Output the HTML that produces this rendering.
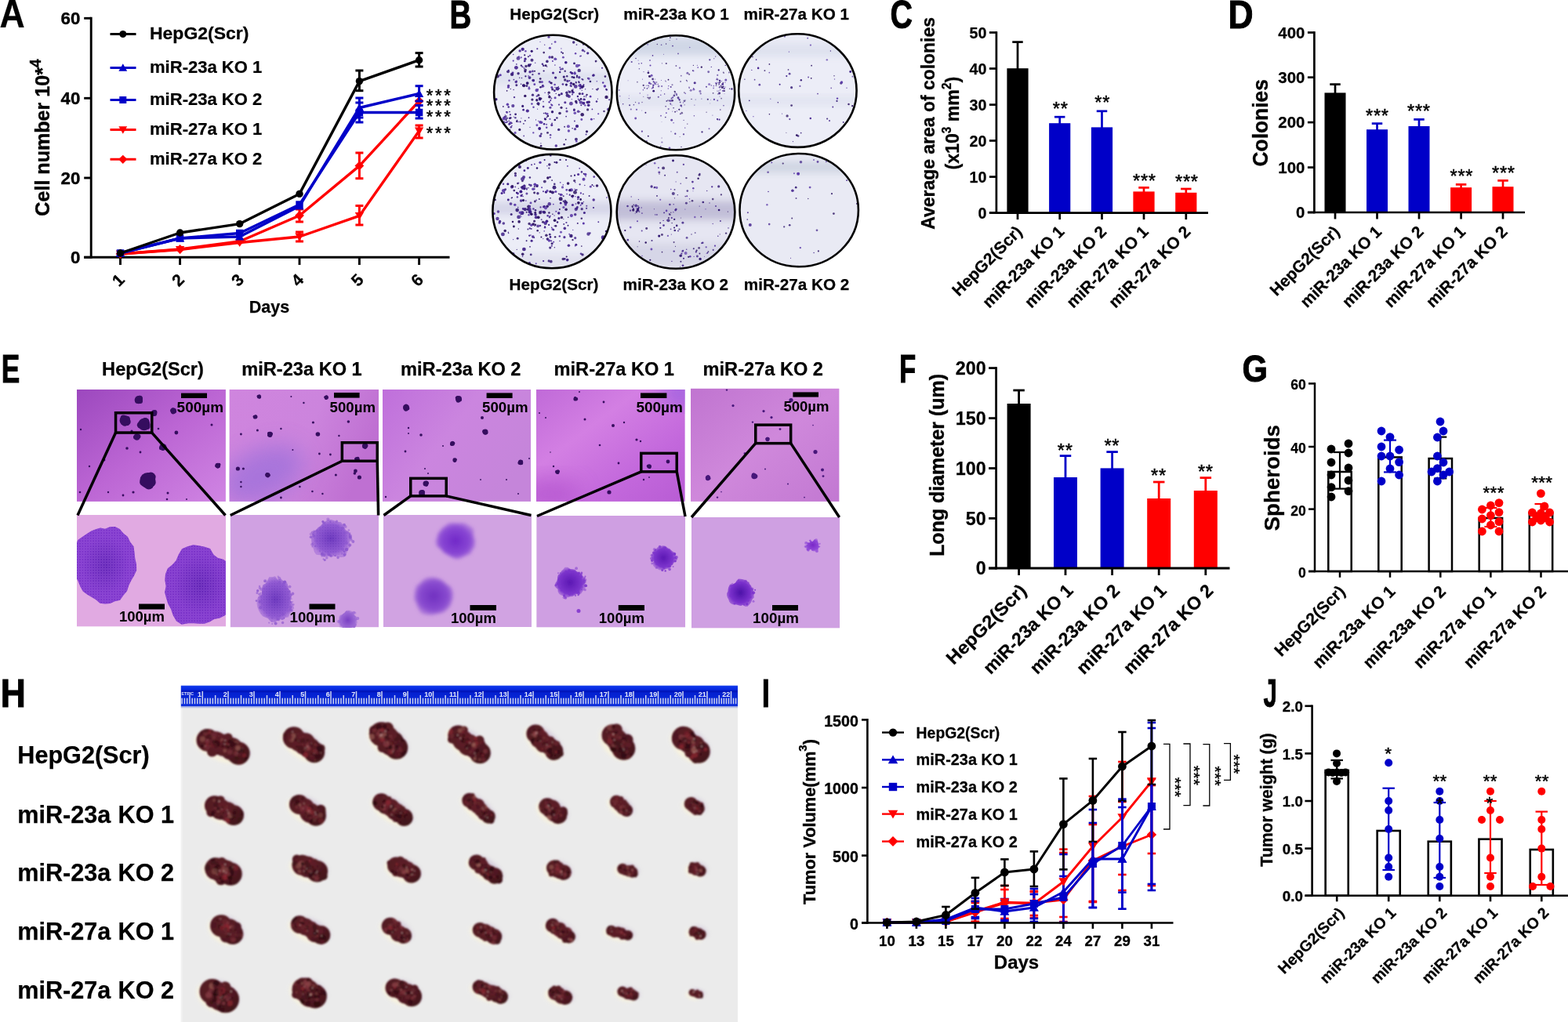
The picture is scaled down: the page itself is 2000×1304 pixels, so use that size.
<!DOCTYPE html>
<html lang="en"><head><meta charset="utf-8"><title>Figure</title>
<style>html,body{margin:0;padding:0;background:#fff}body{width:2000px;height:1304px;overflow:hidden}svg{display:block}text{font-family:"Liberation Sans",sans-serif}</style></head><body>
<svg width="2000" height="1304" viewBox="0 0 2000 1304">
<rect width="2000" height="1304" fill="#fff"/>
<g id="panelA">
<text x="-0.50" y="35.20" font-size="49.50" font-weight="bold" text-anchor="start" fill="#000" transform="translate(-0.50 0) scale(0.9000 1) translate(0.50 0)" stroke="#000" stroke-width="0.25">A</text>
<line x1="116.20" y1="21.85" x2="116.20" y2="329.75" stroke="#000" stroke-width="2.9" stroke-linecap="butt"/>
<line x1="107.20" y1="328.30" x2="573.50" y2="328.30" stroke="#000" stroke-width="2.9" stroke-linecap="butt"/>
<line x1="107.20" y1="23.30" x2="116.20" y2="23.30" stroke="#000" stroke-width="2.9" stroke-linecap="butt"/>
<text x="102.30" y="31.30" font-size="22.30" font-weight="bold" text-anchor="end" fill="#000" stroke="#000" stroke-width="0.4">60</text>
<line x1="107.20" y1="125.30" x2="116.20" y2="125.30" stroke="#000" stroke-width="2.9" stroke-linecap="butt"/>
<text x="102.30" y="133.30" font-size="22.30" font-weight="bold" text-anchor="end" fill="#000" stroke="#000" stroke-width="0.4">40</text>
<line x1="107.20" y1="227.00" x2="116.20" y2="227.00" stroke="#000" stroke-width="2.9" stroke-linecap="butt"/>
<text x="102.30" y="235.00" font-size="22.30" font-weight="bold" text-anchor="end" fill="#000" stroke="#000" stroke-width="0.4">20</text>
<line x1="107.20" y1="328.30" x2="116.20" y2="328.30" stroke="#000" stroke-width="2.9" stroke-linecap="butt"/>
<text x="102.30" y="336.30" font-size="22.30" font-weight="bold" text-anchor="end" fill="#000" stroke="#000" stroke-width="0.4">0</text>
<line x1="153.50" y1="328.30" x2="153.50" y2="338.00" stroke="#000" stroke-width="2.9" stroke-linecap="butt"/>
<text x="156.00" y="362.50" font-size="21.30" font-weight="bold" text-anchor="middle" fill="#000" transform="rotate(-45 156.00 362.50)" stroke="#000" stroke-width="0.25">1</text>
<line x1="229.60" y1="328.30" x2="229.60" y2="338.00" stroke="#000" stroke-width="2.9" stroke-linecap="butt"/>
<text x="232.10" y="362.50" font-size="21.30" font-weight="bold" text-anchor="middle" fill="#000" transform="rotate(-45 232.10 362.50)" stroke="#000" stroke-width="0.25">2</text>
<line x1="305.70" y1="328.30" x2="305.70" y2="338.00" stroke="#000" stroke-width="2.9" stroke-linecap="butt"/>
<text x="308.20" y="362.50" font-size="21.30" font-weight="bold" text-anchor="middle" fill="#000" transform="rotate(-45 308.20 362.50)" stroke="#000" stroke-width="0.25">3</text>
<line x1="382.00" y1="328.30" x2="382.00" y2="338.00" stroke="#000" stroke-width="2.9" stroke-linecap="butt"/>
<text x="384.50" y="362.50" font-size="21.30" font-weight="bold" text-anchor="middle" fill="#000" transform="rotate(-45 384.50 362.50)" stroke="#000" stroke-width="0.25">4</text>
<line x1="458.40" y1="328.30" x2="458.40" y2="338.00" stroke="#000" stroke-width="2.9" stroke-linecap="butt"/>
<text x="460.90" y="362.50" font-size="21.30" font-weight="bold" text-anchor="middle" fill="#000" transform="rotate(-45 460.90 362.50)" stroke="#000" stroke-width="0.25">5</text>
<line x1="534.60" y1="328.30" x2="534.60" y2="338.00" stroke="#000" stroke-width="2.9" stroke-linecap="butt"/>
<text x="537.10" y="362.50" font-size="21.30" font-weight="bold" text-anchor="middle" fill="#000" transform="rotate(-45 537.10 362.50)" stroke="#000" stroke-width="0.25">6</text>
<text x="343.50" y="399.00" font-size="21.50" font-weight="bold" text-anchor="middle" fill="#000" stroke="#000" stroke-width="0.25">Days</text>
<text transform="translate(63.00 175.50) rotate(-90) scale(0.9615 1)" font-size="26.10" font-weight="bold" text-anchor="middle" stroke="#000" stroke-width="0.4">Cell number 10*<tspan dy="-10.6" font-size="20.00">4</tspan></text>
<line x1="140.50" y1="43.50" x2="173.50" y2="43.50" stroke="#000" stroke-width="3" stroke-linecap="butt"/>
<circle cx="156.80" cy="43.50" r="4.50" fill="#000"/>
<text x="191.00" y="50.10" font-size="22.50" font-weight="bold" text-anchor="start" fill="#000" transform="translate(191.00 0) scale(1.0220 1) translate(-191.00 0)" stroke="#000" stroke-width="0.25">HepG2(Scr)</text>
<line x1="140.50" y1="86.50" x2="173.50" y2="86.50" stroke="#0000C8" stroke-width="3" stroke-linecap="butt"/>
<polygon points="156.80,81.33 162.20,90.78 151.40,90.78" fill="#0000C8"/>
<text x="191.00" y="93.10" font-size="22.50" font-weight="bold" text-anchor="start" fill="#000" transform="translate(191.00 0) scale(0.9800 1) translate(-191.00 0)" stroke="#000" stroke-width="0.25">miR-23a KO 1</text>
<line x1="140.50" y1="127.50" x2="173.50" y2="127.50" stroke="#0000C8" stroke-width="3" stroke-linecap="butt"/>
<rect x="152.30" y="123.00" width="9.00" height="9.00" fill="#0000C8"/>
<text x="191.00" y="134.10" font-size="22.50" font-weight="bold" text-anchor="start" fill="#000" transform="translate(191.00 0) scale(0.9800 1) translate(-191.00 0)" stroke="#000" stroke-width="0.25">miR-23a KO 2</text>
<line x1="140.50" y1="165.50" x2="173.50" y2="165.50" stroke="#FF0000" stroke-width="3" stroke-linecap="butt"/>
<polygon points="156.80,170.68 162.20,161.22 151.40,161.22" fill="#FF0000"/>
<text x="191.00" y="172.10" font-size="22.50" font-weight="bold" text-anchor="start" fill="#000" transform="translate(191.00 0) scale(0.9800 1) translate(-191.00 0)" stroke="#000" stroke-width="0.25">miR-27a KO 1</text>
<line x1="140.50" y1="203.30" x2="173.50" y2="203.30" stroke="#FF0000" stroke-width="3" stroke-linecap="butt"/>
<polygon points="156.80,197.68 162.43,203.30 156.80,208.93 151.18,203.30" fill="#FF0000"/>
<text x="191.00" y="209.90" font-size="22.50" font-weight="bold" text-anchor="start" fill="#000" transform="translate(191.00 0) scale(0.9800 1) translate(-191.00 0)" stroke="#000" stroke-width="0.25">miR-27a KO 2</text>
<line x1="382.00" y1="296.00" x2="382.00" y2="308.00" stroke="#FF0000" stroke-width="3" stroke-linecap="butt"/>
<line x1="377.00" y1="296.00" x2="387.00" y2="296.00" stroke="#FF0000" stroke-width="3" stroke-linecap="butt"/>
<line x1="377.00" y1="308.00" x2="387.00" y2="308.00" stroke="#FF0000" stroke-width="3" stroke-linecap="butt"/>
<line x1="458.40" y1="262.50" x2="458.40" y2="287.00" stroke="#FF0000" stroke-width="3" stroke-linecap="butt"/>
<line x1="453.40" y1="262.50" x2="463.40" y2="262.50" stroke="#FF0000" stroke-width="3" stroke-linecap="butt"/>
<line x1="453.40" y1="287.00" x2="463.40" y2="287.00" stroke="#FF0000" stroke-width="3" stroke-linecap="butt"/>
<line x1="534.60" y1="160.00" x2="534.60" y2="176.00" stroke="#FF0000" stroke-width="3" stroke-linecap="butt"/>
<line x1="529.60" y1="160.00" x2="539.60" y2="160.00" stroke="#FF0000" stroke-width="3" stroke-linecap="butt"/>
<line x1="529.60" y1="176.00" x2="539.60" y2="176.00" stroke="#FF0000" stroke-width="3" stroke-linecap="butt"/>
<polyline points="153.50,324.00 229.60,318.50 305.70,309.50 382.00,302.00 458.40,275.40 534.60,167.00" fill="none" stroke="#FF0000" stroke-width="3.4" stroke-linejoin="round"/>
<polygon points="153.50,329.40 159.14,319.54 147.86,319.54" fill="#FF0000"/>
<polygon points="229.60,323.90 235.24,314.04 223.96,314.04" fill="#FF0000"/>
<polygon points="305.70,314.90 311.34,305.04 300.06,305.04" fill="#FF0000"/>
<polygon points="382.00,307.40 387.64,297.54 376.36,297.54" fill="#FF0000"/>
<polygon points="458.40,280.80 464.04,270.94 452.76,270.94" fill="#FF0000"/>
<polygon points="534.60,172.41 540.24,162.53 528.96,162.53" fill="#FF0000"/>
<line x1="382.00" y1="267.00" x2="382.00" y2="283.00" stroke="#FF0000" stroke-width="3" stroke-linecap="butt"/>
<line x1="377.00" y1="267.00" x2="387.00" y2="267.00" stroke="#FF0000" stroke-width="3" stroke-linecap="butt"/>
<line x1="377.00" y1="283.00" x2="387.00" y2="283.00" stroke="#FF0000" stroke-width="3" stroke-linecap="butt"/>
<line x1="458.40" y1="195.00" x2="458.40" y2="227.70" stroke="#FF0000" stroke-width="3" stroke-linecap="butt"/>
<line x1="453.40" y1="195.00" x2="463.40" y2="195.00" stroke="#FF0000" stroke-width="3" stroke-linecap="butt"/>
<line x1="453.40" y1="227.70" x2="463.40" y2="227.70" stroke="#FF0000" stroke-width="3" stroke-linecap="butt"/>
<polyline points="153.50,324.00 229.60,318.00 305.70,308.00 382.00,275.00 458.40,211.60 534.60,129.00" fill="none" stroke="#FF0000" stroke-width="3.4" stroke-linejoin="round"/>
<polygon points="153.50,318.12 159.38,324.00 153.50,329.88 147.62,324.00" fill="#FF0000"/>
<polygon points="229.60,312.12 235.47,318.00 229.60,323.88 223.72,318.00" fill="#FF0000"/>
<polygon points="305.70,302.12 311.57,308.00 305.70,313.88 299.82,308.00" fill="#FF0000"/>
<polygon points="382.00,269.12 387.88,275.00 382.00,280.88 376.12,275.00" fill="#FF0000"/>
<polygon points="458.40,205.72 464.27,211.60 458.40,217.47 452.52,211.60" fill="#FF0000"/>
<polygon points="534.60,123.12 540.48,129.00 534.60,134.88 528.73,129.00" fill="#FF0000"/>
<line x1="458.40" y1="125.00" x2="458.40" y2="150.00" stroke="#0000C8" stroke-width="3" stroke-linecap="butt"/>
<line x1="453.40" y1="125.00" x2="463.40" y2="125.00" stroke="#0000C8" stroke-width="3" stroke-linecap="butt"/>
<line x1="453.40" y1="150.00" x2="463.40" y2="150.00" stroke="#0000C8" stroke-width="3" stroke-linecap="butt"/>
<line x1="534.60" y1="109.70" x2="534.60" y2="129.00" stroke="#0000C8" stroke-width="3" stroke-linecap="butt"/>
<line x1="529.60" y1="109.70" x2="539.60" y2="109.70" stroke="#0000C8" stroke-width="3" stroke-linecap="butt"/>
<line x1="529.60" y1="129.00" x2="539.60" y2="129.00" stroke="#0000C8" stroke-width="3" stroke-linecap="butt"/>
<polyline points="153.50,323.00 229.60,304.00 305.70,302.00 382.00,263.00 458.40,137.50 534.60,119.50" fill="none" stroke="#0000C8" stroke-width="3.4" stroke-linejoin="round"/>
<polygon points="153.50,317.60 159.14,327.46 147.86,327.46" fill="#0000C8"/>
<polygon points="229.60,298.60 235.24,308.46 223.96,308.46" fill="#0000C8"/>
<polygon points="305.70,296.60 311.34,306.46 300.06,306.46" fill="#0000C8"/>
<polygon points="382.00,257.60 387.64,267.46 376.36,267.46" fill="#0000C8"/>
<polygon points="458.40,132.09 464.04,141.97 452.76,141.97" fill="#0000C8"/>
<polygon points="534.60,114.09 540.24,123.97 528.96,123.97" fill="#0000C8"/>
<line x1="458.40" y1="131.00" x2="458.40" y2="156.00" stroke="#0000C8" stroke-width="3" stroke-linecap="butt"/>
<line x1="453.40" y1="131.00" x2="463.40" y2="131.00" stroke="#0000C8" stroke-width="3" stroke-linecap="butt"/>
<line x1="453.40" y1="156.00" x2="463.40" y2="156.00" stroke="#0000C8" stroke-width="3" stroke-linecap="butt"/>
<line x1="534.60" y1="134.50" x2="534.60" y2="151.00" stroke="#0000C8" stroke-width="3" stroke-linecap="butt"/>
<line x1="529.60" y1="134.50" x2="539.60" y2="134.50" stroke="#0000C8" stroke-width="3" stroke-linecap="butt"/>
<line x1="529.60" y1="151.00" x2="539.60" y2="151.00" stroke="#0000C8" stroke-width="3" stroke-linecap="butt"/>
<polyline points="153.50,323.00 229.60,304.00 305.70,297.50 382.00,261.00 458.40,143.50 534.60,143.50" fill="none" stroke="#0000C8" stroke-width="3.4" stroke-linejoin="round"/>
<rect x="148.80" y="318.30" width="9.40" height="9.40" fill="#0000C8"/>
<rect x="224.90" y="299.30" width="9.40" height="9.40" fill="#0000C8"/>
<rect x="301.00" y="292.80" width="9.40" height="9.40" fill="#0000C8"/>
<rect x="377.30" y="256.30" width="9.40" height="9.40" fill="#0000C8"/>
<rect x="453.70" y="138.80" width="9.40" height="9.40" fill="#0000C8"/>
<rect x="529.90" y="138.80" width="9.40" height="9.40" fill="#0000C8"/>
<line x1="458.40" y1="90.00" x2="458.40" y2="115.70" stroke="#000" stroke-width="3" stroke-linecap="butt"/>
<line x1="453.40" y1="90.00" x2="463.40" y2="90.00" stroke="#000" stroke-width="3" stroke-linecap="butt"/>
<line x1="453.40" y1="115.70" x2="463.40" y2="115.70" stroke="#000" stroke-width="3" stroke-linecap="butt"/>
<line x1="534.60" y1="67.60" x2="534.60" y2="85.00" stroke="#000" stroke-width="3" stroke-linecap="butt"/>
<line x1="529.60" y1="67.60" x2="539.60" y2="67.60" stroke="#000" stroke-width="3" stroke-linecap="butt"/>
<line x1="529.60" y1="85.00" x2="539.60" y2="85.00" stroke="#000" stroke-width="3" stroke-linecap="butt"/>
<polyline points="153.50,323.00 229.60,297.00 305.70,285.60 382.00,247.40 458.40,103.60 534.60,76.70" fill="none" stroke="#000" stroke-width="3.4" stroke-linejoin="round"/>
<circle cx="153.50" cy="323.00" r="4.70" fill="#000"/>
<circle cx="229.60" cy="297.00" r="4.70" fill="#000"/>
<circle cx="305.70" cy="285.60" r="4.70" fill="#000"/>
<circle cx="382.00" cy="247.40" r="4.70" fill="#000"/>
<circle cx="458.40" cy="103.60" r="4.70" fill="#000"/>
<circle cx="534.60" cy="76.70" r="4.70" fill="#000"/>
<text x="560.60" y="129.13" font-size="22.00" font-weight="normal" text-anchor="middle" fill="#000" stroke="#000" stroke-width="0.45" letter-spacing="2.6">***</text>
<text x="560.60" y="142.13" font-size="22.00" font-weight="normal" text-anchor="middle" fill="#000" stroke="#000" stroke-width="0.45" letter-spacing="2.6">***</text>
<text x="560.60" y="155.93" font-size="22.00" font-weight="normal" text-anchor="middle" fill="#000" stroke="#000" stroke-width="0.45" letter-spacing="2.6">***</text>
<text x="560.60" y="177.33" font-size="22.00" font-weight="normal" text-anchor="middle" fill="#000" stroke="#000" stroke-width="0.45" letter-spacing="2.6">***</text>
</g>
<g id="panelB">
<defs><filter id="blur6" x="-20%" y="-50%" width="140%" height="200%"><feGaussianBlur stdDeviation="5"/></filter></defs>
<text x="573.50" y="35.50" font-size="50.50" font-weight="bold" text-anchor="start" fill="#000" transform="translate(573.50 0) scale(0.7600 1) translate(-573.50 0)" stroke="#000" stroke-width="1">B</text>
<text x="707.20" y="25.00" font-size="20.70" font-weight="bold" text-anchor="middle" fill="#000" stroke="#000" stroke-width="0.25">HepG2(Scr)</text>
<text x="862.60" y="25.00" font-size="20.70" font-weight="bold" text-anchor="middle" fill="#000" stroke="#000" stroke-width="0.25">miR-23a KO 1</text>
<text x="1015.80" y="25.00" font-size="20.70" font-weight="bold" text-anchor="middle" fill="#000" stroke="#000" stroke-width="0.25">miR-27a KO 1</text>
<text x="706.50" y="370.20" font-size="20.70" font-weight="bold" text-anchor="middle" fill="#000" stroke="#000" stroke-width="0.25">HepG2(Scr)</text>
<text x="861.80" y="370.20" font-size="20.70" font-weight="bold" text-anchor="middle" fill="#000" stroke="#000" stroke-width="0.25">miR-23a KO 2</text>
<text x="1016.00" y="370.20" font-size="20.70" font-weight="bold" text-anchor="middle" fill="#000" stroke="#000" stroke-width="0.25">miR-27a KO 2</text>
<clipPath id="pc1"><ellipse cx="705.30" cy="117.70" rx="76.50" ry="74.20"/></clipPath>
<g clip-path="url(#pc1)">
<ellipse cx="705.30" cy="117.70" rx="76.50" ry="74.20" fill="#ECEDF7"/>
<rect x="618.80" y="92.70" width="173.00" height="14.00" fill="#DADDEC" opacity="0.8" filter="url(#blur6)"/>
<circle cx="670.4" cy="97.3" r="1.14" fill="#2E1470" opacity="0.96"/><circle cx="683.5" cy="152.9" r="0.60" fill="#3B1D85" opacity="0.94"/><circle cx="739.8" cy="142.7" r="0.63" fill="#2A1060" opacity="0.80"/><circle cx="769.2" cy="105.5" r="1.23" fill="#5A38A8" opacity="0.99"/><circle cx="680.4" cy="102.7" r="1.74" fill="#5A38A8" opacity="0.88"/><circle cx="754.4" cy="152.3" r="1.47" fill="#5A38A8" opacity="0.95"/><circle cx="643.8" cy="149.5" r="1.40" fill="#2A1060" opacity="0.92"/><circle cx="646.6" cy="115.8" r="0.87" fill="#2A1060" opacity="0.96"/><circle cx="657.1" cy="169.4" r="1.53" fill="#5A38A8" opacity="0.82"/><circle cx="674.9" cy="113.0" r="1.60" fill="#5A38A8" opacity="0.81"/><circle cx="680.5" cy="136.7" r="1.20" fill="#5A38A8" opacity="0.95"/><circle cx="658.9" cy="103.6" r="1.01" fill="#46258F" opacity="0.87"/><circle cx="654.7" cy="77.6" r="1.06" fill="#5A38A8" opacity="0.99"/><circle cx="648.4" cy="111.2" r="1.50" fill="#5A38A8" opacity="0.97"/><circle cx="751.1" cy="100.4" r="1.58" fill="#5A38A8" opacity="0.80"/><circle cx="665.9" cy="85.1" r="0.86" fill="#5A38A8" opacity="0.84"/><circle cx="678.2" cy="65.3" r="1.58" fill="#2E1470" opacity="0.97"/><circle cx="648.8" cy="89.7" r="0.94" fill="#3B1D85" opacity="0.96"/><circle cx="676.1" cy="91.7" r="1.74" fill="#46258F" opacity="0.93"/><circle cx="726.4" cy="103.0" r="0.97" fill="#46258F" opacity="0.96"/><circle cx="646.5" cy="150.8" r="1.33" fill="#2E1470" opacity="0.80"/><circle cx="669.3" cy="77.9" r="1.45" fill="#3B1D85" opacity="0.91"/><circle cx="661.9" cy="72.4" r="1.14" fill="#5A38A8" opacity="0.81"/><circle cx="678.5" cy="76.8" r="2.00" fill="#2E1470" opacity="0.84"/><circle cx="658.8" cy="108.8" r="1.49" fill="#2E1470" opacity="0.85"/><circle cx="740.0" cy="71.7" r="0.86" fill="#5A38A8" opacity="0.89"/><circle cx="698.9" cy="148.0" r="1.29" fill="#2A1060" opacity="0.92"/><circle cx="644.8" cy="156.7" r="0.62" fill="#46258F" opacity="0.88"/><circle cx="723.9" cy="103.4" r="1.72" fill="#46258F" opacity="0.89"/><circle cx="744.0" cy="56.7" r="1.01" fill="#2A1060" opacity="0.94"/><circle cx="686.2" cy="113.9" r="0.88" fill="#5A38A8" opacity="0.83"/><circle cx="714.3" cy="86.1" r="1.04" fill="#5A38A8" opacity="0.86"/><circle cx="693.7" cy="67.1" r="1.30" fill="#2A1060" opacity="0.86"/><circle cx="707.6" cy="108.0" r="1.34" fill="#5A38A8" opacity="0.88"/><circle cx="637.0" cy="88.5" r="1.04" fill="#2E1470" opacity="0.91"/><circle cx="734.8" cy="105.7" r="0.95" fill="#2A1060" opacity="0.80"/><circle cx="680.1" cy="102.4" r="1.76" fill="#3B1D85" opacity="0.89"/><circle cx="638.2" cy="95.7" r="1.57" fill="#5A38A8" opacity="0.96"/><circle cx="695.2" cy="151.6" r="1.32" fill="#46258F" opacity="0.96"/><circle cx="684.9" cy="159.7" r="1.46" fill="#5A38A8" opacity="0.86"/><circle cx="732.4" cy="139.9" r="1.34" fill="#2A1060" opacity="0.91"/><circle cx="702.1" cy="172.2" r="1.31" fill="#46258F" opacity="0.82"/><circle cx="707.8" cy="153.0" r="1.36" fill="#2E1470" opacity="0.99"/><circle cx="736.1" cy="84.0" r="2.30" fill="#5A38A8" opacity="0.82"/><circle cx="674.1" cy="96.9" r="0.84" fill="#5A38A8" opacity="0.81"/><circle cx="703.8" cy="106.9" r="0.61" fill="#2A1060" opacity="0.87"/><circle cx="736.0" cy="161.0" r="2.10" fill="#3B1D85" opacity="0.99"/><circle cx="740.1" cy="112.7" r="1.33" fill="#5A38A8" opacity="0.90"/><circle cx="729.4" cy="126.7" r="0.64" fill="#5A38A8" opacity="0.98"/><circle cx="703.8" cy="56.1" r="0.81" fill="#3B1D85" opacity="0.83"/><circle cx="664.7" cy="73.3" r="1.12" fill="#5A38A8" opacity="0.89"/><circle cx="700.6" cy="130.2" r="1.18" fill="#5A38A8" opacity="0.99"/><circle cx="649.2" cy="154.3" r="0.75" fill="#2A1060" opacity="0.97"/><circle cx="716.0" cy="137.3" r="1.60" fill="#2A1060" opacity="0.86"/><circle cx="682.0" cy="90.7" r="0.98" fill="#2A1060" opacity="0.99"/><circle cx="760.7" cy="114.1" r="0.93" fill="#2E1470" opacity="0.81"/><circle cx="676.9" cy="82.1" r="1.21" fill="#46258F" opacity="0.84"/><circle cx="732.5" cy="80.9" r="1.44" fill="#2E1470" opacity="0.92"/><circle cx="761.3" cy="103.8" r="0.81" fill="#5A38A8" opacity="0.84"/><circle cx="716.1" cy="66.6" r="1.07" fill="#3B1D85" opacity="0.88"/><circle cx="664.9" cy="83.6" r="1.22" fill="#2E1470" opacity="0.95"/><circle cx="748.5" cy="167.8" r="1.61" fill="#2A1060" opacity="0.94"/><circle cx="709.3" cy="186.0" r="1.73" fill="#46258F" opacity="0.88"/><circle cx="763.1" cy="112.9" r="0.74" fill="#2E1470" opacity="0.88"/><circle cx="697.2" cy="162.7" r="1.27" fill="#5A38A8" opacity="0.91"/><circle cx="657.4" cy="150.2" r="1.23" fill="#3B1D85" opacity="0.83"/><circle cx="744.4" cy="108.3" r="1.14" fill="#3B1D85" opacity="0.97"/><circle cx="693.6" cy="144.5" r="0.85" fill="#2E1470" opacity="0.84"/><circle cx="762.4" cy="126.2" r="0.62" fill="#3B1D85" opacity="0.93"/><circle cx="723.2" cy="97.2" r="1.20" fill="#2E1470" opacity="0.91"/><circle cx="645.6" cy="153.1" r="1.08" fill="#2A1060" opacity="0.94"/><circle cx="689.0" cy="155.9" r="1.79" fill="#5A38A8" opacity="0.94"/><circle cx="688.7" cy="126.7" r="1.72" fill="#3B1D85" opacity="1.00"/><circle cx="644.7" cy="149.7" r="0.60" fill="#2A1060" opacity="0.89"/><circle cx="730.7" cy="117.8" r="1.68" fill="#3B1D85" opacity="0.90"/><circle cx="669.2" cy="70.3" r="1.09" fill="#2A1060" opacity="0.93"/><circle cx="743.4" cy="64.2" r="1.58" fill="#46258F" opacity="0.87"/><circle cx="651.6" cy="150.2" r="0.96" fill="#3B1D85" opacity="0.85"/><circle cx="670.1" cy="89.3" r="1.77" fill="#2A1060" opacity="0.81"/><circle cx="742.2" cy="120.0" r="0.71" fill="#46258F" opacity="0.86"/><circle cx="699.3" cy="120.7" r="0.68" fill="#46258F" opacity="0.98"/><circle cx="743.1" cy="119.7" r="1.38" fill="#46258F" opacity="0.96"/><circle cx="652.9" cy="160.6" r="0.81" fill="#46258F" opacity="0.97"/><circle cx="702.0" cy="175.6" r="0.89" fill="#5A38A8" opacity="0.97"/><circle cx="704.0" cy="134.2" r="1.25" fill="#5A38A8" opacity="0.95"/><circle cx="662.8" cy="165.4" r="1.55" fill="#2A1060" opacity="0.96"/><circle cx="698.5" cy="169.4" r="1.46" fill="#2A1060" opacity="0.82"/><circle cx="674.9" cy="83.4" r="2.12" fill="#2E1470" opacity="0.95"/><circle cx="752.9" cy="104.0" r="1.34" fill="#2E1470" opacity="0.97"/><circle cx="722.1" cy="148.6" r="0.88" fill="#3B1D85" opacity="0.95"/><circle cx="717.4" cy="107.4" r="0.85" fill="#5A38A8" opacity="0.87"/><circle cx="704.7" cy="113.9" r="1.56" fill="#2A1060" opacity="0.86"/><circle cx="697.5" cy="149.6" r="0.79" fill="#2E1470" opacity="0.93"/><circle cx="718.1" cy="107.5" r="1.28" fill="#46258F" opacity="0.82"/><circle cx="723.7" cy="121.7" r="2.17" fill="#2E1470" opacity="0.85"/><circle cx="729.9" cy="115.8" r="1.49" fill="#2A1060" opacity="0.97"/><circle cx="651.1" cy="156.8" r="1.84" fill="#5A38A8" opacity="0.92"/><circle cx="688.4" cy="125.3" r="1.66" fill="#2A1060" opacity="0.87"/><circle cx="657.6" cy="145.8" r="1.39" fill="#2E1470" opacity="0.95"/><circle cx="688.8" cy="104.6" r="1.63" fill="#2E1470" opacity="0.81"/><circle cx="651.3" cy="113.5" r="0.72" fill="#2E1470" opacity="0.83"/><circle cx="728.5" cy="106.3" r="1.68" fill="#46258F" opacity="0.95"/><circle cx="734.7" cy="104.9" r="1.06" fill="#3B1D85" opacity="0.86"/><circle cx="704.0" cy="105.8" r="0.96" fill="#5A38A8" opacity="0.85"/><circle cx="720.7" cy="102.0" r="1.67" fill="#2A1060" opacity="0.83"/><circle cx="740.2" cy="108.5" r="1.44" fill="#46258F" opacity="0.98"/><circle cx="720.1" cy="161.7" r="0.99" fill="#2E1470" opacity="0.83"/><circle cx="644.0" cy="149.5" r="0.98" fill="#5A38A8" opacity="0.95"/><circle cx="749.3" cy="130.5" r="1.47" fill="#2A1060" opacity="0.91"/><circle cx="632.8" cy="126.7" r="1.71" fill="#2E1470" opacity="0.96"/><circle cx="714.2" cy="91.9" r="1.23" fill="#3B1D85" opacity="1.00"/><circle cx="704.3" cy="73.1" r="1.73" fill="#2A1060" opacity="0.88"/><circle cx="676.0" cy="162.3" r="0.63" fill="#3B1D85" opacity="0.84"/><circle cx="724.9" cy="161.3" r="1.99" fill="#5A38A8" opacity="0.82"/><circle cx="697.7" cy="85.0" r="0.68" fill="#2E1470" opacity="0.93"/><circle cx="719.6" cy="184.2" r="1.21" fill="#2A1060" opacity="0.92"/><circle cx="690.1" cy="186.2" r="1.32" fill="#2A1060" opacity="0.98"/><circle cx="705.5" cy="93.0" r="1.56" fill="#46258F" opacity="0.96"/><circle cx="670.4" cy="65.2" r="1.22" fill="#5A38A8" opacity="0.88"/><circle cx="692.1" cy="110.2" r="1.62" fill="#46258F" opacity="0.84"/><circle cx="670.0" cy="75.2" r="1.59" fill="#46258F" opacity="1.00"/><circle cx="649.5" cy="102.7" r="1.26" fill="#5A38A8" opacity="0.91"/><circle cx="644.4" cy="147.1" r="0.76" fill="#3B1D85" opacity="0.83"/><circle cx="693.3" cy="83.7" r="1.28" fill="#2E1470" opacity="0.88"/><circle cx="768.0" cy="86.8" r="1.06" fill="#46258F" opacity="0.96"/><circle cx="745.5" cy="65.6" r="1.07" fill="#3B1D85" opacity="0.90"/><circle cx="696.1" cy="83.7" r="1.41" fill="#2A1060" opacity="0.96"/><circle cx="741.3" cy="134.2" r="0.93" fill="#3B1D85" opacity="0.98"/><circle cx="728.4" cy="132.2" r="2.38" fill="#46258F" opacity="0.81"/><circle cx="653.1" cy="94.9" r="2.16" fill="#2E1470" opacity="0.92"/><circle cx="741.0" cy="126.4" r="1.38" fill="#2A1060" opacity="0.95"/><circle cx="734.9" cy="177.8" r="1.95" fill="#2E1470" opacity="0.84"/><circle cx="741.8" cy="152.5" r="1.42" fill="#5A38A8" opacity="0.88"/><circle cx="742.7" cy="146.2" r="2.28" fill="#2A1060" opacity="0.90"/><circle cx="756.8" cy="96.2" r="1.64" fill="#3B1D85" opacity="0.96"/><circle cx="654.7" cy="69.5" r="0.72" fill="#46258F" opacity="0.95"/><circle cx="744.1" cy="110.2" r="1.25" fill="#2E1470" opacity="0.95"/><circle cx="731.0" cy="113.9" r="0.78" fill="#5A38A8" opacity="0.88"/><circle cx="770.5" cy="142.0" r="1.21" fill="#2A1060" opacity="0.85"/><circle cx="701.5" cy="151.9" r="1.04" fill="#5A38A8" opacity="0.87"/><circle cx="701.4" cy="61.3" r="1.54" fill="#5A38A8" opacity="0.90"/><circle cx="663.1" cy="64.9" r="1.67" fill="#46258F" opacity="0.90"/><circle cx="692.4" cy="109.0" r="1.36" fill="#3B1D85" opacity="0.81"/><circle cx="710.4" cy="150.5" r="1.28" fill="#2E1470" opacity="0.88"/><circle cx="735.5" cy="57.1" r="0.86" fill="#46258F" opacity="0.86"/><circle cx="650.1" cy="150.9" r="1.34" fill="#3B1D85" opacity="0.85"/><circle cx="725.9" cy="123.0" r="1.98" fill="#46258F" opacity="0.86"/><circle cx="738.2" cy="104.4" r="1.08" fill="#3B1D85" opacity="0.93"/><circle cx="730.0" cy="120.5" r="0.99" fill="#3B1D85" opacity="0.87"/><circle cx="738.7" cy="83.3" r="1.41" fill="#5A38A8" opacity="0.91"/><circle cx="695.6" cy="152.3" r="1.30" fill="#2E1470" opacity="0.92"/><circle cx="712.3" cy="110.4" r="0.62" fill="#46258F" opacity="0.99"/><circle cx="693.8" cy="110.3" r="0.68" fill="#5A38A8" opacity="0.87"/><circle cx="694.7" cy="57.2" r="0.64" fill="#3B1D85" opacity="0.94"/><circle cx="755.4" cy="139.4" r="0.86" fill="#46258F" opacity="0.97"/><circle cx="744.1" cy="127.2" r="1.06" fill="#5A38A8" opacity="0.82"/><circle cx="721.8" cy="79.8" r="1.79" fill="#3B1D85" opacity="0.99"/><circle cx="747.5" cy="123.7" r="0.64" fill="#46258F" opacity="0.94"/><circle cx="655.3" cy="149.1" r="0.66" fill="#2E1470" opacity="0.81"/><circle cx="734.1" cy="68.2" r="1.24" fill="#5A38A8" opacity="0.91"/><circle cx="666.7" cy="62.8" r="2.14" fill="#3B1D85" opacity="0.96"/><circle cx="736.0" cy="97.5" r="0.65" fill="#46258F" opacity="0.88"/><circle cx="664.9" cy="150.8" r="0.67" fill="#46258F" opacity="0.88"/><circle cx="668.2" cy="173.4" r="0.89" fill="#46258F" opacity="0.83"/><circle cx="729.9" cy="98.3" r="1.37" fill="#2E1470" opacity="0.87"/><circle cx="777.1" cy="127.2" r="1.06" fill="#3B1D85" opacity="0.83"/><circle cx="742.2" cy="100.8" r="0.89" fill="#46258F" opacity="0.95"/><circle cx="650.9" cy="146.3" r="1.13" fill="#46258F" opacity="0.91"/><circle cx="732.9" cy="154.5" r="0.99" fill="#3B1D85" opacity="0.81"/><circle cx="689.5" cy="111.2" r="1.28" fill="#2E1470" opacity="0.99"/><circle cx="753.1" cy="123.2" r="1.36" fill="#5A38A8" opacity="0.98"/><circle cx="761.7" cy="114.8" r="0.90" fill="#3B1D85" opacity="0.83"/><circle cx="722.9" cy="118.2" r="1.71" fill="#2E1470" opacity="0.88"/><circle cx="697.9" cy="145.3" r="1.65" fill="#5A38A8" opacity="0.90"/><circle cx="668.2" cy="109.2" r="2.07" fill="#2A1060" opacity="0.93"/><circle cx="661.0" cy="74.4" r="2.39" fill="#46258F" opacity="0.80"/><circle cx="642.9" cy="156.1" r="1.78" fill="#5A38A8" opacity="0.86"/><circle cx="773.8" cy="114.4" r="1.26" fill="#3B1D85" opacity="0.94"/><circle cx="727.9" cy="109.4" r="1.28" fill="#5A38A8" opacity="0.96"/><circle cx="728.8" cy="109.9" r="0.91" fill="#2A1060" opacity="0.86"/><circle cx="713.5" cy="112.6" r="0.68" fill="#5A38A8" opacity="0.92"/><circle cx="671.9" cy="109.6" r="1.44" fill="#2E1470" opacity="0.93"/><circle cx="663.6" cy="155.4" r="1.06" fill="#3B1D85" opacity="0.92"/><circle cx="634.7" cy="97.2" r="2.19" fill="#2A1060" opacity="0.84"/><circle cx="703.3" cy="125.5" r="1.02" fill="#46258F" opacity="0.82"/><circle cx="714.0" cy="144.5" r="1.82" fill="#2A1060" opacity="0.87"/><circle cx="693.6" cy="90.5" r="1.07" fill="#2E1470" opacity="0.98"/><circle cx="693.0" cy="129.6" r="0.85" fill="#3B1D85" opacity="0.82"/><circle cx="650.5" cy="165.2" r="0.76" fill="#2E1470" opacity="0.85"/><circle cx="676.0" cy="70.9" r="1.18" fill="#5A38A8" opacity="0.83"/><circle cx="713.0" cy="133.6" r="1.11" fill="#3B1D85" opacity="0.82"/><circle cx="666.9" cy="85.3" r="0.86" fill="#46258F" opacity="0.91"/><circle cx="757.6" cy="151.7" r="0.65" fill="#3B1D85" opacity="0.89"/><circle cx="725.4" cy="167.0" r="1.66" fill="#5A38A8" opacity="0.87"/><circle cx="708.6" cy="99.1" r="1.69" fill="#3B1D85" opacity="0.97"/><circle cx="750.3" cy="60.6" r="1.16" fill="#5A38A8" opacity="0.81"/><circle cx="702.7" cy="105.8" r="1.38" fill="#2A1060" opacity="0.98"/><circle cx="776.3" cy="139.6" r="2.22" fill="#46258F" opacity="0.86"/><circle cx="658.4" cy="86.3" r="2.42" fill="#46258F" opacity="0.92"/><circle cx="746.6" cy="113.8" r="0.74" fill="#46258F" opacity="0.80"/><circle cx="732.1" cy="98.9" r="1.41" fill="#2E1470" opacity="0.98"/><circle cx="654.3" cy="135.1" r="2.12" fill="#46258F" opacity="0.83"/><circle cx="708.0" cy="111.4" r="0.73" fill="#46258F" opacity="0.90"/><circle cx="741.0" cy="71.3" r="0.87" fill="#46258F" opacity="0.93"/><circle cx="672.8" cy="141.5" r="2.08" fill="#46258F" opacity="0.94"/><circle cx="690.2" cy="125.7" r="1.24" fill="#2A1060" opacity="0.86"/><circle cx="737.6" cy="142.3" r="1.77" fill="#46258F" opacity="0.82"/><circle cx="736.0" cy="96.7" r="1.13" fill="#2E1470" opacity="0.95"/><circle cx="678.4" cy="132.6" r="1.27" fill="#5A38A8" opacity="0.94"/><circle cx="700.9" cy="123.8" r="1.77" fill="#2A1060" opacity="0.94"/><circle cx="661.1" cy="93.7" r="1.71" fill="#2E1470" opacity="0.87"/><circle cx="704.5" cy="142.8" r="1.70" fill="#2E1470" opacity="0.95"/><circle cx="725.1" cy="116.0" r="0.85" fill="#46258F" opacity="0.90"/><circle cx="661.0" cy="155.5" r="0.83" fill="#5A38A8" opacity="0.99"/><circle cx="690.7" cy="156.2" r="1.72" fill="#5A38A8" opacity="0.92"/><circle cx="646.7" cy="143.4" r="1.37" fill="#5A38A8" opacity="0.88"/><circle cx="771.9" cy="97.6" r="1.28" fill="#2A1060" opacity="0.90"/><circle cx="700.0" cy="47.3" r="1.52" fill="#46258F" opacity="0.83"/><circle cx="648.6" cy="109.2" r="1.57" fill="#46258F" opacity="0.85"/><circle cx="673.9" cy="72.2" r="1.03" fill="#2A1060" opacity="0.84"/><circle cx="685.3" cy="62.3" r="1.06" fill="#46258F" opacity="0.93"/><circle cx="738.7" cy="98.7" r="1.69" fill="#46258F" opacity="0.88"/><circle cx="755.9" cy="113.6" r="0.66" fill="#2E1470" opacity="0.87"/><circle cx="649.6" cy="158.4" r="1.36" fill="#3B1D85" opacity="0.93"/><circle cx="708.1" cy="53.5" r="1.37" fill="#5A38A8" opacity="0.88"/><circle cx="731.7" cy="53.9" r="1.73" fill="#2E1470" opacity="0.85"/><circle cx="679.4" cy="91.0" r="1.45" fill="#46258F" opacity="0.83"/><circle cx="707.4" cy="115.7" r="1.45" fill="#3B1D85" opacity="0.90"/><circle cx="722.4" cy="108.1" r="1.56" fill="#2E1470" opacity="0.99"/><circle cx="690.4" cy="170.7" r="1.26" fill="#2E1470" opacity="0.86"/><circle cx="732.3" cy="140.7" r="1.33" fill="#46258F" opacity="0.99"/><circle cx="726.8" cy="117.3" r="1.64" fill="#2E1470" opacity="0.86"/><circle cx="709.2" cy="119.4" r="0.67" fill="#2E1470" opacity="0.97"/><circle cx="658.8" cy="81.9" r="0.84" fill="#3B1D85" opacity="0.84"/><circle cx="736.9" cy="123.0" r="1.19" fill="#3B1D85" opacity="0.98"/><circle cx="700.9" cy="104.4" r="1.34" fill="#5A38A8" opacity="0.91"/><circle cx="707.9" cy="83.1" r="0.81" fill="#46258F" opacity="0.82"/><circle cx="747.6" cy="171.5" r="1.05" fill="#46258F" opacity="0.86"/><circle cx="648.0" cy="91.3" r="1.89" fill="#2E1470" opacity="0.84"/><circle cx="652.9" cy="157.1" r="0.90" fill="#2E1470" opacity="0.85"/><circle cx="709.4" cy="75.5" r="1.03" fill="#5A38A8" opacity="0.98"/><circle cx="645.7" cy="156.2" r="0.89" fill="#3B1D85" opacity="0.98"/><circle cx="720.8" cy="130.8" r="1.56" fill="#46258F" opacity="0.91"/><circle cx="669.8" cy="154.1" r="1.02" fill="#2E1470" opacity="0.89"/><circle cx="739.4" cy="119.6" r="1.65" fill="#2A1060" opacity="0.83"/><circle cx="723.0" cy="142.0" r="1.58" fill="#46258F" opacity="0.87"/><circle cx="694.1" cy="158.2" r="1.26" fill="#3B1D85" opacity="0.98"/><circle cx="735.3" cy="131.2" r="1.24" fill="#3B1D85" opacity="0.95"/><circle cx="701.1" cy="73.0" r="1.72" fill="#5A38A8" opacity="0.97"/><circle cx="682.7" cy="80.2" r="0.74" fill="#46258F" opacity="0.81"/><circle cx="689.0" cy="53.3" r="0.67" fill="#5A38A8" opacity="0.86"/><circle cx="733.2" cy="92.2" r="0.95" fill="#3B1D85" opacity="0.84"/><circle cx="747.5" cy="122.0" r="0.87" fill="#5A38A8" opacity="0.90"/><circle cx="749.7" cy="67.8" r="1.64" fill="#3B1D85" opacity="0.90"/><circle cx="739.0" cy="128.1" r="1.26" fill="#3B1D85" opacity="0.83"/><circle cx="695.7" cy="144.4" r="1.03" fill="#3B1D85" opacity="0.94"/><circle cx="646.0" cy="142.7" r="0.80" fill="#2E1470" opacity="0.97"/><circle cx="678.9" cy="127.1" r="1.62" fill="#2A1060" opacity="0.87"/><circle cx="718.4" cy="73.2" r="1.40" fill="#5A38A8" opacity="0.86"/><circle cx="728.3" cy="105.8" r="0.68" fill="#2E1470" opacity="0.97"/><circle cx="735.8" cy="98.5" r="0.91" fill="#2A1060" opacity="0.97"/><circle cx="665.5" cy="99.5" r="0.66" fill="#3B1D85" opacity="0.99"/><circle cx="650.0" cy="142.6" r="0.94" fill="#3B1D85" opacity="0.83"/><circle cx="688.2" cy="164.0" r="1.94" fill="#3B1D85" opacity="1.00"/><circle cx="742.4" cy="111.1" r="1.99" fill="#2E1470" opacity="0.95"/><circle cx="684.8" cy="127.7" r="1.70" fill="#2A1060" opacity="0.91"/><circle cx="686.5" cy="132.2" r="2.01" fill="#2E1470" opacity="0.92"/><circle cx="674.5" cy="150.2" r="0.88" fill="#2E1470" opacity="0.91"/><circle cx="734.2" cy="110.4" r="2.32" fill="#46258F" opacity="0.87"/><circle cx="730.1" cy="163.8" r="0.82" fill="#2E1470" opacity="0.98"/><circle cx="733.3" cy="144.3" r="1.79" fill="#5A38A8" opacity="0.84"/><circle cx="674.8" cy="111.4" r="1.15" fill="#5A38A8" opacity="0.83"/><circle cx="715.2" cy="88.6" r="1.27" fill="#46258F" opacity="0.80"/><circle cx="695.1" cy="118.3" r="0.81" fill="#5A38A8" opacity="0.89"/><circle cx="732.3" cy="117.9" r="0.72" fill="#3B1D85" opacity="0.89"/><circle cx="745.1" cy="123.2" r="0.83" fill="#2A1060" opacity="0.89"/><circle cx="733.2" cy="93.8" r="1.78" fill="#5A38A8" opacity="0.96"/><circle cx="667.9" cy="157.8" r="0.88" fill="#2E1470" opacity="0.89"/><circle cx="751.2" cy="130.2" r="1.64" fill="#2A1060" opacity="0.92"/><circle cx="750.7" cy="134.2" r="1.80" fill="#3B1D85" opacity="0.96"/><circle cx="687.5" cy="94.1" r="1.44" fill="#46258F" opacity="0.89"/><circle cx="749.9" cy="99.8" r="1.07" fill="#46258F" opacity="0.86"/><circle cx="651.8" cy="162.3" r="1.28" fill="#3B1D85" opacity="0.84"/><circle cx="749.3" cy="130.6" r="1.79" fill="#46258F" opacity="0.94"/><circle cx="680.3" cy="169.4" r="1.16" fill="#5A38A8" opacity="0.88"/><circle cx="733.5" cy="164.7" r="1.63" fill="#46258F" opacity="0.81"/><circle cx="708.0" cy="75.3" r="1.73" fill="#5A38A8" opacity="0.87"/><circle cx="729.7" cy="93.4" r="1.68" fill="#46258F" opacity="0.98"/><circle cx="667.6" cy="140.2" r="1.33" fill="#3B1D85" opacity="0.97"/><circle cx="740.9" cy="130.6" r="2.22" fill="#46258F" opacity="0.80"/><circle cx="701.9" cy="137.3" r="1.55" fill="#46258F" opacity="0.84"/><circle cx="689.2" cy="173.4" r="1.73" fill="#3B1D85" opacity="0.86"/><circle cx="711.0" cy="113.2" r="2.38" fill="#3B1D85" opacity="0.92"/><circle cx="717.5" cy="87.9" r="1.42" fill="#3B1D85" opacity="0.80"/><circle cx="642.9" cy="151.3" r="2.30" fill="#5A38A8" opacity="0.91"/><circle cx="721.7" cy="178.1" r="0.94" fill="#2A1060" opacity="1.00"/><circle cx="737.6" cy="126.5" r="0.89" fill="#46258F" opacity="0.96"/><circle cx="749.6" cy="139.9" r="1.58" fill="#2A1060" opacity="0.82"/><circle cx="691.9" cy="81.7" r="1.23" fill="#3B1D85" opacity="0.93"/><circle cx="757.5" cy="95.7" r="1.13" fill="#3B1D85" opacity="0.85"/><circle cx="647.4" cy="133.3" r="1.73" fill="#5A38A8" opacity="0.96"/><circle cx="702.2" cy="128.1" r="1.03" fill="#46258F" opacity="0.95"/><circle cx="715.9" cy="61.9" r="0.66" fill="#5A38A8" opacity="0.94"/><circle cx="655.4" cy="101.6" r="0.89" fill="#3B1D85" opacity="0.89"/><circle cx="685.6" cy="139.2" r="0.63" fill="#5A38A8" opacity="0.90"/><circle cx="687.2" cy="134.0" r="0.75" fill="#2A1060" opacity="0.94"/><circle cx="658.2" cy="104.5" r="1.69" fill="#46258F" opacity="0.90"/><circle cx="675.5" cy="99.1" r="1.94" fill="#3B1D85" opacity="0.87"/><circle cx="651.2" cy="150.7" r="1.12" fill="#2A1060" opacity="0.82"/><circle cx="654.0" cy="93.0" r="1.45" fill="#46258F" opacity="0.92"/><circle cx="669.8" cy="122.4" r="1.69" fill="#2A1060" opacity="0.95"/><circle cx="669.9" cy="91.1" r="1.45" fill="#3B1D85" opacity="0.92"/><circle cx="762.4" cy="113.7" r="1.08" fill="#2E1470" opacity="0.84"/><circle cx="655.1" cy="114.5" r="0.74" fill="#46258F" opacity="0.97"/><circle cx="664.6" cy="107.2" r="0.73" fill="#2E1470" opacity="1.00"/><circle cx="645.6" cy="148.3" r="1.05" fill="#3B1D85" opacity="0.80"/><circle cx="691.3" cy="104.6" r="1.56" fill="#5A38A8" opacity="0.85"/><circle cx="681.8" cy="107.7" r="1.42" fill="#5A38A8" opacity="0.93"/><circle cx="648.7" cy="136.5" r="1.24" fill="#3B1D85" opacity="0.94"/><circle cx="745.6" cy="126.9" r="1.27" fill="#3B1D85" opacity="0.96"/><circle cx="704.3" cy="111.6" r="1.02" fill="#46258F" opacity="0.91"/><circle cx="689.9" cy="182.9" r="0.68" fill="#2E1470" opacity="0.81"/><circle cx="738.7" cy="89.9" r="2.17" fill="#2E1470" opacity="0.84"/><circle cx="771.4" cy="110.0" r="1.74" fill="#5A38A8" opacity="0.99"/><circle cx="773.1" cy="113.7" r="0.88" fill="#2A1060" opacity="0.87"/><circle cx="700.2" cy="118.2" r="1.67" fill="#2A1060" opacity="0.88"/><circle cx="759.6" cy="78.7" r="0.60" fill="#46258F" opacity="0.96"/><circle cx="760.1" cy="78.1" r="1.43" fill="#2A1060" opacity="0.81"/><circle cx="689.2" cy="100.5" r="1.37" fill="#2A1060" opacity="0.94"/><circle cx="739.0" cy="109.3" r="1.74" fill="#5A38A8" opacity="0.87"/><circle cx="671.0" cy="84.6" r="1.77" fill="#2A1060" opacity="0.80"/><circle cx="722.5" cy="138.2" r="0.95" fill="#3B1D85" opacity="0.93"/><circle cx="656.0" cy="124.1" r="1.21" fill="#3B1D85" opacity="0.87"/><circle cx="667.4" cy="108.8" r="1.41" fill="#2E1470" opacity="0.91"/><circle cx="641.8" cy="135.9" r="0.94" fill="#2A1060" opacity="0.88"/><circle cx="740.5" cy="110.0" r="1.27" fill="#3B1D85" opacity="0.96"/><circle cx="700.7" cy="121.9" r="0.70" fill="#2E1470" opacity="0.98"/><circle cx="668.5" cy="87.0" r="0.93" fill="#46258F" opacity="0.86"/><circle cx="684.7" cy="115.1" r="2.20" fill="#5A38A8" opacity="0.93"/><circle cx="744.3" cy="131.8" r="2.06" fill="#46258F" opacity="0.99"/><circle cx="686.7" cy="154.3" r="0.61" fill="#3B1D85" opacity="0.97"/><circle cx="703.8" cy="111.6" r="1.46" fill="#5A38A8" opacity="0.96"/><circle cx="703.0" cy="133.0" r="0.87" fill="#46258F" opacity="0.96"/><circle cx="697.9" cy="78.4" r="1.78" fill="#2E1470" opacity="0.87"/><circle cx="716.3" cy="119.7" r="1.59" fill="#3B1D85" opacity="0.92"/><circle cx="744.8" cy="126.1" r="0.97" fill="#46258F" opacity="0.86"/><circle cx="731.7" cy="107.5" r="1.65" fill="#2A1060" opacity="0.97"/><circle cx="662.7" cy="99.3" r="0.74" fill="#2E1470" opacity="0.82"/><circle cx="672.7" cy="106.1" r="1.89" fill="#2E1470" opacity="1.00"/><circle cx="720.7" cy="90.7" r="1.24" fill="#2E1470" opacity="0.84"/><circle cx="684.8" cy="122.8" r="1.22" fill="#5A38A8" opacity="0.88"/><circle cx="743.4" cy="101.6" r="1.08" fill="#2E1470" opacity="0.89"/><circle cx="693.1" cy="136.1" r="1.34" fill="#46258F" opacity="0.90"/><circle cx="713.2" cy="121.3" r="1.47" fill="#2E1470" opacity="0.97"/><circle cx="761.0" cy="129.6" r="1.26" fill="#3B1D85" opacity="0.92"/><circle cx="647.0" cy="155.4" r="1.22" fill="#5A38A8" opacity="0.85"/><circle cx="748.6" cy="120.9" r="1.15" fill="#2A1060" opacity="0.93"/><circle cx="773.5" cy="123.9" r="2.17" fill="#2A1060" opacity="0.92"/><circle cx="738.7" cy="105.3" r="1.16" fill="#2A1060" opacity="0.82"/><circle cx="746.3" cy="134.4" r="1.17" fill="#5A38A8" opacity="0.87"/><circle cx="697.1" cy="158.8" r="1.06" fill="#5A38A8" opacity="0.85"/><circle cx="735.3" cy="180.4" r="1.36" fill="#5A38A8" opacity="0.81"/><circle cx="708.1" cy="124.7" r="1.52" fill="#5A38A8" opacity="0.89"/><circle cx="728.0" cy="92.2" r="1.31" fill="#3B1D85" opacity="0.97"/><circle cx="666.7" cy="135.4" r="1.53" fill="#2E1470" opacity="0.95"/><circle cx="704.1" cy="157.4" r="0.85" fill="#3B1D85" opacity="0.93"/><circle cx="659.1" cy="155.1" r="1.08" fill="#2A1060" opacity="0.99"/><circle cx="719.3" cy="98.1" r="1.60" fill="#2E1470" opacity="0.93"/><circle cx="669.9" cy="91.2" r="1.17" fill="#2A1060" opacity="0.87"/><circle cx="659.5" cy="153.9" r="1.13" fill="#2E1470" opacity="0.84"/><circle cx="686.9" cy="121.4" r="1.58" fill="#2A1060" opacity="0.81"/><circle cx="717.9" cy="67.8" r="1.13" fill="#2A1060" opacity="0.92"/><circle cx="734.7" cy="129.4" r="1.72" fill="#2A1060" opacity="0.89"/><circle cx="703.8" cy="159.6" r="1.53" fill="#46258F" opacity="0.92"/><circle cx="704.9" cy="78.1" r="1.02" fill="#5A38A8" opacity="0.97"/><circle cx="679.5" cy="121.2" r="1.66" fill="#2E1470" opacity="0.85"/><circle cx="763.2" cy="145.2" r="1.07" fill="#5A38A8" opacity="0.95"/><circle cx="679.4" cy="95.1" r="1.17" fill="#2E1470" opacity="0.81"/><circle cx="742.2" cy="115.2" r="0.63" fill="#3B1D85" opacity="0.91"/><circle cx="712.7" cy="165.4" r="1.65" fill="#2E1470" opacity="0.88"/>
</g>
<ellipse cx="705.30" cy="117.70" rx="75.20" ry="72.90" fill="none" stroke="#000" stroke-width="2.6"/>
<clipPath id="pc2"><ellipse cx="862.00" cy="118.30" rx="76.50" ry="74.30"/></clipPath>
<g clip-path="url(#pc2)">
<ellipse cx="862.00" cy="118.30" rx="76.50" ry="74.30" fill="#ECEDF7"/>
<rect x="775.50" y="48.30" width="173.00" height="22.00" fill="#CCD4E4" opacity="0.9" filter="url(#blur6)"/>
<rect x="775.50" y="123.30" width="173.00" height="12.00" fill="#DDE0EE" opacity="0.8" filter="url(#blur6)"/>
<circle cx="879.2" cy="112.6" r="0.51" fill="#46258F" opacity="0.88"/><circle cx="819.5" cy="101.1" r="0.56" fill="#5A38A8" opacity="0.73"/><circle cx="812.9" cy="104.7" r="0.86" fill="#2A1060" opacity="0.56"/><circle cx="903.7" cy="91.8" r="1.44" fill="#3B1D85" opacity="0.63"/><circle cx="866.2" cy="139.5" r="0.70" fill="#2A1060" opacity="0.80"/><circle cx="854.9" cy="47.9" r="0.98" fill="#2A1060" opacity="0.71"/><circle cx="918.3" cy="102.8" r="0.82" fill="#5A38A8" opacity="0.97"/><circle cx="879.8" cy="60.4" r="0.77" fill="#5A38A8" opacity="0.71"/><circle cx="826.1" cy="121.2" r="0.68" fill="#5A38A8" opacity="0.62"/><circle cx="915.2" cy="128.2" r="0.94" fill="#5A38A8" opacity="0.78"/><circle cx="848.8" cy="149.6" r="0.81" fill="#2E1470" opacity="0.83"/><circle cx="858.2" cy="124.0" r="1.02" fill="#5A38A8" opacity="0.60"/><circle cx="856.7" cy="153.3" r="1.43" fill="#46258F" opacity="0.79"/><circle cx="835.2" cy="106.2" r="1.08" fill="#46258F" opacity="0.58"/><circle cx="906.5" cy="127.5" r="0.47" fill="#46258F" opacity="0.56"/><circle cx="830.1" cy="98.2" r="0.45" fill="#3B1D85" opacity="0.91"/><circle cx="909.6" cy="118.8" r="0.89" fill="#2A1060" opacity="0.68"/><circle cx="913.4" cy="107.6" r="0.48" fill="#5A38A8" opacity="0.73"/><circle cx="826.2" cy="124.3" r="0.91" fill="#2A1060" opacity="0.60"/><circle cx="914.2" cy="101.2" r="1.00" fill="#46258F" opacity="0.70"/><circle cx="915.3" cy="101.4" r="1.12" fill="#3B1D85" opacity="0.66"/><circle cx="862.8" cy="119.9" r="1.09" fill="#3B1D85" opacity="0.56"/><circle cx="921.1" cy="112.2" r="0.61" fill="#46258F" opacity="0.83"/><circle cx="918.0" cy="123.1" r="0.56" fill="#5A38A8" opacity="0.62"/><circle cx="863.4" cy="141.7" r="0.78" fill="#5A38A8" opacity="0.65"/><circle cx="808.4" cy="133.8" r="0.72" fill="#3B1D85" opacity="0.89"/><circle cx="812.0" cy="139.8" r="1.16" fill="#5A38A8" opacity="0.74"/><circle cx="916.7" cy="89.4" r="1.06" fill="#2E1470" opacity="0.98"/><circle cx="884.6" cy="112.9" r="0.71" fill="#2E1470" opacity="0.90"/><circle cx="918.8" cy="140.1" r="0.77" fill="#2E1470" opacity="0.83"/><circle cx="857.8" cy="142.1" r="0.60" fill="#46258F" opacity="0.60"/><circle cx="922.1" cy="116.1" r="1.07" fill="#5A38A8" opacity="0.61"/><circle cx="814.6" cy="61.9" r="1.26" fill="#2E1470" opacity="0.85"/><circle cx="816.3" cy="118.9" r="0.77" fill="#5A38A8" opacity="0.67"/><circle cx="849.6" cy="56.1" r="0.74" fill="#2A1060" opacity="0.86"/><circle cx="914.6" cy="105.5" r="0.94" fill="#5A38A8" opacity="0.59"/><circle cx="866.3" cy="139.8" r="1.01" fill="#2E1470" opacity="0.91"/><circle cx="852.7" cy="139.1" r="1.07" fill="#46258F" opacity="0.63"/><circle cx="923.9" cy="116.0" r="0.95" fill="#2A1060" opacity="0.95"/><circle cx="869.0" cy="187.4" r="0.70" fill="#2A1060" opacity="0.88"/><circle cx="879.0" cy="111.5" r="0.97" fill="#46258F" opacity="0.57"/><circle cx="917.9" cy="102.8" r="1.12" fill="#2E1470" opacity="0.89"/><circle cx="883.7" cy="90.1" r="0.88" fill="#2E1470" opacity="0.85"/><circle cx="914.4" cy="99.8" r="0.46" fill="#5A38A8" opacity="0.88"/><circle cx="835.4" cy="104.9" r="1.02" fill="#5A38A8" opacity="0.64"/><circle cx="802.3" cy="122.0" r="0.46" fill="#5A38A8" opacity="0.77"/><circle cx="828.1" cy="125.2" r="1.52" fill="#2A1060" opacity="0.55"/><circle cx="852.5" cy="101.7" r="0.86" fill="#2A1060" opacity="0.97"/><circle cx="921.2" cy="111.4" r="1.32" fill="#2A1060" opacity="0.89"/><circle cx="844.1" cy="110.1" r="1.14" fill="#46258F" opacity="0.62"/><circle cx="907.3" cy="109.0" r="0.83" fill="#46258F" opacity="0.75"/><circle cx="904.5" cy="164.2" r="0.95" fill="#46258F" opacity="0.67"/><circle cx="857.6" cy="128.3" r="1.40" fill="#2A1060" opacity="0.83"/><circle cx="879.1" cy="94.9" r="1.08" fill="#2A1060" opacity="0.57"/><circle cx="843.3" cy="115.7" r="0.53" fill="#46258F" opacity="0.90"/><circle cx="869.5" cy="136.2" r="0.57" fill="#3B1D85" opacity="0.68"/><circle cx="804.8" cy="139.5" r="1.10" fill="#3B1D85" opacity="0.59"/><circle cx="863.0" cy="50.0" r="0.78" fill="#46258F" opacity="0.61"/><circle cx="829.5" cy="83.5" r="1.03" fill="#5A38A8" opacity="0.95"/><circle cx="834.6" cy="51.0" r="0.97" fill="#46258F" opacity="0.94"/><circle cx="848.6" cy="103.1" r="0.67" fill="#46258F" opacity="0.67"/><circle cx="881.2" cy="115.3" r="1.52" fill="#46258F" opacity="0.56"/><circle cx="901.0" cy="110.7" r="0.98" fill="#3B1D85" opacity="0.79"/><circle cx="815.4" cy="87.7" r="0.78" fill="#3B1D85" opacity="0.71"/><circle cx="885.9" cy="134.1" r="0.59" fill="#46258F" opacity="0.74"/><circle cx="831.6" cy="112.7" r="0.88" fill="#5A38A8" opacity="0.72"/><circle cx="833.2" cy="109.6" r="0.76" fill="#5A38A8" opacity="0.69"/><circle cx="826.8" cy="173.7" r="0.88" fill="#2A1060" opacity="1.00"/><circle cx="790.7" cy="122.7" r="0.83" fill="#5A38A8" opacity="0.59"/><circle cx="814.9" cy="131.7" r="1.10" fill="#5A38A8" opacity="0.60"/><circle cx="840.1" cy="110.1" r="1.36" fill="#46258F" opacity="0.60"/><circle cx="887.2" cy="127.1" r="0.51" fill="#2E1470" opacity="0.84"/><circle cx="842.8" cy="121.3" r="0.74" fill="#5A38A8" opacity="0.86"/><circle cx="830.2" cy="106.9" r="1.02" fill="#3B1D85" opacity="0.79"/><circle cx="925.1" cy="111.0" r="0.62" fill="#5A38A8" opacity="0.91"/><circle cx="915.9" cy="120.0" r="0.73" fill="#3B1D85" opacity="0.79"/><circle cx="876.9" cy="93.3" r="1.51" fill="#46258F" opacity="0.64"/><circle cx="922.1" cy="115.6" r="0.89" fill="#46258F" opacity="0.59"/><circle cx="922.7" cy="110.4" r="0.94" fill="#2E1470" opacity="0.85"/><circle cx="862.4" cy="84.1" r="0.98" fill="#2E1470" opacity="0.61"/><circle cx="846.5" cy="69.3" r="0.48" fill="#3B1D85" opacity="0.92"/><circle cx="894.9" cy="126.1" r="0.53" fill="#3B1D85" opacity="0.79"/><circle cx="915.0" cy="152.0" r="1.06" fill="#3B1D85" opacity="0.98"/><circle cx="849.8" cy="81.0" r="1.08" fill="#2A1060" opacity="0.74"/><circle cx="902.8" cy="126.8" r="1.05" fill="#2E1470" opacity="0.88"/><circle cx="861.1" cy="142.7" r="0.87" fill="#2A1060" opacity="0.95"/><circle cx="838.3" cy="56.6" r="0.76" fill="#2A1060" opacity="0.71"/><circle cx="818.3" cy="80.8" r="0.76" fill="#46258F" opacity="0.93"/><circle cx="820.4" cy="114.8" r="0.78" fill="#5A38A8" opacity="0.84"/><circle cx="844.4" cy="80.8" r="0.60" fill="#2E1470" opacity="0.68"/><circle cx="865.0" cy="124.7" r="1.38" fill="#2E1470" opacity="0.76"/><circle cx="833.0" cy="111.5" r="0.99" fill="#2A1060" opacity="0.83"/><circle cx="829.0" cy="77.0" r="1.01" fill="#46258F" opacity="0.62"/><circle cx="884.6" cy="90.5" r="0.88" fill="#5A38A8" opacity="0.70"/><circle cx="825.4" cy="112.9" r="0.81" fill="#3B1D85" opacity="0.85"/><circle cx="854.2" cy="51.3" r="0.53" fill="#2A1060" opacity="0.73"/><circle cx="833.7" cy="116.2" r="1.38" fill="#2E1470" opacity="0.98"/><circle cx="914.9" cy="116.1" r="0.52" fill="#2A1060" opacity="0.78"/><circle cx="843.6" cy="57.2" r="0.82" fill="#3B1D85" opacity="0.77"/><circle cx="872.1" cy="153.4" r="0.65" fill="#2E1470" opacity="0.68"/><circle cx="801.1" cy="102.8" r="0.55" fill="#5A38A8" opacity="0.57"/><circle cx="788.7" cy="130.4" r="0.70" fill="#5A38A8" opacity="0.97"/><circle cx="849.9" cy="144.1" r="0.90" fill="#5A38A8" opacity="0.95"/><circle cx="871.5" cy="130.9" r="0.75" fill="#5A38A8" opacity="0.71"/><circle cx="875.7" cy="102.6" r="0.83" fill="#2A1060" opacity="0.75"/><circle cx="833.2" cy="109.1" r="0.87" fill="#3B1D85" opacity="0.92"/><circle cx="892.9" cy="116.4" r="1.49" fill="#46258F" opacity="0.58"/><circle cx="874.4" cy="127.7" r="0.52" fill="#46258F" opacity="0.59"/><circle cx="872.0" cy="171.3" r="1.15" fill="#3B1D85" opacity="0.74"/><circle cx="820.7" cy="108.9" r="1.13" fill="#2A1060" opacity="0.78"/><circle cx="805.7" cy="79.0" r="1.06" fill="#3B1D85" opacity="0.77"/><circle cx="885.4" cy="147.8" r="0.78" fill="#46258F" opacity="0.74"/><circle cx="829.4" cy="124.3" r="0.75" fill="#2E1470" opacity="0.71"/><circle cx="852.8" cy="109.7" r="0.66" fill="#5A38A8" opacity="0.99"/><circle cx="859.1" cy="156.8" r="0.78" fill="#5A38A8" opacity="0.78"/><circle cx="832.5" cy="70.9" r="0.82" fill="#46258F" opacity="0.98"/><circle cx="831.1" cy="96.3" r="1.51" fill="#5A38A8" opacity="0.82"/><circle cx="917.6" cy="152.6" r="1.03" fill="#46258F" opacity="0.97"/><circle cx="832.8" cy="107.7" r="0.61" fill="#2A1060" opacity="0.63"/><circle cx="930.6" cy="113.2" r="0.73" fill="#2A1060" opacity="0.81"/><circle cx="856.6" cy="125.4" r="0.99" fill="#2E1470" opacity="0.75"/><circle cx="859.1" cy="137.8" r="0.73" fill="#2E1470" opacity="0.97"/><circle cx="802.2" cy="125.6" r="0.61" fill="#46258F" opacity="0.82"/><circle cx="924.0" cy="119.8" r="0.46" fill="#5A38A8" opacity="0.84"/><circle cx="905.3" cy="76.3" r="1.15" fill="#3B1D85" opacity="0.83"/><circle cx="912.7" cy="105.9" r="0.78" fill="#5A38A8" opacity="0.78"/><circle cx="874.2" cy="119.3" r="0.78" fill="#5A38A8" opacity="0.92"/><circle cx="920.1" cy="125.6" r="0.86" fill="#2A1060" opacity="0.62"/><circle cx="858.0" cy="58.6" r="0.92" fill="#3B1D85" opacity="0.82"/><circle cx="811.0" cy="74.5" r="0.73" fill="#2E1470" opacity="0.87"/><circle cx="803.1" cy="134.3" r="0.97" fill="#2E1470" opacity="0.83"/><circle cx="866.7" cy="127.4" r="1.05" fill="#3B1D85" opacity="0.98"/><circle cx="924.9" cy="105.2" r="0.64" fill="#5A38A8" opacity="0.79"/><circle cx="842.7" cy="186.9" r="0.83" fill="#3B1D85" opacity="0.59"/><circle cx="857.0" cy="134.0" r="0.48" fill="#3B1D85" opacity="0.90"/><circle cx="889.4" cy="83.3" r="0.66" fill="#3B1D85" opacity="0.60"/><circle cx="837.1" cy="107.8" r="0.52" fill="#5A38A8" opacity="0.78"/><circle cx="849.4" cy="103.9" r="0.59" fill="#2E1470" opacity="0.56"/><circle cx="827.0" cy="92.7" r="1.32" fill="#2A1060" opacity="0.88"/><circle cx="820.8" cy="123.2" r="0.49" fill="#2E1470" opacity="0.98"/><circle cx="884.9" cy="114.2" r="1.41" fill="#5A38A8" opacity="0.69"/><circle cx="886.2" cy="105.7" r="1.55" fill="#3B1D85" opacity="0.88"/><circle cx="933.4" cy="113.5" r="1.24" fill="#2E1470" opacity="0.84"/><circle cx="824.9" cy="180.0" r="0.91" fill="#2E1470" opacity="0.63"/><circle cx="923.0" cy="134.7" r="0.71" fill="#3B1D85" opacity="0.89"/><circle cx="814.1" cy="77.0" r="0.54" fill="#5A38A8" opacity="0.81"/><circle cx="860.6" cy="116.8" r="1.08" fill="#2A1060" opacity="0.75"/><circle cx="855.5" cy="133.3" r="0.71" fill="#46258F" opacity="0.60"/><circle cx="827.1" cy="111.7" r="0.55" fill="#3B1D85" opacity="0.97"/><circle cx="857.5" cy="108.3" r="1.05" fill="#2E1470" opacity="0.55"/><circle cx="863.2" cy="121.2" r="1.01" fill="#3B1D85" opacity="0.69"/><circle cx="865.6" cy="126.0" r="1.13" fill="#5A38A8" opacity="0.69"/><circle cx="922.4" cy="105.3" r="0.66" fill="#2A1060" opacity="0.84"/><circle cx="913.5" cy="109.2" r="0.91" fill="#2A1060" opacity="0.55"/><circle cx="839.8" cy="123.8" r="1.04" fill="#46258F" opacity="0.76"/><circle cx="827.7" cy="109.7" r="0.82" fill="#5A38A8" opacity="0.61"/><circle cx="789.8" cy="114.9" r="0.76" fill="#3B1D85" opacity="0.92"/><circle cx="901.1" cy="143.2" r="0.58" fill="#2A1060" opacity="0.80"/><circle cx="907.3" cy="85.4" r="0.66" fill="#3B1D85" opacity="0.88"/><circle cx="915.2" cy="95.9" r="1.03" fill="#46258F" opacity="0.66"/><circle cx="895.5" cy="168.4" r="1.12" fill="#2E1470" opacity="0.87"/><circle cx="876.8" cy="158.1" r="0.65" fill="#2A1060" opacity="0.84"/><circle cx="923.6" cy="113.0" r="1.13" fill="#46258F" opacity="0.85"/><circle cx="873.1" cy="133.8" r="0.58" fill="#2A1060" opacity="0.77"/><circle cx="844.1" cy="176.0" r="0.57" fill="#2E1470" opacity="0.74"/><circle cx="852.3" cy="113.0" r="0.71" fill="#5A38A8" opacity="0.84"/><circle cx="929.8" cy="92.5" r="0.88" fill="#2E1470" opacity="0.60"/><circle cx="868.1" cy="104.1" r="0.99" fill="#2E1470" opacity="0.56"/><circle cx="893.7" cy="119.4" r="1.10" fill="#3B1D85" opacity="0.60"/><circle cx="832.8" cy="111.5" r="0.88" fill="#5A38A8" opacity="0.94"/><circle cx="828.3" cy="106.0" r="1.38" fill="#5A38A8" opacity="0.92"/><circle cx="936.8" cy="118.6" r="0.86" fill="#2E1470" opacity="0.68"/><circle cx="869.7" cy="144.2" r="1.35" fill="#2A1060" opacity="0.60"/><circle cx="873.8" cy="163.1" r="0.61" fill="#46258F" opacity="1.00"/><circle cx="844.4" cy="181.5" r="1.12" fill="#46258F" opacity="0.57"/><circle cx="916.1" cy="116.8" r="0.55" fill="#5A38A8" opacity="0.68"/><circle cx="925.8" cy="102.0" r="1.51" fill="#5A38A8" opacity="0.82"/><circle cx="882.0" cy="126.6" r="0.74" fill="#2A1060" opacity="0.72"/><circle cx="824.4" cy="109.2" r="0.69" fill="#5A38A8" opacity="0.61"/><circle cx="873.0" cy="128.8" r="1.39" fill="#2E1470" opacity="0.64"/><circle cx="923.4" cy="93.2" r="0.59" fill="#2E1470" opacity="0.56"/><circle cx="913.7" cy="107.0" r="0.89" fill="#2E1470" opacity="0.89"/><circle cx="833.6" cy="104.5" r="0.95" fill="#46258F" opacity="0.79"/><circle cx="832.6" cy="100.9" r="1.30" fill="#2E1470" opacity="0.86"/><circle cx="826.2" cy="56.8" r="1.01" fill="#5A38A8" opacity="0.56"/><circle cx="835.7" cy="101.1" r="0.50" fill="#2E1470" opacity="0.68"/><circle cx="862.0" cy="118.8" r="0.64" fill="#5A38A8" opacity="0.60"/><circle cx="894.8" cy="85.7" r="1.16" fill="#2A1060" opacity="0.94"/><circle cx="917.1" cy="105.5" r="1.02" fill="#3B1D85" opacity="0.74"/><circle cx="810.7" cy="151.0" r="1.42" fill="#5A38A8" opacity="0.85"/><circle cx="856.0" cy="167.8" r="0.66" fill="#3B1D85" opacity="0.74"/><circle cx="912.7" cy="72.1" r="0.57" fill="#2E1470" opacity="0.94"/><circle cx="822.0" cy="112.2" r="0.96" fill="#2E1470" opacity="0.61"/><circle cx="855.7" cy="110.9" r="0.95" fill="#3B1D85" opacity="0.93"/><circle cx="849.1" cy="135.8" r="0.75" fill="#2E1470" opacity="0.93"/><circle cx="839.2" cy="107.3" r="0.64" fill="#3B1D85" opacity="0.97"/><circle cx="910.7" cy="74.7" r="0.77" fill="#46258F" opacity="0.56"/><circle cx="833.6" cy="104.1" r="0.77" fill="#3B1D85" opacity="0.63"/><circle cx="826.7" cy="93.0" r="1.10" fill="#2E1470" opacity="0.88"/><circle cx="814.9" cy="81.3" r="0.73" fill="#3B1D85" opacity="0.82"/><circle cx="847.6" cy="119.9" r="0.69" fill="#3B1D85" opacity="0.95"/><circle cx="905.8" cy="131.9" r="0.46" fill="#3B1D85" opacity="0.73"/><circle cx="821.0" cy="91.6" r="0.68" fill="#46258F" opacity="0.66"/><circle cx="861.3" cy="170.7" r="1.09" fill="#3B1D85" opacity="0.88"/><circle cx="872.9" cy="118.1" r="0.87" fill="#2A1060" opacity="0.60"/><circle cx="922.0" cy="106.5" r="0.98" fill="#2E1470" opacity="0.66"/><circle cx="827.0" cy="90.5" r="0.60" fill="#5A38A8" opacity="0.95"/><circle cx="868.7" cy="134.8" r="1.29" fill="#3B1D85" opacity="0.85"/><circle cx="910.3" cy="109.7" r="0.83" fill="#5A38A8" opacity="0.70"/><circle cx="794.7" cy="132.8" r="0.69" fill="#3B1D85" opacity="0.96"/><circle cx="910.1" cy="112.4" r="0.86" fill="#5A38A8" opacity="0.73"/><circle cx="854.0" cy="189.0" r="1.38" fill="#5A38A8" opacity="0.77"/><circle cx="921.7" cy="107.6" r="1.39" fill="#46258F" opacity="0.92"/><circle cx="920.2" cy="103.5" r="0.62" fill="#46258F" opacity="0.91"/><circle cx="860.7" cy="119.3" r="0.58" fill="#3B1D85" opacity="0.64"/><circle cx="850.4" cy="128.9" r="0.94" fill="#2E1470" opacity="0.81"/><circle cx="826.5" cy="109.1" r="0.67" fill="#2E1470" opacity="0.99"/><circle cx="818.7" cy="141.0" r="0.50" fill="#5A38A8" opacity="0.61"/><circle cx="810.6" cy="130.5" r="0.64" fill="#2A1060" opacity="0.65"/><circle cx="917.3" cy="107.0" r="0.78" fill="#2E1470" opacity="0.93"/><circle cx="867.6" cy="130.4" r="0.85" fill="#2E1470" opacity="0.74"/><circle cx="837.6" cy="105.0" r="0.65" fill="#2E1470" opacity="0.84"/><circle cx="855.2" cy="132.2" r="0.98" fill="#46258F" opacity="0.65"/><circle cx="865.0" cy="68.4" r="0.94" fill="#3B1D85" opacity="0.68"/><circle cx="910.9" cy="126.9" r="1.11" fill="#5A38A8" opacity="0.95"/><circle cx="918.8" cy="114.7" r="0.64" fill="#2E1470" opacity="0.86"/><circle cx="858.1" cy="124.7" r="0.82" fill="#5A38A8" opacity="0.98"/><circle cx="843.0" cy="147.7" r="0.86" fill="#5A38A8" opacity="0.86"/><circle cx="867.1" cy="174.5" r="0.46" fill="#2A1060" opacity="0.88"/><circle cx="835.7" cy="107.0" r="1.22" fill="#5A38A8" opacity="0.63"/><circle cx="890.2" cy="86.1" r="0.86" fill="#5A38A8" opacity="0.86"/><circle cx="925.3" cy="83.4" r="0.72" fill="#3B1D85" opacity="0.95"/><circle cx="819.0" cy="130.5" r="0.68" fill="#2E1470" opacity="0.67"/><circle cx="915.4" cy="153.0" r="0.59" fill="#2A1060" opacity="0.66"/><circle cx="867.8" cy="145.3" r="0.84" fill="#3B1D85" opacity="0.88"/><circle cx="917.0" cy="115.6" r="0.58" fill="#5A38A8" opacity="0.78"/><circle cx="908.9" cy="147.1" r="0.55" fill="#3B1D85" opacity="0.66"/><circle cx="918.4" cy="105.0" r="0.93" fill="#2A1060" opacity="0.75"/><circle cx="904.6" cy="107.5" r="1.52" fill="#5A38A8" opacity="0.62"/><circle cx="823.4" cy="143.8" r="0.94" fill="#2E1470" opacity="0.97"/><circle cx="918.0" cy="111.2" r="1.27" fill="#46258F" opacity="0.66"/><circle cx="853.6" cy="128.6" r="0.98" fill="#2A1060" opacity="0.76"/><circle cx="843.5" cy="102.5" r="0.55" fill="#3B1D85" opacity="0.65"/><circle cx="859.9" cy="121.9" r="1.38" fill="#2E1470" opacity="0.72"/><circle cx="917.0" cy="108.0" r="0.84" fill="#3B1D85" opacity="0.60"/><circle cx="833.8" cy="108.6" r="0.83" fill="#5A38A8" opacity="0.88"/><circle cx="861.1" cy="117.4" r="0.73" fill="#2A1060" opacity="0.88"/><circle cx="917.6" cy="119.0" r="1.49" fill="#2E1470" opacity="0.81"/><circle cx="919.6" cy="109.4" r="1.02" fill="#2A1060" opacity="0.70"/><circle cx="922.7" cy="92.5" r="0.90" fill="#2A1060" opacity="0.62"/><circle cx="855.4" cy="128.7" r="1.33" fill="#5A38A8" opacity="0.82"/><circle cx="884.4" cy="83.3" r="0.67" fill="#2A1060" opacity="0.92"/><circle cx="844.0" cy="155.6" r="0.47" fill="#46258F" opacity="0.62"/><circle cx="868.8" cy="96.7" r="0.88" fill="#3B1D85" opacity="0.62"/><circle cx="851.8" cy="128.0" r="0.72" fill="#2A1060" opacity="0.69"/><circle cx="866.3" cy="46.5" r="0.49" fill="#46258F" opacity="0.73"/><circle cx="867.0" cy="86.7" r="1.11" fill="#46258F" opacity="0.59"/><circle cx="876.5" cy="103.8" r="0.69" fill="#3B1D85" opacity="0.56"/><circle cx="818.9" cy="167.7" r="1.09" fill="#46258F" opacity="0.81"/><circle cx="828.5" cy="97.5" r="1.47" fill="#2A1060" opacity="0.90"/>
</g>
<ellipse cx="862.00" cy="118.30" rx="75.20" ry="73.00" fill="none" stroke="#000" stroke-width="2.6"/>
<clipPath id="pc3"><ellipse cx="1017.40" cy="115.60" rx="76.50" ry="73.60"/></clipPath>
<g clip-path="url(#pc3)">
<ellipse cx="1017.40" cy="115.60" rx="76.50" ry="73.60" fill="#ECEDF7"/>
<rect x="930.90" y="55.60" width="173.00" height="16.00" fill="#DADEEC" opacity="0.8" filter="url(#blur6)"/>
<rect x="930.90" y="123.60" width="173.00" height="10.00" fill="#DDE0EE" opacity="0.8" filter="url(#blur6)"/>
<circle cx="1021.7" cy="169.7" r="0.83" fill="#2E1470" opacity="0.89"/><circle cx="959.9" cy="72.4" r="0.92" fill="#2A1060" opacity="0.76"/><circle cx="962.6" cy="101.7" r="0.86" fill="#3B1D85" opacity="0.77"/><circle cx="1054.8" cy="76.3" r="1.17" fill="#5A38A8" opacity="0.72"/><circle cx="1082.5" cy="132.9" r="1.24" fill="#2A1060" opacity="0.88"/><circle cx="1001.0" cy="46.7" r="0.86" fill="#3B1D85" opacity="0.83"/><circle cx="1034.7" cy="99.8" r="0.84" fill="#2A1060" opacity="0.99"/><circle cx="1030.2" cy="48.7" r="0.88" fill="#5A38A8" opacity="0.87"/><circle cx="967.1" cy="86.9" r="1.31" fill="#46258F" opacity="0.98"/><circle cx="1080.0" cy="112.2" r="0.65" fill="#5A38A8" opacity="0.99"/><circle cx="958.8" cy="89.4" r="0.69" fill="#46258F" opacity="0.87"/><circle cx="1055.1" cy="151.6" r="1.07" fill="#2E1470" opacity="0.80"/><circle cx="992.3" cy="130.8" r="0.76" fill="#2E1470" opacity="0.96"/><circle cx="964.6" cy="76.2" r="0.84" fill="#46258F" opacity="0.87"/><circle cx="1009.6" cy="134.6" r="1.40" fill="#2A1060" opacity="0.76"/><circle cx="1007.3" cy="152.1" r="1.12" fill="#46258F" opacity="0.80"/><circle cx="1087.4" cy="97.7" r="0.84" fill="#5A38A8" opacity="0.86"/><circle cx="1007.1" cy="94.2" r="1.38" fill="#3B1D85" opacity="0.78"/><circle cx="1064.0" cy="96.7" r="0.73" fill="#2A1060" opacity="0.80"/><circle cx="1060.2" cy="112.3" r="0.84" fill="#46258F" opacity="0.74"/><circle cx="955.8" cy="128.4" r="0.82" fill="#2E1470" opacity="0.92"/><circle cx="954.1" cy="77.3" r="0.52" fill="#46258F" opacity="0.89"/><circle cx="981.3" cy="92.7" r="0.83" fill="#5A38A8" opacity="0.81"/><circle cx="1011.4" cy="180.6" r="0.59" fill="#3B1D85" opacity="0.99"/><circle cx="1004.1" cy="147.9" r="1.65" fill="#2A1060" opacity="0.76"/><circle cx="1003.3" cy="97.1" r="1.04" fill="#3B1D85" opacity="0.90"/><circle cx="951.9" cy="141.3" r="0.65" fill="#5A38A8" opacity="0.90"/><circle cx="982.8" cy="126.2" r="0.61" fill="#5A38A8" opacity="0.76"/><circle cx="1033.8" cy="151.1" r="1.23" fill="#46258F" opacity="0.94"/><circle cx="975.4" cy="90.1" r="0.97" fill="#2A1060" opacity="0.84"/><circle cx="1002.9" cy="169.3" r="0.53" fill="#2A1060" opacity="0.76"/><circle cx="1084.7" cy="91.5" r="1.39" fill="#3B1D85" opacity="0.99"/><circle cx="1068.0" cy="125.6" r="1.18" fill="#5A38A8" opacity="0.99"/><circle cx="997.6" cy="145.1" r="0.56" fill="#3B1D85" opacity="0.79"/><circle cx="1087.2" cy="135.2" r="1.12" fill="#2A1060" opacity="0.97"/><circle cx="1009.6" cy="111.7" r="1.58" fill="#2E1470" opacity="0.79"/><circle cx="968.8" cy="108.2" r="1.35" fill="#46258F" opacity="0.80"/><circle cx="1072.8" cy="106.1" r="1.66" fill="#2E1470" opacity="0.77"/><circle cx="949.9" cy="101.2" r="0.65" fill="#3B1D85" opacity="0.98"/><circle cx="1020.4" cy="109.9" r="1.07" fill="#46258F" opacity="0.71"/><circle cx="1018.1" cy="173.5" r="1.31" fill="#2E1470" opacity="0.80"/><circle cx="1059.4" cy="64.9" r="0.73" fill="#2E1470" opacity="0.84"/><circle cx="1031.1" cy="98.5" r="0.95" fill="#46258F" opacity="0.79"/><circle cx="981.4" cy="145.8" r="0.77" fill="#2A1060" opacity="1.00"/><circle cx="1058.0" cy="154.1" r="1.14" fill="#3B1D85" opacity="0.72"/><circle cx="1067.5" cy="128.9" r="1.09" fill="#2E1470" opacity="0.89"/><circle cx="981.4" cy="81.9" r="0.84" fill="#2A1060" opacity="0.91"/><circle cx="1064.5" cy="101.0" r="0.70" fill="#5A38A8" opacity="0.78"/><circle cx="1062.3" cy="136.5" r="0.88" fill="#46258F" opacity="0.98"/><circle cx="1073.5" cy="104.9" r="1.73" fill="#5A38A8" opacity="0.91"/><circle cx="1033.9" cy="57.6" r="1.16" fill="#5A38A8" opacity="0.73"/><circle cx="1006.4" cy="66.1" r="0.71" fill="#5A38A8" opacity="0.86"/><circle cx="1075.7" cy="155.9" r="0.89" fill="#2E1470" opacity="0.95"/><circle cx="1043.0" cy="119.6" r="0.93" fill="#46258F" opacity="0.79"/><circle cx="1021.8" cy="102.2" r="1.19" fill="#2E1470" opacity="0.91"/><circle cx="994.6" cy="107.8" r="1.00" fill="#3B1D85" opacity="0.96"/><circle cx="1035.1" cy="83.7" r="0.89" fill="#2A1060" opacity="0.88"/><circle cx="1016.3" cy="172.6" r="1.34" fill="#2A1060" opacity="0.99"/><circle cx="960.9" cy="148.7" r="0.64" fill="#5A38A8" opacity="0.93"/><circle cx="1005.5" cy="88.9" r="0.86" fill="#2A1060" opacity="0.75"/>
</g>
<ellipse cx="1017.40" cy="115.60" rx="75.20" ry="72.30" fill="none" stroke="#000" stroke-width="2.6"/>
<clipPath id="pc4"><ellipse cx="703.90" cy="269.60" rx="76.80" ry="74.00"/></clipPath>
<g clip-path="url(#pc4)">
<ellipse cx="703.90" cy="269.60" rx="76.80" ry="74.00" fill="#ECEDF7"/>
<rect x="617.10" y="257.60" width="173.60" height="16.00" fill="#D2D2E6" opacity="0.9" filter="url(#blur6)"/>
<rect x="617.10" y="324.60" width="173.60" height="20.00" fill="#DCDCEA" opacity="0.7" filter="url(#blur6)"/>
<circle cx="676.1" cy="263.0" r="0.97" fill="#46258F" opacity="0.91"/><circle cx="707.3" cy="234.9" r="1.30" fill="#2E1470" opacity="0.83"/><circle cx="700.7" cy="260.2" r="2.21" fill="#46258F" opacity="0.86"/><circle cx="718.3" cy="235.8" r="0.83" fill="#5A38A8" opacity="0.82"/><circle cx="745.4" cy="271.4" r="1.52" fill="#3B1D85" opacity="0.95"/><circle cx="718.7" cy="250.2" r="1.00" fill="#2E1470" opacity="0.81"/><circle cx="704.9" cy="245.5" r="2.04" fill="#2E1470" opacity="0.93"/><circle cx="657.3" cy="238.4" r="0.84" fill="#5A38A8" opacity="0.92"/><circle cx="731.4" cy="249.7" r="0.90" fill="#3B1D85" opacity="0.92"/><circle cx="664.8" cy="249.8" r="1.44" fill="#46258F" opacity="0.99"/><circle cx="713.9" cy="267.1" r="0.98" fill="#2A1060" opacity="0.96"/><circle cx="747.1" cy="225.0" r="0.70" fill="#46258F" opacity="0.98"/><circle cx="688.9" cy="288.0" r="1.35" fill="#46258F" opacity="0.89"/><circle cx="677.0" cy="299.9" r="0.73" fill="#3B1D85" opacity="0.88"/><circle cx="694.0" cy="270.8" r="2.00" fill="#2A1060" opacity="0.81"/><circle cx="697.6" cy="282.2" r="1.69" fill="#3B1D85" opacity="1.00"/><circle cx="653.1" cy="252.2" r="0.88" fill="#2A1060" opacity="0.93"/><circle cx="690.2" cy="269.7" r="1.26" fill="#3B1D85" opacity="0.84"/><circle cx="730.1" cy="250.2" r="1.81" fill="#2A1060" opacity="1.00"/><circle cx="662.9" cy="213.0" r="2.07" fill="#2A1060" opacity="0.88"/><circle cx="656.8" cy="261.3" r="1.64" fill="#5A38A8" opacity="0.96"/><circle cx="718.8" cy="256.8" r="1.25" fill="#3B1D85" opacity="0.86"/><circle cx="666.5" cy="238.7" r="1.71" fill="#2A1060" opacity="0.94"/><circle cx="702.3" cy="198.4" r="1.19" fill="#2E1470" opacity="0.98"/><circle cx="701.7" cy="316.1" r="1.60" fill="#2E1470" opacity="0.84"/><circle cx="722.7" cy="327.5" r="1.03" fill="#2A1060" opacity="0.95"/><circle cx="683.8" cy="277.3" r="2.03" fill="#46258F" opacity="0.91"/><circle cx="733.7" cy="303.7" r="1.60" fill="#46258F" opacity="0.80"/><circle cx="752.6" cy="297.4" r="1.10" fill="#3B1D85" opacity="0.86"/><circle cx="733.8" cy="232.7" r="0.70" fill="#46258F" opacity="0.96"/><circle cx="675.3" cy="300.6" r="1.18" fill="#46258F" opacity="0.99"/><circle cx="677.7" cy="273.0" r="1.33" fill="#3B1D85" opacity="0.83"/><circle cx="724.7" cy="277.3" r="0.82" fill="#2E1470" opacity="0.93"/><circle cx="700.9" cy="277.1" r="1.28" fill="#46258F" opacity="0.88"/><circle cx="681.6" cy="246.0" r="1.48" fill="#2A1060" opacity="0.86"/><circle cx="636.3" cy="239.8" r="1.26" fill="#2A1060" opacity="0.92"/><circle cx="740.9" cy="246.5" r="1.16" fill="#5A38A8" opacity="0.94"/><circle cx="735.8" cy="266.1" r="1.48" fill="#3B1D85" opacity="0.82"/><circle cx="720.9" cy="255.7" r="0.85" fill="#2E1470" opacity="0.99"/><circle cx="730.3" cy="202.0" r="0.81" fill="#5A38A8" opacity="0.90"/><circle cx="769.3" cy="302.7" r="2.54" fill="#3B1D85" opacity="0.90"/><circle cx="724.6" cy="234.1" r="1.81" fill="#2A1060" opacity="0.92"/><circle cx="690.4" cy="302.6" r="1.02" fill="#2A1060" opacity="1.00"/><circle cx="723.6" cy="258.6" r="0.83" fill="#5A38A8" opacity="0.91"/><circle cx="654.6" cy="323.9" r="1.90" fill="#46258F" opacity="0.81"/><circle cx="695.1" cy="290.3" r="1.26" fill="#5A38A8" opacity="0.99"/><circle cx="726.2" cy="298.7" r="0.99" fill="#5A38A8" opacity="0.83"/><circle cx="632.0" cy="248.4" r="0.94" fill="#2E1470" opacity="0.83"/><circle cx="737.6" cy="251.7" r="1.74" fill="#3B1D85" opacity="0.92"/><circle cx="661.8" cy="209.8" r="1.74" fill="#2E1470" opacity="0.91"/><circle cx="652.4" cy="252.7" r="0.80" fill="#2E1470" opacity="0.90"/><circle cx="671.8" cy="241.4" r="1.11" fill="#46258F" opacity="0.97"/><circle cx="676.0" cy="270.3" r="2.35" fill="#3B1D85" opacity="0.99"/><circle cx="705.8" cy="260.6" r="0.90" fill="#5A38A8" opacity="0.90"/><circle cx="720.3" cy="291.4" r="1.80" fill="#3B1D85" opacity="0.88"/><circle cx="682.4" cy="257.0" r="1.41" fill="#2A1060" opacity="0.86"/><circle cx="763.3" cy="283.2" r="0.93" fill="#46258F" opacity="0.93"/><circle cx="634.5" cy="279.1" r="2.23" fill="#46258F" opacity="0.85"/><circle cx="668.9" cy="217.7" r="1.39" fill="#46258F" opacity="1.00"/><circle cx="711.0" cy="283.4" r="1.27" fill="#2E1470" opacity="0.94"/><circle cx="664.7" cy="276.5" r="0.78" fill="#5A38A8" opacity="0.90"/><circle cx="736.8" cy="284.9" r="0.96" fill="#2E1470" opacity="0.98"/><circle cx="667.5" cy="255.6" r="1.56" fill="#2A1060" opacity="1.00"/><circle cx="677.8" cy="287.3" r="1.68" fill="#5A38A8" opacity="0.90"/><circle cx="732.7" cy="230.6" r="1.58" fill="#2A1060" opacity="0.80"/><circle cx="693.1" cy="333.1" r="1.13" fill="#46258F" opacity="0.97"/><circle cx="714.0" cy="307.5" r="0.71" fill="#3B1D85" opacity="0.92"/><circle cx="675.4" cy="335.7" r="1.62" fill="#46258F" opacity="0.94"/><circle cx="745.8" cy="236.4" r="0.75" fill="#3B1D85" opacity="0.89"/><circle cx="660.4" cy="246.8" r="1.64" fill="#5A38A8" opacity="0.97"/><circle cx="721.5" cy="258.4" r="2.30" fill="#2E1470" opacity="0.94"/><circle cx="723.9" cy="211.9" r="0.94" fill="#5A38A8" opacity="0.93"/><circle cx="734.7" cy="267.0" r="2.14" fill="#3B1D85" opacity="0.81"/><circle cx="722.1" cy="267.2" r="1.77" fill="#2A1060" opacity="0.93"/><circle cx="668.9" cy="236.8" r="1.38" fill="#2A1060" opacity="0.86"/><circle cx="739.2" cy="214.8" r="0.88" fill="#3B1D85" opacity="0.84"/><circle cx="681.6" cy="241.2" r="1.10" fill="#3B1D85" opacity="0.82"/><circle cx="734.5" cy="260.0" r="0.85" fill="#46258F" opacity="0.86"/><circle cx="688.3" cy="269.9" r="1.00" fill="#3B1D85" opacity="0.88"/><circle cx="670.2" cy="240.1" r="0.61" fill="#2A1060" opacity="0.89"/><circle cx="721.4" cy="261.0" r="1.76" fill="#5A38A8" opacity="0.99"/><circle cx="652.9" cy="238.6" r="2.08" fill="#5A38A8" opacity="0.89"/><circle cx="701.8" cy="275.6" r="0.90" fill="#46258F" opacity="0.91"/><circle cx="753.3" cy="238.2" r="1.46" fill="#5A38A8" opacity="0.87"/><circle cx="659.7" cy="268.1" r="2.32" fill="#2E1470" opacity="0.89"/><circle cx="671.9" cy="246.9" r="1.52" fill="#46258F" opacity="0.81"/><circle cx="769.1" cy="304.4" r="1.62" fill="#46258F" opacity="0.91"/><circle cx="683.7" cy="336.3" r="0.97" fill="#5A38A8" opacity="0.95"/><circle cx="774.0" cy="252.1" r="0.97" fill="#5A38A8" opacity="0.80"/><circle cx="743.9" cy="247.5" r="0.86" fill="#2E1470" opacity="0.96"/><circle cx="668.7" cy="240.6" r="1.79" fill="#2E1470" opacity="1.00"/><circle cx="757.2" cy="255.0" r="1.73" fill="#46258F" opacity="0.90"/><circle cx="666.4" cy="231.0" r="1.31" fill="#2A1060" opacity="0.81"/><circle cx="722.8" cy="242.3" r="1.36" fill="#5A38A8" opacity="0.92"/><circle cx="741.0" cy="323.7" r="1.31" fill="#46258F" opacity="0.86"/><circle cx="730.5" cy="306.1" r="1.19" fill="#2A1060" opacity="0.89"/><circle cx="693.1" cy="263.9" r="1.33" fill="#5A38A8" opacity="0.85"/><circle cx="692.4" cy="198.1" r="1.19" fill="#46258F" opacity="0.86"/><circle cx="741.9" cy="219.4" r="1.29" fill="#3B1D85" opacity="0.85"/><circle cx="668.5" cy="237.9" r="2.27" fill="#46258F" opacity="0.82"/><circle cx="733.7" cy="273.7" r="1.74" fill="#3B1D85" opacity="0.84"/><circle cx="679.8" cy="302.1" r="1.83" fill="#46258F" opacity="0.90"/><circle cx="718.8" cy="279.5" r="0.61" fill="#2E1470" opacity="0.89"/><circle cx="748.3" cy="262.8" r="1.05" fill="#46258F" opacity="0.80"/><circle cx="680.2" cy="286.1" r="1.82" fill="#2A1060" opacity="0.95"/><circle cx="688.2" cy="296.8" r="0.64" fill="#2A1060" opacity="0.83"/><circle cx="728.5" cy="224.4" r="1.01" fill="#2A1060" opacity="0.98"/><circle cx="694.6" cy="204.1" r="1.04" fill="#2E1470" opacity="0.90"/><circle cx="644.2" cy="294.5" r="1.74" fill="#2A1060" opacity="0.92"/><circle cx="708.8" cy="244.5" r="1.61" fill="#5A38A8" opacity="0.94"/><circle cx="698.4" cy="305.1" r="1.80" fill="#2E1470" opacity="0.91"/><circle cx="693.9" cy="264.3" r="1.06" fill="#3B1D85" opacity="0.95"/><circle cx="737.9" cy="258.8" r="1.83" fill="#2A1060" opacity="0.99"/><circle cx="701.5" cy="226.0" r="1.26" fill="#2E1470" opacity="0.96"/><circle cx="685.0" cy="237.0" r="1.90" fill="#3B1D85" opacity="0.93"/><circle cx="642.3" cy="285.0" r="1.81" fill="#3B1D85" opacity="0.80"/><circle cx="743.0" cy="324.9" r="1.69" fill="#2E1470" opacity="0.85"/><circle cx="728.9" cy="275.1" r="2.10" fill="#5A38A8" opacity="0.89"/><circle cx="666.1" cy="248.4" r="0.85" fill="#2E1470" opacity="0.84"/><circle cx="715.2" cy="259.2" r="1.35" fill="#46258F" opacity="0.98"/><circle cx="685.0" cy="214.4" r="1.27" fill="#2E1470" opacity="1.00"/><circle cx="677.7" cy="291.9" r="0.92" fill="#2E1470" opacity="0.88"/><circle cx="707.4" cy="207.0" r="0.96" fill="#2A1060" opacity="0.98"/><circle cx="641.4" cy="298.9" r="2.42" fill="#3B1D85" opacity="0.83"/><circle cx="631.6" cy="255.0" r="1.21" fill="#2A1060" opacity="0.99"/><circle cx="726.7" cy="248.7" r="1.12" fill="#46258F" opacity="0.98"/><circle cx="696.5" cy="245.1" r="1.71" fill="#3B1D85" opacity="0.99"/><circle cx="660.2" cy="304.3" r="1.45" fill="#2E1470" opacity="0.84"/><circle cx="683.0" cy="268.2" r="1.26" fill="#2E1470" opacity="0.93"/><circle cx="666.4" cy="240.3" r="1.65" fill="#46258F" opacity="0.85"/><circle cx="678.1" cy="307.2" r="1.56" fill="#3B1D85" opacity="0.94"/><circle cx="666.0" cy="271.8" r="2.47" fill="#3B1D85" opacity="0.95"/><circle cx="708.9" cy="288.3" r="1.39" fill="#2A1060" opacity="0.92"/><circle cx="662.1" cy="282.9" r="1.79" fill="#2A1060" opacity="0.95"/><circle cx="740.7" cy="261.8" r="0.93" fill="#5A38A8" opacity="0.99"/><circle cx="690.7" cy="280.2" r="0.95" fill="#46258F" opacity="0.82"/><circle cx="733.7" cy="313.8" r="0.83" fill="#46258F" opacity="0.84"/><circle cx="659.9" cy="251.4" r="1.21" fill="#46258F" opacity="0.86"/><circle cx="664.4" cy="244.6" r="1.99" fill="#3B1D85" opacity="0.98"/><circle cx="733.0" cy="223.6" r="1.03" fill="#2E1470" opacity="1.00"/><circle cx="674.4" cy="263.8" r="2.22" fill="#2A1060" opacity="0.89"/><circle cx="682.9" cy="286.8" r="1.21" fill="#2A1060" opacity="0.95"/><circle cx="728.8" cy="242.4" r="2.16" fill="#5A38A8" opacity="0.92"/><circle cx="734.8" cy="312.2" r="1.52" fill="#46258F" opacity="0.98"/><circle cx="724.3" cy="331.3" r="1.16" fill="#2E1470" opacity="0.83"/><circle cx="724.5" cy="287.8" r="0.96" fill="#2E1470" opacity="0.99"/><circle cx="700.1" cy="332.9" r="1.53" fill="#2E1470" opacity="0.83"/><circle cx="703.1" cy="307.4" r="1.04" fill="#46258F" opacity="0.84"/><circle cx="705.9" cy="293.3" r="1.24" fill="#2E1470" opacity="0.88"/><circle cx="655.4" cy="289.0" r="1.42" fill="#2A1060" opacity="0.99"/><circle cx="744.5" cy="228.7" r="2.00" fill="#5A38A8" opacity="0.94"/><circle cx="744.7" cy="221.8" r="0.98" fill="#2A1060" opacity="0.94"/><circle cx="696.8" cy="281.8" r="1.02" fill="#46258F" opacity="0.87"/><circle cx="653.5" cy="237.9" r="1.89" fill="#2A1060" opacity="0.88"/><circle cx="675.8" cy="291.4" r="1.12" fill="#46258F" opacity="0.98"/><circle cx="733.5" cy="245.4" r="2.46" fill="#2A1060" opacity="0.82"/><circle cx="715.2" cy="253.8" r="2.47" fill="#2A1060" opacity="0.90"/><circle cx="726.8" cy="242.7" r="1.70" fill="#2A1060" opacity="0.98"/><circle cx="706.2" cy="308.7" r="1.01" fill="#5A38A8" opacity="0.96"/><circle cx="637.1" cy="284.3" r="1.52" fill="#3B1D85" opacity="0.83"/><circle cx="702.0" cy="302.4" r="1.31" fill="#3B1D85" opacity="0.98"/><circle cx="676.0" cy="314.8" r="0.90" fill="#2E1470" opacity="0.89"/><circle cx="730.3" cy="251.8" r="0.97" fill="#5A38A8" opacity="0.93"/><circle cx="733.9" cy="250.7" r="0.78" fill="#5A38A8" opacity="0.81"/><circle cx="687.8" cy="254.1" r="1.01" fill="#2E1470" opacity="0.89"/><circle cx="694.8" cy="231.6" r="1.96" fill="#2A1060" opacity="0.80"/><circle cx="722.0" cy="204.1" r="1.07" fill="#2E1470" opacity="0.93"/><circle cx="714.5" cy="203.9" r="1.17" fill="#2A1060" opacity="0.90"/><circle cx="694.2" cy="294.8" r="0.88" fill="#5A38A8" opacity="0.83"/><circle cx="723.1" cy="247.6" r="0.79" fill="#46258F" opacity="0.91"/><circle cx="664.5" cy="238.8" r="0.92" fill="#3B1D85" opacity="0.89"/><circle cx="673.3" cy="214.5" r="1.48" fill="#3B1D85" opacity="0.95"/><circle cx="683.0" cy="273.8" r="1.79" fill="#3B1D85" opacity="0.96"/><circle cx="665.8" cy="238.7" r="0.99" fill="#2E1470" opacity="0.91"/><circle cx="707.7" cy="281.2" r="1.79" fill="#2A1060" opacity="0.84"/><circle cx="692.6" cy="283.3" r="1.57" fill="#2A1060" opacity="0.85"/><circle cx="672.1" cy="240.0" r="0.79" fill="#46258F" opacity="0.84"/><circle cx="704.9" cy="292.7" r="1.42" fill="#5A38A8" opacity="0.91"/><circle cx="637.6" cy="282.4" r="1.73" fill="#3B1D85" opacity="0.92"/><circle cx="707.4" cy="315.8" r="0.75" fill="#2E1470" opacity="0.86"/><circle cx="720.3" cy="330.3" r="1.35" fill="#46258F" opacity="0.96"/><circle cx="674.0" cy="239.8" r="0.78" fill="#2E1470" opacity="0.83"/><circle cx="722.4" cy="284.0" r="1.11" fill="#3B1D85" opacity="0.85"/><circle cx="698.1" cy="263.3" r="1.75" fill="#2E1470" opacity="0.95"/><circle cx="654.0" cy="283.0" r="1.27" fill="#2A1060" opacity="0.94"/><circle cx="670.9" cy="205.2" r="1.16" fill="#5A38A8" opacity="0.89"/><circle cx="657.4" cy="221.3" r="1.47" fill="#2A1060" opacity="0.83"/><circle cx="739.6" cy="235.3" r="1.15" fill="#3B1D85" opacity="0.90"/><circle cx="682.1" cy="288.1" r="0.86" fill="#2E1470" opacity="0.94"/><circle cx="695.7" cy="284.7" r="2.25" fill="#2E1470" opacity="0.82"/><circle cx="648.6" cy="297.5" r="0.77" fill="#3B1D85" opacity="0.89"/><circle cx="660.4" cy="234.0" r="1.20" fill="#2A1060" opacity="0.92"/><circle cx="675.0" cy="235.6" r="1.11" fill="#3B1D85" opacity="0.90"/><circle cx="702.8" cy="333.7" r="1.85" fill="#2E1470" opacity="0.82"/><circle cx="666.7" cy="324.3" r="1.79" fill="#2A1060" opacity="0.91"/><circle cx="675.6" cy="263.8" r="1.18" fill="#5A38A8" opacity="0.88"/><circle cx="742.5" cy="259.4" r="1.48" fill="#3B1D85" opacity="0.94"/><circle cx="651.5" cy="260.0" r="1.86" fill="#46258F" opacity="0.82"/><circle cx="700.4" cy="271.5" r="1.22" fill="#2A1060" opacity="0.91"/><circle cx="682.3" cy="235.3" r="1.88" fill="#5A38A8" opacity="0.96"/><circle cx="761.5" cy="237.1" r="1.77" fill="#2A1060" opacity="0.90"/><circle cx="657.5" cy="223.9" r="1.54" fill="#3B1D85" opacity="0.83"/><circle cx="707.0" cy="239.2" r="2.44" fill="#2E1470" opacity="0.89"/><circle cx="702.0" cy="244.5" r="1.74" fill="#2A1060" opacity="0.92"/><circle cx="685.9" cy="246.7" r="1.73" fill="#2E1470" opacity="0.83"/><circle cx="695.4" cy="284.3" r="1.68" fill="#5A38A8" opacity="0.86"/><circle cx="703.7" cy="290.4" r="0.85" fill="#3B1D85" opacity="0.86"/><circle cx="674.5" cy="274.2" r="1.18" fill="#5A38A8" opacity="0.92"/><circle cx="670.8" cy="256.1" r="0.87" fill="#5A38A8" opacity="0.86"/><circle cx="678.1" cy="210.2" r="1.05" fill="#46258F" opacity="0.88"/><circle cx="652.2" cy="273.5" r="1.51" fill="#2E1470" opacity="0.87"/><circle cx="643.2" cy="246.1" r="1.05" fill="#3B1D85" opacity="0.96"/><circle cx="712.8" cy="271.8" r="1.61" fill="#46258F" opacity="0.86"/><circle cx="666.5" cy="228.5" r="2.45" fill="#3B1D85" opacity="0.81"/><circle cx="700.8" cy="210.0" r="1.76" fill="#2E1470" opacity="0.86"/><circle cx="709.9" cy="207.3" r="1.51" fill="#2E1470" opacity="0.95"/><circle cx="733.0" cy="241.2" r="0.69" fill="#5A38A8" opacity="0.81"/><circle cx="692.8" cy="304.6" r="0.63" fill="#46258F" opacity="0.90"/><circle cx="677.0" cy="258.9" r="1.47" fill="#5A38A8" opacity="0.89"/><circle cx="708.1" cy="302.3" r="1.17" fill="#2A1060" opacity="0.94"/><circle cx="689.5" cy="264.4" r="1.08" fill="#46258F" opacity="0.90"/><circle cx="700.5" cy="307.0" r="1.83" fill="#5A38A8" opacity="0.93"/><circle cx="648.3" cy="255.0" r="1.47" fill="#3B1D85" opacity="0.96"/><circle cx="677.9" cy="273.2" r="1.77" fill="#2A1060" opacity="0.98"/><circle cx="668.1" cy="226.1" r="2.01" fill="#46258F" opacity="0.87"/><circle cx="686.1" cy="288.4" r="1.86" fill="#46258F" opacity="0.81"/><circle cx="715.5" cy="296.2" r="1.46" fill="#5A38A8" opacity="0.82"/><circle cx="701.3" cy="299.2" r="1.34" fill="#2E1470" opacity="0.88"/><circle cx="661.3" cy="292.0" r="0.65" fill="#2A1060" opacity="0.90"/><circle cx="659.1" cy="245.9" r="1.22" fill="#2E1470" opacity="0.97"/><circle cx="698.0" cy="243.4" r="1.54" fill="#5A38A8" opacity="0.86"/><circle cx="680.0" cy="241.3" r="1.82" fill="#5A38A8" opacity="0.90"/><circle cx="712.7" cy="271.9" r="1.52" fill="#3B1D85" opacity="1.00"/><circle cx="737.2" cy="254.2" r="1.01" fill="#46258F" opacity="0.92"/><circle cx="677.0" cy="236.5" r="1.71" fill="#3B1D85" opacity="0.80"/><circle cx="748.1" cy="265.8" r="1.14" fill="#3B1D85" opacity="0.82"/><circle cx="773.2" cy="295.1" r="1.42" fill="#2E1470" opacity="0.97"/><circle cx="703.8" cy="313.7" r="1.06" fill="#3B1D85" opacity="0.88"/><circle cx="707.2" cy="288.2" r="0.70" fill="#2E1470" opacity="0.91"/><circle cx="661.3" cy="240.4" r="0.66" fill="#2E1470" opacity="0.82"/><circle cx="698.7" cy="275.2" r="1.32" fill="#5A38A8" opacity="0.94"/><circle cx="642.3" cy="243.2" r="2.23" fill="#5A38A8" opacity="0.95"/><circle cx="740.6" cy="254.5" r="1.38" fill="#2A1060" opacity="0.97"/><circle cx="716.8" cy="248.6" r="1.06" fill="#46258F" opacity="0.89"/><circle cx="694.9" cy="263.3" r="1.09" fill="#46258F" opacity="0.82"/><circle cx="630.3" cy="272.4" r="1.51" fill="#5A38A8" opacity="0.98"/><circle cx="677.2" cy="324.9" r="1.45" fill="#2E1470" opacity="0.81"/><circle cx="730.4" cy="261.5" r="1.56" fill="#46258F" opacity="0.95"/><circle cx="694.1" cy="262.9" r="0.88" fill="#2E1470" opacity="0.98"/><circle cx="716.4" cy="277.6" r="1.75" fill="#2A1060" opacity="0.86"/><circle cx="681.8" cy="209.3" r="0.89" fill="#3B1D85" opacity="0.98"/><circle cx="667.0" cy="250.5" r="0.79" fill="#46258F" opacity="0.99"/><circle cx="704.1" cy="230.1" r="0.90" fill="#2A1060" opacity="0.92"/><circle cx="680.4" cy="266.5" r="1.26" fill="#46258F" opacity="0.91"/><circle cx="697.9" cy="211.8" r="0.82" fill="#5A38A8" opacity="0.88"/><circle cx="719.9" cy="302.7" r="1.58" fill="#46258F" opacity="0.92"/><circle cx="640.1" cy="246.6" r="1.51" fill="#46258F" opacity="0.99"/><circle cx="696.0" cy="265.3" r="2.08" fill="#5A38A8" opacity="0.86"/><circle cx="719.2" cy="286.0" r="1.03" fill="#2E1470" opacity="0.81"/><circle cx="648.3" cy="296.2" r="0.69" fill="#2E1470" opacity="0.89"/><circle cx="694.8" cy="271.2" r="1.39" fill="#2E1470" opacity="0.81"/><circle cx="681.4" cy="303.2" r="0.79" fill="#2E1470" opacity="1.00"/><circle cx="712.9" cy="247.3" r="0.91" fill="#2A1060" opacity="0.96"/><circle cx="717.5" cy="238.9" r="1.59" fill="#5A38A8" opacity="0.80"/><circle cx="684.8" cy="237.9" r="0.99" fill="#2E1470" opacity="0.83"/><circle cx="741.8" cy="278.8" r="1.30" fill="#2A1060" opacity="0.83"/><circle cx="737.6" cy="222.5" r="1.58" fill="#46258F" opacity="0.92"/><circle cx="728.4" cy="301.0" r="2.23" fill="#2E1470" opacity="0.91"/><circle cx="673.5" cy="267.3" r="1.75" fill="#2E1470" opacity="0.93"/><circle cx="695.1" cy="289.3" r="0.95" fill="#2E1470" opacity="0.88"/><circle cx="700.1" cy="286.9" r="1.06" fill="#3B1D85" opacity="0.99"/><circle cx="736.4" cy="264.4" r="1.33" fill="#3B1D85" opacity="0.91"/><circle cx="661.4" cy="233.5" r="0.95" fill="#5A38A8" opacity="0.86"/><circle cx="735.7" cy="242.2" r="0.94" fill="#46258F" opacity="0.94"/><circle cx="659.2" cy="318.4" r="0.60" fill="#2E1470" opacity="0.92"/><circle cx="681.6" cy="282.2" r="1.45" fill="#2A1060" opacity="0.86"/><circle cx="744.4" cy="257.6" r="0.68" fill="#2E1470" opacity="0.84"/><circle cx="675.6" cy="267.1" r="2.06" fill="#46258F" opacity="0.90"/><circle cx="733.1" cy="223.9" r="0.83" fill="#3B1D85" opacity="0.94"/><circle cx="730.8" cy="293.3" r="0.65" fill="#5A38A8" opacity="0.98"/><circle cx="664.0" cy="274.2" r="0.74" fill="#2E1470" opacity="0.94"/><circle cx="757.3" cy="237.4" r="0.76" fill="#3B1D85" opacity="0.98"/><circle cx="698.4" cy="275.6" r="0.73" fill="#46258F" opacity="0.83"/><circle cx="718.3" cy="330.5" r="1.80" fill="#2A1060" opacity="0.81"/><circle cx="744.3" cy="285.0" r="1.50" fill="#5A38A8" opacity="0.99"/><circle cx="691.1" cy="239.3" r="1.02" fill="#5A38A8" opacity="0.95"/><circle cx="700.3" cy="214.6" r="1.07" fill="#2E1470" opacity="0.80"/><circle cx="664.6" cy="256.1" r="1.79" fill="#46258F" opacity="0.89"/><circle cx="698.8" cy="227.0" r="1.67" fill="#2A1060" opacity="0.97"/><circle cx="693.0" cy="244.2" r="0.96" fill="#46258F" opacity="0.97"/><circle cx="660.7" cy="264.6" r="0.78" fill="#3B1D85" opacity="0.87"/><circle cx="693.0" cy="270.6" r="1.56" fill="#3B1D85" opacity="0.95"/><circle cx="668.4" cy="318.0" r="2.37" fill="#3B1D85" opacity="0.91"/><circle cx="686.7" cy="277.3" r="1.89" fill="#2A1060" opacity="0.95"/><circle cx="723.6" cy="331.8" r="1.73" fill="#3B1D85" opacity="0.97"/><circle cx="682.7" cy="271.4" r="1.46" fill="#2A1060" opacity="0.94"/><circle cx="707.4" cy="281.1" r="1.71" fill="#2A1060" opacity="0.82"/><circle cx="655.8" cy="243.1" r="1.40" fill="#2A1060" opacity="0.83"/><circle cx="742.2" cy="266.7" r="1.62" fill="#2E1470" opacity="0.82"/><circle cx="681.8" cy="238.2" r="1.06" fill="#2A1060" opacity="0.89"/><circle cx="705.3" cy="341.8" r="0.63" fill="#5A38A8" opacity="0.91"/><circle cx="689.1" cy="271.5" r="1.85" fill="#2A1060" opacity="0.88"/><circle cx="673.4" cy="292.6" r="0.98" fill="#2E1470" opacity="0.89"/><circle cx="642.0" cy="234.8" r="1.22" fill="#46258F" opacity="0.82"/><circle cx="661.6" cy="276.9" r="2.42" fill="#3B1D85" opacity="0.83"/><circle cx="757.0" cy="265.0" r="1.06" fill="#3B1D85" opacity="0.95"/><circle cx="709.3" cy="269.8" r="1.13" fill="#5A38A8" opacity="0.81"/><circle cx="712.9" cy="278.5" r="1.56" fill="#3B1D85" opacity="0.97"/><circle cx="734.1" cy="242.4" r="0.96" fill="#2E1470" opacity="0.98"/><circle cx="685.7" cy="294.3" r="1.25" fill="#2A1060" opacity="0.97"/><circle cx="746.7" cy="222.5" r="1.74" fill="#5A38A8" opacity="0.95"/><circle cx="707.1" cy="274.9" r="0.76" fill="#5A38A8" opacity="0.85"/><circle cx="684.1" cy="255.4" r="0.94" fill="#5A38A8" opacity="0.87"/><circle cx="714.7" cy="232.8" r="0.90" fill="#5A38A8" opacity="0.88"/><circle cx="751.6" cy="250.0" r="0.99" fill="#2E1470" opacity="0.92"/><circle cx="750.5" cy="298.5" r="2.18" fill="#3B1D85" opacity="0.80"/><circle cx="689.0" cy="207.3" r="1.65" fill="#5A38A8" opacity="0.98"/><circle cx="702.0" cy="252.8" r="0.83" fill="#2E1470" opacity="0.96"/><circle cx="757.7" cy="225.6" r="1.31" fill="#46258F" opacity="0.87"/><circle cx="725.4" cy="313.3" r="1.77" fill="#46258F" opacity="0.90"/><circle cx="666.6" cy="327.1" r="0.81" fill="#46258F" opacity="0.96"/><circle cx="696.9" cy="300.3" r="1.75" fill="#2A1060" opacity="0.84"/><circle cx="671.6" cy="307.2" r="0.96" fill="#2E1470" opacity="0.94"/><circle cx="669.8" cy="267.2" r="2.10" fill="#2E1470" opacity="0.89"/><circle cx="715.3" cy="248.4" r="1.57" fill="#5A38A8" opacity="1.00"/><circle cx="671.7" cy="270.7" r="0.99" fill="#2A1060" opacity="0.90"/><circle cx="667.3" cy="266.5" r="1.48" fill="#46258F" opacity="0.95"/><circle cx="675.9" cy="226.5" r="1.25" fill="#2E1470" opacity="0.86"/><circle cx="654.6" cy="305.6" r="0.70" fill="#5A38A8" opacity="0.90"/><circle cx="675.1" cy="285.5" r="1.70" fill="#2A1060" opacity="0.82"/><circle cx="718.9" cy="264.5" r="1.57" fill="#5A38A8" opacity="0.87"/><circle cx="704.9" cy="273.3" r="0.78" fill="#2A1060" opacity="0.99"/><circle cx="644.6" cy="241.7" r="1.44" fill="#2E1470" opacity="0.80"/><circle cx="635.5" cy="270.1" r="1.82" fill="#46258F" opacity="0.81"/><circle cx="704.1" cy="310.8" r="1.50" fill="#2E1470" opacity="0.92"/><circle cx="663.4" cy="271.3" r="1.74" fill="#5A38A8" opacity="0.93"/><circle cx="741.8" cy="314.1" r="0.87" fill="#2A1060" opacity="0.80"/><circle cx="713.8" cy="301.4" r="1.22" fill="#46258F" opacity="0.93"/><circle cx="647.8" cy="234.8" r="1.55" fill="#3B1D85" opacity="0.99"/><circle cx="755.4" cy="236.0" r="0.97" fill="#2E1470" opacity="1.00"/>
</g>
<ellipse cx="703.90" cy="269.60" rx="75.50" ry="72.70" fill="none" stroke="#000" stroke-width="2.6"/>
<clipPath id="pc5"><ellipse cx="862.00" cy="270.50" rx="76.60" ry="73.60"/></clipPath>
<g clip-path="url(#pc5)">
<ellipse cx="862.00" cy="270.50" rx="76.60" ry="73.60" fill="#E6E6F2"/>
<rect x="775.40" y="256.50" width="173.20" height="24.00" fill="#BFBCD6" opacity="0.95" filter="url(#blur6)"/>
<rect x="775.40" y="310.50" width="173.20" height="30.00" fill="#D2D2E4" opacity="0.8" filter="url(#blur6)"/>
<circle cx="858.5" cy="205.0" r="1.44" fill="#2E1470" opacity="0.98"/><circle cx="868.2" cy="234.3" r="0.75" fill="#3B1D85" opacity="0.81"/><circle cx="857.1" cy="284.6" r="0.72" fill="#2A1060" opacity="0.97"/><circle cx="865.0" cy="294.6" r="0.85" fill="#3B1D85" opacity="0.96"/><circle cx="892.2" cy="263.1" r="0.67" fill="#3B1D85" opacity="0.76"/><circle cx="901.7" cy="243.5" r="0.80" fill="#3B1D85" opacity="0.75"/><circle cx="810.2" cy="272.5" r="0.50" fill="#46258F" opacity="0.80"/><circle cx="808.2" cy="267.3" r="0.98" fill="#2E1470" opacity="0.72"/><circle cx="831.5" cy="307.0" r="1.05" fill="#2E1470" opacity="0.81"/><circle cx="846.1" cy="214.4" r="1.96" fill="#2A1060" opacity="0.77"/><circle cx="814.9" cy="264.7" r="0.96" fill="#46258F" opacity="0.93"/><circle cx="934.5" cy="286.8" r="0.59" fill="#3B1D85" opacity="0.88"/><circle cx="855.6" cy="292.3" r="0.91" fill="#46258F" opacity="0.74"/><circle cx="870.9" cy="284.3" r="1.49" fill="#3B1D85" opacity="0.82"/><circle cx="840.7" cy="301.1" r="1.55" fill="#2E1470" opacity="0.99"/><circle cx="844.4" cy="299.4" r="1.48" fill="#2A1060" opacity="0.74"/><circle cx="880.3" cy="327.2" r="1.24" fill="#5A38A8" opacity="0.98"/><circle cx="913.0" cy="263.1" r="0.99" fill="#46258F" opacity="0.84"/><circle cx="883.0" cy="256.2" r="1.32" fill="#2A1060" opacity="0.75"/><circle cx="884.8" cy="317.2" r="1.02" fill="#2E1470" opacity="0.85"/><circle cx="871.9" cy="209.9" r="1.16" fill="#46258F" opacity="0.81"/><circle cx="905.0" cy="259.0" r="0.68" fill="#46258F" opacity="0.84"/><circle cx="804.0" cy="268.7" r="1.15" fill="#46258F" opacity="0.80"/><circle cx="883.4" cy="232.1" r="1.34" fill="#46258F" opacity="0.91"/><circle cx="806.6" cy="264.4" r="0.67" fill="#2A1060" opacity="0.98"/><circle cx="855.8" cy="271.2" r="0.67" fill="#2A1060" opacity="0.87"/><circle cx="812.0" cy="265.8" r="0.66" fill="#3B1D85" opacity="0.90"/><circle cx="889.4" cy="327.0" r="1.49" fill="#3B1D85" opacity="0.75"/><circle cx="838.0" cy="249.9" r="0.92" fill="#2E1470" opacity="0.90"/><circle cx="867.6" cy="340.2" r="0.50" fill="#2A1060" opacity="0.78"/><circle cx="840.8" cy="220.0" r="1.46" fill="#46258F" opacity="0.79"/><circle cx="830.9" cy="318.0" r="1.46" fill="#5A38A8" opacity="0.83"/><circle cx="842.3" cy="290.8" r="1.10" fill="#3B1D85" opacity="0.99"/><circle cx="819.0" cy="326.5" r="0.68" fill="#5A38A8" opacity="0.87"/><circle cx="829.3" cy="331.8" r="1.06" fill="#2A1060" opacity="0.99"/><circle cx="856.9" cy="333.4" r="0.66" fill="#46258F" opacity="0.92"/><circle cx="824.7" cy="291.6" r="1.48" fill="#2A1060" opacity="0.79"/><circle cx="885.1" cy="327.4" r="0.64" fill="#5A38A8" opacity="0.84"/><circle cx="887.8" cy="321.4" r="1.04" fill="#46258F" opacity="1.00"/><circle cx="917.1" cy="268.0" r="1.36" fill="#2E1470" opacity="0.97"/><circle cx="844.5" cy="321.6" r="0.84" fill="#2A1060" opacity="0.86"/><circle cx="876.2" cy="250.3" r="0.96" fill="#5A38A8" opacity="0.97"/><circle cx="888.6" cy="319.6" r="1.08" fill="#2A1060" opacity="0.89"/><circle cx="890.6" cy="227.8" r="1.18" fill="#2A1060" opacity="0.97"/><circle cx="926.1" cy="297.6" r="1.19" fill="#2A1060" opacity="0.79"/><circle cx="895.1" cy="310.3" r="1.05" fill="#3B1D85" opacity="0.80"/><circle cx="863.2" cy="287.9" r="1.32" fill="#2E1470" opacity="0.90"/><circle cx="929.0" cy="290.9" r="0.72" fill="#3B1D85" opacity="0.99"/><circle cx="848.1" cy="223.7" r="0.92" fill="#2E1470" opacity="0.94"/><circle cx="886.3" cy="277.0" r="1.19" fill="#5A38A8" opacity="0.72"/><circle cx="892.4" cy="323.5" r="0.93" fill="#2A1060" opacity="0.88"/><circle cx="814.4" cy="265.6" r="0.79" fill="#46258F" opacity="0.90"/><circle cx="805.2" cy="250.9" r="0.76" fill="#46258F" opacity="0.78"/><circle cx="886.7" cy="297.0" r="0.87" fill="#2E1470" opacity="0.75"/><circle cx="915.8" cy="301.2" r="0.80" fill="#3B1D85" opacity="0.88"/><circle cx="868.2" cy="326.3" r="1.75" fill="#2E1470" opacity="0.92"/><circle cx="909.2" cy="254.1" r="1.29" fill="#2A1060" opacity="0.73"/><circle cx="900.7" cy="315.3" r="1.15" fill="#5A38A8" opacity="0.80"/><circle cx="875.4" cy="227.1" r="1.22" fill="#2A1060" opacity="0.79"/><circle cx="852.5" cy="281.2" r="2.02" fill="#2E1470" opacity="0.75"/><circle cx="860.1" cy="290.6" r="0.99" fill="#46258F" opacity="0.90"/><circle cx="871.0" cy="338.8" r="1.42" fill="#3B1D85" opacity="0.84"/><circle cx="896.8" cy="258.0" r="1.37" fill="#2E1470" opacity="0.87"/><circle cx="862.1" cy="231.9" r="0.53" fill="#46258F" opacity="0.80"/><circle cx="853.8" cy="273.0" r="0.97" fill="#46258F" opacity="0.74"/><circle cx="860.5" cy="241.9" r="0.95" fill="#2E1470" opacity="0.77"/><circle cx="916.7" cy="237.9" r="1.59" fill="#2E1470" opacity="0.81"/><circle cx="855.8" cy="241.4" r="0.74" fill="#5A38A8" opacity="0.98"/><circle cx="813.8" cy="266.9" r="1.28" fill="#5A38A8" opacity="0.71"/><circle cx="892.0" cy="223.3" r="1.44" fill="#2A1060" opacity="0.77"/><circle cx="898.5" cy="327.2" r="0.55" fill="#46258F" opacity="0.72"/><circle cx="804.2" cy="290.1" r="1.38" fill="#5A38A8" opacity="0.76"/><circle cx="876.1" cy="303.4" r="1.43" fill="#3B1D85" opacity="0.73"/><circle cx="884.0" cy="243.8" r="0.52" fill="#5A38A8" opacity="0.85"/><circle cx="834.4" cy="266.8" r="0.51" fill="#3B1D85" opacity="0.91"/><circle cx="896.3" cy="309.7" r="1.28" fill="#3B1D85" opacity="0.82"/><circle cx="846.5" cy="287.6" r="1.30" fill="#46258F" opacity="0.90"/><circle cx="874.2" cy="250.6" r="0.79" fill="#2A1060" opacity="0.73"/><circle cx="813.1" cy="314.7" r="0.50" fill="#3B1D85" opacity="0.98"/><circle cx="797.3" cy="294.1" r="1.16" fill="#2A1060" opacity="0.92"/><circle cx="869.4" cy="323.7" r="1.09" fill="#46258F" opacity="0.85"/><circle cx="846.1" cy="281.4" r="0.71" fill="#46258F" opacity="0.99"/><circle cx="818.2" cy="264.9" r="0.73" fill="#46258F" opacity="0.81"/><circle cx="831.1" cy="238.0" r="1.66" fill="#3B1D85" opacity="0.86"/><circle cx="903.4" cy="321.1" r="0.93" fill="#2A1060" opacity="0.80"/><circle cx="813.0" cy="282.3" r="0.94" fill="#5A38A8" opacity="0.98"/><circle cx="858.9" cy="270.7" r="0.63" fill="#3B1D85" opacity="0.91"/><circle cx="918.9" cy="282.0" r="0.98" fill="#3B1D85" opacity="0.82"/><circle cx="854.4" cy="261.0" r="1.26" fill="#3B1D85" opacity="0.81"/><circle cx="824.1" cy="210.5" r="0.56" fill="#3B1D85" opacity="0.80"/><circle cx="847.1" cy="271.4" r="0.90" fill="#3B1D85" opacity="0.92"/><circle cx="863.7" cy="219.7" r="0.97" fill="#3B1D85" opacity="0.73"/><circle cx="866.5" cy="292.5" r="1.12" fill="#2E1470" opacity="0.71"/><circle cx="808.0" cy="266.1" r="1.05" fill="#5A38A8" opacity="0.83"/><circle cx="839.9" cy="214.1" r="1.04" fill="#5A38A8" opacity="0.81"/><circle cx="860.4" cy="252.8" r="0.59" fill="#2A1060" opacity="0.87"/><circle cx="856.3" cy="299.1" r="0.57" fill="#46258F" opacity="0.90"/><circle cx="835.2" cy="208.2" r="1.24" fill="#5A38A8" opacity="0.76"/><circle cx="859.6" cy="309.1" r="1.04" fill="#2A1060" opacity="0.70"/><circle cx="884.3" cy="240.3" r="1.20" fill="#5A38A8" opacity="0.91"/><circle cx="900.0" cy="266.8" r="0.60" fill="#5A38A8" opacity="0.94"/><circle cx="879.5" cy="253.7" r="0.69" fill="#5A38A8" opacity="0.87"/><circle cx="818.7" cy="294.5" r="1.03" fill="#46258F" opacity="0.79"/><circle cx="812.6" cy="267.8" r="0.62" fill="#3B1D85" opacity="0.88"/><circle cx="806.7" cy="263.3" r="1.19" fill="#2A1060" opacity="0.72"/><circle cx="851.9" cy="300.9" r="1.15" fill="#5A38A8" opacity="0.77"/><circle cx="837.9" cy="273.9" r="0.94" fill="#3B1D85" opacity="0.73"/><circle cx="850.8" cy="280.9" r="0.82" fill="#5A38A8" opacity="0.75"/><circle cx="860.2" cy="279.9" r="1.11" fill="#2E1470" opacity="0.97"/><circle cx="878.2" cy="327.8" r="1.10" fill="#2A1060" opacity="0.91"/><circle cx="813.9" cy="266.2" r="1.26" fill="#2E1470" opacity="0.79"/><circle cx="928.4" cy="270.1" r="0.70" fill="#2A1060" opacity="0.74"/><circle cx="864.3" cy="248.7" r="0.61" fill="#2E1470" opacity="0.98"/><circle cx="909.2" cy="285.4" r="0.74" fill="#46258F" opacity="0.72"/><circle cx="814.4" cy="254.6" r="0.68" fill="#3B1D85" opacity="0.96"/><circle cx="813.5" cy="268.2" r="1.78" fill="#2E1470" opacity="0.94"/><circle cx="873.9" cy="267.1" r="0.51" fill="#5A38A8" opacity="0.99"/><circle cx="841.0" cy="222.1" r="0.55" fill="#2A1060" opacity="0.93"/><circle cx="919.9" cy="248.4" r="1.12" fill="#2A1060" opacity="0.76"/><circle cx="800.8" cy="306.2" r="1.33" fill="#3B1D85" opacity="0.81"/><circle cx="902.4" cy="322.7" r="0.92" fill="#3B1D85" opacity="1.00"/><circle cx="859.2" cy="260.8" r="0.79" fill="#3B1D85" opacity="0.74"/><circle cx="918.2" cy="298.9" r="0.54" fill="#2E1470" opacity="0.74"/><circle cx="818.9" cy="272.1" r="0.96" fill="#46258F" opacity="0.72"/><circle cx="894.3" cy="276.6" r="0.93" fill="#46258F" opacity="0.93"/><circle cx="875.4" cy="259.3" r="1.47" fill="#2E1470" opacity="0.73"/><circle cx="872.0" cy="329.7" r="0.98" fill="#3B1D85" opacity="0.99"/><circle cx="868.4" cy="278.0" r="0.51" fill="#2E1470" opacity="0.77"/><circle cx="842.2" cy="254.8" r="1.11" fill="#5A38A8" opacity="0.72"/><circle cx="909.7" cy="318.9" r="1.06" fill="#2E1470" opacity="0.73"/><circle cx="823.7" cy="309.5" r="1.21" fill="#2A1060" opacity="0.98"/><circle cx="837.6" cy="239.4" r="1.55" fill="#5A38A8" opacity="0.76"/><circle cx="814.0" cy="262.9" r="0.91" fill="#2E1470" opacity="0.72"/><circle cx="875.7" cy="318.3" r="0.76" fill="#3B1D85" opacity="0.80"/><circle cx="811.9" cy="270.4" r="1.28" fill="#2E1470" opacity="0.78"/><circle cx="815.5" cy="308.1" r="0.75" fill="#2A1060" opacity="0.96"/><circle cx="892.5" cy="221.9" r="1.07" fill="#2E1470" opacity="0.81"/><circle cx="854.5" cy="273.8" r="1.17" fill="#2A1060" opacity="0.71"/><circle cx="874.6" cy="323.0" r="1.96" fill="#5A38A8" opacity="0.72"/><circle cx="856.8" cy="277.9" r="1.02" fill="#46258F" opacity="0.95"/><circle cx="812.0" cy="270.5" r="0.50" fill="#2A1060" opacity="0.85"/><circle cx="882.0" cy="298.9" r="0.76" fill="#2E1470" opacity="0.76"/><circle cx="852.9" cy="277.9" r="1.02" fill="#2A1060" opacity="0.76"/><circle cx="901.1" cy="323.6" r="0.52" fill="#5A38A8" opacity="0.87"/><circle cx="908.2" cy="238.3" r="1.16" fill="#46258F" opacity="0.94"/><circle cx="860.8" cy="294.0" r="1.35" fill="#2E1470" opacity="0.85"/><circle cx="912.0" cy="313.7" r="1.13" fill="#5A38A8" opacity="0.89"/><circle cx="893.1" cy="330.4" r="1.71" fill="#2E1470" opacity="0.96"/><circle cx="811.2" cy="262.4" r="1.85" fill="#3B1D85" opacity="0.79"/><circle cx="862.3" cy="267.0" r="1.36" fill="#3B1D85" opacity="0.82"/><circle cx="808.2" cy="261.4" r="0.82" fill="#2A1060" opacity="0.72"/><circle cx="879.9" cy="257.5" r="0.58" fill="#2A1060" opacity="0.86"/><circle cx="800.5" cy="263.1" r="1.25" fill="#3B1D85" opacity="0.85"/><circle cx="876.8" cy="243.6" r="1.31" fill="#2E1470" opacity="0.74"/><circle cx="835.2" cy="238.9" r="1.05" fill="#46258F" opacity="0.89"/><circle cx="807.7" cy="268.0" r="1.63" fill="#2A1060" opacity="0.88"/><circle cx="858.8" cy="247.1" r="2.02" fill="#2E1470" opacity="0.75"/><circle cx="859.7" cy="320.6" r="1.18" fill="#46258F" opacity="0.84"/><circle cx="861.5" cy="314.4" r="0.55" fill="#2E1470" opacity="0.74"/><circle cx="870.7" cy="320.5" r="1.37" fill="#46258F" opacity="0.78"/><circle cx="815.4" cy="270.2" r="0.91" fill="#3B1D85" opacity="0.74"/><circle cx="861.7" cy="268.1" r="1.44" fill="#46258F" opacity="0.96"/><circle cx="868.4" cy="333.8" r="1.01" fill="#2E1470" opacity="0.88"/><circle cx="871.2" cy="319.7" r="0.98" fill="#3B1D85" opacity="0.81"/><circle cx="835.8" cy="273.9" r="0.70" fill="#3B1D85" opacity="0.96"/><circle cx="842.2" cy="284.4" r="0.92" fill="#2E1470" opacity="0.89"/><circle cx="834.5" cy="239.5" r="1.00" fill="#2E1470" opacity="0.79"/><circle cx="891.6" cy="316.4" r="1.39" fill="#2A1060" opacity="0.70"/><circle cx="860.0" cy="290.5" r="0.67" fill="#2A1060" opacity="0.97"/><circle cx="850.1" cy="268.9" r="1.30" fill="#5A38A8" opacity="0.89"/>
</g>
<ellipse cx="862.00" cy="270.50" rx="75.30" ry="72.30" fill="none" stroke="#000" stroke-width="2.6"/>
<clipPath id="pc6"><ellipse cx="1019.20" cy="268.10" rx="77.00" ry="73.40"/></clipPath>
<g clip-path="url(#pc6)">
<ellipse cx="1019.20" cy="268.10" rx="77.00" ry="73.40" fill="#E9EAF4"/>
<rect x="932.20" y="206.10" width="174.00" height="14.00" fill="#CCD2E0" opacity="0.9" filter="url(#blur6)"/>
<circle cx="1038.0" cy="204.0" r="0.99" fill="#5A38A8" opacity="0.70"/><circle cx="953.3" cy="280.0" r="0.87" fill="#3B1D85" opacity="0.78"/><circle cx="1012.9" cy="221.3" r="1.04" fill="#5A38A8" opacity="0.76"/><circle cx="998.7" cy="208.6" r="1.16" fill="#2A1060" opacity="0.73"/><circle cx="1007.2" cy="287.3" r="1.30" fill="#2E1470" opacity="0.83"/><circle cx="1021.5" cy="206.7" r="1.75" fill="#3B1D85" opacity="0.71"/><circle cx="1053.8" cy="206.2" r="0.99" fill="#5A38A8" opacity="0.76"/><circle cx="979.6" cy="219.7" r="1.31" fill="#46258F" opacity="0.71"/><circle cx="1020.8" cy="316.2" r="1.16" fill="#5A38A8" opacity="0.85"/><circle cx="1038.1" cy="322.4" r="0.77" fill="#3B1D85" opacity="0.81"/><circle cx="1042.0" cy="293.8" r="1.37" fill="#3B1D85" opacity="0.70"/><circle cx="1063.4" cy="272.6" r="1.40" fill="#2A1060" opacity="0.79"/><circle cx="978.4" cy="261.3" r="1.18" fill="#5A38A8" opacity="0.76"/><circle cx="1018.1" cy="221.8" r="2.00" fill="#5A38A8" opacity="0.99"/><circle cx="984.3" cy="207.4" r="0.95" fill="#5A38A8" opacity="0.94"/><circle cx="981.2" cy="286.1" r="1.32" fill="#46258F" opacity="0.76"/><circle cx="956.8" cy="286.9" r="1.98" fill="#46258F" opacity="0.86"/><circle cx="980.0" cy="244.6" r="0.76" fill="#46258F" opacity="0.98"/><circle cx="1092.8" cy="259.9" r="0.92" fill="#2A1060" opacity="0.88"/><circle cx="953.9" cy="271.2" r="1.00" fill="#46258F" opacity="0.84"/><circle cx="1061.0" cy="247.2" r="1.10" fill="#2A1060" opacity="0.82"/><circle cx="1015.2" cy="239.2" r="1.33" fill="#2E1470" opacity="0.89"/><circle cx="1043.9" cy="320.4" r="1.07" fill="#2A1060" opacity="0.81"/><circle cx="1030.8" cy="253.5" r="0.69" fill="#2A1060" opacity="0.88"/><circle cx="1043.0" cy="206.5" r="1.38" fill="#46258F" opacity="0.77"/><circle cx="1000.2" cy="289.4" r="1.13" fill="#2E1470" opacity="0.74"/><circle cx="1015.5" cy="252.9" r="0.98" fill="#2E1470" opacity="0.72"/><circle cx="1010.9" cy="243.2" r="1.80" fill="#46258F" opacity="0.89"/><circle cx="1080.1" cy="230.1" r="0.95" fill="#3B1D85" opacity="0.94"/><circle cx="1033.1" cy="239.1" r="1.43" fill="#5A38A8" opacity="0.83"/><circle cx="1008.5" cy="329.2" r="0.56" fill="#46258F" opacity="0.99"/><circle cx="1010.2" cy="278.5" r="1.00" fill="#2A1060" opacity="0.78"/>
</g>
<ellipse cx="1019.20" cy="268.10" rx="75.70" ry="72.10" fill="none" stroke="#000" stroke-width="2.6"/>
</g>
<g id="panelC">
<text x="1135.50" y="35.80" font-size="50.50" font-weight="bold" text-anchor="start" fill="#000" transform="translate(1135.50 0) scale(0.7800 1) translate(-1135.50 0)" stroke="#000" stroke-width="1">C</text>
<rect x="1284.40" y="87.20" width="27.20" height="184.40" fill="#000"/>
<line x1="1298.00" y1="53.60" x2="1298.00" y2="88.20" stroke="#000" stroke-width="2.7" stroke-linecap="butt"/>
<line x1="1291.25" y1="53.60" x2="1304.75" y2="53.60" stroke="#000" stroke-width="2.7" stroke-linecap="butt"/>
<rect x="1338.10" y="157.20" width="27.20" height="114.40" fill="#0000C8"/>
<line x1="1351.70" y1="149.20" x2="1351.70" y2="158.20" stroke="#0000C8" stroke-width="2.7" stroke-linecap="butt"/>
<line x1="1344.95" y1="149.20" x2="1358.45" y2="149.20" stroke="#0000C8" stroke-width="2.7" stroke-linecap="butt"/>
<rect x="1391.90" y="162.40" width="27.20" height="109.20" fill="#0000C8"/>
<line x1="1405.50" y1="141.80" x2="1405.50" y2="163.40" stroke="#0000C8" stroke-width="2.7" stroke-linecap="butt"/>
<line x1="1398.75" y1="141.80" x2="1412.25" y2="141.80" stroke="#0000C8" stroke-width="2.7" stroke-linecap="butt"/>
<rect x="1445.40" y="244.40" width="27.20" height="27.20" fill="#FF0000"/>
<line x1="1459.00" y1="239.40" x2="1459.00" y2="245.40" stroke="#FF0000" stroke-width="2.7" stroke-linecap="butt"/>
<line x1="1452.25" y1="239.40" x2="1465.75" y2="239.40" stroke="#FF0000" stroke-width="2.7" stroke-linecap="butt"/>
<rect x="1499.20" y="245.80" width="27.20" height="25.80" fill="#FF0000"/>
<line x1="1512.80" y1="241.00" x2="1512.80" y2="246.80" stroke="#FF0000" stroke-width="2.7" stroke-linecap="butt"/>
<line x1="1506.05" y1="241.00" x2="1519.55" y2="241.00" stroke="#FF0000" stroke-width="2.7" stroke-linecap="butt"/>
<line x1="1270.90" y1="40.15" x2="1270.90" y2="272.95" stroke="#000" stroke-width="2.7" stroke-linecap="butt"/>
<line x1="1261.90" y1="271.60" x2="1541.00" y2="271.60" stroke="#000" stroke-width="2.7" stroke-linecap="butt"/>
<line x1="1261.90" y1="41.50" x2="1270.90" y2="41.50" stroke="#000" stroke-width="2.7" stroke-linecap="butt"/>
<text x="1258.40" y="48.55" font-size="19.70" font-weight="bold" text-anchor="end" fill="#000" stroke="#000" stroke-width="0.25">50</text>
<line x1="1261.90" y1="87.50" x2="1270.90" y2="87.50" stroke="#000" stroke-width="2.7" stroke-linecap="butt"/>
<text x="1258.40" y="94.55" font-size="19.70" font-weight="bold" text-anchor="end" fill="#000" stroke="#000" stroke-width="0.25">40</text>
<line x1="1261.90" y1="133.60" x2="1270.90" y2="133.60" stroke="#000" stroke-width="2.7" stroke-linecap="butt"/>
<text x="1258.40" y="140.65" font-size="19.70" font-weight="bold" text-anchor="end" fill="#000" stroke="#000" stroke-width="0.25">30</text>
<line x1="1261.90" y1="179.50" x2="1270.90" y2="179.50" stroke="#000" stroke-width="2.7" stroke-linecap="butt"/>
<text x="1258.40" y="186.55" font-size="19.70" font-weight="bold" text-anchor="end" fill="#000" stroke="#000" stroke-width="0.25">20</text>
<line x1="1261.90" y1="225.60" x2="1270.90" y2="225.60" stroke="#000" stroke-width="2.7" stroke-linecap="butt"/>
<text x="1258.40" y="232.65" font-size="19.70" font-weight="bold" text-anchor="end" fill="#000" stroke="#000" stroke-width="0.25">10</text>
<line x1="1261.90" y1="271.60" x2="1270.90" y2="271.60" stroke="#000" stroke-width="2.7" stroke-linecap="butt"/>
<text x="1258.40" y="278.65" font-size="19.70" font-weight="bold" text-anchor="end" fill="#000" stroke="#000" stroke-width="0.25">0</text>
<line x1="1298.00" y1="271.60" x2="1298.00" y2="280.10" stroke="#000" stroke-width="2.7" stroke-linecap="butt"/>
<line x1="1351.70" y1="271.60" x2="1351.70" y2="280.10" stroke="#000" stroke-width="2.7" stroke-linecap="butt"/>
<line x1="1405.50" y1="271.60" x2="1405.50" y2="280.10" stroke="#000" stroke-width="2.7" stroke-linecap="butt"/>
<line x1="1459.00" y1="271.60" x2="1459.00" y2="280.10" stroke="#000" stroke-width="2.7" stroke-linecap="butt"/>
<line x1="1512.80" y1="271.60" x2="1512.80" y2="280.10" stroke="#000" stroke-width="2.7" stroke-linecap="butt"/>
<text x="1305.00" y="297.00" font-size="21.10" font-weight="bold" text-anchor="end" fill="#000" transform="rotate(-45 1305.00 297.00)" stroke="#000" stroke-width="0.25">HepG2(Scr)</text>
<text x="1358.70" y="297.00" font-size="21.10" font-weight="bold" text-anchor="end" fill="#000" transform="rotate(-45 1358.70 297.00)" stroke="#000" stroke-width="0.25">miR-23a KO 1</text>
<text x="1412.50" y="297.00" font-size="21.10" font-weight="bold" text-anchor="end" fill="#000" transform="rotate(-45 1412.50 297.00)" stroke="#000" stroke-width="0.25">miR-23a KO 2</text>
<text x="1466.00" y="297.00" font-size="21.10" font-weight="bold" text-anchor="end" fill="#000" transform="rotate(-45 1466.00 297.00)" stroke="#000" stroke-width="0.25">miR-27a KO 1</text>
<text x="1519.80" y="297.00" font-size="21.10" font-weight="bold" text-anchor="end" fill="#000" transform="rotate(-45 1519.80 297.00)" stroke="#000" stroke-width="0.25">miR-27a KO 2</text>
<text x="1352.65" y="146.65" font-size="23.60" font-weight="normal" text-anchor="middle" fill="#000" stroke="#000" stroke-width="0.45" letter-spacing="0.7">**</text>
<text x="1406.15" y="138.65" font-size="23.60" font-weight="normal" text-anchor="middle" fill="#000" stroke="#000" stroke-width="0.45" letter-spacing="0.7">**</text>
<text x="1459.85" y="238.65" font-size="23.60" font-weight="normal" text-anchor="middle" fill="#000" stroke="#000" stroke-width="0.45" letter-spacing="0.7">***</text>
<text x="1513.85" y="240.15" font-size="23.60" font-weight="normal" text-anchor="middle" fill="#000" stroke="#000" stroke-width="0.45" letter-spacing="0.7">***</text>
<text transform="translate(1192.20 157.40) rotate(-90) scale(0.9524 1)" font-size="24.10" font-weight="bold" text-anchor="middle" stroke="#000" stroke-width="0.35">Average area of colonies</text>
<text transform="translate(1223.40 157.20) rotate(-90) scale(0.9524 1)" font-size="24.36" font-weight="bold" text-anchor="middle" stroke="#000" stroke-width="0.35">(x10<tspan dy="-10.3" font-size="16.00">3</tspan><tspan dy="10.3"> mm</tspan><tspan dy="-10.3" font-size="16.00">2</tspan><tspan dy="10.3">)</tspan></text>
</g>
<g id="panelD">
<text x="1566.50" y="35.50" font-size="50.50" font-weight="bold" text-anchor="start" fill="#000" transform="translate(1566.50 0) scale(0.8800 1) translate(-1566.50 0)" stroke="#000" stroke-width="1">D</text>
<rect x="1689.50" y="118.40" width="27.00" height="152.60" fill="#000"/>
<line x1="1703.00" y1="107.60" x2="1703.00" y2="119.40" stroke="#000" stroke-width="2.7" stroke-linecap="butt"/>
<line x1="1696.25" y1="107.60" x2="1709.75" y2="107.60" stroke="#000" stroke-width="2.7" stroke-linecap="butt"/>
<rect x="1743.00" y="165.20" width="27.00" height="105.80" fill="#0000C8"/>
<line x1="1756.50" y1="157.60" x2="1756.50" y2="166.20" stroke="#0000C8" stroke-width="2.7" stroke-linecap="butt"/>
<line x1="1749.75" y1="157.60" x2="1763.25" y2="157.60" stroke="#0000C8" stroke-width="2.7" stroke-linecap="butt"/>
<rect x="1796.50" y="161.00" width="27.00" height="110.00" fill="#0000C8"/>
<line x1="1810.00" y1="152.40" x2="1810.00" y2="162.00" stroke="#0000C8" stroke-width="2.7" stroke-linecap="butt"/>
<line x1="1803.25" y1="152.40" x2="1816.75" y2="152.40" stroke="#0000C8" stroke-width="2.7" stroke-linecap="butt"/>
<rect x="1850.10" y="239.20" width="27.00" height="31.80" fill="#FF0000"/>
<line x1="1863.60" y1="235.40" x2="1863.60" y2="240.20" stroke="#FF0000" stroke-width="2.7" stroke-linecap="butt"/>
<line x1="1856.85" y1="235.40" x2="1870.35" y2="235.40" stroke="#FF0000" stroke-width="2.7" stroke-linecap="butt"/>
<rect x="1903.50" y="238.20" width="27.00" height="32.80" fill="#FF0000"/>
<line x1="1917.00" y1="230.40" x2="1917.00" y2="239.20" stroke="#FF0000" stroke-width="2.7" stroke-linecap="butt"/>
<line x1="1910.25" y1="230.40" x2="1923.75" y2="230.40" stroke="#FF0000" stroke-width="2.7" stroke-linecap="butt"/>
<line x1="1676.40" y1="40.15" x2="1676.40" y2="272.35" stroke="#000" stroke-width="2.7" stroke-linecap="butt"/>
<line x1="1667.90" y1="271.00" x2="1945.00" y2="271.00" stroke="#000" stroke-width="2.7" stroke-linecap="butt"/>
<line x1="1667.90" y1="41.50" x2="1676.40" y2="41.50" stroke="#000" stroke-width="2.7" stroke-linecap="butt"/>
<text x="1664.40" y="48.80" font-size="20.40" font-weight="bold" text-anchor="end" fill="#000" stroke="#000" stroke-width="0.25">400</text>
<line x1="1667.90" y1="98.70" x2="1676.40" y2="98.70" stroke="#000" stroke-width="2.7" stroke-linecap="butt"/>
<text x="1664.40" y="106.00" font-size="20.40" font-weight="bold" text-anchor="end" fill="#000" stroke="#000" stroke-width="0.25">300</text>
<line x1="1667.90" y1="156.10" x2="1676.40" y2="156.10" stroke="#000" stroke-width="2.7" stroke-linecap="butt"/>
<text x="1664.40" y="163.40" font-size="20.40" font-weight="bold" text-anchor="end" fill="#000" stroke="#000" stroke-width="0.25">200</text>
<line x1="1667.90" y1="213.60" x2="1676.40" y2="213.60" stroke="#000" stroke-width="2.7" stroke-linecap="butt"/>
<text x="1664.40" y="220.90" font-size="20.40" font-weight="bold" text-anchor="end" fill="#000" stroke="#000" stroke-width="0.25">100</text>
<line x1="1667.90" y1="271.00" x2="1676.40" y2="271.00" stroke="#000" stroke-width="2.7" stroke-linecap="butt"/>
<text x="1664.40" y="278.30" font-size="20.40" font-weight="bold" text-anchor="end" fill="#000" stroke="#000" stroke-width="0.25">0</text>
<line x1="1703.00" y1="271.00" x2="1703.00" y2="279.50" stroke="#000" stroke-width="2.7" stroke-linecap="butt"/>
<line x1="1756.50" y1="271.00" x2="1756.50" y2="279.50" stroke="#000" stroke-width="2.7" stroke-linecap="butt"/>
<line x1="1810.00" y1="271.00" x2="1810.00" y2="279.50" stroke="#000" stroke-width="2.7" stroke-linecap="butt"/>
<line x1="1863.60" y1="271.00" x2="1863.60" y2="279.50" stroke="#000" stroke-width="2.7" stroke-linecap="butt"/>
<line x1="1917.00" y1="271.00" x2="1917.00" y2="279.50" stroke="#000" stroke-width="2.7" stroke-linecap="butt"/>
<text x="1710.00" y="297.00" font-size="21.00" font-weight="bold" text-anchor="end" fill="#000" transform="rotate(-45 1710.00 297.00)" stroke="#000" stroke-width="0.25">HepG2(Scr)</text>
<text x="1763.50" y="297.00" font-size="21.00" font-weight="bold" text-anchor="end" fill="#000" transform="rotate(-45 1763.50 297.00)" stroke="#000" stroke-width="0.25">miR-23a KO 1</text>
<text x="1817.00" y="297.00" font-size="21.00" font-weight="bold" text-anchor="end" fill="#000" transform="rotate(-45 1817.00 297.00)" stroke="#000" stroke-width="0.25">miR-23a KO 2</text>
<text x="1870.60" y="297.00" font-size="21.00" font-weight="bold" text-anchor="end" fill="#000" transform="rotate(-45 1870.60 297.00)" stroke="#000" stroke-width="0.25">miR-27a KO 1</text>
<text x="1924.00" y="297.00" font-size="21.00" font-weight="bold" text-anchor="end" fill="#000" transform="rotate(-45 1924.00 297.00)" stroke="#000" stroke-width="0.25">miR-27a KO 2</text>
<text x="1756.85" y="155.75" font-size="23.60" font-weight="normal" text-anchor="middle" fill="#000" stroke="#000" stroke-width="0.45" letter-spacing="0.7">***</text>
<text x="1809.85" y="149.75" font-size="23.60" font-weight="normal" text-anchor="middle" fill="#000" stroke="#000" stroke-width="0.45" letter-spacing="0.7">***</text>
<text x="1864.35" y="232.75" font-size="23.60" font-weight="normal" text-anchor="middle" fill="#000" stroke="#000" stroke-width="0.45" letter-spacing="0.7">***</text>
<text x="1917.85" y="228.55" font-size="23.60" font-weight="normal" text-anchor="middle" fill="#000" stroke="#000" stroke-width="0.45" letter-spacing="0.7">***</text>
<text transform="translate(1616.90 156.80) rotate(-90) scale(0.9524 1)" font-size="27.72" font-weight="bold" text-anchor="middle" stroke="#000" stroke-width="0.35">Colonies</text>
</g>
<g id="panelE">
<defs>
<linearGradient id="eg1" x1="0" y1="0" x2="1" y2="1"><stop offset="0" stop-color="#9C48BE"/><stop offset="0.5" stop-color="#BC66D4"/><stop offset="1" stop-color="#D085E3"/></linearGradient>
<linearGradient id="eg2" x1="0" y1="0" x2="1" y2="0.3"><stop offset="0" stop-color="#CF85DE"/><stop offset="0.6" stop-color="#CC84DD"/><stop offset="1" stop-color="#BF70D2"/></linearGradient>
<linearGradient id="eg3" x1="0" y1="0" x2="1" y2="0.6"><stop offset="0" stop-color="#BF6FDB"/><stop offset="0.5" stop-color="#CB85DF"/><stop offset="1" stop-color="#C585DA"/></linearGradient>
<linearGradient id="eg4" x1="0" y1="0" x2="1" y2="1"><stop offset="0" stop-color="#C06AD8"/><stop offset="0.35" stop-color="#D37FE3"/><stop offset="0.7" stop-color="#C368DC"/><stop offset="1" stop-color="#B85CD4"/></linearGradient>
<linearGradient id="eg5" x1="0" y1="0" x2="1" y2="1"><stop offset="0" stop-color="#C074D0"/><stop offset="0.5" stop-color="#CF88DB"/><stop offset="1" stop-color="#C278D2"/></linearGradient>
<filter id="eb12" x="-50%" y="-50%" width="200%" height="200%"><feGaussianBlur stdDeviation="14"/></filter>
<filter id="eb1" x="-20%" y="-20%" width="140%" height="140%"><feGaussianBlur stdDeviation="0.6"/></filter>
<filter id="eb2" x="-20%" y="-20%" width="140%" height="140%"><feGaussianBlur stdDeviation="2.2"/></filter>
<pattern id="egr" width="3.4" height="3.4" patternUnits="userSpaceOnUse"><circle cx="1.7" cy="1.7" r="1.15" fill="none" stroke="#B478E8" stroke-width="0.55" opacity="0.7"/><circle cx="0" cy="0" r="0.7" fill="#3C0C90" opacity="0.35"/></pattern>
</defs>
<text x="1.80" y="488.00" font-size="50.50" font-weight="bold" text-anchor="start" fill="#000" transform="translate(1.80 0) scale(0.7000 1) translate(-1.80 0)" stroke="#000" stroke-width="1">E</text>
<text x="195.00" y="479.00" font-size="23.60" font-weight="bold" text-anchor="middle" fill="#000" stroke="#000" stroke-width="0.25">HepG2(Scr)</text>
<text x="385.00" y="479.00" font-size="23.60" font-weight="bold" text-anchor="middle" fill="#000" stroke="#000" stroke-width="0.25">miR-23a KO 1</text>
<text x="587.80" y="479.00" font-size="23.60" font-weight="bold" text-anchor="middle" fill="#000" stroke="#000" stroke-width="0.25">miR-23a KO 2</text>
<text x="783.30" y="479.00" font-size="23.60" font-weight="bold" text-anchor="middle" fill="#000" stroke="#000" stroke-width="0.25">miR-27a KO 1</text>
<text x="973.30" y="479.00" font-size="23.60" font-weight="bold" text-anchor="middle" fill="#000" stroke="#000" stroke-width="0.25">miR-27a KO 2</text>
<clipPath id="ect0"><rect x="98.00" y="497.00" width="189.90" height="142.90"/></clipPath>
<g clip-path="url(#ect0)">
<rect x="98.00" y="497.00" width="189.90" height="142.90" fill="url(#eg1)"/>
<g filter="url(#eb1)">
<circle cx="176.8" cy="510.2" r="5.1" fill="#36115F"/><circle cx="174.8" cy="512.3" r="2.5" fill="#36115F"/><circle cx="177.8" cy="507.5" r="2.8" fill="#36115F"/><circle cx="179.0" cy="508.3" r="2.9" fill="#36115F"/><circle cx="178.6" cy="507.9" r="3.1" fill="#36115F"/><circle cx="179.0" cy="512.1" r="3.0" fill="#36115F"/><circle cx="159.3" cy="536.6" r="6.7" fill="#36115F"/><circle cx="157.4" cy="533.3" r="3.8" fill="#36115F"/><circle cx="162.8" cy="538.1" r="3.9" fill="#36115F"/><circle cx="161.8" cy="539.4" r="3.6" fill="#36115F"/><circle cx="162.4" cy="534.3" r="3.4" fill="#36115F"/><circle cx="159.3" cy="540.4" r="3.3" fill="#36115F"/><circle cx="183.8" cy="541.5" r="7.7" fill="#36115F"/><circle cx="186.4" cy="537.9" r="4.0" fill="#36115F"/><circle cx="185.0" cy="537.3" r="4.0" fill="#36115F"/><circle cx="179.5" cy="542.3" r="4.7" fill="#36115F"/><circle cx="187.5" cy="544.0" r="4.1" fill="#36115F"/><circle cx="185.4" cy="537.4" r="4.3" fill="#36115F"/><circle cx="196.7" cy="526.8" r="3.7" fill="#36115F"/><circle cx="197.8" cy="528.6" r="2.2" fill="#36115F"/><circle cx="196.0" cy="528.8" r="2.3" fill="#36115F"/><circle cx="196.8" cy="528.9" r="2.0" fill="#36115F"/><circle cx="194.6" cy="527.2" r="2.2" fill="#36115F"/><circle cx="198.1" cy="525.2" r="2.0" fill="#36115F"/><circle cx="221.3" cy="524.3" r="3.7" fill="#36115F"/><circle cx="220.8" cy="526.3" r="2.2" fill="#36115F"/><circle cx="219.2" cy="523.8" r="2.2" fill="#36115F"/><circle cx="220.2" cy="526.1" r="2.0" fill="#36115F"/><circle cx="223.2" cy="525.1" r="2.0" fill="#36115F"/><circle cx="220.4" cy="522.4" r="2.1" fill="#36115F"/><circle cx="174.6" cy="557.5" r="4.2" fill="#36115F"/><circle cx="176.9" cy="556.8" r="2.6" fill="#36115F"/><circle cx="176.9" cy="556.8" r="2.1" fill="#36115F"/><circle cx="172.3" cy="558.1" r="2.3" fill="#36115F"/><circle cx="172.2" cy="557.6" r="2.1" fill="#36115F"/><circle cx="176.6" cy="556.2" r="2.2" fill="#36115F"/><circle cx="207.8" cy="570.3" r="4.4" fill="#36115F"/><circle cx="210.3" cy="570.3" r="2.2" fill="#36115F"/><circle cx="207.7" cy="572.8" r="2.3" fill="#36115F"/><circle cx="205.7" cy="571.7" r="2.3" fill="#36115F"/><circle cx="205.7" cy="571.6" r="2.2" fill="#36115F"/><circle cx="205.6" cy="571.4" r="2.6" fill="#36115F"/><circle cx="224.9" cy="552.0" r="2.4" fill="#36115F"/><circle cx="188.4" cy="612.9" r="10.0" fill="#36115F"/><circle cx="192.4" cy="608.8" r="6.2" fill="#36115F"/><circle cx="183.2" cy="615.2" r="5.0" fill="#36115F"/><circle cx="189.7" cy="618.5" r="5.9" fill="#36115F"/><circle cx="193.5" cy="615.5" r="5.2" fill="#36115F"/><circle cx="190.6" cy="618.2" r="5.6" fill="#36115F"/><circle cx="277.7" cy="594.0" r="3.3" fill="#36115F"/><circle cx="279.3" cy="592.9" r="2.0" fill="#36115F"/><circle cx="277.8" cy="595.9" r="1.8" fill="#36115F"/><circle cx="275.9" cy="594.5" r="1.7" fill="#36115F"/><circle cx="279.3" cy="592.9" r="2.1" fill="#36115F"/><circle cx="279.0" cy="595.4" r="1.6" fill="#36115F"/><circle cx="162.0" cy="572.0" r="1.8" fill="#36115F"/><circle cx="179.0" cy="577.0" r="1.4" fill="#36115F"/><circle cx="168.0" cy="550.0" r="1.6" fill="#36115F"/><circle cx="103.0" cy="548.0" r="1.2" fill="#36115F"/><circle cx="114.0" cy="595.0" r="1.2" fill="#36115F"/><circle cx="138.0" cy="628.0" r="1.2" fill="#36115F"/><circle cx="157.0" cy="632.0" r="1.4" fill="#36115F"/><circle cx="170.0" cy="628.0" r="1.6" fill="#36115F"/><circle cx="214.0" cy="629.0" r="1.5" fill="#36115F"/><circle cx="213.0" cy="637.0" r="1.3" fill="#36115F"/><circle cx="133.0" cy="587.0" r="1.4" fill="#36115F"/><circle cx="270.0" cy="542.0" r="1.5" fill="#36115F"/><circle cx="202.0" cy="547.0" r="1.3" fill="#36115F"/><circle cx="102.0" cy="628.0" r="1.3" fill="#36115F"/><circle cx="238.0" cy="637.0" r="1.0" fill="#36115F"/>
</g></g>
<clipPath id="ect1"><rect x="292.40" y="497.00" width="190.60" height="142.90"/></clipPath>
<g clip-path="url(#ect1)">
<rect x="292.40" y="497.00" width="190.60" height="142.90" fill="url(#eg2)"/>
<ellipse cx="335" cy="605" rx="55" ry="32" fill="#9C70DA" opacity="0.75" filter="url(#eb12)" transform="rotate(-25 335 605)"/>
<g filter="url(#eb1)">
<circle cx="330.4" cy="506.0" r="2.6" fill="#36115F"/><circle cx="331.9" cy="506.1" r="1.3" fill="#36115F"/><circle cx="331.1" cy="504.7" r="1.3" fill="#36115F"/><circle cx="329.0" cy="505.6" r="1.4" fill="#36115F"/><circle cx="331.1" cy="507.3" r="1.4" fill="#36115F"/><circle cx="331.6" cy="506.9" r="1.3" fill="#36115F"/><circle cx="325.4" cy="532.0" r="2.6" fill="#36115F"/><circle cx="326.8" cy="532.6" r="1.4" fill="#36115F"/><circle cx="326.1" cy="530.7" r="1.5" fill="#36115F"/><circle cx="324.0" cy="531.5" r="1.4" fill="#36115F"/><circle cx="326.9" cy="531.7" r="1.6" fill="#36115F"/><circle cx="326.6" cy="531.1" r="1.5" fill="#36115F"/><circle cx="344.4" cy="554.0" r="3.3" fill="#36115F"/><circle cx="343.1" cy="555.4" r="1.9" fill="#36115F"/><circle cx="346.2" cy="553.4" r="1.7" fill="#36115F"/><circle cx="344.8" cy="555.9" r="2.1" fill="#36115F"/><circle cx="342.9" cy="552.8" r="1.8" fill="#36115F"/><circle cx="343.5" cy="555.7" r="2.0" fill="#36115F"/><circle cx="405.4" cy="554.0" r="2.8" fill="#36115F"/><circle cx="416.4" cy="507.0" r="2.6" fill="#36115F"/><circle cx="415.0" cy="506.5" r="1.6" fill="#36115F"/><circle cx="415.3" cy="508.0" r="1.5" fill="#36115F"/><circle cx="416.0" cy="508.4" r="1.5" fill="#36115F"/><circle cx="416.4" cy="505.5" r="1.3" fill="#36115F"/><circle cx="414.9" cy="506.8" r="1.6" fill="#36115F"/><circle cx="303.4" cy="598.0" r="2.6" fill="#36115F"/><circle cx="310.4" cy="598.0" r="1.6" fill="#36115F"/><circle cx="341.4" cy="606.0" r="3.0" fill="#36115F"/><circle cx="339.7" cy="605.6" r="1.5" fill="#36115F"/><circle cx="340.0" cy="606.9" r="1.4" fill="#36115F"/><circle cx="341.7" cy="607.7" r="1.7" fill="#36115F"/><circle cx="343.0" cy="606.4" r="1.8" fill="#36115F"/><circle cx="340.6" cy="604.5" r="1.6" fill="#36115F"/><circle cx="455.4" cy="586.0" r="3.1" fill="#36115F"/><circle cx="457.1" cy="586.5" r="1.7" fill="#36115F"/><circle cx="455.6" cy="587.7" r="1.9" fill="#36115F"/><circle cx="454.7" cy="587.6" r="1.5" fill="#36115F"/><circle cx="453.8" cy="585.3" r="1.6" fill="#36115F"/><circle cx="456.4" cy="584.6" r="1.9" fill="#36115F"/><circle cx="465.4" cy="569.0" r="3.5" fill="#36115F"/><circle cx="467.4" cy="568.8" r="2.1" fill="#36115F"/><circle cx="465.8" cy="571.0" r="1.9" fill="#36115F"/><circle cx="466.7" cy="567.4" r="1.7" fill="#36115F"/><circle cx="466.2" cy="567.2" r="2.0" fill="#36115F"/><circle cx="467.0" cy="567.8" r="1.9" fill="#36115F"/><circle cx="453.4" cy="601.0" r="2.4" fill="#36115F"/><circle cx="458.4" cy="609.0" r="2.6" fill="#36115F"/><circle cx="452.4" cy="604.0" r="1.8" fill="#36115F"/><circle cx="328.4" cy="549.0" r="1.5" fill="#36115F"/><circle cx="307.4" cy="554.0" r="1.4" fill="#36115F"/><circle cx="358.4" cy="547.0" r="1.2" fill="#36115F"/><circle cx="387.4" cy="514.0" r="1.2" fill="#36115F"/><circle cx="399.4" cy="539.0" r="1.6" fill="#36115F"/><circle cx="444.4" cy="538.0" r="1.8" fill="#36115F"/><circle cx="407.4" cy="579.0" r="1.4" fill="#36115F"/><circle cx="421.4" cy="580.0" r="1.4" fill="#36115F"/><circle cx="428.4" cy="606.0" r="1.5" fill="#36115F"/><circle cx="382.4" cy="621.0" r="1.3" fill="#36115F"/><circle cx="398.4" cy="627.0" r="1.3" fill="#36115F"/><circle cx="411.4" cy="630.0" r="1.2" fill="#36115F"/><circle cx="358.4" cy="635.0" r="1.4" fill="#36115F"/><circle cx="307.4" cy="615.0" r="1.2" fill="#36115F"/><circle cx="307.4" cy="621.0" r="1.2" fill="#36115F"/><circle cx="432.4" cy="556.0" r="1.2" fill="#36115F"/><circle cx="373.4" cy="574.0" r="1.0" fill="#36115F"/><circle cx="371.4" cy="506.0" r="1.0" fill="#36115F"/>
</g></g>
<clipPath id="ect2"><rect x="488.00" y="497.00" width="189.20" height="142.90"/></clipPath>
<g clip-path="url(#ect2)">
<rect x="488.00" y="497.00" width="189.20" height="142.90" fill="url(#eg3)"/>
<g filter="url(#eb1)">
<circle cx="518.0" cy="520.0" r="4.0" fill="#36115F"/><circle cx="517.8" cy="522.3" r="2.5" fill="#36115F"/><circle cx="518.0" cy="517.7" r="2.1" fill="#36115F"/><circle cx="520.1" cy="520.9" r="2.1" fill="#36115F"/><circle cx="520.0" cy="521.1" r="2.4" fill="#36115F"/><circle cx="517.7" cy="522.3" r="2.0" fill="#36115F"/><circle cx="585.0" cy="509.0" r="4.0" fill="#36115F"/><circle cx="583.0" cy="507.8" r="2.3" fill="#36115F"/><circle cx="583.6" cy="507.2" r="2.0" fill="#36115F"/><circle cx="584.4" cy="511.2" r="2.5" fill="#36115F"/><circle cx="583.3" cy="507.5" r="1.9" fill="#36115F"/><circle cx="587.1" cy="509.9" r="2.0" fill="#36115F"/><circle cx="619.0" cy="551.0" r="3.5" fill="#36115F"/><circle cx="618.8" cy="553.0" r="1.8" fill="#36115F"/><circle cx="617.3" cy="549.9" r="2.0" fill="#36115F"/><circle cx="620.6" cy="552.2" r="1.7" fill="#36115F"/><circle cx="620.0" cy="552.7" r="1.8" fill="#36115F"/><circle cx="617.0" cy="550.7" r="1.7" fill="#36115F"/><circle cx="577.0" cy="566.0" r="3.0" fill="#36115F"/><circle cx="577.2" cy="564.3" r="1.5" fill="#36115F"/><circle cx="575.9" cy="567.3" r="1.4" fill="#36115F"/><circle cx="578.4" cy="565.0" r="1.5" fill="#36115F"/><circle cx="575.7" cy="567.1" r="1.5" fill="#36115F"/><circle cx="578.6" cy="565.5" r="1.8" fill="#36115F"/><circle cx="664.0" cy="590.0" r="3.2" fill="#36115F"/><circle cx="665.4" cy="591.1" r="1.7" fill="#36115F"/><circle cx="662.3" cy="590.7" r="1.9" fill="#36115F"/><circle cx="665.1" cy="588.6" r="1.8" fill="#36115F"/><circle cx="665.6" cy="590.9" r="1.6" fill="#36115F"/><circle cx="663.7" cy="588.2" r="1.7" fill="#36115F"/><circle cx="580.0" cy="587.0" r="2.6" fill="#36115F"/><circle cx="581.3" cy="586.3" r="1.4" fill="#36115F"/><circle cx="579.1" cy="585.8" r="1.3" fill="#36115F"/><circle cx="581.1" cy="586.0" r="1.3" fill="#36115F"/><circle cx="580.0" cy="588.5" r="1.5" fill="#36115F"/><circle cx="580.7" cy="585.7" r="1.3" fill="#36115F"/><circle cx="543.0" cy="617.0" r="3.5" fill="#36115F"/><circle cx="544.3" cy="618.6" r="1.7" fill="#36115F"/><circle cx="544.9" cy="616.4" r="2.1" fill="#36115F"/><circle cx="544.6" cy="615.9" r="1.8" fill="#36115F"/><circle cx="544.2" cy="615.4" r="2.0" fill="#36115F"/><circle cx="543.9" cy="618.8" r="1.9" fill="#36115F"/><circle cx="538.0" cy="629.0" r="3.9" fill="#36115F"/><circle cx="538.8" cy="631.0" r="2.0" fill="#36115F"/><circle cx="537.2" cy="631.0" r="2.1" fill="#36115F"/><circle cx="539.7" cy="630.4" r="2.1" fill="#36115F"/><circle cx="539.8" cy="627.7" r="2.1" fill="#36115F"/><circle cx="538.9" cy="627.0" r="2.0" fill="#36115F"/><circle cx="615.0" cy="533.0" r="2.0" fill="#36115F"/><circle cx="537.0" cy="555.0" r="1.8" fill="#36115F"/><circle cx="521.0" cy="546.0" r="1.2" fill="#36115F"/><circle cx="521.0" cy="553.0" r="1.0" fill="#36115F"/><circle cx="517.0" cy="576.0" r="1.4" fill="#36115F"/><circle cx="565.0" cy="569.0" r="1.0" fill="#36115F"/><circle cx="542.0" cy="598.0" r="1.0" fill="#36115F"/><circle cx="546.0" cy="604.0" r="1.0" fill="#36115F"/><circle cx="492.0" cy="634.0" r="1.2" fill="#36115F"/><circle cx="646.0" cy="612.0" r="1.0" fill="#36115F"/><circle cx="661.0" cy="630.0" r="1.0" fill="#36115F"/><circle cx="675.0" cy="585.0" r="1.0" fill="#36115F"/><circle cx="613.0" cy="612.0" r="0.9" fill="#36115F"/>
</g></g>
<clipPath id="ect3"><rect x="684.00" y="497.00" width="189.80" height="142.90"/></clipPath>
<g clip-path="url(#ect3)">
<rect x="684.00" y="497.00" width="189.80" height="142.90" fill="url(#eg4)"/>
<ellipse cx="868" cy="500" rx="22" ry="14" fill="#8C5AE0" opacity="0.9" filter="url(#eb12)"/>
<ellipse cx="700" cy="630" rx="40" ry="18" fill="#B050CC" opacity="0.7" filter="url(#eb12)"/>
<g filter="url(#eb1)">
<circle cx="734.0" cy="509.0" r="2.6" fill="#36115F"/><circle cx="735.5" cy="509.2" r="1.6" fill="#36115F"/><circle cx="735.5" cy="509.1" r="1.5" fill="#36115F"/><circle cx="733.7" cy="507.5" r="1.6" fill="#36115F"/><circle cx="733.4" cy="507.6" r="1.3" fill="#36115F"/><circle cx="735.4" cy="508.5" r="1.6" fill="#36115F"/><circle cx="782.0" cy="543.0" r="2.0" fill="#36115F"/><circle cx="746.0" cy="535.0" r="1.5" fill="#36115F"/><circle cx="770.0" cy="513.0" r="1.4" fill="#36115F"/><circle cx="796.0" cy="539.0" r="1.2" fill="#36115F"/><circle cx="765.0" cy="568.0" r="1.3" fill="#36115F"/><circle cx="706.0" cy="595.0" r="1.2" fill="#36115F"/><circle cx="711.0" cy="602.0" r="2.6" fill="#36115F"/><circle cx="710.0" cy="603.1" r="1.4" fill="#36115F"/><circle cx="712.3" cy="601.3" r="1.6" fill="#36115F"/><circle cx="712.0" cy="600.9" r="1.4" fill="#36115F"/><circle cx="709.5" cy="601.7" r="1.4" fill="#36115F"/><circle cx="711.5" cy="603.4" r="1.6" fill="#36115F"/><circle cx="789.0" cy="591.0" r="1.4" fill="#36115F"/><circle cx="828.0" cy="595.0" r="2.8" fill="#36115F"/><circle cx="828.7" cy="596.5" r="1.4" fill="#36115F"/><circle cx="828.8" cy="596.4" r="1.6" fill="#36115F"/><circle cx="826.4" cy="594.7" r="1.7" fill="#36115F"/><circle cx="826.4" cy="594.6" r="1.4" fill="#36115F"/><circle cx="829.6" cy="595.1" r="1.4" fill="#36115F"/><circle cx="852.0" cy="589.0" r="2.4" fill="#36115F"/><circle cx="777.0" cy="628.0" r="2.6" fill="#36115F"/><circle cx="812.0" cy="561.0" r="1.6" fill="#36115F"/><circle cx="817.0" cy="563.0" r="1.2" fill="#36115F"/><circle cx="821.0" cy="612.0" r="1.2" fill="#36115F"/><circle cx="828.0" cy="609.0" r="0.9" fill="#36115F"/><circle cx="696.0" cy="533.0" r="1.0" fill="#36115F"/><circle cx="688.0" cy="527.0" r="1.0" fill="#36115F"/><circle cx="739.0" cy="500.0" r="1.0" fill="#36115F"/><circle cx="702.0" cy="577.0" r="0.8" fill="#36115F"/>
</g></g>
<clipPath id="ect4"><rect x="881.00" y="495.60" width="189.60" height="144.30"/></clipPath>
<g clip-path="url(#ect4)">
<rect x="881.00" y="495.60" width="189.60" height="144.30" fill="url(#eg5)"/>
<g filter="url(#eb1)">
<circle cx="1009.0" cy="510.6" r="2.6" fill="#46187A"/><circle cx="979.0" cy="560.6" r="2.6" fill="#46187A"/><circle cx="977.8" cy="559.7" r="1.5" fill="#46187A"/><circle cx="980.0" cy="559.5" r="1.6" fill="#46187A"/><circle cx="978.6" cy="559.2" r="1.5" fill="#46187A"/><circle cx="978.7" cy="559.1" r="1.3" fill="#46187A"/><circle cx="979.4" cy="559.1" r="1.4" fill="#46187A"/><circle cx="1040.0" cy="576.6" r="2.6" fill="#46187A"/><circle cx="903.0" cy="609.6" r="3.2" fill="#46187A"/><circle cx="901.7" cy="610.8" r="1.7" fill="#46187A"/><circle cx="902.9" cy="611.4" r="1.9" fill="#46187A"/><circle cx="903.2" cy="607.8" r="1.9" fill="#46187A"/><circle cx="904.6" cy="610.4" r="1.9" fill="#46187A"/><circle cx="902.1" cy="611.2" r="1.7" fill="#46187A"/><circle cx="962.0" cy="607.6" r="3.7" fill="#46187A"/><circle cx="960.9" cy="605.8" r="2.0" fill="#46187A"/><circle cx="961.7" cy="605.5" r="2.1" fill="#46187A"/><circle cx="964.1" cy="607.6" r="2.3" fill="#46187A"/><circle cx="963.9" cy="608.5" r="2.1" fill="#46187A"/><circle cx="961.0" cy="605.7" r="2.1" fill="#46187A"/><circle cx="1049.0" cy="599.6" r="2.0" fill="#46187A"/><circle cx="1050.0" cy="607.6" r="1.4" fill="#46187A"/><circle cx="935.0" cy="517.6" r="1.6" fill="#46187A"/><circle cx="974.0" cy="524.6" r="1.6" fill="#46187A"/><circle cx="995.0" cy="547.6" r="1.4" fill="#46187A"/><circle cx="984.0" cy="532.6" r="1.6" fill="#46187A"/><circle cx="960.0" cy="538.6" r="1.2" fill="#46187A"/><circle cx="950.0" cy="578.6" r="1.4" fill="#46187A"/><circle cx="976.0" cy="598.6" r="1.0" fill="#46187A"/><circle cx="915.0" cy="634.6" r="1.2" fill="#46187A"/><circle cx="920.0" cy="627.6" r="0.8" fill="#46187A"/><circle cx="1026.0" cy="634.6" r="0.9" fill="#46187A"/><circle cx="927.0" cy="497.6" r="1.2" fill="#46187A"/><circle cx="1005.0" cy="617.6" r="1.0" fill="#46187A"/><circle cx="1037.0" cy="542.6" r="0.8" fill="#46187A"/>
</g></g>
<clipPath id="ecb0"><rect x="98.00" y="657.00" width="190.00" height="142.60"/></clipPath>
<g clip-path="url(#ecb0)">
<rect x="98.00" y="657.00" width="190.00" height="142.60" fill="#E1AAE2"/>
<radialGradient id="bg101"><stop offset="0" stop-color="#5A1CB2"/><stop offset="0.75" stop-color="#7A30CA"/><stop offset="1" stop-color="#7A30CA" stop-opacity="1"/></radialGradient>
<polygon points="174.01,720.00 174.16,727.79 170.91,734.69 167.34,740.81 164.28,746.95 161.99,754.29 157.48,759.58 153.04,765.77 146.51,767.16 140.47,770.08 134.00,770.44 127.57,769.72 122.10,764.88 116.60,761.83 111.16,758.50 105.74,754.62 102.32,748.19 99.59,741.48 96.25,735.02 94.58,727.65 94.86,720.00 94.19,712.28 95.02,704.49 96.26,696.44 99.29,689.10 105.30,684.84 110.93,681.11 116.36,677.59 122.11,675.18 128.00,673.62 134.00,674.66 140.16,672.36 146.76,671.91 152.76,674.91 157.42,680.51 162.79,684.73 166.09,691.44 170.46,697.24 171.54,705.06 172.29,712.57" fill="url(#bg101)"/>
<polygon points="174.01,720.00 174.16,727.79 170.91,734.69 167.34,740.81 164.28,746.95 161.99,754.29 157.48,759.58 153.04,765.77 146.51,767.16 140.47,770.08 134.00,770.44 127.57,769.72 122.10,764.88 116.60,761.83 111.16,758.50 105.74,754.62 102.32,748.19 99.59,741.48 96.25,735.02 94.58,727.65 94.86,720.00 94.19,712.28 95.02,704.49 96.26,696.44 99.29,689.10 105.30,684.84 110.93,681.11 116.36,677.59 122.11,675.18 128.00,673.62 134.00,674.66 140.16,672.36 146.76,671.91 152.76,674.91 157.42,680.51 162.79,684.73 166.09,691.44 170.46,697.24 171.54,705.06 172.29,712.57" fill="url(#egr)" opacity="1"/>

<radialGradient id="bg102"><stop offset="0" stop-color="#581AB0"/><stop offset="0.75" stop-color="#782EC8"/><stop offset="1" stop-color="#782EC8" stop-opacity="1"/></radialGradient>
<polygon points="300.86,748.00 299.24,755.96 297.32,763.64 294.74,771.06 290.83,777.73 287.33,785.03 280.54,788.58 273.26,789.99 267.33,793.57 260.81,795.77 254.00,795.65 247.28,795.14 240.21,795.14 231.63,796.79 224.97,792.39 220.69,785.01 217.97,777.08 214.34,770.45 212.07,763.14 210.07,755.73 211.64,748.00 210.33,740.32 210.98,732.47 213.88,725.29 219.83,720.41 224.53,715.25 227.72,707.82 232.10,700.24 239.14,697.17 246.49,695.33 254.00,696.32 261.18,697.66 268.06,699.92 272.45,707.76 277.68,711.78 284.78,713.81 290.97,718.15 294.35,725.16 297.01,732.47 298.87,740.10" fill="url(#bg102)"/>
<polygon points="300.86,748.00 299.24,755.96 297.32,763.64 294.74,771.06 290.83,777.73 287.33,785.03 280.54,788.58 273.26,789.99 267.33,793.57 260.81,795.77 254.00,795.65 247.28,795.14 240.21,795.14 231.63,796.79 224.97,792.39 220.69,785.01 217.97,777.08 214.34,770.45 212.07,763.14 210.07,755.73 211.64,748.00 210.33,740.32 210.98,732.47 213.88,725.29 219.83,720.41 224.53,715.25 227.72,707.82 232.10,700.24 239.14,697.17 246.49,695.33 254.00,696.32 261.18,697.66 268.06,699.92 272.45,707.76 277.68,711.78 284.78,713.81 290.97,718.15 294.35,725.16 297.01,732.47 298.87,740.10" fill="url(#egr)" opacity="1"/>

</g>
<clipPath id="ecb1"><rect x="293.60" y="657.00" width="189.40" height="143.40"/></clipPath>
<g clip-path="url(#ecb1)">
<rect x="293.60" y="657.00" width="189.40" height="143.40" fill="#D0A1E2"/>
<g filter="url(#eb1)">
<radialGradient id="bg103"><stop offset="0" stop-color="#6230B8"/><stop offset="0.75" stop-color="#8A55CE"/><stop offset="1" stop-color="#8A55CE" stop-opacity="0.4"/></radialGradient>
<polygon points="446.11,689.00 445.86,692.55 447.24,696.72 444.85,699.93 443.06,703.34 441.66,707.40 438.95,710.74 434.18,711.00 429.74,710.39 425.90,709.58 422.50,711.14 419.04,709.97 415.29,710.29 411.84,709.09 407.91,708.28 403.13,707.59 400.96,704.02 399.70,700.15 398.60,696.46 397.35,692.82 397.03,689.00 396.82,685.09 399.27,681.75 400.41,678.20 403.36,675.65 405.85,673.02 408.90,671.02 411.40,668.09 414.52,665.42 418.19,662.89 422.50,662.95 426.59,664.20 430.31,665.91 434.64,666.12 437.32,669.42 439.22,672.94 440.83,676.22 444.51,678.23 446.22,681.60 447.24,685.24" fill="url(#bg103)"/>
<polygon points="446.11,689.00 445.86,692.55 447.24,696.72 444.85,699.93 443.06,703.34 441.66,707.40 438.95,710.74 434.18,711.00 429.74,710.39 425.90,709.58 422.50,711.14 419.04,709.97 415.29,710.29 411.84,709.09 407.91,708.28 403.13,707.59 400.96,704.02 399.70,700.15 398.60,696.46 397.35,692.82 397.03,689.00 396.82,685.09 399.27,681.75 400.41,678.20 403.36,675.65 405.85,673.02 408.90,671.02 411.40,668.09 414.52,665.42 418.19,662.89 422.50,662.95 426.59,664.20 430.31,665.91 434.64,666.12 437.32,669.42 439.22,672.94 440.83,676.22 444.51,678.23 446.22,681.60 447.24,685.24" fill="url(#egr)" opacity="0.6"/>
<circle cx="436.3" cy="706.2" r="1.2" fill="#8A55CE" opacity="0.45"/><circle cx="439.7" cy="679.8" r="1.9" fill="#8A55CE" opacity="0.75"/><circle cx="442.1" cy="701.0" r="2.2" fill="#8A55CE" opacity="0.89"/><circle cx="398.6" cy="679.4" r="1.8" fill="#8A55CE" opacity="0.55"/><circle cx="399.4" cy="681.8" r="1.4" fill="#8A55CE" opacity="0.81"/><circle cx="398.4" cy="697.5" r="0.9" fill="#8A55CE" opacity="0.62"/><circle cx="446.3" cy="695.5" r="2.0" fill="#8A55CE" opacity="0.67"/><circle cx="400.0" cy="679.6" r="1.1" fill="#8A55CE" opacity="0.59"/><circle cx="400.7" cy="677.8" r="1.3" fill="#8A55CE" opacity="0.64"/><circle cx="410.9" cy="709.0" r="1.7" fill="#8A55CE" opacity="0.56"/><circle cx="411.9" cy="665.6" r="1.6" fill="#8A55CE" opacity="0.89"/><circle cx="412.6" cy="713.4" r="1.1" fill="#8A55CE" opacity="0.58"/><circle cx="430.2" cy="672.3" r="1.7" fill="#8A55CE" opacity="0.84"/><circle cx="446.0" cy="680.6" r="1.3" fill="#8A55CE" opacity="0.57"/><circle cx="409.3" cy="675.4" r="0.8" fill="#8A55CE" opacity="0.84"/><circle cx="408.3" cy="675.1" r="1.4" fill="#8A55CE" opacity="0.54"/><circle cx="437.0" cy="673.9" r="1.8" fill="#8A55CE" opacity="0.77"/><circle cx="413.7" cy="707.4" r="1.5" fill="#8A55CE" opacity="0.60"/><circle cx="404.4" cy="677.4" r="1.9" fill="#8A55CE" opacity="0.61"/><circle cx="439.5" cy="707.8" r="2.1" fill="#8A55CE" opacity="0.74"/><circle cx="396.8" cy="681.6" r="2.1" fill="#8A55CE" opacity="0.40"/><circle cx="403.6" cy="690.4" r="1.3" fill="#8A55CE" opacity="0.52"/><circle cx="398.2" cy="694.8" r="2.0" fill="#8A55CE" opacity="0.53"/><circle cx="450.4" cy="691.0" r="1.9" fill="#8A55CE" opacity="0.68"/><circle cx="437.1" cy="701.0" r="2.1" fill="#8A55CE" opacity="0.66"/><circle cx="439.0" cy="669.7" r="1.9" fill="#8A55CE" opacity="0.80"/><circle cx="422.1" cy="709.2" r="1.4" fill="#8A55CE" opacity="0.78"/><circle cx="429.5" cy="665.2" r="1.6" fill="#8A55CE" opacity="0.64"/><circle cx="431.1" cy="711.5" r="1.7" fill="#8A55CE" opacity="0.66"/><circle cx="418.4" cy="662.6" r="2.1" fill="#8A55CE" opacity="0.45"/><circle cx="416.8" cy="711.8" r="1.8" fill="#8A55CE" opacity="0.54"/><circle cx="443.3" cy="679.6" r="1.9" fill="#8A55CE" opacity="0.43"/><circle cx="419.1" cy="706.9" r="1.9" fill="#8A55CE" opacity="0.66"/><circle cx="445.8" cy="682.1" r="1.3" fill="#8A55CE" opacity="0.58"/><circle cx="408.0" cy="703.0" r="1.0" fill="#8A55CE" opacity="0.72"/><circle cx="413.6" cy="709.3" r="1.8" fill="#8A55CE" opacity="0.54"/><circle cx="402.3" cy="696.7" r="1.3" fill="#8A55CE" opacity="0.73"/><circle cx="440.8" cy="701.5" r="1.0" fill="#8A55CE" opacity="0.73"/><circle cx="414.3" cy="714.4" r="1.5" fill="#8A55CE" opacity="0.73"/><circle cx="396.5" cy="685.3" r="1.8" fill="#8A55CE" opacity="0.72"/><circle cx="442.2" cy="692.9" r="1.9" fill="#8A55CE" opacity="0.61"/><circle cx="446.8" cy="685.3" r="2.0" fill="#8A55CE" opacity="0.77"/><circle cx="446.7" cy="683.5" r="2.1" fill="#8A55CE" opacity="0.61"/><circle cx="420.4" cy="707.9" r="1.2" fill="#8A55CE" opacity="0.85"/><circle cx="412.0" cy="673.6" r="0.8" fill="#8A55CE" opacity="0.63"/><circle cx="401.3" cy="683.2" r="0.8" fill="#8A55CE" opacity="0.53"/><circle cx="440.7" cy="671.9" r="1.9" fill="#8A55CE" opacity="0.53"/><circle cx="412.3" cy="671.8" r="1.2" fill="#8A55CE" opacity="0.88"/><circle cx="427.4" cy="709.1" r="1.1" fill="#8A55CE" opacity="0.83"/><circle cx="413.2" cy="667.6" r="2.0" fill="#8A55CE" opacity="0.63"/><circle cx="444.9" cy="676.4" r="1.2" fill="#8A55CE" opacity="0.52"/><circle cx="400.2" cy="683.9" r="1.9" fill="#8A55CE" opacity="0.73"/><circle cx="421.3" cy="665.7" r="1.2" fill="#8A55CE" opacity="0.77"/><circle cx="447.0" cy="686.2" r="1.8" fill="#8A55CE" opacity="0.52"/><circle cx="439.4" cy="703.8" r="1.6" fill="#8A55CE" opacity="0.76"/><circle cx="399.0" cy="692.7" r="0.9" fill="#8A55CE" opacity="0.42"/><circle cx="438.2" cy="703.4" r="1.1" fill="#8A55CE" opacity="0.47"/><circle cx="411.0" cy="706.8" r="2.0" fill="#8A55CE" opacity="0.87"/><circle cx="448.0" cy="688.0" r="0.8" fill="#8A55CE" opacity="0.52"/><circle cx="447.7" cy="688.8" r="2.0" fill="#8A55CE" opacity="0.50"/>
<radialGradient id="bg104"><stop offset="0" stop-color="#6230B8"/><stop offset="0.75" stop-color="#8A55CE"/><stop offset="1" stop-color="#8A55CE" stop-opacity="0.4"/></radialGradient>
<polygon points="370.48,766.00 373.39,770.51 375.16,775.99 372.25,779.78 369.60,783.20 367.86,787.46 363.63,788.12 361.07,791.16 357.17,790.15 354.18,791.52 351.00,794.08 347.47,794.35 344.32,792.17 341.82,788.92 338.62,787.69 335.07,786.28 332.36,783.23 330.29,779.43 328.53,775.29 327.65,770.71 327.78,766.00 329.20,761.60 333.55,758.78 333.95,754.94 334.07,750.35 335.40,746.14 338.74,744.53 341.01,741.06 343.36,736.08 347.29,736.22 351.00,735.21 354.26,739.76 358.11,738.17 361.04,740.93 364.93,741.60 366.99,745.65 367.87,750.40 369.73,753.85 371.51,757.52 371.77,761.81" fill="url(#bg104)"/>
<polygon points="370.48,766.00 373.39,770.51 375.16,775.99 372.25,779.78 369.60,783.20 367.86,787.46 363.63,788.12 361.07,791.16 357.17,790.15 354.18,791.52 351.00,794.08 347.47,794.35 344.32,792.17 341.82,788.92 338.62,787.69 335.07,786.28 332.36,783.23 330.29,779.43 328.53,775.29 327.65,770.71 327.78,766.00 329.20,761.60 333.55,758.78 333.95,754.94 334.07,750.35 335.40,746.14 338.74,744.53 341.01,741.06 343.36,736.08 347.29,736.22 351.00,735.21 354.26,739.76 358.11,738.17 361.04,740.93 364.93,741.60 366.99,745.65 367.87,750.40 369.73,753.85 371.51,757.52 371.77,761.81" fill="url(#egr)" opacity="0.6"/>
<circle cx="359.9" cy="789.8" r="0.9" fill="#8A55CE" opacity="0.59"/><circle cx="361.9" cy="783.9" r="1.7" fill="#8A55CE" opacity="0.44"/><circle cx="360.4" cy="783.4" r="1.9" fill="#8A55CE" opacity="0.52"/><circle cx="370.4" cy="778.0" r="1.8" fill="#8A55CE" opacity="0.72"/><circle cx="331.1" cy="758.3" r="1.8" fill="#8A55CE" opacity="0.56"/><circle cx="363.1" cy="742.4" r="2.0" fill="#8A55CE" opacity="0.85"/><circle cx="362.0" cy="743.7" r="1.5" fill="#8A55CE" opacity="0.77"/><circle cx="336.3" cy="755.9" r="2.1" fill="#8A55CE" opacity="0.50"/><circle cx="330.9" cy="768.6" r="0.9" fill="#8A55CE" opacity="0.69"/><circle cx="331.5" cy="750.2" r="1.7" fill="#8A55CE" opacity="0.55"/><circle cx="328.7" cy="753.8" r="1.7" fill="#8A55CE" opacity="0.82"/><circle cx="373.1" cy="768.0" r="1.1" fill="#8A55CE" opacity="0.48"/><circle cx="342.3" cy="785.9" r="0.9" fill="#8A55CE" opacity="0.51"/><circle cx="353.3" cy="789.4" r="1.9" fill="#8A55CE" opacity="0.44"/><circle cx="356.2" cy="786.5" r="1.5" fill="#8A55CE" opacity="0.51"/><circle cx="332.9" cy="761.5" r="1.1" fill="#8A55CE" opacity="0.64"/><circle cx="372.3" cy="779.1" r="1.6" fill="#8A55CE" opacity="0.60"/><circle cx="328.0" cy="756.6" r="1.5" fill="#8A55CE" opacity="0.60"/><circle cx="355.1" cy="790.4" r="1.9" fill="#8A55CE" opacity="0.71"/><circle cx="347.2" cy="795.9" r="1.0" fill="#8A55CE" opacity="0.58"/><circle cx="354.9" cy="735.9" r="1.4" fill="#8A55CE" opacity="0.41"/><circle cx="332.5" cy="756.6" r="0.8" fill="#8A55CE" opacity="0.57"/><circle cx="363.4" cy="751.5" r="1.0" fill="#8A55CE" opacity="0.48"/><circle cx="356.6" cy="742.9" r="1.8" fill="#8A55CE" opacity="0.74"/><circle cx="371.0" cy="767.9" r="1.0" fill="#8A55CE" opacity="0.80"/><circle cx="331.5" cy="767.7" r="1.9" fill="#8A55CE" opacity="0.81"/><circle cx="366.7" cy="775.1" r="1.3" fill="#8A55CE" opacity="0.56"/><circle cx="332.4" cy="775.3" r="2.2" fill="#8A55CE" opacity="0.74"/><circle cx="371.9" cy="759.3" r="1.1" fill="#8A55CE" opacity="0.68"/><circle cx="362.4" cy="788.8" r="1.0" fill="#8A55CE" opacity="0.87"/><circle cx="343.2" cy="794.6" r="1.1" fill="#8A55CE" opacity="0.50"/><circle cx="351.6" cy="795.5" r="2.0" fill="#8A55CE" opacity="0.77"/><circle cx="335.2" cy="755.8" r="1.1" fill="#8A55CE" opacity="0.42"/><circle cx="366.9" cy="756.5" r="1.8" fill="#8A55CE" opacity="0.40"/><circle cx="346.4" cy="792.6" r="1.1" fill="#8A55CE" opacity="0.43"/><circle cx="365.9" cy="751.4" r="0.8" fill="#8A55CE" opacity="0.75"/><circle cx="371.9" cy="764.1" r="0.8" fill="#8A55CE" opacity="0.61"/><circle cx="336.7" cy="751.1" r="1.4" fill="#8A55CE" opacity="0.77"/><circle cx="338.2" cy="741.3" r="2.1" fill="#8A55CE" opacity="0.66"/><circle cx="368.3" cy="763.3" r="1.5" fill="#8A55CE" opacity="0.74"/><circle cx="369.3" cy="754.7" r="1.4" fill="#8A55CE" opacity="0.85"/><circle cx="334.3" cy="770.0" r="1.4" fill="#8A55CE" opacity="0.54"/><circle cx="338.1" cy="741.6" r="0.9" fill="#8A55CE" opacity="0.56"/><circle cx="369.6" cy="748.6" r="1.9" fill="#8A55CE" opacity="0.59"/><circle cx="373.4" cy="757.5" r="1.9" fill="#8A55CE" opacity="0.67"/><circle cx="339.9" cy="748.7" r="0.8" fill="#8A55CE" opacity="0.41"/><circle cx="370.5" cy="774.8" r="2.1" fill="#8A55CE" opacity="0.69"/><circle cx="356.3" cy="738.0" r="2.1" fill="#8A55CE" opacity="0.54"/><circle cx="327.0" cy="766.6" r="1.3" fill="#8A55CE" opacity="0.75"/><circle cx="335.9" cy="777.8" r="1.1" fill="#8A55CE" opacity="0.58"/><circle cx="374.3" cy="771.4" r="1.3" fill="#8A55CE" opacity="0.52"/><circle cx="356.1" cy="746.0" r="1.9" fill="#8A55CE" opacity="0.63"/><circle cx="367.7" cy="779.4" r="2.2" fill="#8A55CE" opacity="0.42"/><circle cx="347.2" cy="788.3" r="1.6" fill="#8A55CE" opacity="0.50"/><circle cx="362.2" cy="745.8" r="2.1" fill="#8A55CE" opacity="0.46"/><circle cx="353.1" cy="787.1" r="0.9" fill="#8A55CE" opacity="0.49"/><circle cx="333.1" cy="752.1" r="1.8" fill="#8A55CE" opacity="0.52"/><circle cx="331.0" cy="747.9" r="1.2" fill="#8A55CE" opacity="0.52"/><circle cx="360.6" cy="794.5" r="1.7" fill="#8A55CE" opacity="0.65"/><circle cx="333.9" cy="766.6" r="1.1" fill="#8A55CE" opacity="0.75"/>
<radialGradient id="bg105"><stop offset="0" stop-color="#7A40C4"/><stop offset="0.75" stop-color="#9B68D4"/><stop offset="1" stop-color="#9B68D4" stop-opacity="0.3"/></radialGradient>
<polygon points="455.18,792.00 456.12,793.92 455.41,795.71 454.28,797.24 453.43,798.85 453.14,801.14 451.64,802.52 450.22,804.21 447.76,803.59 445.71,802.79 444.00,803.00 442.31,802.67 440.73,802.05 438.88,802.06 436.70,802.04 435.07,800.93 432.74,800.18 432.68,797.77 431.82,795.96 431.29,794.01 431.41,792.00 432.39,790.16 432.23,788.17 432.68,786.23 434.05,784.77 436.31,784.31 437.56,783.14 439.05,782.28 440.25,780.44 441.92,778.88 444.00,778.41 446.09,778.79 448.08,779.43 450.04,780.14 451.17,782.13 452.03,783.97 452.87,785.56 454.63,786.58 455.30,788.33 455.58,790.17" fill="url(#bg105)"/>
<circle cx="456.2" cy="789.1" r="2.1" fill="#9B68D4" opacity="0.75"/><circle cx="451.7" cy="799.6" r="1.2" fill="#9B68D4" opacity="0.53"/><circle cx="450.6" cy="798.8" r="1.5" fill="#9B68D4" opacity="0.79"/><circle cx="452.9" cy="782.1" r="1.6" fill="#9B68D4" opacity="0.41"/><circle cx="447.3" cy="800.6" r="2.0" fill="#9B68D4" opacity="0.56"/><circle cx="442.2" cy="781.2" r="1.6" fill="#9B68D4" opacity="0.83"/><circle cx="438.8" cy="784.2" r="1.7" fill="#9B68D4" opacity="0.58"/><circle cx="454.1" cy="790.5" r="1.1" fill="#9B68D4" opacity="0.86"/><circle cx="436.0" cy="796.8" r="1.9" fill="#9B68D4" opacity="0.86"/><circle cx="434.3" cy="792.5" r="2.0" fill="#9B68D4" opacity="0.57"/><circle cx="444.3" cy="801.2" r="2.0" fill="#9B68D4" opacity="0.52"/><circle cx="451.7" cy="799.3" r="1.8" fill="#9B68D4" opacity="0.90"/><circle cx="446.8" cy="803.4" r="1.2" fill="#9B68D4" opacity="0.83"/><circle cx="432.0" cy="793.0" r="2.0" fill="#9B68D4" opacity="0.67"/><circle cx="435.1" cy="793.7" r="1.0" fill="#9B68D4" opacity="0.75"/><circle cx="444.8" cy="780.5" r="0.9" fill="#9B68D4" opacity="0.77"/><circle cx="451.4" cy="781.6" r="1.9" fill="#9B68D4" opacity="0.73"/><circle cx="437.8" cy="800.6" r="1.1" fill="#9B68D4" opacity="0.72"/><circle cx="437.3" cy="802.7" r="1.1" fill="#9B68D4" opacity="0.53"/><circle cx="452.8" cy="797.2" r="1.9" fill="#9B68D4" opacity="0.81"/><circle cx="451.9" cy="787.4" r="1.8" fill="#9B68D4" opacity="0.68"/><circle cx="436.3" cy="802.7" r="1.8" fill="#9B68D4" opacity="0.56"/><circle cx="449.3" cy="782.4" r="1.5" fill="#9B68D4" opacity="0.64"/><circle cx="435.0" cy="793.4" r="1.9" fill="#9B68D4" opacity="0.55"/><circle cx="434.7" cy="795.0" r="1.6" fill="#9B68D4" opacity="0.44"/>
</g>
</g>
<clipPath id="ecb2"><rect x="489.00" y="657.00" width="189.00" height="143.00"/></clipPath>
<g clip-path="url(#ecb2)">
<rect x="489.00" y="657.00" width="189.00" height="143.00" fill="#D1A3E2"/>
<g filter="url(#eb2)">
<radialGradient id="bg106"><stop offset="0" stop-color="#7028C8"/><stop offset="0.75" stop-color="#8A48D4"/><stop offset="1" stop-color="#8A48D4" stop-opacity="0.5"/></radialGradient>
<polygon points="606.24,689.00 605.70,692.45 606.13,696.21 604.54,699.57 602.02,702.38 600.70,706.20 596.93,707.91 593.33,709.46 589.82,711.13 586.09,712.74 582.00,713.47 578.07,711.84 574.49,710.26 571.41,708.12 568.13,706.57 565.15,704.50 563.26,701.53 560.26,699.19 556.76,696.55 556.00,692.79 555.86,689.00 557.66,685.45 557.80,681.77 560.12,678.74 562.33,675.85 564.58,672.98 567.71,670.91 570.63,668.47 574.24,667.03 578.22,667.06 582.00,667.24 585.76,667.18 589.77,667.01 593.66,667.94 597.09,669.89 600.31,672.16 603.67,674.52 604.23,678.58 604.23,682.35 604.57,685.71" fill="url(#bg106)"/>

<radialGradient id="bg107"><stop offset="0" stop-color="#7030C0"/><stop offset="0.75" stop-color="#8A4CD0"/><stop offset="1" stop-color="#8A4CD0" stop-opacity="0.5"/></radialGradient>
<polygon points="577.92,761.00 577.50,764.80 576.02,768.34 575.04,772.03 572.79,775.15 570.11,777.90 567.32,780.58 563.63,781.98 559.98,783.11 556.23,783.59 552.50,784.67 548.60,784.63 544.57,784.42 540.43,783.74 536.75,781.81 534.41,778.37 532.55,774.92 531.59,771.23 529.95,768.03 528.26,764.69 528.38,761.00 528.63,757.37 529.20,753.73 530.03,750.01 531.72,746.51 535.20,744.40 537.78,741.55 540.87,739.09 544.45,737.23 548.49,736.68 552.50,736.56 556.43,737.19 560.15,738.41 563.59,740.11 566.48,742.52 569.27,744.90 572.60,746.98 575.74,749.63 577.23,753.29 577.98,757.13" fill="url(#bg107)"/>

</g>
</g>
<clipPath id="ecb3"><rect x="684.20" y="658.00" width="190.00" height="142.60"/></clipPath>
<g clip-path="url(#ecb3)">
<rect x="684.20" y="658.00" width="190.00" height="142.60" fill="#CF9FE2"/>
<g filter="url(#eb1)">
<radialGradient id="bg108"><stop offset="0" stop-color="#5C18B4"/><stop offset="0.75" stop-color="#7C34CC"/><stop offset="1" stop-color="#7C34CC" stop-opacity="0.4"/></radialGradient>
<polygon points="745.77,744.00 746.88,746.91 746.73,749.92 745.29,752.59 742.96,754.64 741.61,757.37 738.14,757.87 735.14,758.20 732.86,759.62 730.32,760.88 727.50,761.24 724.44,762.32 721.12,762.59 718.75,760.27 715.69,759.40 713.10,757.65 711.62,754.93 711.51,751.72 708.81,749.75 707.30,747.03 708.30,744.00 710.21,741.41 710.95,738.90 711.09,736.08 712.00,733.33 714.67,731.84 715.86,728.82 718.16,726.63 720.58,723.81 724.11,723.74 727.50,725.98 730.45,726.36 733.38,726.86 735.57,728.99 738.06,730.23 740.82,731.38 742.18,733.90 744.51,735.79 745.59,738.43 745.14,741.35" fill="url(#bg108)"/>
<circle cx="730.9" cy="729.6" r="1.6" fill="#7C34CC" opacity="0.68"/><circle cx="747.0" cy="747.2" r="1.9" fill="#7C34CC" opacity="0.83"/><circle cx="734.0" cy="759.9" r="1.0" fill="#7C34CC" opacity="0.77"/><circle cx="712.0" cy="731.2" r="1.0" fill="#7C34CC" opacity="0.53"/><circle cx="746.2" cy="752.6" r="1.7" fill="#7C34CC" opacity="0.47"/><circle cx="726.2" cy="727.6" r="1.4" fill="#7C34CC" opacity="0.79"/><circle cx="725.4" cy="727.4" r="1.2" fill="#7C34CC" opacity="0.59"/><circle cx="715.6" cy="753.5" r="1.0" fill="#7C34CC" opacity="0.68"/><circle cx="745.5" cy="740.8" r="1.4" fill="#7C34CC" opacity="0.42"/><circle cx="741.9" cy="736.4" r="1.2" fill="#7C34CC" opacity="0.76"/><circle cx="738.6" cy="734.4" r="0.9" fill="#7C34CC" opacity="0.51"/><circle cx="745.4" cy="743.4" r="0.9" fill="#7C34CC" opacity="0.73"/><circle cx="712.5" cy="743.9" r="0.9" fill="#7C34CC" opacity="0.59"/><circle cx="744.4" cy="740.7" r="2.2" fill="#7C34CC" opacity="0.59"/><circle cx="720.8" cy="756.7" r="1.6" fill="#7C34CC" opacity="0.48"/><circle cx="745.2" cy="738.4" r="0.8" fill="#7C34CC" opacity="0.71"/><circle cx="708.9" cy="747.0" r="1.6" fill="#7C34CC" opacity="0.46"/><circle cx="709.0" cy="746.4" r="0.9" fill="#7C34CC" opacity="0.84"/><circle cx="723.8" cy="729.6" r="0.9" fill="#7C34CC" opacity="0.60"/><circle cx="714.6" cy="731.2" r="1.0" fill="#7C34CC" opacity="0.70"/><circle cx="712.8" cy="739.4" r="1.5" fill="#7C34CC" opacity="0.71"/><circle cx="725.6" cy="729.9" r="0.9" fill="#7C34CC" opacity="0.75"/><circle cx="745.6" cy="742.6" r="2.0" fill="#7C34CC" opacity="0.59"/><circle cx="737.6" cy="759.1" r="1.2" fill="#7C34CC" opacity="0.83"/><circle cx="727.2" cy="730.2" r="1.2" fill="#7C34CC" opacity="0.80"/><circle cx="742.4" cy="749.1" r="0.9" fill="#7C34CC" opacity="0.75"/><circle cx="746.3" cy="740.0" r="2.0" fill="#7C34CC" opacity="0.50"/><circle cx="735.1" cy="725.2" r="1.9" fill="#7C34CC" opacity="0.51"/><circle cx="721.4" cy="762.9" r="1.8" fill="#7C34CC" opacity="0.60"/><circle cx="726.5" cy="757.7" r="1.9" fill="#7C34CC" opacity="0.70"/><circle cx="737.0" cy="755.2" r="2.2" fill="#7C34CC" opacity="0.86"/><circle cx="742.9" cy="744.6" r="2.0" fill="#7C34CC" opacity="0.62"/><circle cx="738.6" cy="730.9" r="1.3" fill="#7C34CC" opacity="0.88"/><circle cx="719.6" cy="762.3" r="1.9" fill="#7C34CC" opacity="0.46"/><circle cx="746.5" cy="735.6" r="1.0" fill="#7C34CC" opacity="0.67"/><circle cx="711.5" cy="745.0" r="1.8" fill="#7C34CC" opacity="0.86"/><circle cx="741.9" cy="730.9" r="1.4" fill="#7C34CC" opacity="0.72"/><circle cx="737.8" cy="731.8" r="1.9" fill="#7C34CC" opacity="0.62"/><circle cx="741.3" cy="735.1" r="1.6" fill="#7C34CC" opacity="0.63"/><circle cx="738.3" cy="757.3" r="1.8" fill="#7C34CC" opacity="0.71"/><circle cx="745.9" cy="736.9" r="1.0" fill="#7C34CC" opacity="0.65"/><circle cx="713.9" cy="748.4" r="2.1" fill="#7C34CC" opacity="0.72"/><circle cx="719.6" cy="760.0" r="1.7" fill="#7C34CC" opacity="0.79"/><circle cx="741.4" cy="732.8" r="1.5" fill="#7C34CC" opacity="0.68"/><circle cx="729.6" cy="757.6" r="1.8" fill="#7C34CC" opacity="0.76"/><circle cx="741.9" cy="752.2" r="1.1" fill="#7C34CC" opacity="0.46"/><circle cx="721.8" cy="728.7" r="1.2" fill="#7C34CC" opacity="0.77"/><circle cx="732.7" cy="729.5" r="1.6" fill="#7C34CC" opacity="0.53"/><circle cx="726.6" cy="759.2" r="1.2" fill="#7C34CC" opacity="0.49"/><circle cx="747.7" cy="747.5" r="1.5" fill="#7C34CC" opacity="0.54"/>
<radialGradient id="bg109"><stop offset="0" stop-color="#5C18B4"/><stop offset="0.75" stop-color="#7C34CC"/><stop offset="1" stop-color="#7C34CC" stop-opacity="0.4"/></radialGradient>
<polygon points="861.96,712.00 861.44,714.45 860.13,716.59 859.27,718.76 858.11,720.80 855.95,721.95 854.28,723.40 853.04,725.83 850.45,725.70 848.31,726.60 846.00,726.66 843.63,726.96 841.00,727.38 838.87,725.99 836.87,724.56 834.49,723.51 833.05,721.41 832.75,718.75 833.76,715.98 832.72,714.10 831.22,712.00 830.58,709.56 831.27,707.21 832.59,705.17 833.58,702.98 835.16,701.16 837.25,699.95 838.88,698.02 841.38,697.79 843.55,696.56 846.00,696.11 848.45,696.54 850.47,698.24 852.33,699.58 854.47,700.34 856.02,701.98 857.78,703.44 860.03,704.85 862.01,706.80 862.01,709.46" fill="url(#bg109)"/>
<circle cx="831.8" cy="715.2" r="1.7" fill="#7C34CC" opacity="0.87"/><circle cx="848.7" cy="698.7" r="1.5" fill="#7C34CC" opacity="0.79"/><circle cx="846.5" cy="698.8" r="1.4" fill="#7C34CC" opacity="0.71"/><circle cx="831.1" cy="712.5" r="2.0" fill="#7C34CC" opacity="0.61"/><circle cx="835.1" cy="706.2" r="1.9" fill="#7C34CC" opacity="0.75"/><circle cx="835.6" cy="704.0" r="0.9" fill="#7C34CC" opacity="0.52"/><circle cx="844.8" cy="727.5" r="1.6" fill="#7C34CC" opacity="0.83"/><circle cx="857.5" cy="706.5" r="1.0" fill="#7C34CC" opacity="0.76"/><circle cx="831.8" cy="719.0" r="1.4" fill="#7C34CC" opacity="0.51"/><circle cx="860.4" cy="706.7" r="1.9" fill="#7C34CC" opacity="0.75"/><circle cx="861.3" cy="707.1" r="0.9" fill="#7C34CC" opacity="0.44"/><circle cx="860.9" cy="716.0" r="1.5" fill="#7C34CC" opacity="0.75"/><circle cx="856.0" cy="719.0" r="2.0" fill="#7C34CC" opacity="0.71"/><circle cx="852.8" cy="721.8" r="1.9" fill="#7C34CC" opacity="0.82"/><circle cx="858.6" cy="723.0" r="1.0" fill="#7C34CC" opacity="0.60"/><circle cx="834.7" cy="701.0" r="2.0" fill="#7C34CC" opacity="0.41"/><circle cx="845.8" cy="724.0" r="0.9" fill="#7C34CC" opacity="0.74"/><circle cx="854.5" cy="722.6" r="1.8" fill="#7C34CC" opacity="0.79"/><circle cx="831.3" cy="708.4" r="1.7" fill="#7C34CC" opacity="0.51"/><circle cx="848.7" cy="728.4" r="1.2" fill="#7C34CC" opacity="0.85"/><circle cx="858.2" cy="716.4" r="1.7" fill="#7C34CC" opacity="0.51"/><circle cx="860.7" cy="711.7" r="2.0" fill="#7C34CC" opacity="0.73"/><circle cx="853.3" cy="702.5" r="1.3" fill="#7C34CC" opacity="0.52"/><circle cx="837.3" cy="720.1" r="1.0" fill="#7C34CC" opacity="0.65"/><circle cx="860.1" cy="707.3" r="1.7" fill="#7C34CC" opacity="0.86"/><circle cx="833.4" cy="705.1" r="1.6" fill="#7C34CC" opacity="0.66"/><circle cx="852.2" cy="722.0" r="2.0" fill="#7C34CC" opacity="0.63"/><circle cx="849.4" cy="701.0" r="1.5" fill="#7C34CC" opacity="0.86"/><circle cx="862.6" cy="713.4" r="1.3" fill="#7C34CC" opacity="0.66"/><circle cx="835.8" cy="701.6" r="1.2" fill="#7C34CC" opacity="0.87"/><circle cx="842.7" cy="722.8" r="0.8" fill="#7C34CC" opacity="0.89"/><circle cx="846.9" cy="725.1" r="1.6" fill="#7C34CC" opacity="0.66"/><circle cx="837.3" cy="724.5" r="1.6" fill="#7C34CC" opacity="0.45"/><circle cx="841.6" cy="697.5" r="1.8" fill="#7C34CC" opacity="0.75"/><circle cx="857.5" cy="713.7" r="2.0" fill="#7C34CC" opacity="0.52"/><circle cx="862.8" cy="711.1" r="2.0" fill="#7C34CC" opacity="0.75"/><circle cx="861.5" cy="715.8" r="1.4" fill="#7C34CC" opacity="0.82"/><circle cx="856.5" cy="707.1" r="1.3" fill="#7C34CC" opacity="0.54"/><circle cx="854.1" cy="726.4" r="1.8" fill="#7C34CC" opacity="0.69"/><circle cx="847.2" cy="697.7" r="0.8" fill="#7C34CC" opacity="0.68"/>
<circle cx="738.00" cy="779.50" r="2.50" fill="#8A40D0"/>
</g>
</g>
<clipPath id="ecb4"><rect x="882.00" y="660.00" width="189.20" height="141.60"/></clipPath>
<g clip-path="url(#ecb4)">
<rect x="882.00" y="660.00" width="189.20" height="141.60" fill="#CFA0E2"/>
<g filter="url(#eb1)">
<radialGradient id="bg110"><stop offset="0" stop-color="#4C12A8"/><stop offset="0.75" stop-color="#7A30CC"/><stop offset="1" stop-color="#7A30CC" stop-opacity="0.6"/></radialGradient>
<polygon points="961.54,757.00 961.56,759.62 961.71,762.43 959.65,764.46 958.68,766.94 957.42,769.42 955.56,771.53 953.57,773.82 950.44,773.73 947.38,772.05 945.00,772.92 942.54,772.56 940.24,771.65 937.69,771.35 934.63,771.27 932.10,769.90 930.20,767.75 929.36,764.97 927.95,762.54 927.11,759.83 927.10,757.00 928.43,754.38 928.64,751.68 929.27,748.99 930.76,746.66 933.97,745.97 936.12,744.78 938.10,743.46 939.74,740.81 942.06,738.46 945.00,738.70 947.82,739.22 950.53,739.98 952.92,741.46 955.10,743.10 956.41,745.59 958.05,747.52 958.91,749.91 960.71,751.90 960.81,754.50" fill="url(#bg110)"/>
<circle cx="931.4" cy="760.2" r="1.5" fill="#7A30CC" opacity="0.63"/><circle cx="934.1" cy="745.3" r="1.5" fill="#7A30CC" opacity="0.42"/><circle cx="959.4" cy="751.5" r="2.0" fill="#7A30CC" opacity="0.56"/><circle cx="961.0" cy="767.2" r="1.5" fill="#7A30CC" opacity="0.48"/><circle cx="963.1" cy="752.7" r="1.0" fill="#7A30CC" opacity="0.88"/><circle cx="954.2" cy="766.9" r="1.0" fill="#7A30CC" opacity="0.84"/><circle cx="932.2" cy="747.0" r="1.8" fill="#7A30CC" opacity="0.55"/><circle cx="957.3" cy="762.0" r="1.1" fill="#7A30CC" opacity="0.69"/><circle cx="956.7" cy="762.8" r="1.1" fill="#7A30CC" opacity="0.41"/><circle cx="957.8" cy="761.7" r="1.0" fill="#7A30CC" opacity="0.57"/><circle cx="954.9" cy="743.3" r="0.8" fill="#7A30CC" opacity="0.44"/><circle cx="936.9" cy="770.4" r="1.4" fill="#7A30CC" opacity="0.67"/><circle cx="942.0" cy="740.5" r="1.1" fill="#7A30CC" opacity="0.54"/><circle cx="961.0" cy="756.3" r="2.1" fill="#7A30CC" opacity="0.86"/><circle cx="951.2" cy="741.5" r="1.8" fill="#7A30CC" opacity="0.54"/><circle cx="949.1" cy="771.6" r="1.1" fill="#7A30CC" opacity="0.49"/><circle cx="955.6" cy="765.9" r="0.8" fill="#7A30CC" opacity="0.47"/><circle cx="943.8" cy="744.0" r="1.8" fill="#7A30CC" opacity="0.75"/><circle cx="952.8" cy="770.7" r="1.6" fill="#7A30CC" opacity="0.87"/><circle cx="934.5" cy="748.3" r="0.9" fill="#7A30CC" opacity="0.49"/>
<radialGradient id="bg111"><stop offset="0" stop-color="#7A28C8"/><stop offset="0.75" stop-color="#9048D8"/><stop offset="1" stop-color="#9048D8" stop-opacity="0.5"/></radialGradient>
<polygon points="1045.23,696.50 1046.78,697.70 1045.30,698.60 1043.93,699.24 1043.70,700.29 1043.49,701.55 1043.59,703.56 1041.71,703.69 1039.97,703.61 1038.44,703.55 1037.00,703.19 1035.72,702.78 1034.83,701.69 1034.29,700.64 1031.79,702.07 1030.41,701.62 1028.43,701.34 1028.63,699.82 1026.91,699.05 1026.76,697.76 1026.63,696.50 1028.16,695.41 1029.72,694.66 1029.31,693.45 1029.35,692.18 1031.65,692.34 1033.14,692.36 1033.17,690.65 1034.18,689.76 1035.87,690.94 1037.00,690.52 1038.66,688.36 1040.99,686.96 1042.71,687.79 1043.03,690.04 1043.22,691.66 1043.43,692.86 1044.13,693.68 1044.94,694.49 1043.46,695.70" fill="url(#bg111)"/>
<circle cx="1033.2" cy="690.0" r="1.0" fill="#9048D8" opacity="0.79"/><circle cx="1041.9" cy="703.3" r="1.9" fill="#9048D8" opacity="0.63"/><circle cx="1028.4" cy="692.6" r="1.3" fill="#9048D8" opacity="0.50"/><circle cx="1033.4" cy="689.5" r="1.0" fill="#9048D8" opacity="0.78"/><circle cx="1030.1" cy="701.0" r="1.5" fill="#9048D8" opacity="0.88"/><circle cx="1028.1" cy="692.9" r="2.1" fill="#9048D8" opacity="0.46"/><circle cx="1045.6" cy="693.7" r="1.0" fill="#9048D8" opacity="0.69"/><circle cx="1036.1" cy="701.8" r="0.9" fill="#9048D8" opacity="0.58"/><circle cx="1041.9" cy="692.6" r="1.6" fill="#9048D8" opacity="0.84"/><circle cx="1031.0" cy="701.9" r="1.6" fill="#9048D8" opacity="0.78"/><circle cx="1027.1" cy="697.4" r="1.4" fill="#9048D8" opacity="0.51"/><circle cx="1042.5" cy="700.6" r="1.0" fill="#9048D8" opacity="0.87"/>
</g>
</g>
<rect x="147.55" y="526.75" width="46.20" height="25.30" fill="none" stroke="#000" stroke-width="3.5"/>
<line x1="147.55" y1="552.05" x2="99.00" y2="657.50" stroke="#000" stroke-width="3.5" stroke-linecap="butt"/>
<line x1="193.75" y1="552.05" x2="287.50" y2="657.50" stroke="#000" stroke-width="3.5" stroke-linecap="butt"/>
<rect x="436.35" y="564.75" width="44.90" height="23.50" fill="none" stroke="#000" stroke-width="3.5"/>
<line x1="436.35" y1="588.25" x2="293.80" y2="657.50" stroke="#000" stroke-width="3.5" stroke-linecap="butt"/>
<line x1="481.25" y1="588.25" x2="482.60" y2="657.50" stroke="#000" stroke-width="3.5" stroke-linecap="butt"/>
<rect x="523.75" y="610.35" width="45.50" height="22.50" fill="none" stroke="#000" stroke-width="3.5"/>
<line x1="523.75" y1="632.85" x2="489.50" y2="657.50" stroke="#000" stroke-width="3.5" stroke-linecap="butt"/>
<line x1="569.25" y1="632.85" x2="677.50" y2="657.50" stroke="#000" stroke-width="3.5" stroke-linecap="butt"/>
<rect x="817.75" y="578.35" width="45.50" height="23.50" fill="none" stroke="#000" stroke-width="3.5"/>
<line x1="817.75" y1="601.85" x2="685.00" y2="658.50" stroke="#000" stroke-width="3.5" stroke-linecap="butt"/>
<line x1="863.25" y1="601.85" x2="874.00" y2="659.00" stroke="#000" stroke-width="3.5" stroke-linecap="butt"/>
<rect x="963.75" y="542.15" width="44.90" height="23.50" fill="none" stroke="#000" stroke-width="3.5"/>
<line x1="963.75" y1="565.65" x2="882.00" y2="660.00" stroke="#000" stroke-width="3.5" stroke-linecap="butt"/>
<line x1="1008.65" y1="565.65" x2="1070.60" y2="660.00" stroke="#000" stroke-width="3.5" stroke-linecap="butt"/>
<rect x="231.00" y="501.60" width="33.00" height="6.40" fill="#000"/>
<text x="225.60" y="526.00" font-size="18.5" font-weight="bold" textLength="59.40" lengthAdjust="spacingAndGlyphs">500µm</text>
<rect x="426.00" y="501.00" width="32.60" height="6.60" fill="#000"/>
<text x="420.60" y="525.80" font-size="18.5" font-weight="bold" textLength="58.40" lengthAdjust="spacingAndGlyphs">500µm</text>
<rect x="620.60" y="501.40" width="33.00" height="6.60" fill="#000"/>
<text x="615.00" y="525.80" font-size="18.5" font-weight="bold" textLength="58.60" lengthAdjust="spacingAndGlyphs">500µm</text>
<rect x="817.00" y="501.40" width="33.40" height="6.60" fill="#000"/>
<text x="811.40" y="525.80" font-size="18.5" font-weight="bold" textLength="59.60" lengthAdjust="spacingAndGlyphs">500µm</text>
<rect x="1011.40" y="500.40" width="32.60" height="6.20" fill="#000"/>
<text x="999.40" y="525.00" font-size="18.5" font-weight="bold" textLength="58.20" lengthAdjust="spacingAndGlyphs">500µm</text>
<rect x="177.00" y="770.50" width="33.00" height="7.00" fill="#000"/>
<text x="152.00" y="793.00" font-size="18.5" font-weight="bold" textLength="58.00" lengthAdjust="spacingAndGlyphs">100µm</text>
<rect x="394.50" y="770.50" width="33.00" height="7.00" fill="#000"/>
<text x="369.50" y="793.80" font-size="18.5" font-weight="bold" textLength="58.50" lengthAdjust="spacingAndGlyphs">100µm</text>
<rect x="599.50" y="772.00" width="33.50" height="6.80" fill="#000"/>
<text x="575.00" y="794.50" font-size="18.5" font-weight="bold" textLength="58.00" lengthAdjust="spacingAndGlyphs">100µm</text>
<rect x="788.80" y="772.00" width="33.20" height="7.00" fill="#000"/>
<text x="763.80" y="794.50" font-size="18.5" font-weight="bold" textLength="58.20" lengthAdjust="spacingAndGlyphs">100µm</text>
<rect x="985.00" y="772.00" width="33.00" height="7.00" fill="#000"/>
<text x="960.00" y="794.50" font-size="18.5" font-weight="bold" textLength="59.00" lengthAdjust="spacingAndGlyphs">100µm</text>
</g>
<g id="panelF">
<text x="1147.00" y="488.00" font-size="50.50" font-weight="bold" text-anchor="start" fill="#000" transform="translate(1147.00 0) scale(0.6900 1) translate(-1147.00 0)" stroke="#000" stroke-width="1">F</text>
<rect x="1284.60" y="515.00" width="30.00" height="210.00" fill="#000"/>
<line x1="1299.60" y1="498.00" x2="1299.60" y2="516.00" stroke="#000" stroke-width="2.8" stroke-linecap="butt"/>
<line x1="1292.35" y1="498.00" x2="1306.85" y2="498.00" stroke="#000" stroke-width="2.8" stroke-linecap="butt"/>
<rect x="1344.00" y="609.00" width="30.00" height="116.00" fill="#0000C8"/>
<line x1="1359.00" y1="581.60" x2="1359.00" y2="610.00" stroke="#0000C8" stroke-width="2.8" stroke-linecap="butt"/>
<line x1="1351.75" y1="581.60" x2="1366.25" y2="581.60" stroke="#0000C8" stroke-width="2.8" stroke-linecap="butt"/>
<rect x="1403.60" y="597.40" width="30.00" height="127.60" fill="#0000C8"/>
<line x1="1418.60" y1="576.60" x2="1418.60" y2="598.40" stroke="#0000C8" stroke-width="2.8" stroke-linecap="butt"/>
<line x1="1411.35" y1="576.60" x2="1425.85" y2="576.60" stroke="#0000C8" stroke-width="2.8" stroke-linecap="butt"/>
<rect x="1463.20" y="636.00" width="30.00" height="89.00" fill="#FF0000"/>
<line x1="1478.20" y1="615.00" x2="1478.20" y2="637.00" stroke="#FF0000" stroke-width="2.8" stroke-linecap="butt"/>
<line x1="1470.95" y1="615.00" x2="1485.45" y2="615.00" stroke="#FF0000" stroke-width="2.8" stroke-linecap="butt"/>
<rect x="1522.80" y="626.00" width="30.00" height="99.00" fill="#FF0000"/>
<line x1="1537.80" y1="609.60" x2="1537.80" y2="627.00" stroke="#FF0000" stroke-width="2.8" stroke-linecap="butt"/>
<line x1="1530.55" y1="609.60" x2="1545.05" y2="609.60" stroke="#FF0000" stroke-width="2.8" stroke-linecap="butt"/>
<line x1="1270.60" y1="468.20" x2="1270.60" y2="726.40" stroke="#000" stroke-width="2.8" stroke-linecap="butt"/>
<line x1="1261.10" y1="725.00" x2="1568.50" y2="725.00" stroke="#000" stroke-width="2.8" stroke-linecap="butt"/>
<line x1="1261.10" y1="469.60" x2="1270.60" y2="469.60" stroke="#000" stroke-width="2.8" stroke-linecap="butt"/>
<text x="1257.60" y="477.94" font-size="23.30" font-weight="bold" text-anchor="end" fill="#000" stroke="#000" stroke-width="0.25">200</text>
<line x1="1261.10" y1="533.60" x2="1270.60" y2="533.60" stroke="#000" stroke-width="2.8" stroke-linecap="butt"/>
<text x="1257.60" y="541.94" font-size="23.30" font-weight="bold" text-anchor="end" fill="#000" stroke="#000" stroke-width="0.25">150</text>
<line x1="1261.10" y1="597.50" x2="1270.60" y2="597.50" stroke="#000" stroke-width="2.8" stroke-linecap="butt"/>
<text x="1257.60" y="605.84" font-size="23.30" font-weight="bold" text-anchor="end" fill="#000" stroke="#000" stroke-width="0.25">100</text>
<line x1="1261.10" y1="661.40" x2="1270.60" y2="661.40" stroke="#000" stroke-width="2.8" stroke-linecap="butt"/>
<text x="1257.60" y="669.74" font-size="23.30" font-weight="bold" text-anchor="end" fill="#000" stroke="#000" stroke-width="0.25">50</text>
<line x1="1261.10" y1="725.00" x2="1270.60" y2="725.00" stroke="#000" stroke-width="2.8" stroke-linecap="butt"/>
<text x="1257.60" y="733.34" font-size="23.30" font-weight="bold" text-anchor="end" fill="#000" stroke="#000" stroke-width="0.25">0</text>
<line x1="1299.60" y1="725.00" x2="1299.60" y2="734.00" stroke="#000" stroke-width="2.8" stroke-linecap="butt"/>
<line x1="1359.00" y1="725.00" x2="1359.00" y2="734.00" stroke="#000" stroke-width="2.8" stroke-linecap="butt"/>
<line x1="1418.60" y1="725.00" x2="1418.60" y2="734.00" stroke="#000" stroke-width="2.8" stroke-linecap="butt"/>
<line x1="1478.20" y1="725.00" x2="1478.20" y2="734.00" stroke="#000" stroke-width="2.8" stroke-linecap="butt"/>
<line x1="1537.80" y1="725.00" x2="1537.80" y2="734.00" stroke="#000" stroke-width="2.8" stroke-linecap="butt"/>
<text x="1310.60" y="755.00" font-size="23.20" font-weight="bold" text-anchor="end" fill="#000" transform="rotate(-45 1310.60 755.00) translate(1310.60 0) scale(1.0450 1) translate(-1310.60 0)" stroke="#000" stroke-width="0.25">HepG2(Scr)</text>
<text x="1370.00" y="755.00" font-size="23.20" font-weight="bold" text-anchor="end" fill="#000" transform="rotate(-45 1370.00 755.00)" stroke="#000" stroke-width="0.25">miR-23a KO 1</text>
<text x="1429.60" y="755.00" font-size="23.20" font-weight="bold" text-anchor="end" fill="#000" transform="rotate(-45 1429.60 755.00)" stroke="#000" stroke-width="0.25">miR-23a KO 2</text>
<text x="1489.20" y="755.00" font-size="23.20" font-weight="bold" text-anchor="end" fill="#000" transform="rotate(-45 1489.20 755.00)" stroke="#000" stroke-width="0.25">miR-27a KO 1</text>
<text x="1548.80" y="755.00" font-size="23.20" font-weight="bold" text-anchor="end" fill="#000" transform="rotate(-45 1548.80 755.00)" stroke="#000" stroke-width="0.25">miR-27a KO 2</text>
<text x="1358.75" y="583.15" font-size="23.60" font-weight="normal" text-anchor="middle" fill="#000" stroke="#000" stroke-width="0.45" letter-spacing="0.7">**</text>
<text x="1418.35" y="576.75" font-size="23.60" font-weight="normal" text-anchor="middle" fill="#000" stroke="#000" stroke-width="0.45" letter-spacing="0.7">**</text>
<text x="1477.95" y="615.15" font-size="23.60" font-weight="normal" text-anchor="middle" fill="#000" stroke="#000" stroke-width="0.45" letter-spacing="0.7">**</text>
<text x="1537.85" y="610.15" font-size="23.60" font-weight="normal" text-anchor="middle" fill="#000" stroke="#000" stroke-width="0.45" letter-spacing="0.7">**</text>
<text transform="translate(1203.80 593.50) rotate(-90) scale(0.9709 1)" font-size="25.75" font-weight="bold" text-anchor="middle" stroke="#000" stroke-width="0.4">Long diameter (um)</text>
</g>
<g id="panelG">
<text x="1584.50" y="487.30" font-size="48.50" font-weight="bold" text-anchor="start" fill="#000" transform="translate(1584.50 0) scale(0.8600 1) translate(-1584.50 0)" stroke="#000" stroke-width="1">G</text>
<rect x="1694.30" y="602.00" width="29.40" height="127.00" fill="#fff" stroke="#000" stroke-width="2.5"/>
<rect x="1758.30" y="583.40" width="29.40" height="145.60" fill="#fff" stroke="#000" stroke-width="2.5"/>
<rect x="1822.60" y="585.00" width="29.40" height="144.00" fill="#fff" stroke="#000" stroke-width="2.5"/>
<rect x="1886.70" y="661.00" width="29.40" height="68.00" fill="#fff" stroke="#000" stroke-width="2.5"/>
<rect x="1950.80" y="655.00" width="29.40" height="74.00" fill="#fff" stroke="#000" stroke-width="2.5"/>
<line x1="1677.00" y1="488.15" x2="1677.00" y2="730.25" stroke="#000" stroke-width="2.5" stroke-linecap="butt"/>
<line x1="1669.00" y1="729.00" x2="2000.00" y2="729.00" stroke="#000" stroke-width="2.5" stroke-linecap="butt"/>
<line x1="1669.00" y1="489.40" x2="1677.00" y2="489.40" stroke="#000" stroke-width="2.5" stroke-linecap="butt"/>
<text x="1665.80" y="497.40" font-size="17.60" font-weight="bold" text-anchor="end" fill="#000" stroke="#000" stroke-width="0.25">60</text>
<line x1="1669.00" y1="570.00" x2="1677.00" y2="570.00" stroke="#000" stroke-width="2.5" stroke-linecap="butt"/>
<text x="1665.80" y="578.00" font-size="17.60" font-weight="bold" text-anchor="end" fill="#000" stroke="#000" stroke-width="0.25">40</text>
<line x1="1669.00" y1="649.60" x2="1677.00" y2="649.60" stroke="#000" stroke-width="2.5" stroke-linecap="butt"/>
<text x="1665.80" y="657.60" font-size="17.60" font-weight="bold" text-anchor="end" fill="#000" stroke="#000" stroke-width="0.25">20</text>
<line x1="1669.00" y1="729.00" x2="1677.00" y2="729.00" stroke="#000" stroke-width="2.5" stroke-linecap="butt"/>
<text x="1665.80" y="737.00" font-size="17.60" font-weight="bold" text-anchor="end" fill="#000" stroke="#000" stroke-width="0.25">0</text>
<line x1="1709.00" y1="729.00" x2="1709.00" y2="736.80" stroke="#000" stroke-width="2.5" stroke-linecap="butt"/>
<line x1="1773.00" y1="729.00" x2="1773.00" y2="736.80" stroke="#000" stroke-width="2.5" stroke-linecap="butt"/>
<line x1="1837.30" y1="729.00" x2="1837.30" y2="736.80" stroke="#000" stroke-width="2.5" stroke-linecap="butt"/>
<line x1="1901.40" y1="729.00" x2="1901.40" y2="736.80" stroke="#000" stroke-width="2.5" stroke-linecap="butt"/>
<line x1="1965.50" y1="729.00" x2="1965.50" y2="736.80" stroke="#000" stroke-width="2.5" stroke-linecap="butt"/>
<text x="1717.00" y="756.00" font-size="21.30" font-weight="bold" text-anchor="end" fill="#000" transform="rotate(-45 1717.00 756.00)" stroke="#000" stroke-width="0.25">HepG2(Scr)</text>
<text x="1781.00" y="756.00" font-size="21.30" font-weight="bold" text-anchor="end" fill="#000" transform="rotate(-45 1781.00 756.00)" stroke="#000" stroke-width="0.25">miR-23a KO 1</text>
<text x="1845.30" y="756.00" font-size="21.30" font-weight="bold" text-anchor="end" fill="#000" transform="rotate(-45 1845.30 756.00)" stroke="#000" stroke-width="0.25">miR-23a KO 2</text>
<text x="1909.40" y="756.00" font-size="21.30" font-weight="bold" text-anchor="end" fill="#000" transform="rotate(-45 1909.40 756.00)" stroke="#000" stroke-width="0.25">miR-27a KO 1</text>
<text x="1973.50" y="756.00" font-size="21.30" font-weight="bold" text-anchor="end" fill="#000" transform="rotate(-45 1973.50 756.00)" stroke="#000" stroke-width="0.25">miR-27a KO 2</text>
<line x1="1709.00" y1="577.00" x2="1709.00" y2="623.60" stroke="#000" stroke-width="2.2" stroke-linecap="butt"/>
<line x1="1701.00" y1="577.00" x2="1717.00" y2="577.00" stroke="#000" stroke-width="2.2" stroke-linecap="butt"/>
<line x1="1701.00" y1="623.60" x2="1717.00" y2="623.60" stroke="#000" stroke-width="2.2" stroke-linecap="butt"/>
<circle cx="1720.00" cy="566.00" r="5.40" fill="#000"/>
<circle cx="1698.00" cy="573.00" r="5.40" fill="#000"/>
<circle cx="1720.00" cy="578.00" r="5.40" fill="#000"/>
<circle cx="1698.00" cy="590.00" r="5.40" fill="#000"/>
<circle cx="1720.00" cy="597.00" r="5.40" fill="#000"/>
<circle cx="1698.00" cy="606.00" r="5.40" fill="#000"/>
<circle cx="1720.00" cy="613.00" r="5.40" fill="#000"/>
<circle cx="1698.00" cy="621.60" r="5.40" fill="#000"/>
<circle cx="1720.00" cy="626.60" r="5.40" fill="#000"/>
<circle cx="1698.00" cy="634.00" r="5.40" fill="#000"/>
<line x1="1773.00" y1="561.60" x2="1773.00" y2="602.40" stroke="#0000C8" stroke-width="2.2" stroke-linecap="butt"/>
<line x1="1765.00" y1="561.60" x2="1781.00" y2="561.60" stroke="#0000C8" stroke-width="2.2" stroke-linecap="butt"/>
<line x1="1765.00" y1="602.40" x2="1781.00" y2="602.40" stroke="#0000C8" stroke-width="2.2" stroke-linecap="butt"/>
<circle cx="1762.00" cy="550.00" r="5.40" fill="#0000C8"/>
<circle cx="1773.00" cy="557.60" r="5.40" fill="#0000C8"/>
<circle cx="1762.00" cy="570.00" r="5.40" fill="#0000C8"/>
<circle cx="1784.60" cy="574.00" r="5.40" fill="#0000C8"/>
<circle cx="1762.00" cy="582.00" r="5.40" fill="#0000C8"/>
<circle cx="1773.00" cy="582.00" r="5.40" fill="#0000C8"/>
<circle cx="1784.60" cy="589.60" r="5.40" fill="#0000C8"/>
<circle cx="1773.00" cy="598.00" r="5.40" fill="#0000C8"/>
<circle cx="1784.60" cy="606.00" r="5.40" fill="#0000C8"/>
<circle cx="1762.00" cy="614.00" r="5.40" fill="#0000C8"/>
<line x1="1837.30" y1="557.60" x2="1837.30" y2="610.40" stroke="#000" stroke-width="2.2" stroke-linecap="butt"/>
<line x1="1829.30" y1="557.60" x2="1845.30" y2="557.60" stroke="#000" stroke-width="2.2" stroke-linecap="butt"/>
<line x1="1829.30" y1="610.40" x2="1845.30" y2="610.40" stroke="#000" stroke-width="2.2" stroke-linecap="butt"/>
<circle cx="1837.00" cy="538.00" r="5.40" fill="#0000C8"/>
<circle cx="1841.00" cy="550.00" r="5.40" fill="#0000C8"/>
<circle cx="1833.40" cy="558.00" r="5.40" fill="#0000C8"/>
<circle cx="1833.40" cy="582.00" r="5.40" fill="#0000C8"/>
<circle cx="1841.00" cy="590.00" r="5.40" fill="#0000C8"/>
<circle cx="1833.40" cy="597.60" r="5.40" fill="#0000C8"/>
<circle cx="1826.00" cy="602.00" r="5.40" fill="#0000C8"/>
<circle cx="1848.60" cy="602.00" r="5.40" fill="#0000C8"/>
<circle cx="1841.00" cy="606.00" r="5.40" fill="#0000C8"/>
<circle cx="1833.40" cy="614.00" r="5.40" fill="#0000C8"/>
<line x1="1901.40" y1="648.00" x2="1901.40" y2="672.00" stroke="#FF0000" stroke-width="2.2" stroke-linecap="butt"/>
<line x1="1893.40" y1="648.00" x2="1909.40" y2="648.00" stroke="#FF0000" stroke-width="2.2" stroke-linecap="butt"/>
<line x1="1893.40" y1="672.00" x2="1909.40" y2="672.00" stroke="#FF0000" stroke-width="2.2" stroke-linecap="butt"/>
<circle cx="1912.00" cy="641.60" r="5.40" fill="#FF0000"/>
<circle cx="1901.40" cy="645.00" r="5.40" fill="#FF0000"/>
<circle cx="1890.40" cy="650.00" r="5.40" fill="#FF0000"/>
<circle cx="1912.00" cy="653.60" r="5.40" fill="#FF0000"/>
<circle cx="1901.40" cy="657.60" r="5.40" fill="#FF0000"/>
<circle cx="1890.40" cy="662.00" r="5.40" fill="#FF0000"/>
<circle cx="1912.00" cy="665.60" r="5.40" fill="#FF0000"/>
<circle cx="1901.40" cy="670.00" r="5.40" fill="#FF0000"/>
<circle cx="1890.40" cy="678.00" r="5.40" fill="#FF0000"/>
<circle cx="1912.00" cy="678.00" r="5.40" fill="#FF0000"/>
<line x1="1965.50" y1="643.00" x2="1965.50" y2="665.00" stroke="#FF0000" stroke-width="2.2" stroke-linecap="butt"/>
<line x1="1957.50" y1="643.00" x2="1973.50" y2="643.00" stroke="#FF0000" stroke-width="2.2" stroke-linecap="butt"/>
<line x1="1957.50" y1="665.00" x2="1973.50" y2="665.00" stroke="#FF0000" stroke-width="2.2" stroke-linecap="butt"/>
<circle cx="1965.40" cy="629.60" r="5.40" fill="#FF0000"/>
<circle cx="1970.00" cy="646.00" r="5.40" fill="#FF0000"/>
<circle cx="1954.40" cy="654.00" r="5.40" fill="#FF0000"/>
<circle cx="1976.60" cy="654.00" r="5.40" fill="#FF0000"/>
<circle cx="1965.40" cy="655.00" r="5.40" fill="#FF0000"/>
<circle cx="1960.00" cy="660.00" r="5.40" fill="#FF0000"/>
<circle cx="1971.00" cy="660.00" r="5.40" fill="#FF0000"/>
<circle cx="1954.40" cy="666.00" r="5.40" fill="#FF0000"/>
<circle cx="1976.60" cy="666.00" r="5.40" fill="#FF0000"/>
<circle cx="1965.40" cy="664.00" r="5.40" fill="#FF0000"/>
<text x="1905.15" y="635.79" font-size="22.50" font-weight="normal" text-anchor="middle" fill="#000" stroke="#000" stroke-width="0.45" letter-spacing="0.3">***</text>
<text x="1966.75" y="623.19" font-size="22.50" font-weight="normal" text-anchor="middle" fill="#000" stroke="#000" stroke-width="0.45" letter-spacing="0.3">***</text>
<text transform="translate(1632.00 609.70) rotate(-90) scale(1.0000 1)" font-size="27.70" font-weight="bold" text-anchor="middle" stroke="#000" stroke-width="0.25">Spheroids</text>
</g>
<g id="panelH">
<defs><radialGradient id="hg" cx="0.45" cy="0.4" r="0.7"><stop offset="0" stop-color="#64222A"/><stop offset="0.6" stop-color="#4E1820"/><stop offset="1" stop-color="#3A1016"/></radialGradient>
<filter id="hb3" x="-30%" y="-30%" width="160%" height="160%"><feGaussianBlur stdDeviation="2.5"/></filter>
<filter id="hb1" x="-20%" y="-20%" width="140%" height="140%"><feGaussianBlur stdDeviation="0.9"/></filter>
<linearGradient id="hr" x1="0" y1="0" x2="0" y2="1"><stop offset="0" stop-color="#2A50F0"/><stop offset="0.06" stop-color="#0C34E8"/><stop offset="0.2" stop-color="#0628E0"/><stop offset="0.27" stop-color="#0012B4"/><stop offset="0.36" stop-color="#0420D0"/><stop offset="0.9" stop-color="#0A2CDC"/><stop offset="1" stop-color="#1030D8"/></linearGradient>
</defs>
<text x="0.80" y="902.00" font-size="50.50" font-weight="bold" text-anchor="start" fill="#000" transform="translate(0.80 0) scale(0.8800 1) translate(-0.80 0)" stroke="#000" stroke-width="1">H</text>
<rect x="230.80" y="875.00" width="710.20" height="429.00" fill="#EBEBEB"/>
<rect x="230.80" y="875.00" width="2.00" height="429.00" fill="#F2F2F2"/>
<rect x="230.80" y="874.70" width="710.20" height="26.60" fill="url(#hr)"/>
<rect x="230.80" y="901.30" width="710.20" height="1.40" fill="#8E9CE0"/>
<rect x="230.80" y="902.70" width="710.20" height="1.10" fill="#D8DAEA"/>
<g fill="#CCD2F0"><rect x="231.39" y="890.70" width="1.5" height="7.50"/><rect x="234.66" y="890.70" width="1.5" height="7.50"/><rect x="237.93" y="890.70" width="1.5" height="7.50"/><rect x="241.20" y="887.00" width="1.5" height="11.20"/><rect x="244.47" y="890.70" width="1.5" height="7.50"/><rect x="247.74" y="890.70" width="1.5" height="7.50"/><rect x="251.01" y="890.70" width="1.5" height="7.50"/><rect x="254.28" y="890.70" width="1.5" height="7.50"/><rect x="257.55" y="881.90" width="1.5" height="16.30"/><rect x="260.82" y="890.70" width="1.5" height="7.50"/><rect x="264.09" y="890.70" width="1.5" height="7.50"/><rect x="267.36" y="890.70" width="1.5" height="7.50"/><rect x="270.63" y="890.70" width="1.5" height="7.50"/><rect x="273.90" y="887.00" width="1.5" height="11.20"/><rect x="277.17" y="890.70" width="1.5" height="7.50"/><rect x="280.44" y="890.70" width="1.5" height="7.50"/><rect x="283.71" y="890.70" width="1.5" height="7.50"/><rect x="286.98" y="890.70" width="1.5" height="7.50"/><rect x="290.25" y="881.90" width="1.5" height="16.30"/><rect x="293.55" y="890.70" width="1.5" height="7.50"/><rect x="296.85" y="890.70" width="1.5" height="7.50"/><rect x="300.15" y="890.70" width="1.5" height="7.50"/><rect x="303.45" y="890.70" width="1.5" height="7.50"/><rect x="306.75" y="887.00" width="1.5" height="11.20"/><rect x="310.05" y="890.70" width="1.5" height="7.50"/><rect x="313.35" y="890.70" width="1.5" height="7.50"/><rect x="316.65" y="890.70" width="1.5" height="7.50"/><rect x="319.95" y="890.70" width="1.5" height="7.50"/><rect x="323.25" y="881.90" width="1.5" height="16.30"/><rect x="326.55" y="890.70" width="1.5" height="7.50"/><rect x="329.85" y="890.70" width="1.5" height="7.50"/><rect x="333.15" y="890.70" width="1.5" height="7.50"/><rect x="336.45" y="890.70" width="1.5" height="7.50"/><rect x="339.75" y="887.00" width="1.5" height="11.20"/><rect x="343.05" y="890.70" width="1.5" height="7.50"/><rect x="346.35" y="890.70" width="1.5" height="7.50"/><rect x="349.65" y="890.70" width="1.5" height="7.50"/><rect x="352.95" y="890.70" width="1.5" height="7.50"/><rect x="356.25" y="881.90" width="1.5" height="16.30"/><rect x="359.50" y="890.70" width="1.5" height="7.50"/><rect x="362.75" y="890.70" width="1.5" height="7.50"/><rect x="366.00" y="890.70" width="1.5" height="7.50"/><rect x="369.25" y="890.70" width="1.5" height="7.50"/><rect x="372.50" y="887.00" width="1.5" height="11.20"/><rect x="375.75" y="890.70" width="1.5" height="7.50"/><rect x="379.00" y="890.70" width="1.5" height="7.50"/><rect x="382.25" y="890.70" width="1.5" height="7.50"/><rect x="385.50" y="890.70" width="1.5" height="7.50"/><rect x="388.75" y="881.90" width="1.5" height="16.30"/><rect x="392.00" y="890.70" width="1.5" height="7.50"/><rect x="395.25" y="890.70" width="1.5" height="7.50"/><rect x="398.50" y="890.70" width="1.5" height="7.50"/><rect x="401.75" y="890.70" width="1.5" height="7.50"/><rect x="405.00" y="887.00" width="1.5" height="11.20"/><rect x="408.25" y="890.70" width="1.5" height="7.50"/><rect x="411.50" y="890.70" width="1.5" height="7.50"/><rect x="414.75" y="890.70" width="1.5" height="7.50"/><rect x="418.00" y="890.70" width="1.5" height="7.50"/><rect x="421.25" y="881.90" width="1.5" height="16.30"/><rect x="424.50" y="890.70" width="1.5" height="7.50"/><rect x="427.75" y="890.70" width="1.5" height="7.50"/><rect x="431.00" y="890.70" width="1.5" height="7.50"/><rect x="434.25" y="890.70" width="1.5" height="7.50"/><rect x="437.50" y="887.00" width="1.5" height="11.20"/><rect x="440.75" y="890.70" width="1.5" height="7.50"/><rect x="444.00" y="890.70" width="1.5" height="7.50"/><rect x="447.25" y="890.70" width="1.5" height="7.50"/><rect x="450.50" y="890.70" width="1.5" height="7.50"/><rect x="453.75" y="881.90" width="1.5" height="16.30"/><rect x="457.00" y="890.70" width="1.5" height="7.50"/><rect x="460.25" y="890.70" width="1.5" height="7.50"/><rect x="463.50" y="890.70" width="1.5" height="7.50"/><rect x="466.75" y="890.70" width="1.5" height="7.50"/><rect x="470.00" y="887.00" width="1.5" height="11.20"/><rect x="473.25" y="890.70" width="1.5" height="7.50"/><rect x="476.50" y="890.70" width="1.5" height="7.50"/><rect x="479.75" y="890.70" width="1.5" height="7.50"/><rect x="483.00" y="890.70" width="1.5" height="7.50"/><rect x="486.25" y="881.90" width="1.5" height="16.30"/><rect x="489.55" y="890.70" width="1.5" height="7.50"/><rect x="492.85" y="890.70" width="1.5" height="7.50"/><rect x="496.15" y="890.70" width="1.5" height="7.50"/><rect x="499.45" y="890.70" width="1.5" height="7.50"/><rect x="502.75" y="887.00" width="1.5" height="11.20"/><rect x="506.05" y="890.70" width="1.5" height="7.50"/><rect x="509.35" y="890.70" width="1.5" height="7.50"/><rect x="512.65" y="890.70" width="1.5" height="7.50"/><rect x="515.95" y="890.70" width="1.5" height="7.50"/><rect x="519.25" y="881.90" width="1.5" height="16.30"/><rect x="522.50" y="890.70" width="1.5" height="7.50"/><rect x="525.75" y="890.70" width="1.5" height="7.50"/><rect x="529.00" y="890.70" width="1.5" height="7.50"/><rect x="532.25" y="890.70" width="1.5" height="7.50"/><rect x="535.50" y="887.00" width="1.5" height="11.20"/><rect x="538.75" y="890.70" width="1.5" height="7.50"/><rect x="542.00" y="890.70" width="1.5" height="7.50"/><rect x="545.25" y="890.70" width="1.5" height="7.50"/><rect x="548.50" y="890.70" width="1.5" height="7.50"/><rect x="551.75" y="881.90" width="1.5" height="16.30"/><rect x="554.88" y="890.70" width="1.5" height="7.50"/><rect x="558.01" y="890.70" width="1.5" height="7.50"/><rect x="561.14" y="890.70" width="1.5" height="7.50"/><rect x="564.27" y="890.70" width="1.5" height="7.50"/><rect x="567.40" y="887.00" width="1.5" height="11.20"/><rect x="570.53" y="890.70" width="1.5" height="7.50"/><rect x="573.66" y="890.70" width="1.5" height="7.50"/><rect x="576.79" y="890.70" width="1.5" height="7.50"/><rect x="579.92" y="890.70" width="1.5" height="7.50"/><rect x="583.05" y="881.90" width="1.5" height="16.30"/><rect x="586.27" y="890.70" width="1.5" height="7.50"/><rect x="589.49" y="890.70" width="1.5" height="7.50"/><rect x="592.71" y="890.70" width="1.5" height="7.50"/><rect x="595.93" y="890.70" width="1.5" height="7.50"/><rect x="599.15" y="887.00" width="1.5" height="11.20"/><rect x="602.37" y="890.70" width="1.5" height="7.50"/><rect x="605.59" y="890.70" width="1.5" height="7.50"/><rect x="608.81" y="890.70" width="1.5" height="7.50"/><rect x="612.03" y="890.70" width="1.5" height="7.50"/><rect x="615.25" y="881.90" width="1.5" height="16.30"/><rect x="618.45" y="890.70" width="1.5" height="7.50"/><rect x="621.65" y="890.70" width="1.5" height="7.50"/><rect x="624.85" y="890.70" width="1.5" height="7.50"/><rect x="628.05" y="890.70" width="1.5" height="7.50"/><rect x="631.25" y="887.00" width="1.5" height="11.20"/><rect x="634.45" y="890.70" width="1.5" height="7.50"/><rect x="637.65" y="890.70" width="1.5" height="7.50"/><rect x="640.85" y="890.70" width="1.5" height="7.50"/><rect x="644.05" y="890.70" width="1.5" height="7.50"/><rect x="647.25" y="881.90" width="1.5" height="16.30"/><rect x="650.45" y="890.70" width="1.5" height="7.50"/><rect x="653.65" y="890.70" width="1.5" height="7.50"/><rect x="656.85" y="890.70" width="1.5" height="7.50"/><rect x="660.05" y="890.70" width="1.5" height="7.50"/><rect x="663.25" y="887.00" width="1.5" height="11.20"/><rect x="666.45" y="890.70" width="1.5" height="7.50"/><rect x="669.65" y="890.70" width="1.5" height="7.50"/><rect x="672.85" y="890.70" width="1.5" height="7.50"/><rect x="676.05" y="890.70" width="1.5" height="7.50"/><rect x="679.25" y="881.90" width="1.5" height="16.30"/><rect x="682.50" y="890.70" width="1.5" height="7.50"/><rect x="685.75" y="890.70" width="1.5" height="7.50"/><rect x="689.00" y="890.70" width="1.5" height="7.50"/><rect x="692.25" y="890.70" width="1.5" height="7.50"/><rect x="695.50" y="887.00" width="1.5" height="11.20"/><rect x="698.75" y="890.70" width="1.5" height="7.50"/><rect x="702.00" y="890.70" width="1.5" height="7.50"/><rect x="705.25" y="890.70" width="1.5" height="7.50"/><rect x="708.50" y="890.70" width="1.5" height="7.50"/><rect x="711.75" y="881.90" width="1.5" height="16.30"/><rect x="714.90" y="890.70" width="1.5" height="7.50"/><rect x="718.05" y="890.70" width="1.5" height="7.50"/><rect x="721.20" y="890.70" width="1.5" height="7.50"/><rect x="724.35" y="890.70" width="1.5" height="7.50"/><rect x="727.50" y="887.00" width="1.5" height="11.20"/><rect x="730.65" y="890.70" width="1.5" height="7.50"/><rect x="733.80" y="890.70" width="1.5" height="7.50"/><rect x="736.95" y="890.70" width="1.5" height="7.50"/><rect x="740.10" y="890.70" width="1.5" height="7.50"/><rect x="743.25" y="881.90" width="1.5" height="16.30"/><rect x="746.45" y="890.70" width="1.5" height="7.50"/><rect x="749.65" y="890.70" width="1.5" height="7.50"/><rect x="752.85" y="890.70" width="1.5" height="7.50"/><rect x="756.05" y="890.70" width="1.5" height="7.50"/><rect x="759.25" y="887.00" width="1.5" height="11.20"/><rect x="762.45" y="890.70" width="1.5" height="7.50"/><rect x="765.65" y="890.70" width="1.5" height="7.50"/><rect x="768.85" y="890.70" width="1.5" height="7.50"/><rect x="772.05" y="890.70" width="1.5" height="7.50"/><rect x="775.25" y="881.90" width="1.5" height="16.30"/><rect x="778.45" y="890.70" width="1.5" height="7.50"/><rect x="781.65" y="890.70" width="1.5" height="7.50"/><rect x="784.85" y="890.70" width="1.5" height="7.50"/><rect x="788.05" y="890.70" width="1.5" height="7.50"/><rect x="791.25" y="887.00" width="1.5" height="11.20"/><rect x="794.45" y="890.70" width="1.5" height="7.50"/><rect x="797.65" y="890.70" width="1.5" height="7.50"/><rect x="800.85" y="890.70" width="1.5" height="7.50"/><rect x="804.05" y="890.70" width="1.5" height="7.50"/><rect x="807.25" y="881.90" width="1.5" height="16.30"/><rect x="810.40" y="890.70" width="1.5" height="7.50"/><rect x="813.55" y="890.70" width="1.5" height="7.50"/><rect x="816.70" y="890.70" width="1.5" height="7.50"/><rect x="819.85" y="890.70" width="1.5" height="7.50"/><rect x="823.00" y="887.00" width="1.5" height="11.20"/><rect x="826.15" y="890.70" width="1.5" height="7.50"/><rect x="829.30" y="890.70" width="1.5" height="7.50"/><rect x="832.45" y="890.70" width="1.5" height="7.50"/><rect x="835.60" y="890.70" width="1.5" height="7.50"/><rect x="838.75" y="881.90" width="1.5" height="16.30"/><rect x="841.90" y="890.70" width="1.5" height="7.50"/><rect x="845.05" y="890.70" width="1.5" height="7.50"/><rect x="848.20" y="890.70" width="1.5" height="7.50"/><rect x="851.35" y="890.70" width="1.5" height="7.50"/><rect x="854.50" y="887.00" width="1.5" height="11.20"/><rect x="857.65" y="890.70" width="1.5" height="7.50"/><rect x="860.80" y="890.70" width="1.5" height="7.50"/><rect x="863.95" y="890.70" width="1.5" height="7.50"/><rect x="867.10" y="890.70" width="1.5" height="7.50"/><rect x="870.25" y="881.90" width="1.5" height="16.30"/><rect x="873.35" y="890.70" width="1.5" height="7.50"/><rect x="876.45" y="890.70" width="1.5" height="7.50"/><rect x="879.55" y="890.70" width="1.5" height="7.50"/><rect x="882.65" y="890.70" width="1.5" height="7.50"/><rect x="885.75" y="887.00" width="1.5" height="11.20"/><rect x="888.85" y="890.70" width="1.5" height="7.50"/><rect x="891.95" y="890.70" width="1.5" height="7.50"/><rect x="895.05" y="890.70" width="1.5" height="7.50"/><rect x="898.15" y="890.70" width="1.5" height="7.50"/><rect x="901.25" y="881.90" width="1.5" height="16.30"/><rect x="904.30" y="890.70" width="1.5" height="7.50"/><rect x="907.35" y="890.70" width="1.5" height="7.50"/><rect x="910.40" y="890.70" width="1.5" height="7.50"/><rect x="913.45" y="890.70" width="1.5" height="7.50"/><rect x="916.50" y="887.00" width="1.5" height="11.20"/><rect x="919.55" y="890.70" width="1.5" height="7.50"/><rect x="922.60" y="890.70" width="1.5" height="7.50"/><rect x="925.65" y="890.70" width="1.5" height="7.50"/><rect x="928.70" y="890.70" width="1.5" height="7.50"/><rect x="931.75" y="881.90" width="1.5" height="16.30"/><rect x="934.80" y="890.70" width="1.5" height="7.50"/><rect x="937.85" y="890.70" width="1.5" height="7.50"/></g>
<text x="257.10" y="889.10" font-size="9.00" font-weight="bold" text-anchor="end" fill="#E6EAFA" stroke="none">1</text>
<text x="289.80" y="889.10" font-size="9.00" font-weight="bold" text-anchor="end" fill="#E6EAFA" stroke="none">2</text>
<text x="322.80" y="889.10" font-size="9.00" font-weight="bold" text-anchor="end" fill="#E6EAFA" stroke="none">3</text>
<text x="355.80" y="889.10" font-size="9.00" font-weight="bold" text-anchor="end" fill="#E6EAFA" stroke="none">4</text>
<text x="388.30" y="889.10" font-size="9.00" font-weight="bold" text-anchor="end" fill="#E6EAFA" stroke="none">5</text>
<text x="420.80" y="889.10" font-size="9.00" font-weight="bold" text-anchor="end" fill="#E6EAFA" stroke="none">6</text>
<text x="453.30" y="889.10" font-size="9.00" font-weight="bold" text-anchor="end" fill="#E6EAFA" stroke="none">7</text>
<text x="485.80" y="889.10" font-size="9.00" font-weight="bold" text-anchor="end" fill="#E6EAFA" stroke="none">8</text>
<text x="518.80" y="889.10" font-size="9.00" font-weight="bold" text-anchor="end" fill="#E6EAFA" stroke="none">9</text>
<text x="551.30" y="889.10" font-size="9.00" font-weight="bold" text-anchor="end" fill="#E6EAFA" stroke="none">10</text>
<text x="582.60" y="889.10" font-size="9.00" font-weight="bold" text-anchor="end" fill="#E6EAFA" stroke="none">11</text>
<text x="614.80" y="889.10" font-size="9.00" font-weight="bold" text-anchor="end" fill="#E6EAFA" stroke="none">12</text>
<text x="646.80" y="889.10" font-size="9.00" font-weight="bold" text-anchor="end" fill="#E6EAFA" stroke="none">13</text>
<text x="678.80" y="889.10" font-size="9.00" font-weight="bold" text-anchor="end" fill="#E6EAFA" stroke="none">14</text>
<text x="711.30" y="889.10" font-size="9.00" font-weight="bold" text-anchor="end" fill="#E6EAFA" stroke="none">15</text>
<text x="742.80" y="889.10" font-size="9.00" font-weight="bold" text-anchor="end" fill="#E6EAFA" stroke="none">16</text>
<text x="774.80" y="889.10" font-size="9.00" font-weight="bold" text-anchor="end" fill="#E6EAFA" stroke="none">17</text>
<text x="806.80" y="889.10" font-size="9.00" font-weight="bold" text-anchor="end" fill="#E6EAFA" stroke="none">18</text>
<text x="838.30" y="889.10" font-size="9.00" font-weight="bold" text-anchor="end" fill="#E6EAFA" stroke="none">19</text>
<text x="869.80" y="889.10" font-size="9.00" font-weight="bold" text-anchor="end" fill="#E6EAFA" stroke="none">20</text>
<text x="900.80" y="889.10" font-size="9.00" font-weight="bold" text-anchor="end" fill="#E6EAFA" stroke="none">21</text>
<text x="931.30" y="889.10" font-size="9.00" font-weight="bold" text-anchor="end" fill="#E6EAFA" stroke="none">22</text>
<text x="231.50" y="886.50" font-size="5.20" font-weight="bold" text-anchor="start" fill="#DCE0F8" stroke="none">ETRIC</text>
<text x="22.30" y="973.80" font-size="30.60" font-weight="bold" text-anchor="start" fill="#000" stroke="#000" stroke-width="0.25">HepG2(Scr)</text>
<text x="22.30" y="1049.50" font-size="30.60" font-weight="bold" text-anchor="start" fill="#000" stroke="#000" stroke-width="0.25">miR-23a<tspan dx="0.8"> KO 1</tspan></text>
<text x="22.30" y="1123.80" font-size="30.60" font-weight="bold" text-anchor="start" fill="#000" stroke="#000" stroke-width="0.25">miR-23a<tspan dx="0.8"> KO 2</tspan></text>
<text x="22.30" y="1198.50" font-size="30.60" font-weight="bold" text-anchor="start" fill="#000" stroke="#000" stroke-width="0.25">miR-27a<tspan dx="0.8"> KO 1</tspan></text>
<text x="22.30" y="1273.80" font-size="30.60" font-weight="bold" text-anchor="start" fill="#000" stroke="#000" stroke-width="0.25">miR-27a<tspan dx="0.8"> KO 2</tspan></text>
<clipPath id="tc0"><circle cx="264.9" cy="944.4" r="14.4"/><circle cx="274.9" cy="948.1" r="14.9"/><circle cx="285.3" cy="950.8" r="14.0"/><circle cx="295.0" cy="955.3" r="14.5"/><circle cx="304.1" cy="961.1" r="14.6"/><circle cx="270.7" cy="958.9" r="6.7"/><circle cx="290.9" cy="941.1" r="5.7"/><circle cx="295.7" cy="951.0" r="7.3"/><circle cx="297.9" cy="966.0" r="6.9"/></clipPath>
<ellipse cx="280.5" cy="955.2" rx="35.1" ry="14.6" fill="#FAF4DC" opacity="0.95" filter="url(#hb3)" transform="rotate(23 280.5 955.2)"/>
<ellipse cx="287.5" cy="951.2" rx="33.6" ry="13.8" fill="#D3C9DA" opacity="0.9" filter="url(#hb3)" transform="rotate(23 287.5 951.2)"/>
<g filter="url(#hb1)"><g clip-path="url(#tc0)"><rect x="248.0" y="927.5" width="73.0" height="50.5" fill="url(#hg)"/><circle cx="279.2" cy="946.7" r="0.9" fill="#340E14" opacity="0.49"/><circle cx="286.3" cy="949.1" r="3.6" fill="#5E1C26" opacity="0.69"/><circle cx="275.3" cy="948.1" r="3.0" fill="#481620" opacity="0.40"/><circle cx="258.3" cy="943.0" r="3.4" fill="#93574F" opacity="0.63"/><circle cx="305.4" cy="959.3" r="3.5" fill="#3A1218" opacity="0.54"/><circle cx="290.2" cy="947.8" r="3.2" fill="#8A2630" opacity="0.53"/><circle cx="284.5" cy="951.6" r="3.5" fill="#8A2630" opacity="0.72"/><circle cx="257.5" cy="951.7" r="1.9" fill="#26080E" opacity="0.78"/><circle cx="274.2" cy="951.8" r="2.6" fill="#26080E" opacity="0.62"/><circle cx="309.8" cy="959.1" r="2.7" fill="#340E14" opacity="0.56"/><circle cx="286.6" cy="959.1" r="2.5" fill="#6A2430" opacity="0.48"/><circle cx="283.5" cy="944.3" r="2.1" fill="#93574F" opacity="0.73"/><circle cx="256.9" cy="935.1" r="1.4" fill="#26080E" opacity="0.55"/><circle cx="275.0" cy="948.6" r="3.2" fill="#2A0A10" opacity="0.59"/><circle cx="295.5" cy="955.5" r="1.2" fill="#6A2430" opacity="0.67"/><circle cx="267.7" cy="952.2" r="0.8" fill="#93574F" opacity="0.78"/><circle cx="306.5" cy="956.8" r="3.1" fill="#2A0A10" opacity="0.65"/><circle cx="272.6" cy="950.6" r="3.4" fill="#8A2630" opacity="0.70"/><circle cx="308.2" cy="950.4" r="3.1" fill="#5E1C26" opacity="0.59"/><circle cx="301.6" cy="947.6" r="2.6" fill="#93574F" opacity="0.54"/><circle cx="304.1" cy="961.0" r="1.5" fill="#5E1C26" opacity="0.74"/><circle cx="292.2" cy="946.5" r="2.6" fill="#2C080E" opacity="0.68"/><circle cx="305.3" cy="963.2" r="3.8" fill="#26080E" opacity="0.80"/><circle cx="303.6" cy="954.6" r="3.3" fill="#93574F" opacity="0.75"/><circle cx="266.1" cy="933.8" r="3.2" fill="#8A2630" opacity="0.54"/><circle cx="287.3" cy="944.8" r="3.1" fill="#5E1C26" opacity="0.77"/><circle cx="278.1" cy="960.8" r="1.1" fill="#340E14" opacity="0.50"/><circle cx="271.5" cy="939.2" r="4.0" fill="#8C4046" opacity="0.43"/><circle cx="305.4" cy="962.1" r="1.8" fill="#8C4046" opacity="0.70"/><circle cx="274.0" cy="946.9" r="2.4" fill="#93574F" opacity="0.78"/><circle cx="283.9" cy="947.6" r="2.3" fill="#3A1218" opacity="0.62"/><circle cx="269.2" cy="938.6" r="1.2" fill="#481620" opacity="0.67"/><circle cx="285.6" cy="951.6" r="3.5" fill="#2C080E" opacity="0.53"/><circle cx="302.6" cy="966.1" r="3.6" fill="#3A1218" opacity="0.74"/><circle cx="286.9" cy="957.7" r="2.3" fill="#93574F" opacity="0.63"/><circle cx="279.0" cy="942.3" r="1.5" fill="#481620" opacity="0.77"/><circle cx="296.0" cy="953.6" r="1.3" fill="#26080E" opacity="0.71"/><circle cx="277.6" cy="951.3" r="1.1" fill="#7E323A" opacity="0.70"/><circle cx="280.7" cy="938.9" r="2.9" fill="#6A2430" opacity="0.40"/><circle cx="311.4" cy="963.8" r="2.8" fill="#8A2630" opacity="0.59"/><circle cx="278.6" cy="947.8" r="3.4" fill="#8A2630" opacity="0.75"/><circle cx="299.5" cy="950.0" r="1.5" fill="#481620" opacity="0.66"/><circle cx="263.8" cy="953.7" r="3.4" fill="#7E323A" opacity="0.55"/><circle cx="293.7" cy="954.0" r="3.6" fill="#481620" opacity="0.78"/><circle cx="306.6" cy="972.8" r="4.0" fill="#5E1C26" opacity="0.51"/><circle cx="301.3" cy="948.4" r="1.5" fill="#2C080E" opacity="0.76"/><circle cx="264.6" cy="945.8" r="2.9" fill="#7E323A" opacity="0.76"/><circle cx="307.5" cy="960.0" r="2.9" fill="#481620" opacity="0.67"/><circle cx="283.8" cy="950.9" r="3.5" fill="#2C080E" opacity="0.48"/><circle cx="273.7" cy="947.3" r="3.0" fill="#340E14" opacity="0.75"/><circle cx="274.6" cy="949.1" r="3.9" fill="#2C080E" opacity="0.41"/><circle cx="301.6" cy="961.8" r="3.3" fill="#8C4046" opacity="0.56"/><circle cx="269.6" cy="941.7" r="1.5" fill="#481620" opacity="0.57"/><circle cx="286.1" cy="949.7" r="1.8" fill="#6A2430" opacity="0.74"/><circle cx="305.0" cy="960.9" r="2.1" fill="#26080E" opacity="0.61"/><circle cx="282.4" cy="937.7" r="2.3" fill="#5E1C26" opacity="0.55"/><circle cx="286.8" cy="946.6" r="2.3" fill="#3A1218" opacity="0.68"/><circle cx="265.9" cy="945.0" r="1.4" fill="#5E1C26" opacity="0.67"/><circle cx="300.2" cy="962.1" r="1.0" fill="#5E1C26" opacity="0.62"/><circle cx="284.8" cy="947.3" r="2.7" fill="#5E1C26" opacity="0.68"/><circle cx="306.2" cy="963.4" r="3.7" fill="#5E1C26" opacity="0.67"/><circle cx="284.9" cy="948.4" r="1.8" fill="#340E14" opacity="0.65"/><circle cx="293.1" cy="959.5" r="3.3" fill="#8C4046" opacity="0.46"/><circle cx="262.6" cy="935.5" r="3.2" fill="#8C4046" opacity="0.47"/><circle cx="274.3" cy="936.5" r="3.2" fill="#6A2430" opacity="0.77"/><circle cx="264.0" cy="949.9" r="1.5" fill="#8A2630" opacity="0.75"/><circle cx="294.4" cy="945.5" r="2.7" fill="#340E14" opacity="0.69"/><circle cx="313.3" cy="959.2" r="1.4" fill="#5E1C26" opacity="0.42"/><circle cx="273.2" cy="948.0" r="2.1" fill="#2A0A10" opacity="0.60"/><circle cx="267.1" cy="941.4" r="1.3" fill="#6A2430" opacity="0.48"/><circle cx="280.5" cy="948.5" r="3.8" fill="#6A2430" opacity="0.45"/><circle cx="276.3" cy="951.0" r="3.4" fill="#481620" opacity="0.68"/><circle cx="277.0" cy="948.6" r="4.1" fill="#2C080E" opacity="0.74"/><circle cx="290.6" cy="952.5" r="2.2" fill="#340E14" opacity="0.70"/><circle cx="266.4" cy="939.7" r="3.4" fill="#3A1218" opacity="0.48"/><circle cx="313.8" cy="967.2" r="1.8" fill="#2A0A10" opacity="0.58"/><circle cx="285.9" cy="954.2" r="1.9" fill="#6A2430" opacity="0.61"/><circle cx="263.1" cy="932.2" r="3.2" fill="#3A1218" opacity="0.62"/><circle cx="296.5" cy="949.3" r="3.4" fill="#2A0A10" opacity="0.63"/><circle cx="294.0" cy="954.7" r="0.8" fill="#8A2630" opacity="0.76"/><circle cx="273.5" cy="950.7" r="3.8" fill="#5E1C26" opacity="0.59"/><circle cx="261.9" cy="951.9" r="0.7" fill="#C9A8A4" opacity="0.79"/><circle cx="309.2" cy="954.9" r="0.7" fill="#C9A8A4" opacity="0.59"/><circle cx="287.1" cy="944.8" r="1.0" fill="#C9A8A4" opacity="0.66"/><circle cx="287.0" cy="949.4" r="0.8" fill="#C9A8A4" opacity="0.74"/><circle cx="302.9" cy="961.1" r="0.6" fill="#C9A8A4" opacity="0.77"/><circle cx="291.4" cy="949.9" r="0.5" fill="#C9A8A4" opacity="0.72"/><circle cx="264.9" cy="944.3" r="0.8" fill="#C9A8A4" opacity="0.50"/><circle cx="285.0" cy="949.0" r="0.7" fill="#C9A8A4" opacity="0.63"/></g></g>
<clipPath id="tc1"><circle cx="374.8" cy="941.3" r="14.0"/><circle cx="381.3" cy="945.9" r="12.9"/><circle cx="388.6" cy="949.3" r="14.2"/><circle cx="394.8" cy="954.3" r="13.4"/><circle cx="400.7" cy="959.7" r="13.5"/><circle cx="365.8" cy="937.9" r="4.8"/><circle cx="377.3" cy="953.3" r="4.4"/><circle cx="366.9" cy="942.6" r="5.9"/><circle cx="409.4" cy="954.9" r="5.1"/></clipPath>
<ellipse cx="383.8" cy="953.0" rx="28.7" ry="13.5" fill="#FAF4DC" opacity="0.95" filter="url(#hb3)" transform="rotate(35 383.8 953.0)"/>
<ellipse cx="390.8" cy="949.0" rx="27.2" ry="12.8" fill="#D3C9DA" opacity="0.9" filter="url(#hb3)" transform="rotate(35 390.8 949.0)"/>
<g filter="url(#hb1)"><g clip-path="url(#tc1)"><rect x="359.0" y="925.5" width="57.5" height="50.0" fill="url(#hg)"/><circle cx="381.1" cy="951.4" r="3.5" fill="#5E1C26" opacity="0.55"/><circle cx="394.2" cy="953.0" r="2.7" fill="#8A2630" opacity="0.72"/><circle cx="397.1" cy="964.4" r="1.5" fill="#8C4046" opacity="0.52"/><circle cx="385.9" cy="945.0" r="3.0" fill="#3A1218" opacity="0.57"/><circle cx="386.6" cy="940.0" r="1.7" fill="#6A2430" opacity="0.43"/><circle cx="380.0" cy="936.6" r="0.7" fill="#93574F" opacity="0.43"/><circle cx="392.9" cy="945.0" r="1.9" fill="#2C080E" opacity="0.64"/><circle cx="405.0" cy="963.8" r="3.6" fill="#2C080E" opacity="0.54"/><circle cx="395.1" cy="955.8" r="0.9" fill="#8C4046" opacity="0.57"/><circle cx="382.6" cy="957.3" r="1.2" fill="#8C4046" opacity="0.41"/><circle cx="387.3" cy="960.6" r="2.6" fill="#2C080E" opacity="0.68"/><circle cx="390.6" cy="965.0" r="0.7" fill="#26080E" opacity="0.63"/><circle cx="391.5" cy="959.7" r="3.5" fill="#5E1C26" opacity="0.59"/><circle cx="401.8" cy="970.1" r="0.9" fill="#93574F" opacity="0.73"/><circle cx="393.1" cy="952.9" r="0.9" fill="#6A2430" opacity="0.43"/><circle cx="380.6" cy="945.5" r="1.0" fill="#26080E" opacity="0.71"/><circle cx="405.4" cy="948.0" r="1.5" fill="#2A0A10" opacity="0.43"/><circle cx="374.5" cy="941.9" r="2.9" fill="#3A1218" opacity="0.49"/><circle cx="404.1" cy="949.7" r="1.3" fill="#6A2430" opacity="0.58"/><circle cx="388.5" cy="945.3" r="3.7" fill="#481620" opacity="0.46"/><circle cx="399.2" cy="961.5" r="3.3" fill="#340E14" opacity="0.42"/><circle cx="389.6" cy="963.1" r="3.4" fill="#8A2630" opacity="0.75"/><circle cx="393.1" cy="945.9" r="0.8" fill="#93574F" opacity="0.59"/><circle cx="407.6" cy="955.5" r="3.7" fill="#2A0A10" opacity="0.77"/><circle cx="377.1" cy="944.2" r="1.5" fill="#2C080E" opacity="0.58"/><circle cx="400.7" cy="962.4" r="1.7" fill="#481620" opacity="0.56"/><circle cx="374.5" cy="936.6" r="1.8" fill="#5E1C26" opacity="0.41"/><circle cx="364.3" cy="938.0" r="1.4" fill="#3A1218" opacity="0.43"/><circle cx="393.1" cy="955.2" r="1.4" fill="#340E14" opacity="0.60"/><circle cx="382.2" cy="942.5" r="0.8" fill="#5E1C26" opacity="0.75"/><circle cx="390.1" cy="955.4" r="2.7" fill="#93574F" opacity="0.57"/><circle cx="371.7" cy="944.0" r="2.8" fill="#93574F" opacity="0.77"/><circle cx="410.1" cy="967.7" r="1.2" fill="#481620" opacity="0.62"/><circle cx="382.1" cy="944.9" r="3.6" fill="#481620" opacity="0.53"/><circle cx="401.7" cy="958.8" r="3.2" fill="#7E323A" opacity="0.62"/><circle cx="383.1" cy="945.0" r="1.0" fill="#5E1C26" opacity="0.56"/><circle cx="391.8" cy="955.6" r="3.1" fill="#5E1C26" opacity="0.55"/><circle cx="394.1" cy="954.8" r="3.1" fill="#7E323A" opacity="0.68"/><circle cx="398.2" cy="951.1" r="1.0" fill="#340E14" opacity="0.46"/><circle cx="402.5" cy="950.2" r="1.4" fill="#7E323A" opacity="0.75"/><circle cx="392.9" cy="949.9" r="2.2" fill="#8C4046" opacity="0.56"/><circle cx="398.6" cy="956.8" r="3.4" fill="#5E1C26" opacity="0.67"/><circle cx="373.4" cy="941.6" r="2.8" fill="#93574F" opacity="0.56"/><circle cx="376.0" cy="939.7" r="2.9" fill="#3A1218" opacity="0.42"/><circle cx="393.9" cy="953.9" r="1.9" fill="#93574F" opacity="0.50"/><circle cx="395.8" cy="951.2" r="3.0" fill="#481620" opacity="0.77"/><circle cx="383.4" cy="954.8" r="3.6" fill="#340E14" opacity="0.50"/><circle cx="392.6" cy="954.1" r="3.7" fill="#8C4046" opacity="0.47"/><circle cx="374.1" cy="939.0" r="3.2" fill="#93574F" opacity="0.74"/><circle cx="378.9" cy="952.5" r="1.5" fill="#340E14" opacity="0.58"/><circle cx="369.7" cy="940.5" r="3.6" fill="#5E1C26" opacity="0.62"/><circle cx="404.7" cy="961.1" r="2.0" fill="#6A2430" opacity="0.53"/><circle cx="383.0" cy="941.5" r="1.5" fill="#6A2430" opacity="0.60"/><circle cx="374.6" cy="952.2" r="1.4" fill="#5E1C26" opacity="0.68"/><circle cx="386.5" cy="949.6" r="1.4" fill="#6A2430" opacity="0.69"/><circle cx="371.1" cy="944.9" r="1.3" fill="#5E1C26" opacity="0.61"/><circle cx="398.4" cy="966.8" r="3.3" fill="#5E1C26" opacity="0.60"/><circle cx="400.4" cy="958.0" r="0.9" fill="#8A2630" opacity="0.78"/><circle cx="386.9" cy="952.4" r="1.8" fill="#5E1C26" opacity="0.57"/><circle cx="395.4" cy="960.4" r="3.6" fill="#5E1C26" opacity="0.46"/><circle cx="389.6" cy="955.1" r="2.0" fill="#2C080E" opacity="0.67"/><circle cx="368.8" cy="941.8" r="2.1" fill="#5E1C26" opacity="0.71"/><circle cx="394.1" cy="954.6" r="1.5" fill="#7E323A" opacity="0.55"/><circle cx="397.1" cy="948.5" r="0.7" fill="#C9A8A4" opacity="0.52"/><circle cx="409.2" cy="960.7" r="0.6" fill="#C9A8A4" opacity="0.75"/><circle cx="392.4" cy="952.4" r="1.0" fill="#C9A8A4" opacity="0.54"/><circle cx="389.6" cy="954.5" r="1.0" fill="#C9A8A4" opacity="0.62"/><circle cx="380.7" cy="945.1" r="0.5" fill="#C9A8A4" opacity="0.71"/><circle cx="400.6" cy="960.9" r="0.5" fill="#C9A8A4" opacity="0.69"/><circle cx="373.1" cy="933.7" r="1.0" fill="#C9A8A4" opacity="0.62"/></g></g>
<clipPath id="tc2"><circle cx="486.4" cy="936.9" r="15.6"/><circle cx="493.9" cy="941.4" r="14.9"/><circle cx="499.3" cy="948.3" r="16.1"/><circle cx="505.6" cy="954.1" r="14.6"/><circle cx="477.3" cy="932.0" r="6.3"/><circle cx="489.7" cy="926.9" r="5.4"/><circle cx="487.6" cy="954.1" r="6.0"/><circle cx="494.5" cy="929.1" r="7.6"/></clipPath>
<ellipse cx="492.0" cy="948.0" rx="27.2" ry="15.0" fill="#FAF4DC" opacity="0.95" filter="url(#hb3)" transform="rotate(42 492.0 948.0)"/>
<ellipse cx="499.0" cy="944.0" rx="25.6" ry="14.3" fill="#D3C9DA" opacity="0.9" filter="url(#hb3)" transform="rotate(42 499.0 944.0)"/>
<g filter="url(#hb1)"><g clip-path="url(#tc2)"><rect x="469.0" y="919.5" width="54.0" height="52.0" fill="url(#hg)"/><circle cx="499.5" cy="960.5" r="1.4" fill="#93574F" opacity="0.79"/><circle cx="500.0" cy="948.8" r="2.8" fill="#8A2630" opacity="0.69"/><circle cx="515.8" cy="961.2" r="3.7" fill="#2A0A10" opacity="0.48"/><circle cx="489.0" cy="943.8" r="2.3" fill="#8C4046" opacity="0.52"/><circle cx="500.0" cy="957.0" r="3.8" fill="#7E323A" opacity="0.49"/><circle cx="491.5" cy="934.6" r="4.0" fill="#6A2430" opacity="0.57"/><circle cx="500.0" cy="949.0" r="3.4" fill="#26080E" opacity="0.44"/><circle cx="490.1" cy="936.4" r="4.0" fill="#26080E" opacity="0.72"/><circle cx="474.1" cy="939.9" r="3.5" fill="#93574F" opacity="0.76"/><circle cx="493.6" cy="931.0" r="1.2" fill="#3A1218" opacity="0.58"/><circle cx="485.0" cy="938.4" r="1.9" fill="#7E323A" opacity="0.51"/><circle cx="494.0" cy="941.4" r="1.9" fill="#26080E" opacity="0.59"/><circle cx="492.9" cy="949.0" r="4.0" fill="#8C4046" opacity="0.66"/><circle cx="512.3" cy="957.4" r="2.6" fill="#5E1C26" opacity="0.79"/><circle cx="496.1" cy="943.2" r="1.6" fill="#5E1C26" opacity="0.48"/><circle cx="487.0" cy="932.4" r="0.9" fill="#26080E" opacity="0.41"/><circle cx="507.1" cy="941.7" r="3.4" fill="#7E323A" opacity="0.41"/><circle cx="494.7" cy="940.5" r="1.3" fill="#6A2430" opacity="0.60"/><circle cx="507.8" cy="941.5" r="4.0" fill="#7E323A" opacity="0.60"/><circle cx="502.5" cy="959.6" r="1.8" fill="#2A0A10" opacity="0.41"/><circle cx="483.4" cy="927.8" r="3.8" fill="#26080E" opacity="0.58"/><circle cx="485.1" cy="933.9" r="3.5" fill="#8C4046" opacity="0.54"/><circle cx="495.8" cy="960.0" r="0.8" fill="#2C080E" opacity="0.63"/><circle cx="491.4" cy="945.8" r="3.5" fill="#6A2430" opacity="0.56"/><circle cx="494.6" cy="927.2" r="2.1" fill="#5E1C26" opacity="0.71"/><circle cx="495.7" cy="939.5" r="3.7" fill="#3A1218" opacity="0.64"/><circle cx="509.1" cy="962.2" r="1.1" fill="#8A2630" opacity="0.55"/><circle cx="490.7" cy="926.9" r="2.7" fill="#2C080E" opacity="0.72"/><circle cx="494.8" cy="931.4" r="1.9" fill="#26080E" opacity="0.56"/><circle cx="493.3" cy="954.7" r="1.4" fill="#3A1218" opacity="0.66"/><circle cx="501.5" cy="953.7" r="3.5" fill="#8C4046" opacity="0.71"/><circle cx="484.4" cy="932.3" r="2.7" fill="#7E323A" opacity="0.44"/><circle cx="499.3" cy="941.3" r="1.0" fill="#8C4046" opacity="0.56"/><circle cx="511.6" cy="958.3" r="0.9" fill="#93574F" opacity="0.47"/><circle cx="513.7" cy="943.9" r="2.9" fill="#2A0A10" opacity="0.53"/><circle cx="482.8" cy="941.5" r="0.9" fill="#8C4046" opacity="0.54"/><circle cx="493.0" cy="943.7" r="3.5" fill="#481620" opacity="0.56"/><circle cx="487.3" cy="937.5" r="2.4" fill="#481620" opacity="0.62"/><circle cx="504.8" cy="947.6" r="1.6" fill="#6A2430" opacity="0.58"/><circle cx="489.0" cy="935.8" r="3.7" fill="#8C4046" opacity="0.58"/><circle cx="504.1" cy="944.4" r="1.7" fill="#481620" opacity="0.60"/><circle cx="497.8" cy="939.1" r="2.2" fill="#7E323A" opacity="0.67"/><circle cx="507.9" cy="951.4" r="1.7" fill="#340E14" opacity="0.71"/><circle cx="477.5" cy="931.6" r="2.6" fill="#7E323A" opacity="0.65"/><circle cx="498.3" cy="953.7" r="2.7" fill="#26080E" opacity="0.75"/><circle cx="482.1" cy="936.5" r="2.5" fill="#8C4046" opacity="0.52"/><circle cx="497.4" cy="959.5" r="3.1" fill="#8A2630" opacity="0.48"/><circle cx="486.9" cy="939.2" r="3.4" fill="#93574F" opacity="0.66"/><circle cx="507.0" cy="962.3" r="4.0" fill="#5E1C26" opacity="0.66"/><circle cx="476.6" cy="928.4" r="1.3" fill="#26080E" opacity="0.66"/><circle cx="506.5" cy="942.8" r="3.0" fill="#2C080E" opacity="0.52"/><circle cx="486.5" cy="934.7" r="1.8" fill="#481620" opacity="0.65"/><circle cx="498.6" cy="948.4" r="1.1" fill="#93574F" opacity="0.43"/><circle cx="508.5" cy="955.5" r="3.7" fill="#6A2430" opacity="0.79"/><circle cx="490.0" cy="944.4" r="1.3" fill="#8A2630" opacity="0.63"/><circle cx="509.0" cy="940.4" r="4.0" fill="#3A1218" opacity="0.71"/><circle cx="487.4" cy="931.3" r="2.4" fill="#8A2630" opacity="0.67"/><circle cx="485.1" cy="934.6" r="1.7" fill="#340E14" opacity="0.71"/><circle cx="507.2" cy="950.2" r="3.8" fill="#481620" opacity="0.56"/><circle cx="507.6" cy="941.0" r="1.3" fill="#5E1C26" opacity="0.62"/><circle cx="494.0" cy="947.0" r="1.7" fill="#93574F" opacity="0.56"/><circle cx="505.4" cy="954.0" r="3.0" fill="#26080E" opacity="0.59"/><circle cx="508.3" cy="957.5" r="0.8" fill="#5E1C26" opacity="0.66"/><circle cx="491.3" cy="937.1" r="2.2" fill="#93574F" opacity="0.59"/><circle cx="487.0" cy="944.1" r="2.6" fill="#8A2630" opacity="0.63"/><circle cx="487.3" cy="935.1" r="0.5" fill="#C9A8A4" opacity="0.62"/><circle cx="485.6" cy="938.5" r="1.1" fill="#C9A8A4" opacity="0.73"/><circle cx="501.4" cy="958.7" r="0.9" fill="#C9A8A4" opacity="0.60"/><circle cx="490.7" cy="946.8" r="0.6" fill="#C9A8A4" opacity="0.57"/><circle cx="486.5" cy="937.2" r="0.8" fill="#C9A8A4" opacity="0.69"/><circle cx="487.2" cy="937.7" r="0.8" fill="#C9A8A4" opacity="0.55"/><circle cx="491.7" cy="933.1" r="1.0" fill="#C9A8A4" opacity="0.72"/></g></g>
<clipPath id="tc3"><circle cx="584.3" cy="938.3" r="12.9"/><circle cx="590.4" cy="945.0" r="13.2"/><circle cx="597.6" cy="950.3" r="14.0"/><circle cx="606.2" cy="953.9" r="14.0"/><circle cx="612.2" cy="960.7" r="13.6"/><circle cx="592.1" cy="931.3" r="4.8"/><circle cx="576.1" cy="943.4" r="5.1"/><circle cx="611.8" cy="944.3" r="5.8"/><circle cx="594.9" cy="938.9" r="4.5"/></clipPath>
<ellipse cx="594.2" cy="952.0" rx="30.2" ry="13.0" fill="#FAF4DC" opacity="0.95" filter="url(#hb3)" transform="rotate(39 594.2 952.0)"/>
<ellipse cx="601.2" cy="948.0" rx="28.9" ry="12.3" fill="#D3C9DA" opacity="0.9" filter="url(#hb3)" transform="rotate(39 601.2 948.0)"/>
<g filter="url(#hb1)"><g clip-path="url(#tc3)"><rect x="569.0" y="923.0" width="58.5" height="53.0" fill="url(#hg)"/><circle cx="611.5" cy="961.2" r="2.3" fill="#7E323A" opacity="0.58"/><circle cx="619.1" cy="958.6" r="2.9" fill="#8C4046" opacity="0.55"/><circle cx="591.5" cy="945.4" r="1.6" fill="#2A0A10" opacity="0.48"/><circle cx="601.6" cy="949.6" r="2.9" fill="#340E14" opacity="0.70"/><circle cx="585.4" cy="937.2" r="2.5" fill="#6A2430" opacity="0.50"/><circle cx="605.6" cy="968.1" r="2.1" fill="#93574F" opacity="0.79"/><circle cx="591.2" cy="938.7" r="2.1" fill="#340E14" opacity="0.72"/><circle cx="590.6" cy="929.4" r="2.6" fill="#93574F" opacity="0.52"/><circle cx="604.5" cy="953.1" r="3.7" fill="#6A2430" opacity="0.71"/><circle cx="612.8" cy="948.7" r="0.9" fill="#7E323A" opacity="0.77"/><circle cx="613.7" cy="962.8" r="2.5" fill="#2C080E" opacity="0.49"/><circle cx="593.4" cy="944.3" r="3.4" fill="#8A2630" opacity="0.48"/><circle cx="616.6" cy="953.0" r="1.1" fill="#5E1C26" opacity="0.60"/><circle cx="599.7" cy="959.5" r="2.2" fill="#6A2430" opacity="0.75"/><circle cx="607.5" cy="948.3" r="2.8" fill="#8A2630" opacity="0.60"/><circle cx="598.0" cy="950.2" r="1.5" fill="#26080E" opacity="0.47"/><circle cx="596.6" cy="942.9" r="1.0" fill="#7E323A" opacity="0.48"/><circle cx="576.4" cy="938.9" r="3.1" fill="#7E323A" opacity="0.46"/><circle cx="606.9" cy="956.5" r="3.2" fill="#3A1218" opacity="0.52"/><circle cx="614.0" cy="953.3" r="1.6" fill="#6A2430" opacity="0.54"/><circle cx="598.1" cy="946.9" r="3.0" fill="#26080E" opacity="0.76"/><circle cx="583.4" cy="938.7" r="2.8" fill="#26080E" opacity="0.45"/><circle cx="613.0" cy="956.0" r="2.7" fill="#481620" opacity="0.78"/><circle cx="594.6" cy="953.0" r="2.1" fill="#2C080E" opacity="0.75"/><circle cx="598.3" cy="954.5" r="0.7" fill="#8C4046" opacity="0.73"/><circle cx="611.9" cy="969.3" r="2.1" fill="#93574F" opacity="0.51"/><circle cx="588.6" cy="939.5" r="2.7" fill="#5E1C26" opacity="0.50"/><circle cx="614.4" cy="961.0" r="2.5" fill="#3A1218" opacity="0.56"/><circle cx="615.2" cy="963.4" r="2.2" fill="#8A2630" opacity="0.68"/><circle cx="597.8" cy="948.8" r="1.4" fill="#481620" opacity="0.78"/><circle cx="598.2" cy="947.3" r="3.2" fill="#8A2630" opacity="0.72"/><circle cx="597.7" cy="944.0" r="1.4" fill="#2A0A10" opacity="0.67"/><circle cx="614.6" cy="948.1" r="2.4" fill="#8A2630" opacity="0.51"/><circle cx="613.1" cy="962.1" r="2.3" fill="#2C080E" opacity="0.54"/><circle cx="590.9" cy="941.8" r="0.9" fill="#7E323A" opacity="0.77"/><circle cx="594.9" cy="943.4" r="1.1" fill="#7E323A" opacity="0.60"/><circle cx="606.3" cy="954.1" r="2.3" fill="#7E323A" opacity="0.64"/><circle cx="610.0" cy="954.5" r="0.9" fill="#3A1218" opacity="0.46"/><circle cx="581.5" cy="939.2" r="3.4" fill="#481620" opacity="0.50"/><circle cx="590.5" cy="933.9" r="1.3" fill="#8A2630" opacity="0.78"/><circle cx="574.1" cy="933.2" r="3.7" fill="#8A2630" opacity="0.69"/><circle cx="586.6" cy="932.2" r="2.6" fill="#93574F" opacity="0.75"/><circle cx="589.1" cy="945.4" r="1.3" fill="#26080E" opacity="0.76"/><circle cx="595.6" cy="943.1" r="2.0" fill="#2A0A10" opacity="0.49"/><circle cx="601.5" cy="942.2" r="3.3" fill="#6A2430" opacity="0.41"/><circle cx="597.8" cy="950.9" r="0.9" fill="#2C080E" opacity="0.66"/><circle cx="603.9" cy="950.2" r="2.9" fill="#93574F" opacity="0.80"/><circle cx="599.7" cy="950.9" r="0.9" fill="#8C4046" opacity="0.47"/><circle cx="597.8" cy="950.5" r="3.7" fill="#2A0A10" opacity="0.47"/><circle cx="606.6" cy="942.2" r="2.4" fill="#8A2630" opacity="0.67"/><circle cx="582.6" cy="940.7" r="1.0" fill="#481620" opacity="0.52"/><circle cx="607.8" cy="950.6" r="1.2" fill="#7E323A" opacity="0.48"/><circle cx="591.7" cy="945.1" r="3.4" fill="#26080E" opacity="0.50"/><circle cx="616.9" cy="969.2" r="2.8" fill="#7E323A" opacity="0.53"/><circle cx="616.0" cy="950.0" r="3.6" fill="#481620" opacity="0.60"/><circle cx="607.9" cy="958.7" r="3.6" fill="#26080E" opacity="0.49"/><circle cx="598.7" cy="953.8" r="3.6" fill="#481620" opacity="0.62"/><circle cx="590.9" cy="942.0" r="1.5" fill="#26080E" opacity="0.57"/><circle cx="617.2" cy="953.2" r="1.3" fill="#5E1C26" opacity="0.59"/><circle cx="613.8" cy="961.5" r="3.2" fill="#481620" opacity="0.41"/><circle cx="595.2" cy="941.8" r="1.3" fill="#5E1C26" opacity="0.61"/><circle cx="603.6" cy="957.2" r="3.1" fill="#6A2430" opacity="0.54"/><circle cx="584.9" cy="938.2" r="1.6" fill="#481620" opacity="0.71"/><circle cx="598.4" cy="948.6" r="1.2" fill="#6A2430" opacity="0.60"/><circle cx="605.5" cy="961.2" r="1.1" fill="#C9A8A4" opacity="0.55"/><circle cx="606.5" cy="964.3" r="0.6" fill="#C9A8A4" opacity="0.72"/><circle cx="599.1" cy="947.8" r="1.0" fill="#C9A8A4" opacity="0.57"/><circle cx="604.8" cy="949.8" r="0.6" fill="#C9A8A4" opacity="0.58"/><circle cx="595.5" cy="954.8" r="0.8" fill="#C9A8A4" opacity="0.63"/><circle cx="587.2" cy="941.9" r="0.9" fill="#C9A8A4" opacity="0.77"/><circle cx="583.8" cy="938.0" r="1.0" fill="#C9A8A4" opacity="0.70"/></g></g>
<clipPath id="tc4"><circle cx="683.2" cy="936.2" r="11.8"/><circle cx="688.2" cy="942.6" r="12.1"/><circle cx="693.7" cy="948.4" r="11.7"/><circle cx="701.2" cy="952.2" r="11.2"/><circle cx="706.5" cy="958.2" r="11.7"/><circle cx="710.0" cy="951.4" r="4.7"/><circle cx="702.1" cy="945.1" r="5.5"/><circle cx="710.3" cy="949.5" r="4.2"/><circle cx="714.4" cy="961.4" r="4.3"/></clipPath>
<ellipse cx="690.9" cy="949.7" rx="27.4" ry="11.9" fill="#FAF4DC" opacity="0.95" filter="url(#hb3)" transform="rotate(43 690.9 949.7)"/>
<ellipse cx="697.9" cy="945.7" rx="26.1" ry="11.3" fill="#D3C9DA" opacity="0.9" filter="url(#hb3)" transform="rotate(43 697.9 945.7)"/>
<g filter="url(#hb1)"><g clip-path="url(#tc4)"><rect x="669.0" y="922.0" width="51.7" height="50.4" fill="url(#hg)"/><circle cx="707.1" cy="953.6" r="2.8" fill="#340E14" opacity="0.41"/><circle cx="698.1" cy="953.7" r="2.8" fill="#7E323A" opacity="0.64"/><circle cx="689.0" cy="942.0" r="1.8" fill="#8C4046" opacity="0.46"/><circle cx="700.7" cy="952.3" r="3.3" fill="#481620" opacity="0.67"/><circle cx="699.3" cy="953.2" r="1.8" fill="#8C4046" opacity="0.77"/><circle cx="693.4" cy="942.3" r="1.7" fill="#93574F" opacity="0.49"/><circle cx="702.3" cy="961.1" r="1.9" fill="#2C080E" opacity="0.79"/><circle cx="685.5" cy="944.2" r="2.1" fill="#2A0A10" opacity="0.43"/><circle cx="707.2" cy="959.7" r="1.3" fill="#481620" opacity="0.54"/><circle cx="696.0" cy="947.2" r="1.9" fill="#481620" opacity="0.48"/><circle cx="709.4" cy="947.9" r="3.1" fill="#7E323A" opacity="0.44"/><circle cx="690.1" cy="939.3" r="1.5" fill="#3A1218" opacity="0.71"/><circle cx="696.3" cy="961.8" r="1.8" fill="#93574F" opacity="0.53"/><circle cx="701.4" cy="952.1" r="2.2" fill="#7E323A" opacity="0.55"/><circle cx="687.8" cy="931.1" r="1.4" fill="#2A0A10" opacity="0.68"/><circle cx="693.0" cy="933.2" r="1.5" fill="#8A2630" opacity="0.65"/><circle cx="697.8" cy="947.1" r="1.1" fill="#3A1218" opacity="0.77"/><circle cx="708.0" cy="964.1" r="1.0" fill="#2A0A10" opacity="0.61"/><circle cx="685.4" cy="942.9" r="1.3" fill="#8C4046" opacity="0.65"/><circle cx="695.5" cy="946.7" r="1.2" fill="#8A2630" opacity="0.53"/><circle cx="701.6" cy="957.0" r="2.2" fill="#481620" opacity="0.79"/><circle cx="691.7" cy="944.6" r="3.2" fill="#5E1C26" opacity="0.55"/><circle cx="681.6" cy="931.2" r="1.8" fill="#3A1218" opacity="0.50"/><circle cx="691.7" cy="932.7" r="2.9" fill="#5E1C26" opacity="0.48"/><circle cx="691.6" cy="955.7" r="2.0" fill="#8A2630" opacity="0.42"/><circle cx="701.3" cy="952.5" r="0.8" fill="#340E14" opacity="0.52"/><circle cx="697.5" cy="943.2" r="2.5" fill="#6A2430" opacity="0.57"/><circle cx="687.3" cy="942.7" r="3.3" fill="#2C080E" opacity="0.58"/><circle cx="708.9" cy="945.0" r="1.6" fill="#2A0A10" opacity="0.40"/><circle cx="712.1" cy="959.5" r="2.4" fill="#2A0A10" opacity="0.69"/><circle cx="700.9" cy="963.6" r="1.9" fill="#8A2630" opacity="0.40"/><circle cx="705.0" cy="962.5" r="0.9" fill="#2C080E" opacity="0.77"/><circle cx="689.2" cy="950.4" r="0.9" fill="#6A2430" opacity="0.43"/><circle cx="701.2" cy="952.2" r="2.0" fill="#7E323A" opacity="0.67"/><circle cx="682.6" cy="937.1" r="3.2" fill="#93574F" opacity="0.72"/><circle cx="691.1" cy="938.8" r="2.3" fill="#5E1C26" opacity="0.55"/><circle cx="709.5" cy="959.5" r="1.5" fill="#8A2630" opacity="0.74"/><circle cx="683.4" cy="948.5" r="3.1" fill="#5E1C26" opacity="0.56"/><circle cx="692.4" cy="942.8" r="1.0" fill="#26080E" opacity="0.43"/><circle cx="700.9" cy="956.8" r="3.3" fill="#2C080E" opacity="0.71"/><circle cx="694.5" cy="947.8" r="1.8" fill="#340E14" opacity="0.63"/><circle cx="680.7" cy="943.1" r="1.7" fill="#2C080E" opacity="0.80"/><circle cx="703.6" cy="951.7" r="1.5" fill="#481620" opacity="0.64"/><circle cx="679.3" cy="944.6" r="2.4" fill="#2C080E" opacity="0.77"/><circle cx="683.2" cy="936.1" r="3.1" fill="#8C4046" opacity="0.80"/><circle cx="692.2" cy="949.6" r="1.4" fill="#340E14" opacity="0.57"/><circle cx="679.3" cy="947.5" r="1.6" fill="#26080E" opacity="0.65"/><circle cx="695.2" cy="943.8" r="0.8" fill="#26080E" opacity="0.58"/><circle cx="702.8" cy="964.5" r="1.8" fill="#2A0A10" opacity="0.64"/><circle cx="692.0" cy="936.3" r="2.2" fill="#5E1C26" opacity="0.70"/><circle cx="685.0" cy="945.6" r="0.9" fill="#26080E" opacity="0.73"/><circle cx="685.9" cy="938.0" r="2.3" fill="#3A1218" opacity="0.44"/><circle cx="675.7" cy="934.4" r="1.0" fill="#26080E" opacity="0.52"/><circle cx="703.4" cy="952.2" r="0.7" fill="#93574F" opacity="0.60"/><circle cx="704.6" cy="947.0" r="0.8" fill="#C9A8A4" opacity="0.75"/><circle cx="684.3" cy="934.9" r="1.0" fill="#C9A8A4" opacity="0.69"/><circle cx="697.6" cy="950.5" r="0.7" fill="#C9A8A4" opacity="0.72"/><circle cx="678.2" cy="937.5" r="0.6" fill="#C9A8A4" opacity="0.78"/><circle cx="683.5" cy="936.5" r="0.7" fill="#C9A8A4" opacity="0.52"/><circle cx="689.1" cy="945.4" r="0.6" fill="#C9A8A4" opacity="0.79"/></g></g>
<clipPath id="tc5"><circle cx="781.4" cy="938.1" r="13.9"/><circle cx="786.4" cy="943.4" r="13.5"/><circle cx="790.9" cy="949.0" r="14.5"/><circle cx="795.3" cy="954.8" r="15.0"/><circle cx="800.6" cy="943.6" r="6.9"/><circle cx="798.7" cy="958.2" r="5.0"/><circle cx="786.4" cy="930.7" r="7.3"/><circle cx="790.7" cy="937.3" r="5.6"/></clipPath>
<ellipse cx="784.4" cy="949.0" rx="24.5" ry="14.4" fill="#FAF4DC" opacity="0.95" filter="url(#hb3)" transform="rotate(50 784.4 949.0)"/>
<ellipse cx="791.4" cy="945.0" rx="23.0" ry="13.6" fill="#D3C9DA" opacity="0.9" filter="url(#hb3)" transform="rotate(50 791.4 945.0)"/>
<g filter="url(#hb1)"><g clip-path="url(#tc5)"><rect x="764.7" y="921.4" width="47.3" height="50.1" fill="url(#hg)"/><circle cx="783.7" cy="945.3" r="3.7" fill="#340E14" opacity="0.42"/><circle cx="792.5" cy="941.4" r="3.6" fill="#340E14" opacity="0.59"/><circle cx="786.7" cy="950.8" r="2.3" fill="#8C4046" opacity="0.43"/><circle cx="797.6" cy="958.7" r="3.1" fill="#7E323A" opacity="0.73"/><circle cx="788.2" cy="960.9" r="1.8" fill="#5E1C26" opacity="0.72"/><circle cx="777.5" cy="936.8" r="3.1" fill="#3A1218" opacity="0.57"/><circle cx="792.4" cy="939.0" r="1.2" fill="#93574F" opacity="0.63"/><circle cx="777.9" cy="945.8" r="3.2" fill="#8A2630" opacity="0.67"/><circle cx="789.8" cy="963.1" r="1.4" fill="#340E14" opacity="0.45"/><circle cx="794.2" cy="943.6" r="0.7" fill="#8A2630" opacity="0.65"/><circle cx="799.1" cy="938.8" r="3.9" fill="#481620" opacity="0.68"/><circle cx="785.4" cy="933.7" r="2.6" fill="#26080E" opacity="0.79"/><circle cx="783.5" cy="950.8" r="2.8" fill="#93574F" opacity="0.63"/><circle cx="801.8" cy="950.8" r="3.3" fill="#6A2430" opacity="0.50"/><circle cx="796.8" cy="943.5" r="1.2" fill="#481620" opacity="0.60"/><circle cx="801.5" cy="966.2" r="3.2" fill="#6A2430" opacity="0.48"/><circle cx="785.2" cy="931.2" r="2.7" fill="#5E1C26" opacity="0.70"/><circle cx="783.4" cy="946.5" r="1.0" fill="#26080E" opacity="0.67"/><circle cx="790.0" cy="953.3" r="2.3" fill="#2A0A10" opacity="0.46"/><circle cx="792.9" cy="940.3" r="3.6" fill="#481620" opacity="0.72"/><circle cx="796.1" cy="940.0" r="1.9" fill="#5E1C26" opacity="0.50"/><circle cx="795.7" cy="963.6" r="3.6" fill="#26080E" opacity="0.65"/><circle cx="796.7" cy="943.4" r="3.3" fill="#2A0A10" opacity="0.42"/><circle cx="784.9" cy="961.3" r="2.4" fill="#8A2630" opacity="0.55"/><circle cx="781.4" cy="938.1" r="3.5" fill="#93574F" opacity="0.60"/><circle cx="793.8" cy="952.4" r="1.7" fill="#7E323A" opacity="0.68"/><circle cx="779.0" cy="939.0" r="3.9" fill="#7E323A" opacity="0.52"/><circle cx="780.5" cy="947.0" r="3.6" fill="#6A2430" opacity="0.40"/><circle cx="787.5" cy="944.6" r="1.4" fill="#2C080E" opacity="0.74"/><circle cx="778.1" cy="927.9" r="3.8" fill="#93574F" opacity="0.53"/><circle cx="780.2" cy="941.1" r="1.4" fill="#2C080E" opacity="0.79"/><circle cx="779.0" cy="927.2" r="2.3" fill="#6A2430" opacity="0.76"/><circle cx="799.5" cy="955.1" r="2.6" fill="#481620" opacity="0.72"/><circle cx="781.0" cy="937.2" r="3.6" fill="#340E14" opacity="0.44"/><circle cx="786.2" cy="959.3" r="4.0" fill="#3A1218" opacity="0.63"/><circle cx="788.4" cy="943.1" r="0.9" fill="#26080E" opacity="0.45"/><circle cx="795.4" cy="946.4" r="2.3" fill="#7E323A" opacity="0.51"/><circle cx="787.3" cy="943.5" r="2.3" fill="#6A2430" opacity="0.41"/><circle cx="790.9" cy="948.4" r="3.2" fill="#2C080E" opacity="0.41"/><circle cx="775.4" cy="937.3" r="1.5" fill="#5E1C26" opacity="0.78"/><circle cx="783.5" cy="949.1" r="1.5" fill="#5E1C26" opacity="0.70"/><circle cx="787.5" cy="946.4" r="0.8" fill="#6A2430" opacity="0.62"/><circle cx="781.4" cy="955.8" r="2.9" fill="#2C080E" opacity="0.75"/><circle cx="805.1" cy="962.7" r="1.3" fill="#340E14" opacity="0.64"/><circle cx="792.6" cy="957.0" r="3.8" fill="#2A0A10" opacity="0.62"/><circle cx="787.5" cy="950.7" r="1.1" fill="#5E1C26" opacity="0.66"/><circle cx="790.8" cy="941.1" r="2.1" fill="#7E323A" opacity="0.77"/><circle cx="781.9" cy="937.9" r="3.4" fill="#2A0A10" opacity="0.45"/><circle cx="781.3" cy="942.5" r="1.4" fill="#26080E" opacity="0.51"/><circle cx="782.1" cy="927.5" r="2.5" fill="#2C080E" opacity="0.57"/><circle cx="781.6" cy="937.9" r="3.3" fill="#8A2630" opacity="0.49"/><circle cx="783.3" cy="955.7" r="2.9" fill="#2A0A10" opacity="0.49"/><circle cx="786.2" cy="949.1" r="1.3" fill="#481620" opacity="0.73"/><circle cx="786.2" cy="949.0" r="3.8" fill="#3A1218" opacity="0.67"/><circle cx="778.8" cy="926.4" r="1.2" fill="#93574F" opacity="0.64"/><circle cx="796.5" cy="958.3" r="2.7" fill="#340E14" opacity="0.67"/><circle cx="797.7" cy="949.2" r="1.6" fill="#5E1C26" opacity="0.69"/><circle cx="774.1" cy="933.8" r="0.6" fill="#C9A8A4" opacity="0.71"/><circle cx="782.2" cy="936.9" r="1.1" fill="#C9A8A4" opacity="0.71"/><circle cx="794.7" cy="954.8" r="0.7" fill="#C9A8A4" opacity="0.63"/><circle cx="795.7" cy="956.5" r="0.9" fill="#C9A8A4" opacity="0.68"/><circle cx="792.8" cy="949.4" r="0.6" fill="#C9A8A4" opacity="0.58"/><circle cx="783.6" cy="944.1" r="1.0" fill="#C9A8A4" opacity="0.63"/></g></g>
<clipPath id="tc6"><circle cx="872.0" cy="942.0" r="15.2"/><circle cx="878.4" cy="947.6" r="13.3"/><circle cx="885.6" cy="952.2" r="14.0"/><circle cx="891.0" cy="959.0" r="14.7"/><circle cx="888.8" cy="946.6" r="5.8"/><circle cx="887.3" cy="968.4" r="5.6"/><circle cx="879.2" cy="960.7" r="5.7"/><circle cx="887.3" cy="968.5" r="5.5"/></clipPath>
<ellipse cx="877.5" cy="953.0" rx="26.6" ry="14.7" fill="#FAF4DC" opacity="0.95" filter="url(#hb3)" transform="rotate(42 877.5 953.0)"/>
<ellipse cx="884.5" cy="949.0" rx="25.1" ry="14.0" fill="#D3C9DA" opacity="0.9" filter="url(#hb3)" transform="rotate(42 884.5 949.0)"/>
<g filter="url(#hb1)"><g clip-path="url(#tc6)"><rect x="855.0" y="925.0" width="53.0" height="51.0" fill="url(#hg)"/><circle cx="893.6" cy="961.9" r="1.9" fill="#2C080E" opacity="0.60"/><circle cx="885.6" cy="952.7" r="2.7" fill="#340E14" opacity="0.79"/><circle cx="890.1" cy="957.6" r="2.4" fill="#93574F" opacity="0.75"/><circle cx="883.6" cy="951.5" r="2.3" fill="#8C4046" opacity="0.55"/><circle cx="870.9" cy="941.1" r="1.3" fill="#340E14" opacity="0.62"/><circle cx="868.4" cy="947.7" r="1.0" fill="#8C4046" opacity="0.45"/><circle cx="887.8" cy="962.6" r="1.1" fill="#481620" opacity="0.77"/><circle cx="877.5" cy="950.7" r="2.7" fill="#3A1218" opacity="0.67"/><circle cx="874.7" cy="949.9" r="2.5" fill="#8A2630" opacity="0.59"/><circle cx="883.6" cy="951.9" r="2.6" fill="#6A2430" opacity="0.62"/><circle cx="876.1" cy="936.5" r="3.2" fill="#8A2630" opacity="0.63"/><circle cx="887.2" cy="953.1" r="1.2" fill="#93574F" opacity="0.48"/><circle cx="877.8" cy="938.1" r="3.7" fill="#8A2630" opacity="0.53"/><circle cx="883.9" cy="952.6" r="2.2" fill="#5E1C26" opacity="0.51"/><circle cx="878.9" cy="930.7" r="0.8" fill="#8C4046" opacity="0.41"/><circle cx="858.8" cy="941.8" r="1.0" fill="#6A2430" opacity="0.50"/><circle cx="877.9" cy="949.7" r="2.6" fill="#3A1218" opacity="0.77"/><circle cx="869.4" cy="951.7" r="3.5" fill="#8A2630" opacity="0.68"/><circle cx="886.7" cy="945.4" r="2.4" fill="#481620" opacity="0.49"/><circle cx="885.6" cy="944.4" r="1.9" fill="#26080E" opacity="0.71"/><circle cx="884.2" cy="937.2" r="3.9" fill="#2A0A10" opacity="0.69"/><circle cx="878.7" cy="947.7" r="4.0" fill="#340E14" opacity="0.45"/><circle cx="895.1" cy="951.7" r="3.8" fill="#3A1218" opacity="0.67"/><circle cx="893.0" cy="960.4" r="1.0" fill="#6A2430" opacity="0.76"/><circle cx="872.6" cy="941.0" r="2.8" fill="#8C4046" opacity="0.61"/><circle cx="875.0" cy="950.9" r="3.9" fill="#3A1218" opacity="0.44"/><circle cx="886.2" cy="963.0" r="3.8" fill="#8A2630" opacity="0.74"/><circle cx="894.1" cy="948.2" r="1.1" fill="#93574F" opacity="0.67"/><circle cx="875.5" cy="934.5" r="3.9" fill="#5E1C26" opacity="0.43"/><circle cx="867.6" cy="948.8" r="3.3" fill="#481620" opacity="0.77"/><circle cx="877.7" cy="955.2" r="3.5" fill="#2C080E" opacity="0.45"/><circle cx="879.5" cy="935.1" r="0.9" fill="#26080E" opacity="0.71"/><circle cx="885.9" cy="953.2" r="1.1" fill="#3A1218" opacity="0.58"/><circle cx="881.6" cy="941.6" r="2.7" fill="#7E323A" opacity="0.68"/><circle cx="868.8" cy="940.2" r="3.0" fill="#8C4046" opacity="0.70"/><circle cx="896.8" cy="956.0" r="1.0" fill="#26080E" opacity="0.60"/><circle cx="883.7" cy="953.7" r="1.6" fill="#26080E" opacity="0.50"/><circle cx="892.7" cy="960.5" r="2.3" fill="#26080E" opacity="0.53"/><circle cx="887.9" cy="954.9" r="1.9" fill="#26080E" opacity="0.73"/><circle cx="885.5" cy="950.1" r="2.1" fill="#7E323A" opacity="0.59"/><circle cx="884.1" cy="946.7" r="2.5" fill="#93574F" opacity="0.59"/><circle cx="869.0" cy="951.2" r="2.6" fill="#8A2630" opacity="0.53"/><circle cx="877.3" cy="951.7" r="3.6" fill="#2A0A10" opacity="0.44"/><circle cx="878.5" cy="947.4" r="1.2" fill="#8C4046" opacity="0.71"/><circle cx="873.8" cy="944.2" r="2.5" fill="#6A2430" opacity="0.60"/><circle cx="884.5" cy="952.5" r="2.1" fill="#8C4046" opacity="0.53"/><circle cx="884.3" cy="956.7" r="4.1" fill="#6A2430" opacity="0.60"/><circle cx="891.1" cy="958.8" r="2.0" fill="#7E323A" opacity="0.77"/><circle cx="899.8" cy="956.3" r="2.3" fill="#8A2630" opacity="0.78"/><circle cx="861.6" cy="939.7" r="3.9" fill="#481620" opacity="0.43"/><circle cx="873.0" cy="942.9" r="2.6" fill="#2A0A10" opacity="0.58"/><circle cx="882.3" cy="968.0" r="2.3" fill="#481620" opacity="0.46"/><circle cx="877.2" cy="939.0" r="1.0" fill="#7E323A" opacity="0.48"/><circle cx="885.1" cy="957.0" r="3.4" fill="#93574F" opacity="0.80"/><circle cx="869.5" cy="941.2" r="1.1" fill="#340E14" opacity="0.70"/><circle cx="892.7" cy="957.3" r="1.5" fill="#7E323A" opacity="0.51"/><circle cx="890.6" cy="954.8" r="2.0" fill="#3A1218" opacity="0.66"/><circle cx="867.9" cy="945.7" r="2.3" fill="#340E14" opacity="0.70"/><circle cx="878.4" cy="947.6" r="2.0" fill="#8A2630" opacity="0.42"/><circle cx="867.7" cy="946.3" r="1.0" fill="#3A1218" opacity="0.43"/><circle cx="879.5" cy="940.2" r="0.9" fill="#5E1C26" opacity="0.68"/><circle cx="891.0" cy="958.9" r="3.1" fill="#5E1C26" opacity="0.72"/><circle cx="882.5" cy="966.4" r="2.3" fill="#8A2630" opacity="0.75"/><circle cx="874.0" cy="945.0" r="0.7" fill="#C9A8A4" opacity="0.75"/><circle cx="888.6" cy="958.3" r="0.9" fill="#C9A8A4" opacity="0.78"/><circle cx="885.2" cy="953.2" r="0.8" fill="#C9A8A4" opacity="0.76"/><circle cx="885.1" cy="942.9" r="0.9" fill="#C9A8A4" opacity="0.76"/><circle cx="894.9" cy="952.3" r="1.1" fill="#C9A8A4" opacity="0.70"/><circle cx="885.1" cy="942.8" r="0.8" fill="#C9A8A4" opacity="0.64"/><circle cx="885.3" cy="959.7" r="0.9" fill="#C9A8A4" opacity="0.76"/></g></g>
<clipPath id="tc7"><circle cx="273.6" cy="1027.9" r="12.7"/><circle cx="281.4" cy="1032.6" r="13.3"/><circle cx="290.2" cy="1035.6" r="12.3"/><circle cx="298.1" cy="1040.1" r="12.9"/><circle cx="280.9" cy="1021.5" r="6.0"/><circle cx="297.7" cy="1047.4" r="5.6"/><circle cx="291.9" cy="1045.7" r="4.1"/><circle cx="268.9" cy="1036.7" r="5.5"/></clipPath>
<ellipse cx="281.9" cy="1036.5" rx="25.7" ry="12.6" fill="#FAF4DC" opacity="0.95" filter="url(#hb3)" transform="rotate(26 281.9 1036.5)"/>
<ellipse cx="288.9" cy="1032.5" rx="24.3" ry="12.0" fill="#D3C9DA" opacity="0.9" filter="url(#hb3)" transform="rotate(26 288.9 1032.5)"/>
<g filter="url(#hb1)"><g clip-path="url(#tc7)"><rect x="258.7" y="1013.0" width="54.3" height="42.0" fill="url(#hg)"/><circle cx="270.9" cy="1039.2" r="1.2" fill="#340E14" opacity="0.70"/><circle cx="284.2" cy="1034.0" r="2.6" fill="#8A2630" opacity="0.46"/><circle cx="279.5" cy="1032.4" r="3.0" fill="#2A0A10" opacity="0.50"/><circle cx="279.0" cy="1035.0" r="1.8" fill="#6A2430" opacity="0.56"/><circle cx="271.8" cy="1036.5" r="2.6" fill="#26080E" opacity="0.55"/><circle cx="284.3" cy="1037.4" r="1.0" fill="#5E1C26" opacity="0.78"/><circle cx="279.3" cy="1034.3" r="2.4" fill="#93574F" opacity="0.79"/><circle cx="286.2" cy="1037.3" r="2.3" fill="#2A0A10" opacity="0.62"/><circle cx="270.1" cy="1038.9" r="1.2" fill="#2A0A10" opacity="0.43"/><circle cx="274.8" cy="1030.8" r="2.0" fill="#7E323A" opacity="0.79"/><circle cx="291.1" cy="1036.7" r="1.7" fill="#93574F" opacity="0.64"/><circle cx="288.4" cy="1035.3" r="3.4" fill="#340E14" opacity="0.49"/><circle cx="287.5" cy="1034.0" r="2.6" fill="#6A2430" opacity="0.59"/><circle cx="284.4" cy="1026.7" r="3.1" fill="#5E1C26" opacity="0.58"/><circle cx="298.3" cy="1036.8" r="1.2" fill="#3A1218" opacity="0.73"/><circle cx="287.6" cy="1039.4" r="2.7" fill="#6A2430" opacity="0.56"/><circle cx="269.5" cy="1034.0" r="1.4" fill="#6A2430" opacity="0.48"/><circle cx="292.2" cy="1038.5" r="2.0" fill="#8C4046" opacity="0.49"/><circle cx="299.7" cy="1043.2" r="1.1" fill="#3A1218" opacity="0.59"/><circle cx="283.0" cy="1030.7" r="2.0" fill="#2C080E" opacity="0.52"/><circle cx="276.9" cy="1022.3" r="1.8" fill="#3A1218" opacity="0.73"/><circle cx="276.2" cy="1018.8" r="1.2" fill="#2A0A10" opacity="0.49"/><circle cx="276.1" cy="1042.5" r="1.2" fill="#340E14" opacity="0.58"/><circle cx="289.6" cy="1046.6" r="3.6" fill="#8A2630" opacity="0.61"/><circle cx="289.0" cy="1031.7" r="1.5" fill="#7E323A" opacity="0.64"/><circle cx="300.1" cy="1035.1" r="3.2" fill="#340E14" opacity="0.40"/><circle cx="275.2" cy="1027.6" r="3.1" fill="#26080E" opacity="0.42"/><circle cx="273.0" cy="1021.1" r="1.8" fill="#93574F" opacity="0.59"/><circle cx="272.4" cy="1039.8" r="1.0" fill="#6A2430" opacity="0.68"/><circle cx="291.6" cy="1040.4" r="2.1" fill="#5E1C26" opacity="0.62"/><circle cx="274.2" cy="1033.1" r="1.0" fill="#3A1218" opacity="0.44"/><circle cx="271.4" cy="1039.8" r="1.8" fill="#26080E" opacity="0.74"/><circle cx="290.4" cy="1045.0" r="3.2" fill="#8A2630" opacity="0.51"/><circle cx="287.7" cy="1037.3" r="1.8" fill="#6A2430" opacity="0.47"/><circle cx="294.6" cy="1043.3" r="3.2" fill="#2A0A10" opacity="0.57"/><circle cx="291.5" cy="1034.6" r="1.1" fill="#7E323A" opacity="0.68"/><circle cx="305.9" cy="1036.8" r="2.1" fill="#5E1C26" opacity="0.79"/><circle cx="269.2" cy="1025.7" r="1.5" fill="#5E1C26" opacity="0.46"/><circle cx="289.6" cy="1028.6" r="0.8" fill="#93574F" opacity="0.45"/><circle cx="299.0" cy="1037.3" r="2.5" fill="#2C080E" opacity="0.47"/><circle cx="290.0" cy="1042.3" r="1.6" fill="#481620" opacity="0.73"/><circle cx="278.8" cy="1032.3" r="2.3" fill="#26080E" opacity="0.76"/><circle cx="298.0" cy="1041.0" r="3.4" fill="#3A1218" opacity="0.51"/><circle cx="293.7" cy="1040.9" r="2.8" fill="#93574F" opacity="0.77"/><circle cx="280.2" cy="1036.8" r="1.3" fill="#340E14" opacity="0.46"/><circle cx="292.7" cy="1030.9" r="1.2" fill="#5E1C26" opacity="0.45"/><circle cx="295.0" cy="1039.9" r="1.6" fill="#3A1218" opacity="0.45"/><circle cx="281.8" cy="1033.1" r="3.1" fill="#5E1C26" opacity="0.74"/><circle cx="282.1" cy="1042.9" r="2.3" fill="#3A1218" opacity="0.67"/><circle cx="287.3" cy="1044.8" r="2.7" fill="#6A2430" opacity="0.41"/><circle cx="298.3" cy="1039.7" r="1.1" fill="#481620" opacity="0.72"/><circle cx="306.1" cy="1046.1" r="3.3" fill="#3A1218" opacity="0.70"/><circle cx="307.8" cy="1037.2" r="3.5" fill="#2A0A10" opacity="0.40"/><circle cx="291.3" cy="1037.5" r="0.9" fill="#C9A8A4" opacity="0.63"/><circle cx="282.9" cy="1032.6" r="0.7" fill="#C9A8A4" opacity="0.76"/><circle cx="290.8" cy="1043.0" r="0.6" fill="#C9A8A4" opacity="0.79"/><circle cx="290.0" cy="1033.8" r="0.9" fill="#C9A8A4" opacity="0.57"/><circle cx="279.5" cy="1022.4" r="1.1" fill="#C9A8A4" opacity="0.79"/><circle cx="281.1" cy="1030.0" r="0.6" fill="#C9A8A4" opacity="0.53"/></g></g>
<clipPath id="tc8"><circle cx="381.5" cy="1026.4" r="12.5"/><circle cx="389.3" cy="1030.2" r="11.4"/><circle cx="395.2" cy="1036.9" r="12.9"/><circle cx="402.9" cy="1040.7" r="13.0"/><circle cx="410.9" cy="1036.2" r="4.8"/><circle cx="409.6" cy="1032.4" r="4.6"/><circle cx="409.1" cy="1033.0" r="6.3"/><circle cx="400.8" cy="1047.8" r="5.7"/></clipPath>
<ellipse cx="388.2" cy="1036.0" rx="24.8" ry="12.5" fill="#FAF4DC" opacity="0.95" filter="url(#hb3)" transform="rotate(34 388.2 1036.0)"/>
<ellipse cx="395.2" cy="1032.0" rx="23.4" ry="11.9" fill="#D3C9DA" opacity="0.9" filter="url(#hb3)" transform="rotate(34 395.2 1032.0)"/>
<g filter="url(#hb1)"><g clip-path="url(#tc8)"><rect x="366.7" y="1011.6" width="51.0" height="43.9" fill="url(#hg)"/><circle cx="390.8" cy="1032.0" r="1.5" fill="#7E323A" opacity="0.44"/><circle cx="392.2" cy="1031.9" r="1.9" fill="#8A2630" opacity="0.47"/><circle cx="396.1" cy="1030.8" r="3.5" fill="#340E14" opacity="0.56"/><circle cx="390.9" cy="1026.7" r="1.1" fill="#5E1C26" opacity="0.46"/><circle cx="404.7" cy="1040.1" r="0.8" fill="#93574F" opacity="0.73"/><circle cx="390.5" cy="1036.9" r="1.7" fill="#2C080E" opacity="0.62"/><circle cx="376.3" cy="1033.9" r="1.3" fill="#5E1C26" opacity="0.67"/><circle cx="378.5" cy="1026.7" r="3.5" fill="#3A1218" opacity="0.48"/><circle cx="400.8" cy="1045.3" r="3.2" fill="#2C080E" opacity="0.67"/><circle cx="383.0" cy="1033.0" r="0.8" fill="#2A0A10" opacity="0.63"/><circle cx="375.1" cy="1019.4" r="2.8" fill="#3A1218" opacity="0.61"/><circle cx="389.6" cy="1022.5" r="1.0" fill="#481620" opacity="0.66"/><circle cx="389.6" cy="1032.6" r="2.3" fill="#26080E" opacity="0.50"/><circle cx="400.0" cy="1043.3" r="1.7" fill="#5E1C26" opacity="0.71"/><circle cx="404.8" cy="1039.3" r="3.4" fill="#26080E" opacity="0.48"/><circle cx="398.0" cy="1036.8" r="2.7" fill="#8A2630" opacity="0.59"/><circle cx="395.1" cy="1041.8" r="2.5" fill="#2C080E" opacity="0.52"/><circle cx="395.9" cy="1043.6" r="2.4" fill="#8C4046" opacity="0.41"/><circle cx="393.6" cy="1035.3" r="3.5" fill="#93574F" opacity="0.41"/><circle cx="394.2" cy="1032.7" r="3.5" fill="#8A2630" opacity="0.75"/><circle cx="391.9" cy="1030.9" r="1.3" fill="#8C4046" opacity="0.70"/><circle cx="408.6" cy="1040.1" r="3.2" fill="#93574F" opacity="0.50"/><circle cx="382.1" cy="1026.8" r="2.0" fill="#93574F" opacity="0.63"/><circle cx="402.4" cy="1041.9" r="3.3" fill="#7E323A" opacity="0.67"/><circle cx="385.8" cy="1030.2" r="2.2" fill="#3A1218" opacity="0.44"/><circle cx="384.1" cy="1030.6" r="2.1" fill="#8C4046" opacity="0.41"/><circle cx="389.5" cy="1030.6" r="3.5" fill="#7E323A" opacity="0.69"/><circle cx="402.3" cy="1040.7" r="0.8" fill="#3A1218" opacity="0.51"/><circle cx="385.6" cy="1038.3" r="1.6" fill="#5E1C26" opacity="0.70"/><circle cx="386.6" cy="1034.0" r="3.4" fill="#6A2430" opacity="0.57"/><circle cx="402.4" cy="1040.1" r="1.3" fill="#481620" opacity="0.59"/><circle cx="388.4" cy="1030.9" r="3.4" fill="#6A2430" opacity="0.57"/><circle cx="395.8" cy="1043.8" r="1.1" fill="#5E1C26" opacity="0.43"/><circle cx="385.1" cy="1031.8" r="3.1" fill="#7E323A" opacity="0.60"/><circle cx="398.6" cy="1042.0" r="1.1" fill="#5E1C26" opacity="0.70"/><circle cx="386.3" cy="1035.4" r="0.9" fill="#5E1C26" opacity="0.65"/><circle cx="400.7" cy="1049.8" r="0.9" fill="#481620" opacity="0.78"/><circle cx="385.0" cy="1020.2" r="0.7" fill="#340E14" opacity="0.75"/><circle cx="397.1" cy="1047.5" r="2.2" fill="#2C080E" opacity="0.69"/><circle cx="406.7" cy="1030.1" r="1.8" fill="#3A1218" opacity="0.69"/><circle cx="379.5" cy="1023.1" r="2.9" fill="#26080E" opacity="0.54"/><circle cx="396.0" cy="1035.2" r="2.0" fill="#7E323A" opacity="0.43"/><circle cx="388.4" cy="1041.7" r="0.9" fill="#3A1218" opacity="0.47"/><circle cx="401.0" cy="1044.5" r="1.6" fill="#340E14" opacity="0.62"/><circle cx="378.3" cy="1029.7" r="2.1" fill="#7E323A" opacity="0.68"/><circle cx="401.2" cy="1046.4" r="2.4" fill="#93574F" opacity="0.40"/><circle cx="386.8" cy="1016.9" r="0.8" fill="#2A0A10" opacity="0.64"/><circle cx="386.3" cy="1019.1" r="1.5" fill="#2C080E" opacity="0.58"/><circle cx="379.1" cy="1016.5" r="2.1" fill="#3A1218" opacity="0.57"/><circle cx="409.5" cy="1047.2" r="3.5" fill="#8A2630" opacity="0.41"/><circle cx="372.4" cy="1022.9" r="0.8" fill="#2C080E" opacity="0.68"/><circle cx="387.7" cy="1025.1" r="0.9" fill="#C9A8A4" opacity="0.60"/><circle cx="383.0" cy="1028.1" r="0.7" fill="#C9A8A4" opacity="0.57"/><circle cx="393.9" cy="1034.6" r="0.9" fill="#C9A8A4" opacity="0.64"/><circle cx="386.8" cy="1031.4" r="0.5" fill="#C9A8A4" opacity="0.67"/><circle cx="402.8" cy="1038.9" r="1.0" fill="#C9A8A4" opacity="0.59"/><circle cx="402.0" cy="1036.4" r="0.9" fill="#C9A8A4" opacity="0.70"/></g></g>
<clipPath id="tc9"><circle cx="486.5" cy="1023.5" r="11.3"/><circle cx="491.9" cy="1028.0" r="10.7"/><circle cx="498.6" cy="1030.5" r="11.2"/><circle cx="503.8" cy="1035.2" r="11.3"/><circle cx="509.7" cy="1039.0" r="10.4"/><circle cx="515.5" cy="1042.9" r="11.1"/><circle cx="509.0" cy="1031.4" r="5.6"/><circle cx="512.2" cy="1033.7" r="5.6"/><circle cx="495.6" cy="1020.3" r="4.2"/><circle cx="504.9" cy="1044.0" r="4.9"/></clipPath>
<ellipse cx="497.0" cy="1035.7" rx="28.1" ry="11.3" fill="#FAF4DC" opacity="0.95" filter="url(#hb3)" transform="rotate(34 497.0 1035.7)"/>
<ellipse cx="504.0" cy="1031.7" rx="26.9" ry="10.7" fill="#D3C9DA" opacity="0.9" filter="url(#hb3)" transform="rotate(34 504.0 1031.7)"/>
<g filter="url(#hb1)"><g clip-path="url(#tc9)"><rect x="473.0" y="1010.0" width="56.0" height="46.4" fill="url(#hg)"/><circle cx="499.7" cy="1027.9" r="3.0" fill="#481620" opacity="0.74"/><circle cx="495.2" cy="1024.0" r="3.2" fill="#8A2630" opacity="0.79"/><circle cx="479.3" cy="1024.7" r="1.8" fill="#2C080E" opacity="0.44"/><circle cx="518.4" cy="1039.4" r="1.7" fill="#340E14" opacity="0.75"/><circle cx="489.6" cy="1022.2" r="1.9" fill="#340E14" opacity="0.49"/><circle cx="504.2" cy="1039.2" r="1.0" fill="#26080E" opacity="0.65"/><circle cx="504.7" cy="1033.7" r="1.7" fill="#2C080E" opacity="0.77"/><circle cx="488.7" cy="1023.9" r="1.9" fill="#2C080E" opacity="0.41"/><circle cx="503.8" cy="1022.6" r="1.1" fill="#481620" opacity="0.45"/><circle cx="507.6" cy="1037.0" r="1.0" fill="#2C080E" opacity="0.78"/><circle cx="497.5" cy="1037.7" r="3.1" fill="#5E1C26" opacity="0.77"/><circle cx="494.7" cy="1036.5" r="1.1" fill="#481620" opacity="0.48"/><circle cx="495.8" cy="1032.1" r="2.8" fill="#3A1218" opacity="0.41"/><circle cx="490.3" cy="1025.5" r="2.5" fill="#6A2430" opacity="0.45"/><circle cx="499.2" cy="1031.3" r="3.2" fill="#2A0A10" opacity="0.70"/><circle cx="477.9" cy="1024.7" r="2.8" fill="#26080E" opacity="0.73"/><circle cx="525.2" cy="1045.7" r="1.4" fill="#2A0A10" opacity="0.50"/><circle cx="491.7" cy="1028.9" r="2.6" fill="#8A2630" opacity="0.48"/><circle cx="517.2" cy="1036.4" r="1.4" fill="#8A2630" opacity="0.50"/><circle cx="511.0" cy="1048.7" r="1.3" fill="#2C080E" opacity="0.52"/><circle cx="512.9" cy="1041.0" r="2.3" fill="#8A2630" opacity="0.69"/><circle cx="510.0" cy="1035.2" r="1.5" fill="#2A0A10" opacity="0.49"/><circle cx="492.3" cy="1027.7" r="1.1" fill="#5E1C26" opacity="0.78"/><circle cx="512.3" cy="1037.2" r="0.9" fill="#3A1218" opacity="0.47"/><circle cx="490.6" cy="1031.7" r="2.1" fill="#8C4046" opacity="0.69"/><circle cx="496.4" cy="1036.5" r="1.4" fill="#340E14" opacity="0.49"/><circle cx="506.3" cy="1040.6" r="2.3" fill="#2A0A10" opacity="0.79"/><circle cx="504.6" cy="1032.3" r="1.6" fill="#93574F" opacity="0.67"/><circle cx="515.6" cy="1041.6" r="2.3" fill="#340E14" opacity="0.74"/><circle cx="515.3" cy="1045.6" r="3.1" fill="#3A1218" opacity="0.41"/><circle cx="497.1" cy="1030.7" r="3.2" fill="#6A2430" opacity="0.79"/><circle cx="493.2" cy="1026.9" r="1.4" fill="#7E323A" opacity="0.72"/><circle cx="485.1" cy="1035.0" r="3.2" fill="#340E14" opacity="0.66"/><circle cx="487.3" cy="1031.7" r="2.6" fill="#8C4046" opacity="0.56"/><circle cx="504.6" cy="1040.9" r="3.2" fill="#481620" opacity="0.40"/><circle cx="490.2" cy="1022.8" r="1.5" fill="#3A1218" opacity="0.79"/><circle cx="480.0" cy="1016.3" r="2.6" fill="#6A2430" opacity="0.48"/><circle cx="487.8" cy="1029.9" r="2.2" fill="#2C080E" opacity="0.72"/><circle cx="497.9" cy="1032.9" r="2.7" fill="#26080E" opacity="0.42"/><circle cx="483.3" cy="1028.7" r="1.2" fill="#481620" opacity="0.47"/><circle cx="510.9" cy="1041.7" r="2.4" fill="#8A2630" opacity="0.58"/><circle cx="513.0" cy="1043.3" r="1.5" fill="#7E323A" opacity="0.46"/><circle cx="502.2" cy="1033.7" r="1.9" fill="#93574F" opacity="0.53"/><circle cx="513.6" cy="1037.6" r="1.8" fill="#3A1218" opacity="0.46"/><circle cx="510.5" cy="1041.6" r="3.1" fill="#26080E" opacity="0.70"/><circle cx="490.8" cy="1021.0" r="1.2" fill="#26080E" opacity="0.80"/><circle cx="509.9" cy="1041.7" r="2.3" fill="#2A0A10" opacity="0.59"/><circle cx="489.5" cy="1017.6" r="1.2" fill="#7E323A" opacity="0.46"/><circle cx="506.2" cy="1046.6" r="1.3" fill="#2C080E" opacity="0.68"/><circle cx="508.1" cy="1028.8" r="2.8" fill="#6A2430" opacity="0.78"/><circle cx="499.4" cy="1026.3" r="0.9" fill="#5E1C26" opacity="0.67"/><circle cx="500.9" cy="1042.1" r="2.0" fill="#3A1218" opacity="0.65"/><circle cx="492.3" cy="1029.5" r="2.0" fill="#5E1C26" opacity="0.54"/><circle cx="499.4" cy="1039.4" r="0.7" fill="#C9A8A4" opacity="0.73"/><circle cx="499.0" cy="1028.5" r="1.0" fill="#C9A8A4" opacity="0.74"/><circle cx="511.1" cy="1037.3" r="0.7" fill="#C9A8A4" opacity="0.67"/><circle cx="490.5" cy="1028.0" r="0.9" fill="#C9A8A4" opacity="0.51"/><circle cx="498.7" cy="1030.7" r="0.6" fill="#C9A8A4" opacity="0.64"/><circle cx="501.1" cy="1041.0" r="0.6" fill="#C9A8A4" opacity="0.58"/></g></g>
<clipPath id="tc10"><circle cx="598.6" cy="1021.1" r="9.3"/><circle cx="603.3" cy="1025.4" r="8.9"/><circle cx="609.1" cy="1028.5" r="9.5"/><circle cx="613.5" cy="1033.2" r="8.8"/><circle cx="617.8" cy="1038.0" r="8.9"/><circle cx="622.9" cy="1041.9" r="8.8"/><circle cx="596.3" cy="1023.5" r="3.3"/><circle cx="602.3" cy="1015.4" r="3.4"/><circle cx="611.6" cy="1034.1" r="3.1"/><circle cx="626.2" cy="1046.7" r="4.3"/></clipPath>
<ellipse cx="606.8" cy="1034.0" rx="24.4" ry="8.9" fill="#FAF4DC" opacity="0.95" filter="url(#hb3)" transform="rotate(41 606.8 1034.0)"/>
<ellipse cx="613.8" cy="1030.0" rx="23.5" ry="8.4" fill="#D3C9DA" opacity="0.9" filter="url(#hb3)" transform="rotate(41 613.8 1030.0)"/>
<g filter="url(#hb1)"><g clip-path="url(#tc10)"><rect x="587.5" y="1010.0" width="46.5" height="43.0" fill="url(#hg)"/><circle cx="608.9" cy="1027.9" r="1.7" fill="#26080E" opacity="0.77"/><circle cx="603.1" cy="1026.6" r="1.1" fill="#2A0A10" opacity="0.69"/><circle cx="600.8" cy="1022.0" r="0.8" fill="#93574F" opacity="0.52"/><circle cx="601.0" cy="1020.1" r="1.1" fill="#7E323A" opacity="0.63"/><circle cx="604.6" cy="1017.2" r="1.6" fill="#6A2430" opacity="0.55"/><circle cx="614.7" cy="1031.8" r="1.4" fill="#93574F" opacity="0.41"/><circle cx="603.0" cy="1023.1" r="1.7" fill="#2A0A10" opacity="0.78"/><circle cx="627.6" cy="1042.0" r="0.8" fill="#3A1218" opacity="0.41"/><circle cx="600.6" cy="1031.4" r="2.3" fill="#5E1C26" opacity="0.54"/><circle cx="618.5" cy="1046.6" r="1.4" fill="#2A0A10" opacity="0.53"/><circle cx="602.9" cy="1021.1" r="0.8" fill="#7E323A" opacity="0.62"/><circle cx="602.2" cy="1021.2" r="1.1" fill="#26080E" opacity="0.64"/><circle cx="617.8" cy="1034.7" r="2.3" fill="#7E323A" opacity="0.70"/><circle cx="620.5" cy="1043.8" r="2.3" fill="#3A1218" opacity="0.77"/><circle cx="599.5" cy="1026.3" r="0.9" fill="#3A1218" opacity="0.63"/><circle cx="600.4" cy="1022.5" r="1.1" fill="#8C4046" opacity="0.67"/><circle cx="605.6" cy="1016.4" r="1.8" fill="#93574F" opacity="0.79"/><circle cx="621.5" cy="1041.6" r="1.6" fill="#3A1218" opacity="0.74"/><circle cx="604.0" cy="1018.1" r="2.0" fill="#8C4046" opacity="0.50"/><circle cx="608.1" cy="1027.6" r="2.4" fill="#5E1C26" opacity="0.71"/><circle cx="599.8" cy="1020.5" r="1.8" fill="#2C080E" opacity="0.55"/><circle cx="614.3" cy="1041.8" r="0.7" fill="#340E14" opacity="0.46"/><circle cx="605.3" cy="1020.7" r="1.9" fill="#8A2630" opacity="0.76"/><circle cx="619.7" cy="1029.8" r="2.1" fill="#93574F" opacity="0.56"/><circle cx="597.4" cy="1021.3" r="1.2" fill="#2A0A10" opacity="0.79"/><circle cx="605.3" cy="1024.4" r="1.9" fill="#7E323A" opacity="0.46"/><circle cx="609.8" cy="1030.2" r="2.4" fill="#481620" opacity="0.73"/><circle cx="598.5" cy="1021.0" r="0.9" fill="#26080E" opacity="0.73"/><circle cx="620.3" cy="1039.0" r="1.5" fill="#8C4046" opacity="0.72"/><circle cx="621.2" cy="1030.6" r="1.1" fill="#8A2630" opacity="0.58"/><circle cx="593.6" cy="1023.5" r="1.3" fill="#8A2630" opacity="0.56"/><circle cx="617.3" cy="1035.9" r="1.7" fill="#8A2630" opacity="0.64"/><circle cx="615.0" cy="1035.6" r="1.2" fill="#26080E" opacity="0.53"/><circle cx="617.2" cy="1038.0" r="2.4" fill="#340E14" opacity="0.42"/><circle cx="618.8" cy="1037.0" r="2.5" fill="#2C080E" opacity="0.59"/><circle cx="627.2" cy="1039.9" r="1.1" fill="#8A2630" opacity="0.76"/><circle cx="599.1" cy="1030.1" r="2.1" fill="#3A1218" opacity="0.64"/><circle cx="598.1" cy="1023.4" r="2.4" fill="#3A1218" opacity="0.67"/><circle cx="597.0" cy="1024.9" r="2.5" fill="#6A2430" opacity="0.70"/><circle cx="615.6" cy="1030.2" r="0.6" fill="#C9A8A4" opacity="0.70"/><circle cx="621.7" cy="1043.2" r="1.0" fill="#C9A8A4" opacity="0.65"/><circle cx="618.8" cy="1041.8" r="0.7" fill="#C9A8A4" opacity="0.63"/><circle cx="616.4" cy="1032.4" r="0.7" fill="#C9A8A4" opacity="0.61"/></g></g>
<clipPath id="tc11"><circle cx="698.2" cy="1029.2" r="11.0"/><circle cx="703.3" cy="1032.4" r="12.0"/><circle cx="706.6" cy="1037.8" r="10.3"/><circle cx="712.3" cy="1040.3" r="10.9"/><circle cx="699.1" cy="1023.7" r="4.7"/><circle cx="718.3" cy="1034.9" r="5.6"/><circle cx="718.5" cy="1037.7" r="5.5"/><circle cx="710.7" cy="1031.8" r="4.5"/></clipPath>
<ellipse cx="701.2" cy="1037.2" rx="19.8" ry="11.5" fill="#FAF4DC" opacity="0.95" filter="url(#hb3)" transform="rotate(38 701.2 1037.2)"/>
<ellipse cx="708.2" cy="1033.2" rx="18.6" ry="10.9" fill="#D3C9DA" opacity="0.9" filter="url(#hb3)" transform="rotate(38 708.2 1033.2)"/>
<g filter="url(#hb1)"><g clip-path="url(#tc11)"><rect x="684.5" y="1015.5" width="41.5" height="38.5" fill="url(#hg)"/><circle cx="697.2" cy="1039.3" r="1.5" fill="#340E14" opacity="0.54"/><circle cx="709.2" cy="1042.3" r="3.3" fill="#6A2430" opacity="0.50"/><circle cx="688.2" cy="1031.9" r="2.3" fill="#93574F" opacity="0.46"/><circle cx="702.3" cy="1027.8" r="1.3" fill="#3A1218" opacity="0.62"/><circle cx="704.4" cy="1038.3" r="2.6" fill="#2A0A10" opacity="0.78"/><circle cx="707.2" cy="1036.8" r="1.2" fill="#26080E" opacity="0.64"/><circle cx="712.3" cy="1043.4" r="0.8" fill="#2A0A10" opacity="0.58"/><circle cx="696.5" cy="1032.5" r="2.5" fill="#3A1218" opacity="0.72"/><circle cx="715.9" cy="1040.5" r="1.9" fill="#7E323A" opacity="0.67"/><circle cx="697.0" cy="1028.8" r="2.3" fill="#2C080E" opacity="0.55"/><circle cx="700.8" cy="1032.7" r="2.9" fill="#2A0A10" opacity="0.53"/><circle cx="704.4" cy="1034.0" r="1.3" fill="#8A2630" opacity="0.52"/><circle cx="700.7" cy="1031.1" r="2.3" fill="#2C080E" opacity="0.47"/><circle cx="697.4" cy="1036.3" r="0.7" fill="#2C080E" opacity="0.53"/><circle cx="719.8" cy="1042.9" r="3.0" fill="#481620" opacity="0.61"/><circle cx="700.4" cy="1043.4" r="2.3" fill="#93574F" opacity="0.54"/><circle cx="709.5" cy="1032.5" r="2.9" fill="#340E14" opacity="0.55"/><circle cx="697.6" cy="1029.1" r="2.7" fill="#7E323A" opacity="0.46"/><circle cx="706.1" cy="1039.0" r="2.3" fill="#481620" opacity="0.76"/><circle cx="708.8" cy="1033.0" r="2.2" fill="#5E1C26" opacity="0.45"/><circle cx="701.0" cy="1033.7" r="2.1" fill="#8C4046" opacity="0.77"/><circle cx="710.3" cy="1031.0" r="3.4" fill="#5E1C26" opacity="0.65"/><circle cx="704.7" cy="1033.8" r="1.8" fill="#340E14" opacity="0.66"/><circle cx="712.1" cy="1040.0" r="2.7" fill="#7E323A" opacity="0.55"/><circle cx="708.4" cy="1031.2" r="1.0" fill="#340E14" opacity="0.49"/><circle cx="696.9" cy="1024.4" r="2.6" fill="#6A2430" opacity="0.77"/><circle cx="712.2" cy="1040.5" r="1.4" fill="#5E1C26" opacity="0.41"/><circle cx="699.5" cy="1026.5" r="1.3" fill="#2A0A10" opacity="0.69"/><circle cx="705.7" cy="1036.3" r="3.1" fill="#340E14" opacity="0.70"/><circle cx="712.3" cy="1040.7" r="1.9" fill="#3A1218" opacity="0.62"/><circle cx="699.8" cy="1030.6" r="2.3" fill="#93574F" opacity="0.43"/><circle cx="713.4" cy="1034.8" r="2.0" fill="#6A2430" opacity="0.74"/><circle cx="709.9" cy="1030.9" r="1.0" fill="#5E1C26" opacity="0.55"/><circle cx="700.4" cy="1027.4" r="2.4" fill="#2A0A10" opacity="0.67"/><circle cx="700.0" cy="1043.4" r="3.1" fill="#93574F" opacity="0.73"/><circle cx="695.8" cy="1029.2" r="0.9" fill="#6A2430" opacity="0.67"/><circle cx="710.3" cy="1034.5" r="1.7" fill="#5E1C26" opacity="0.80"/><circle cx="698.7" cy="1021.1" r="1.7" fill="#2A0A10" opacity="0.44"/><circle cx="698.2" cy="1029.6" r="2.5" fill="#7E323A" opacity="0.79"/><circle cx="706.7" cy="1039.7" r="1.1" fill="#C9A8A4" opacity="0.53"/><circle cx="699.1" cy="1027.5" r="0.8" fill="#C9A8A4" opacity="0.75"/><circle cx="704.3" cy="1031.5" r="1.1" fill="#C9A8A4" opacity="0.58"/><circle cx="700.1" cy="1028.4" r="1.0" fill="#C9A8A4" opacity="0.54"/></g></g>
<clipPath id="tc12"><circle cx="786.1" cy="1023.0" r="8.2"/><circle cx="790.4" cy="1026.7" r="8.5"/><circle cx="794.7" cy="1030.4" r="8.9"/><circle cx="799.1" cy="1034.0" r="8.0"/><circle cx="791.5" cy="1020.3" r="4.2"/><circle cx="795.3" cy="1028.9" r="3.2"/><circle cx="791.9" cy="1026.7" r="2.6"/><circle cx="796.5" cy="1023.4" r="3.2"/></clipPath>
<ellipse cx="788.6" cy="1031.0" rx="16.3" ry="8.2" fill="#FAF4DC" opacity="0.95" filter="url(#hb3)" transform="rotate(40 788.6 1031.0)"/>
<ellipse cx="795.6" cy="1027.0" rx="15.5" ry="7.8" fill="#D3C9DA" opacity="0.9" filter="url(#hb3)" transform="rotate(40 795.6 1027.0)"/>
<g filter="url(#hb1)"><g clip-path="url(#tc12)"><rect x="775.7" y="1012.6" width="33.8" height="31.8" fill="url(#hg)"/><circle cx="782.7" cy="1022.9" r="2.0" fill="#7E323A" opacity="0.78"/><circle cx="785.7" cy="1022.7" r="2.1" fill="#6A2430" opacity="0.59"/><circle cx="790.5" cy="1027.1" r="2.0" fill="#3A1218" opacity="0.51"/><circle cx="799.2" cy="1033.9" r="1.0" fill="#481620" opacity="0.51"/><circle cx="782.8" cy="1023.5" r="2.0" fill="#481620" opacity="0.71"/><circle cx="789.4" cy="1027.0" r="1.5" fill="#8C4046" opacity="0.41"/><circle cx="796.9" cy="1033.8" r="2.4" fill="#8C4046" opacity="0.75"/><circle cx="786.2" cy="1023.6" r="2.1" fill="#93574F" opacity="0.52"/><circle cx="786.5" cy="1018.4" r="2.3" fill="#8A2630" opacity="0.46"/><circle cx="788.3" cy="1025.6" r="2.5" fill="#5E1C26" opacity="0.47"/><circle cx="790.5" cy="1026.3" r="1.3" fill="#6A2430" opacity="0.68"/><circle cx="794.3" cy="1024.8" r="0.8" fill="#5E1C26" opacity="0.70"/><circle cx="786.1" cy="1022.7" r="1.0" fill="#8C4046" opacity="0.64"/><circle cx="782.0" cy="1022.7" r="2.1" fill="#7E323A" opacity="0.46"/><circle cx="784.1" cy="1026.2" r="1.6" fill="#7E323A" opacity="0.71"/><circle cx="792.1" cy="1033.6" r="1.4" fill="#6A2430" opacity="0.69"/><circle cx="792.0" cy="1025.9" r="0.8" fill="#3A1218" opacity="0.67"/><circle cx="797.1" cy="1032.0" r="2.1" fill="#8A2630" opacity="0.44"/><circle cx="798.7" cy="1037.8" r="2.3" fill="#6A2430" opacity="0.71"/><circle cx="786.2" cy="1024.3" r="0.8" fill="#340E14" opacity="0.48"/><circle cx="791.7" cy="1030.5" r="1.5" fill="#93574F" opacity="0.60"/><circle cx="792.1" cy="1035.7" r="1.9" fill="#93574F" opacity="0.54"/><circle cx="793.6" cy="1036.3" r="2.2" fill="#7E323A" opacity="0.65"/><circle cx="796.0" cy="1033.9" r="2.6" fill="#3A1218" opacity="0.77"/><circle cx="792.9" cy="1029.1" r="2.3" fill="#7E323A" opacity="0.58"/><circle cx="786.2" cy="1023.5" r="1.5" fill="#5E1C26" opacity="0.64"/><circle cx="796.3" cy="1028.9" r="0.6" fill="#C9A8A4" opacity="0.54"/><circle cx="803.0" cy="1036.3" r="0.6" fill="#C9A8A4" opacity="0.68"/><circle cx="799.4" cy="1034.3" r="0.8" fill="#C9A8A4" opacity="0.68"/></g></g>
<clipPath id="tc13"><circle cx="881.3" cy="1025.5" r="8.6"/><circle cx="883.8" cy="1028.3" r="8.1"/><circle cx="887.2" cy="1029.9" r="9.0"/><circle cx="890.5" cy="1031.5" r="8.2"/><circle cx="893.9" cy="1027.0" r="3.6"/><circle cx="890.9" cy="1035.6" r="4.3"/><circle cx="892.9" cy="1037.2" r="2.8"/><circle cx="886.7" cy="1036.7" r="3.3"/></clipPath>
<ellipse cx="881.9" cy="1031.0" rx="13.4" ry="8.3" fill="#FAF4DC" opacity="0.95" filter="url(#hb3)" transform="rotate(33 881.9 1031.0)"/>
<ellipse cx="888.9" cy="1027.0" rx="12.5" ry="7.9" fill="#D3C9DA" opacity="0.9" filter="url(#hb3)" transform="rotate(33 888.9 1027.0)"/>
<g filter="url(#hb1)"><g clip-path="url(#tc13)"><rect x="870.8" y="1015.0" width="30.2" height="27.0" fill="url(#hg)"/><circle cx="890.1" cy="1032.7" r="0.9" fill="#481620" opacity="0.41"/><circle cx="886.5" cy="1031.9" r="2.4" fill="#7E323A" opacity="0.73"/><circle cx="891.3" cy="1033.2" r="1.6" fill="#3A1218" opacity="0.65"/><circle cx="885.6" cy="1022.9" r="2.3" fill="#2C080E" opacity="0.57"/><circle cx="890.7" cy="1031.5" r="1.5" fill="#8A2630" opacity="0.59"/><circle cx="890.5" cy="1030.2" r="1.4" fill="#481620" opacity="0.42"/><circle cx="888.1" cy="1026.9" r="1.6" fill="#8A2630" opacity="0.58"/><circle cx="876.9" cy="1027.7" r="0.8" fill="#5E1C26" opacity="0.74"/><circle cx="889.1" cy="1031.5" r="1.4" fill="#8A2630" opacity="0.64"/><circle cx="886.5" cy="1025.1" r="1.2" fill="#8C4046" opacity="0.68"/><circle cx="886.5" cy="1029.6" r="0.8" fill="#5E1C26" opacity="0.57"/><circle cx="881.7" cy="1024.3" r="0.8" fill="#7E323A" opacity="0.42"/><circle cx="881.4" cy="1024.6" r="1.3" fill="#481620" opacity="0.78"/><circle cx="888.3" cy="1024.4" r="1.7" fill="#2C080E" opacity="0.50"/><circle cx="892.5" cy="1034.9" r="1.5" fill="#8C4046" opacity="0.66"/><circle cx="890.9" cy="1034.3" r="0.9" fill="#7E323A" opacity="0.72"/><circle cx="894.2" cy="1025.0" r="0.9" fill="#8A2630" opacity="0.56"/><circle cx="884.2" cy="1035.9" r="2.3" fill="#6A2430" opacity="0.41"/><circle cx="895.2" cy="1028.2" r="2.1" fill="#26080E" opacity="0.63"/><circle cx="881.8" cy="1023.8" r="1.1" fill="#26080E" opacity="0.57"/><circle cx="880.5" cy="1028.1" r="2.4" fill="#481620" opacity="0.69"/><circle cx="888.5" cy="1024.8" r="2.4" fill="#26080E" opacity="0.74"/><circle cx="885.2" cy="1033.1" r="2.6" fill="#481620" opacity="0.44"/><circle cx="886.0" cy="1030.7" r="0.7" fill="#C9A8A4" opacity="0.77"/><circle cx="887.8" cy="1026.0" r="0.5" fill="#C9A8A4" opacity="0.64"/><circle cx="882.0" cy="1024.4" r="0.6" fill="#C9A8A4" opacity="0.52"/></g></g>
<clipPath id="tc14"><circle cx="275.4" cy="1108.5" r="14.2"/><circle cx="281.7" cy="1110.4" r="15.2"/><circle cx="287.9" cy="1112.6" r="15.0"/><circle cx="294.0" cy="1115.1" r="14.7"/><circle cx="269.8" cy="1105.5" r="4.7"/><circle cx="288.9" cy="1104.7" r="6.3"/><circle cx="281.9" cy="1122.5" r="6.8"/><circle cx="282.9" cy="1100.2" r="6.1"/></clipPath>
<ellipse cx="280.7" cy="1114.3" rx="23.5" ry="14.4" fill="#FAF4DC" opacity="0.95" filter="url(#hb3)" transform="rotate(20 280.7 1114.3)"/>
<ellipse cx="287.7" cy="1110.3" rx="22.0" ry="13.6" fill="#D3C9DA" opacity="0.9" filter="url(#hb3)" transform="rotate(20 287.7 1110.3)"/>
<g filter="url(#hb1)"><g clip-path="url(#tc14)"><rect x="258.7" y="1091.8" width="52.0" height="40.0" fill="url(#hg)"/><circle cx="282.5" cy="1122.4" r="3.9" fill="#2C080E" opacity="0.63"/><circle cx="279.2" cy="1113.7" r="2.5" fill="#8A2630" opacity="0.45"/><circle cx="280.1" cy="1103.9" r="1.1" fill="#340E14" opacity="0.44"/><circle cx="272.5" cy="1104.0" r="3.0" fill="#5E1C26" opacity="0.60"/><circle cx="285.9" cy="1119.6" r="3.6" fill="#8A2630" opacity="0.54"/><circle cx="284.2" cy="1115.6" r="1.2" fill="#2A0A10" opacity="0.73"/><circle cx="279.2" cy="1102.8" r="2.8" fill="#6A2430" opacity="0.41"/><circle cx="285.3" cy="1114.7" r="2.4" fill="#5E1C26" opacity="0.42"/><circle cx="292.1" cy="1114.8" r="1.2" fill="#93574F" opacity="0.67"/><circle cx="291.4" cy="1114.2" r="2.2" fill="#8A2630" opacity="0.47"/><circle cx="300.7" cy="1107.4" r="3.3" fill="#8A2630" opacity="0.49"/><circle cx="264.1" cy="1106.9" r="3.9" fill="#3A1218" opacity="0.72"/><circle cx="289.0" cy="1115.4" r="3.6" fill="#8C4046" opacity="0.49"/><circle cx="271.2" cy="1095.7" r="3.0" fill="#2C080E" opacity="0.71"/><circle cx="287.6" cy="1113.5" r="2.7" fill="#6A2430" opacity="0.61"/><circle cx="288.3" cy="1107.1" r="1.4" fill="#26080E" opacity="0.59"/><circle cx="275.4" cy="1109.3" r="4.0" fill="#26080E" opacity="0.52"/><circle cx="293.4" cy="1107.1" r="1.9" fill="#26080E" opacity="0.66"/><circle cx="288.3" cy="1115.4" r="1.7" fill="#3A1218" opacity="0.62"/><circle cx="294.1" cy="1120.9" r="2.4" fill="#26080E" opacity="0.72"/><circle cx="291.6" cy="1116.7" r="0.8" fill="#2A0A10" opacity="0.49"/><circle cx="283.6" cy="1103.7" r="1.0" fill="#8A2630" opacity="0.42"/><circle cx="279.8" cy="1123.7" r="1.6" fill="#7E323A" opacity="0.67"/><circle cx="287.3" cy="1115.2" r="3.1" fill="#7E323A" opacity="0.77"/><circle cx="293.9" cy="1117.9" r="3.6" fill="#3A1218" opacity="0.75"/><circle cx="281.1" cy="1110.2" r="3.8" fill="#7E323A" opacity="0.61"/><circle cx="286.0" cy="1111.4" r="2.0" fill="#93574F" opacity="0.48"/><circle cx="275.4" cy="1109.0" r="2.5" fill="#26080E" opacity="0.71"/><circle cx="278.2" cy="1106.5" r="3.5" fill="#2C080E" opacity="0.67"/><circle cx="277.0" cy="1102.1" r="2.7" fill="#2A0A10" opacity="0.44"/><circle cx="293.2" cy="1115.0" r="1.8" fill="#6A2430" opacity="0.45"/><circle cx="293.5" cy="1126.2" r="2.2" fill="#340E14" opacity="0.75"/><circle cx="287.1" cy="1109.7" r="4.0" fill="#93574F" opacity="0.51"/><circle cx="284.4" cy="1105.4" r="1.2" fill="#8C4046" opacity="0.61"/><circle cx="272.1" cy="1100.4" r="3.2" fill="#3A1218" opacity="0.68"/><circle cx="296.1" cy="1112.6" r="2.5" fill="#26080E" opacity="0.72"/><circle cx="276.2" cy="1107.3" r="2.1" fill="#2A0A10" opacity="0.56"/><circle cx="277.1" cy="1112.6" r="2.1" fill="#26080E" opacity="0.79"/><circle cx="292.7" cy="1117.6" r="2.4" fill="#3A1218" opacity="0.44"/><circle cx="294.7" cy="1108.7" r="3.4" fill="#340E14" opacity="0.62"/><circle cx="292.2" cy="1118.0" r="3.5" fill="#2A0A10" opacity="0.56"/><circle cx="293.2" cy="1114.5" r="2.3" fill="#3A1218" opacity="0.74"/><circle cx="287.8" cy="1113.1" r="2.5" fill="#2C080E" opacity="0.52"/><circle cx="287.9" cy="1118.7" r="3.5" fill="#8A2630" opacity="0.74"/><circle cx="295.5" cy="1116.7" r="2.3" fill="#5E1C26" opacity="0.46"/><circle cx="291.5" cy="1101.9" r="1.9" fill="#5E1C26" opacity="0.78"/><circle cx="278.9" cy="1107.5" r="1.3" fill="#5E1C26" opacity="0.74"/><circle cx="285.3" cy="1116.7" r="1.1" fill="#5E1C26" opacity="0.44"/><circle cx="295.6" cy="1115.7" r="2.3" fill="#26080E" opacity="0.56"/><circle cx="292.6" cy="1119.1" r="2.7" fill="#2C080E" opacity="0.72"/><circle cx="273.9" cy="1111.7" r="3.9" fill="#93574F" opacity="0.56"/><circle cx="287.9" cy="1112.7" r="2.1" fill="#8C4046" opacity="0.63"/><circle cx="292.1" cy="1118.3" r="2.3" fill="#2C080E" opacity="0.49"/><circle cx="291.9" cy="1115.7" r="2.3" fill="#8C4046" opacity="0.59"/><circle cx="290.5" cy="1114.0" r="1.0" fill="#7E323A" opacity="0.72"/><circle cx="296.9" cy="1106.4" r="0.7" fill="#C9A8A4" opacity="0.58"/><circle cx="280.2" cy="1111.0" r="0.9" fill="#C9A8A4" opacity="0.61"/><circle cx="288.3" cy="1113.6" r="1.0" fill="#C9A8A4" opacity="0.53"/><circle cx="287.1" cy="1103.1" r="1.0" fill="#C9A8A4" opacity="0.73"/><circle cx="276.7" cy="1115.9" r="0.6" fill="#C9A8A4" opacity="0.77"/><circle cx="285.5" cy="1111.4" r="1.0" fill="#C9A8A4" opacity="0.69"/></g></g>
<clipPath id="tc15"><circle cx="385.4" cy="1103.8" r="13.0"/><circle cx="391.9" cy="1106.0" r="13.4"/><circle cx="398.3" cy="1108.2" r="12.8"/><circle cx="404.3" cy="1111.6" r="13.8"/><circle cx="394.2" cy="1109.2" r="6.9"/><circle cx="378.6" cy="1096.4" r="5.8"/><circle cx="412.7" cy="1117.9" r="5.0"/><circle cx="389.5" cy="1111.6" r="6.7"/></clipPath>
<ellipse cx="390.9" cy="1110.2" rx="22.6" ry="13.1" fill="#FAF4DC" opacity="0.95" filter="url(#hb3)" transform="rotate(22 390.9 1110.2)"/>
<ellipse cx="397.9" cy="1106.2" rx="21.3" ry="12.5" fill="#D3C9DA" opacity="0.9" filter="url(#hb3)" transform="rotate(22 397.9 1106.2)"/>
<g filter="url(#hb1)"><g clip-path="url(#tc15)"><rect x="370.0" y="1088.4" width="49.7" height="38.6" fill="url(#hg)"/><circle cx="405.2" cy="1105.4" r="1.0" fill="#340E14" opacity="0.67"/><circle cx="404.8" cy="1113.1" r="2.2" fill="#481620" opacity="0.60"/><circle cx="391.7" cy="1101.7" r="3.5" fill="#2C080E" opacity="0.52"/><circle cx="384.8" cy="1102.0" r="3.5" fill="#93574F" opacity="0.70"/><circle cx="383.0" cy="1115.3" r="2.3" fill="#6A2430" opacity="0.48"/><circle cx="378.7" cy="1098.3" r="2.7" fill="#5E1C26" opacity="0.54"/><circle cx="395.5" cy="1109.3" r="1.2" fill="#7E323A" opacity="0.66"/><circle cx="396.1" cy="1110.2" r="3.5" fill="#7E323A" opacity="0.54"/><circle cx="402.4" cy="1112.2" r="2.7" fill="#26080E" opacity="0.51"/><circle cx="385.3" cy="1106.3" r="3.1" fill="#481620" opacity="0.52"/><circle cx="398.1" cy="1114.3" r="2.6" fill="#3A1218" opacity="0.61"/><circle cx="397.9" cy="1101.4" r="0.8" fill="#6A2430" opacity="0.67"/><circle cx="381.9" cy="1111.7" r="2.2" fill="#93574F" opacity="0.63"/><circle cx="392.1" cy="1108.1" r="2.0" fill="#8A2630" opacity="0.55"/><circle cx="384.2" cy="1109.1" r="0.7" fill="#26080E" opacity="0.61"/><circle cx="386.7" cy="1103.2" r="1.4" fill="#3A1218" opacity="0.47"/><circle cx="395.2" cy="1109.2" r="2.5" fill="#8C4046" opacity="0.75"/><circle cx="391.8" cy="1106.8" r="2.7" fill="#340E14" opacity="0.71"/><circle cx="392.1" cy="1106.3" r="3.6" fill="#481620" opacity="0.56"/><circle cx="389.0" cy="1106.0" r="2.1" fill="#93574F" opacity="0.45"/><circle cx="394.9" cy="1099.4" r="1.8" fill="#6A2430" opacity="0.68"/><circle cx="400.9" cy="1110.0" r="2.3" fill="#2C080E" opacity="0.48"/><circle cx="396.0" cy="1098.3" r="1.9" fill="#481620" opacity="0.46"/><circle cx="399.7" cy="1096.1" r="1.0" fill="#8C4046" opacity="0.70"/><circle cx="395.7" cy="1098.2" r="1.6" fill="#8A2630" opacity="0.69"/><circle cx="399.5" cy="1118.3" r="1.6" fill="#93574F" opacity="0.54"/><circle cx="394.3" cy="1108.3" r="2.4" fill="#26080E" opacity="0.72"/><circle cx="407.9" cy="1114.1" r="1.9" fill="#2A0A10" opacity="0.40"/><circle cx="383.2" cy="1101.3" r="2.5" fill="#8C4046" opacity="0.58"/><circle cx="393.4" cy="1105.3" r="3.5" fill="#481620" opacity="0.71"/><circle cx="376.1" cy="1106.9" r="2.8" fill="#5E1C26" opacity="0.65"/><circle cx="409.2" cy="1110.3" r="2.3" fill="#481620" opacity="0.47"/><circle cx="395.9" cy="1107.9" r="2.3" fill="#93574F" opacity="0.46"/><circle cx="380.6" cy="1104.8" r="3.5" fill="#93574F" opacity="0.61"/><circle cx="390.4" cy="1114.1" r="1.3" fill="#2A0A10" opacity="0.59"/><circle cx="397.6" cy="1107.9" r="3.3" fill="#2A0A10" opacity="0.52"/><circle cx="404.8" cy="1116.6" r="0.8" fill="#93574F" opacity="0.77"/><circle cx="410.8" cy="1114.1" r="0.8" fill="#481620" opacity="0.74"/><circle cx="400.6" cy="1107.7" r="2.9" fill="#5E1C26" opacity="0.46"/><circle cx="391.2" cy="1107.4" r="2.0" fill="#3A1218" opacity="0.60"/><circle cx="403.0" cy="1121.2" r="2.7" fill="#3A1218" opacity="0.61"/><circle cx="385.8" cy="1102.0" r="2.2" fill="#26080E" opacity="0.80"/><circle cx="375.7" cy="1101.6" r="3.6" fill="#340E14" opacity="0.41"/><circle cx="390.3" cy="1112.0" r="1.7" fill="#2A0A10" opacity="0.66"/><circle cx="403.7" cy="1120.8" r="3.1" fill="#7E323A" opacity="0.76"/><circle cx="401.9" cy="1101.8" r="2.2" fill="#5E1C26" opacity="0.53"/><circle cx="396.1" cy="1114.4" r="1.3" fill="#93574F" opacity="0.55"/><circle cx="388.8" cy="1097.9" r="1.3" fill="#5E1C26" opacity="0.70"/><circle cx="396.4" cy="1116.0" r="3.4" fill="#26080E" opacity="0.60"/><circle cx="387.7" cy="1111.4" r="0.9" fill="#C9A8A4" opacity="0.59"/><circle cx="391.1" cy="1108.4" r="0.8" fill="#C9A8A4" opacity="0.71"/><circle cx="396.7" cy="1113.1" r="0.7" fill="#C9A8A4" opacity="0.79"/><circle cx="403.4" cy="1113.7" r="1.0" fill="#C9A8A4" opacity="0.61"/><circle cx="404.6" cy="1112.0" r="0.9" fill="#C9A8A4" opacity="0.65"/></g></g>
<clipPath id="tc16"><circle cx="505.2" cy="1104.5" r="11.1"/><circle cx="512.2" cy="1107.2" r="12.2"/><circle cx="519.0" cy="1110.0" r="11.2"/><circle cx="525.0" cy="1114.7" r="11.9"/><circle cx="504.9" cy="1113.2" r="5.0"/><circle cx="497.2" cy="1101.1" r="3.7"/><circle cx="510.6" cy="1098.8" r="6.0"/><circle cx="511.0" cy="1107.4" r="5.5"/></clipPath>
<ellipse cx="511.1" cy="1112.1" rx="22.0" ry="11.5" fill="#FAF4DC" opacity="0.95" filter="url(#hb3)" transform="rotate(27 511.1 1112.1)"/>
<ellipse cx="518.1" cy="1108.1" rx="20.8" ry="10.9" fill="#D3C9DA" opacity="0.9" filter="url(#hb3)" transform="rotate(27 518.1 1108.1)"/>
<g filter="url(#hb1)"><g clip-path="url(#tc16)"><rect x="491.5" y="1090.8" width="47.2" height="37.6" fill="url(#hg)"/><circle cx="520.5" cy="1113.8" r="1.5" fill="#8A2630" opacity="0.65"/><circle cx="511.9" cy="1114.3" r="0.8" fill="#2A0A10" opacity="0.72"/><circle cx="512.3" cy="1107.5" r="2.3" fill="#2C080E" opacity="0.62"/><circle cx="524.4" cy="1108.4" r="1.1" fill="#6A2430" opacity="0.76"/><circle cx="526.0" cy="1123.4" r="2.8" fill="#481620" opacity="0.74"/><circle cx="518.4" cy="1104.7" r="0.7" fill="#93574F" opacity="0.68"/><circle cx="520.5" cy="1105.8" r="1.7" fill="#481620" opacity="0.61"/><circle cx="524.1" cy="1115.8" r="1.5" fill="#93574F" opacity="0.76"/><circle cx="523.0" cy="1103.5" r="3.3" fill="#6A2430" opacity="0.44"/><circle cx="516.2" cy="1111.1" r="1.5" fill="#8C4046" opacity="0.53"/><circle cx="531.4" cy="1107.5" r="1.6" fill="#481620" opacity="0.63"/><circle cx="503.3" cy="1103.4" r="1.0" fill="#6A2430" opacity="0.48"/><circle cx="519.0" cy="1112.0" r="2.5" fill="#93574F" opacity="0.48"/><circle cx="512.9" cy="1113.3" r="1.2" fill="#93574F" opacity="0.58"/><circle cx="506.4" cy="1103.9" r="3.3" fill="#3A1218" opacity="0.47"/><circle cx="515.3" cy="1113.0" r="2.4" fill="#8C4046" opacity="0.78"/><circle cx="528.7" cy="1116.1" r="1.4" fill="#8C4046" opacity="0.43"/><circle cx="521.3" cy="1119.5" r="0.9" fill="#8C4046" opacity="0.57"/><circle cx="524.9" cy="1110.7" r="1.5" fill="#26080E" opacity="0.43"/><circle cx="517.4" cy="1110.3" r="1.0" fill="#3A1218" opacity="0.66"/><circle cx="500.7" cy="1096.3" r="1.2" fill="#7E323A" opacity="0.48"/><circle cx="526.5" cy="1116.7" r="0.7" fill="#5E1C26" opacity="0.73"/><circle cx="523.7" cy="1114.6" r="1.6" fill="#2C080E" opacity="0.66"/><circle cx="525.1" cy="1111.8" r="3.1" fill="#2A0A10" opacity="0.55"/><circle cx="519.7" cy="1116.1" r="2.0" fill="#2C080E" opacity="0.67"/><circle cx="504.9" cy="1113.5" r="2.0" fill="#340E14" opacity="0.73"/><circle cx="518.7" cy="1110.2" r="2.2" fill="#93574F" opacity="0.62"/><circle cx="512.4" cy="1107.9" r="3.0" fill="#93574F" opacity="0.49"/><circle cx="515.3" cy="1104.7" r="1.8" fill="#2C080E" opacity="0.59"/><circle cx="512.0" cy="1107.5" r="2.6" fill="#6A2430" opacity="0.62"/><circle cx="505.5" cy="1106.3" r="0.9" fill="#8C4046" opacity="0.64"/><circle cx="502.5" cy="1111.2" r="1.5" fill="#5E1C26" opacity="0.52"/><circle cx="506.2" cy="1102.8" r="2.1" fill="#8A2630" opacity="0.68"/><circle cx="525.7" cy="1110.8" r="1.3" fill="#340E14" opacity="0.67"/><circle cx="500.4" cy="1112.1" r="2.4" fill="#2C080E" opacity="0.62"/><circle cx="525.8" cy="1108.8" r="1.0" fill="#8A2630" opacity="0.52"/><circle cx="525.2" cy="1112.5" r="0.8" fill="#7E323A" opacity="0.68"/><circle cx="520.2" cy="1111.1" r="1.1" fill="#93574F" opacity="0.45"/><circle cx="520.4" cy="1117.4" r="0.9" fill="#26080E" opacity="0.69"/><circle cx="526.2" cy="1110.8" r="1.9" fill="#6A2430" opacity="0.65"/><circle cx="515.4" cy="1104.8" r="2.8" fill="#3A1218" opacity="0.55"/><circle cx="524.6" cy="1111.7" r="2.7" fill="#8A2630" opacity="0.49"/><circle cx="525.9" cy="1113.5" r="2.7" fill="#340E14" opacity="0.50"/><circle cx="528.7" cy="1111.1" r="0.9" fill="#C9A8A4" opacity="0.67"/><circle cx="518.7" cy="1107.1" r="1.0" fill="#C9A8A4" opacity="0.56"/><circle cx="507.1" cy="1111.0" r="0.5" fill="#C9A8A4" opacity="0.76"/><circle cx="525.6" cy="1109.5" r="1.1" fill="#C9A8A4" opacity="0.78"/><circle cx="525.8" cy="1115.7" r="1.1" fill="#C9A8A4" opacity="0.54"/></g></g>
<clipPath id="tc17"><circle cx="607.7" cy="1100.4" r="10.0"/><circle cx="613.9" cy="1104.2" r="9.1"/><circle cx="618.7" cy="1109.9" r="8.9"/><circle cx="624.6" cy="1113.9" r="9.8"/><circle cx="631.0" cy="1117.4" r="10.3"/><circle cx="610.1" cy="1109.8" r="4.8"/><circle cx="636.3" cy="1122.7" r="4.7"/><circle cx="615.5" cy="1101.5" r="4.2"/><circle cx="616.6" cy="1097.3" r="3.3"/></clipPath>
<ellipse cx="615.4" cy="1111.4" rx="23.7" ry="9.8" fill="#FAF4DC" opacity="0.95" filter="url(#hb3)" transform="rotate(36 615.4 1111.4)"/>
<ellipse cx="622.4" cy="1107.4" rx="22.6" ry="9.3" fill="#D3C9DA" opacity="0.9" filter="url(#hb3)" transform="rotate(36 622.4 1107.4)"/>
<g filter="url(#hb1)"><g clip-path="url(#tc17)"><rect x="595.7" y="1088.4" width="47.3" height="41.0" fill="url(#hg)"/><circle cx="614.7" cy="1105.0" r="1.8" fill="#3A1218" opacity="0.52"/><circle cx="613.1" cy="1105.1" r="2.0" fill="#5E1C26" opacity="0.64"/><circle cx="607.6" cy="1109.9" r="1.2" fill="#6A2430" opacity="0.57"/><circle cx="620.4" cy="1110.2" r="1.5" fill="#2A0A10" opacity="0.67"/><circle cx="615.7" cy="1109.5" r="1.4" fill="#8A2630" opacity="0.41"/><circle cx="620.8" cy="1107.5" r="1.6" fill="#26080E" opacity="0.51"/><circle cx="621.9" cy="1111.5" r="2.3" fill="#5E1C26" opacity="0.65"/><circle cx="606.1" cy="1105.8" r="0.8" fill="#26080E" opacity="0.45"/><circle cx="614.6" cy="1106.7" r="0.8" fill="#2C080E" opacity="0.55"/><circle cx="616.5" cy="1110.0" r="1.9" fill="#6A2430" opacity="0.52"/><circle cx="623.4" cy="1121.0" r="2.0" fill="#7E323A" opacity="0.41"/><circle cx="610.1" cy="1103.3" r="2.9" fill="#93574F" opacity="0.77"/><circle cx="620.4" cy="1112.2" r="1.2" fill="#2C080E" opacity="0.76"/><circle cx="604.9" cy="1097.4" r="1.1" fill="#340E14" opacity="0.62"/><circle cx="633.8" cy="1118.9" r="2.6" fill="#2A0A10" opacity="0.45"/><circle cx="606.9" cy="1106.3" r="1.0" fill="#26080E" opacity="0.45"/><circle cx="618.3" cy="1111.2" r="1.3" fill="#5E1C26" opacity="0.55"/><circle cx="625.0" cy="1113.5" r="1.2" fill="#2A0A10" opacity="0.71"/><circle cx="606.3" cy="1100.0" r="0.9" fill="#2C080E" opacity="0.80"/><circle cx="618.1" cy="1105.9" r="2.7" fill="#5E1C26" opacity="0.76"/><circle cx="625.4" cy="1119.5" r="2.5" fill="#26080E" opacity="0.79"/><circle cx="609.3" cy="1099.5" r="2.9" fill="#2A0A10" opacity="0.72"/><circle cx="626.0" cy="1110.6" r="2.1" fill="#2A0A10" opacity="0.69"/><circle cx="621.7" cy="1116.1" r="2.3" fill="#8A2630" opacity="0.42"/><circle cx="629.7" cy="1110.9" r="0.9" fill="#481620" opacity="0.42"/><circle cx="627.3" cy="1108.5" r="2.9" fill="#26080E" opacity="0.76"/><circle cx="601.9" cy="1100.3" r="1.2" fill="#6A2430" opacity="0.60"/><circle cx="613.2" cy="1107.6" r="1.6" fill="#2C080E" opacity="0.43"/><circle cx="616.1" cy="1110.2" r="2.3" fill="#8A2630" opacity="0.48"/><circle cx="611.1" cy="1103.4" r="1.8" fill="#93574F" opacity="0.77"/><circle cx="617.3" cy="1111.1" r="2.3" fill="#93574F" opacity="0.63"/><circle cx="632.5" cy="1120.8" r="0.7" fill="#8A2630" opacity="0.69"/><circle cx="614.1" cy="1103.5" r="1.5" fill="#2A0A10" opacity="0.45"/><circle cx="618.6" cy="1111.8" r="2.3" fill="#8C4046" opacity="0.45"/><circle cx="622.4" cy="1116.4" r="1.2" fill="#8A2630" opacity="0.50"/><circle cx="619.3" cy="1104.1" r="2.6" fill="#481620" opacity="0.77"/><circle cx="619.1" cy="1117.1" r="2.8" fill="#3A1218" opacity="0.77"/><circle cx="615.9" cy="1103.5" r="0.9" fill="#3A1218" opacity="0.67"/><circle cx="619.6" cy="1109.5" r="2.8" fill="#26080E" opacity="0.59"/><circle cx="630.8" cy="1118.6" r="1.5" fill="#6A2430" opacity="0.76"/><circle cx="633.7" cy="1123.2" r="1.8" fill="#481620" opacity="0.50"/><circle cx="612.1" cy="1103.5" r="0.6" fill="#C9A8A4" opacity="0.59"/><circle cx="626.0" cy="1112.8" r="0.8" fill="#C9A8A4" opacity="0.56"/><circle cx="620.2" cy="1110.1" r="0.9" fill="#C9A8A4" opacity="0.52"/><circle cx="619.0" cy="1109.9" r="1.0" fill="#C9A8A4" opacity="0.67"/><circle cx="620.7" cy="1115.0" r="0.6" fill="#C9A8A4" opacity="0.59"/></g></g>
<clipPath id="tc18"><circle cx="706.9" cy="1107.5" r="10.0"/><circle cx="711.2" cy="1108.8" r="9.5"/><circle cx="714.7" cy="1111.8" r="9.6"/><circle cx="718.9" cy="1113.1" r="9.9"/><circle cx="707.9" cy="1116.1" r="3.2"/><circle cx="710.6" cy="1102.0" r="4.4"/><circle cx="721.9" cy="1110.4" r="4.4"/><circle cx="703.3" cy="1114.9" r="3.5"/></clipPath>
<ellipse cx="708.9" cy="1112.8" rx="15.8" ry="9.7" fill="#FAF4DC" opacity="0.95" filter="url(#hb3)" transform="rotate(25 708.9 1112.8)"/>
<ellipse cx="715.9" cy="1108.8" rx="14.8" ry="9.1" fill="#D3C9DA" opacity="0.9" filter="url(#hb3)" transform="rotate(25 715.9 1108.8)"/>
<g filter="url(#hb1)"><g clip-path="url(#tc18)"><rect x="695.0" y="1095.6" width="35.8" height="29.4" fill="url(#hg)"/><circle cx="710.5" cy="1108.5" r="2.6" fill="#7E323A" opacity="0.54"/><circle cx="710.5" cy="1114.8" r="1.6" fill="#6A2430" opacity="0.50"/><circle cx="709.7" cy="1113.4" r="1.5" fill="#8A2630" opacity="0.57"/><circle cx="715.0" cy="1114.3" r="1.0" fill="#5E1C26" opacity="0.50"/><circle cx="710.5" cy="1108.4" r="1.8" fill="#7E323A" opacity="0.62"/><circle cx="711.8" cy="1105.2" r="1.5" fill="#8A2630" opacity="0.49"/><circle cx="711.3" cy="1109.6" r="2.9" fill="#6A2430" opacity="0.76"/><circle cx="724.0" cy="1113.2" r="2.1" fill="#2A0A10" opacity="0.52"/><circle cx="703.2" cy="1106.3" r="2.9" fill="#93574F" opacity="0.71"/><circle cx="708.5" cy="1098.9" r="2.7" fill="#340E14" opacity="0.49"/><circle cx="721.9" cy="1116.1" r="2.2" fill="#26080E" opacity="0.73"/><circle cx="721.3" cy="1115.4" r="2.4" fill="#8C4046" opacity="0.73"/><circle cx="715.0" cy="1111.8" r="2.8" fill="#8A2630" opacity="0.55"/><circle cx="727.6" cy="1115.9" r="1.5" fill="#8C4046" opacity="0.65"/><circle cx="710.8" cy="1108.7" r="2.3" fill="#7E323A" opacity="0.79"/><circle cx="715.0" cy="1112.2" r="2.0" fill="#8C4046" opacity="0.79"/><circle cx="720.5" cy="1110.4" r="1.1" fill="#8A2630" opacity="0.60"/><circle cx="710.7" cy="1109.0" r="1.3" fill="#8A2630" opacity="0.71"/><circle cx="720.4" cy="1118.5" r="1.7" fill="#7E323A" opacity="0.55"/><circle cx="701.7" cy="1115.0" r="1.9" fill="#5E1C26" opacity="0.69"/><circle cx="721.1" cy="1114.3" r="0.8" fill="#6A2430" opacity="0.79"/><circle cx="706.1" cy="1098.8" r="1.1" fill="#2A0A10" opacity="0.66"/><circle cx="710.3" cy="1103.4" r="1.9" fill="#8C4046" opacity="0.48"/><circle cx="704.9" cy="1099.4" r="1.2" fill="#8A2630" opacity="0.47"/><circle cx="704.7" cy="1112.3" r="1.7" fill="#8C4046" opacity="0.73"/><circle cx="711.2" cy="1109.7" r="0.8" fill="#8C4046" opacity="0.43"/><circle cx="723.4" cy="1114.7" r="1.3" fill="#26080E" opacity="0.44"/><circle cx="718.4" cy="1109.7" r="2.2" fill="#26080E" opacity="0.42"/><circle cx="720.1" cy="1116.7" r="0.9" fill="#7E323A" opacity="0.65"/><circle cx="716.8" cy="1115.7" r="0.8" fill="#C9A8A4" opacity="0.73"/><circle cx="716.2" cy="1112.2" r="1.0" fill="#C9A8A4" opacity="0.64"/><circle cx="713.9" cy="1115.0" r="0.5" fill="#C9A8A4" opacity="0.54"/></g></g>
<clipPath id="tc19"><circle cx="794.2" cy="1108.7" r="7.0"/><circle cx="798.0" cy="1110.8" r="6.3"/><circle cx="802.4" cy="1111.3" r="7.3"/><circle cx="806.5" cy="1112.8" r="6.9"/><circle cx="810.4" cy="1117.0" r="2.4"/><circle cx="810.2" cy="1115.3" r="3.5"/><circle cx="806.0" cy="1106.8" r="3.2"/><circle cx="795.9" cy="1106.7" r="3.4"/></clipPath>
<ellipse cx="796.4" cy="1113.2" rx="13.2" ry="7.0" fill="#FAF4DC" opacity="0.95" filter="url(#hb3)" transform="rotate(19 796.4 1113.2)"/>
<ellipse cx="803.4" cy="1109.2" rx="12.4" ry="6.7" fill="#D3C9DA" opacity="0.9" filter="url(#hb3)" transform="rotate(19 803.4 1109.2)"/>
<g filter="url(#hb1)"><g clip-path="url(#tc19)"><rect x="785.0" y="1099.5" width="30.7" height="22.5" fill="url(#hg)"/><circle cx="797.6" cy="1107.8" r="0.9" fill="#26080E" opacity="0.79"/><circle cx="803.1" cy="1115.9" r="1.3" fill="#8C4046" opacity="0.57"/><circle cx="798.4" cy="1110.3" r="0.7" fill="#7E323A" opacity="0.73"/><circle cx="800.6" cy="1107.2" r="1.4" fill="#93574F" opacity="0.64"/><circle cx="802.1" cy="1116.2" r="2.1" fill="#93574F" opacity="0.49"/><circle cx="791.4" cy="1106.9" r="2.1" fill="#26080E" opacity="0.55"/><circle cx="808.1" cy="1117.4" r="1.0" fill="#2C080E" opacity="0.51"/><circle cx="804.2" cy="1106.2" r="0.8" fill="#26080E" opacity="0.42"/><circle cx="797.8" cy="1110.6" r="1.8" fill="#481620" opacity="0.55"/><circle cx="806.0" cy="1115.8" r="1.9" fill="#6A2430" opacity="0.61"/><circle cx="807.0" cy="1110.5" r="1.5" fill="#8A2630" opacity="0.58"/><circle cx="789.1" cy="1107.0" r="1.4" fill="#481620" opacity="0.63"/><circle cx="804.1" cy="1111.7" r="1.3" fill="#6A2430" opacity="0.64"/><circle cx="800.1" cy="1110.3" r="0.8" fill="#8C4046" opacity="0.75"/><circle cx="793.7" cy="1109.6" r="1.4" fill="#6A2430" opacity="0.61"/><circle cx="795.2" cy="1114.4" r="0.8" fill="#6A2430" opacity="0.58"/><circle cx="798.4" cy="1110.3" r="1.4" fill="#340E14" opacity="0.66"/><circle cx="795.0" cy="1107.3" r="1.0" fill="#8C4046" opacity="0.46"/><circle cx="795.2" cy="1109.3" r="1.4" fill="#3A1218" opacity="0.69"/><circle cx="807.3" cy="1113.7" r="1.0" fill="#8C4046" opacity="0.46"/><circle cx="803.5" cy="1110.8" r="1.9" fill="#481620" opacity="0.46"/><circle cx="806.6" cy="1109.8" r="0.7" fill="#C9A8A4" opacity="0.70"/><circle cx="801.6" cy="1112.6" r="0.5" fill="#C9A8A4" opacity="0.59"/><circle cx="806.9" cy="1111.0" r="0.6" fill="#C9A8A4" opacity="0.78"/></g></g>
<clipPath id="tc20"><circle cx="885.3" cy="1107.7" r="7.3"/><circle cx="887.9" cy="1109.0" r="8.0"/><circle cx="890.4" cy="1110.5" r="6.7"/><circle cx="893.3" cy="1111.3" r="7.3"/><circle cx="883.0" cy="1103.6" r="3.6"/><circle cx="881.0" cy="1111.5" r="3.1"/><circle cx="889.4" cy="1102.9" r="2.9"/><circle cx="889.7" cy="1107.2" r="3.9"/></clipPath>
<ellipse cx="885.3" cy="1112.0" rx="11.5" ry="7.6" fill="#FAF4DC" opacity="0.95" filter="url(#hb3)" transform="rotate(24 885.3 1112.0)"/>
<ellipse cx="892.3" cy="1108.0" rx="10.7" ry="7.2" fill="#D3C9DA" opacity="0.9" filter="url(#hb3)" transform="rotate(24 892.3 1108.0)"/>
<g filter="url(#hb1)"><g clip-path="url(#tc20)"><rect x="875.6" y="1098.0" width="27.4" height="23.0" fill="url(#hg)"/><circle cx="897.9" cy="1110.2" r="2.1" fill="#340E14" opacity="0.57"/><circle cx="891.3" cy="1112.1" r="1.0" fill="#5E1C26" opacity="0.48"/><circle cx="886.0" cy="1107.0" r="2.1" fill="#8C4046" opacity="0.59"/><circle cx="888.3" cy="1108.5" r="2.4" fill="#8C4046" opacity="0.56"/><circle cx="891.6" cy="1115.6" r="1.3" fill="#26080E" opacity="0.42"/><circle cx="886.4" cy="1113.9" r="1.2" fill="#5E1C26" opacity="0.53"/><circle cx="886.0" cy="1113.5" r="1.1" fill="#8A2630" opacity="0.71"/><circle cx="887.9" cy="1111.6" r="2.3" fill="#6A2430" opacity="0.54"/><circle cx="888.5" cy="1108.9" r="0.8" fill="#3A1218" opacity="0.41"/><circle cx="890.3" cy="1110.4" r="1.0" fill="#2A0A10" opacity="0.45"/><circle cx="895.2" cy="1111.6" r="1.0" fill="#8C4046" opacity="0.63"/><circle cx="883.5" cy="1104.9" r="2.2" fill="#5E1C26" opacity="0.69"/><circle cx="888.2" cy="1108.8" r="2.3" fill="#8C4046" opacity="0.71"/><circle cx="881.6" cy="1106.3" r="1.0" fill="#26080E" opacity="0.55"/><circle cx="894.1" cy="1111.8" r="1.3" fill="#7E323A" opacity="0.73"/><circle cx="885.1" cy="1108.2" r="2.4" fill="#5E1C26" opacity="0.73"/><circle cx="893.3" cy="1110.7" r="2.3" fill="#93574F" opacity="0.74"/><circle cx="892.5" cy="1113.5" r="1.4" fill="#340E14" opacity="0.45"/><circle cx="884.1" cy="1114.2" r="1.4" fill="#5E1C26" opacity="0.66"/><circle cx="891.0" cy="1107.5" r="2.3" fill="#340E14" opacity="0.49"/><circle cx="888.2" cy="1114.4" r="0.6" fill="#C9A8A4" opacity="0.67"/><circle cx="890.2" cy="1114.8" r="0.8" fill="#C9A8A4" opacity="0.76"/><circle cx="889.1" cy="1110.9" r="0.7" fill="#C9A8A4" opacity="0.61"/></g></g>
<clipPath id="tc21"><circle cx="282.1" cy="1181.2" r="14.0"/><circle cx="287.1" cy="1184.4" r="13.0"/><circle cx="292.4" cy="1187.3" r="14.7"/><circle cx="296.8" cy="1191.4" r="13.5"/><circle cx="292.6" cy="1185.1" r="5.6"/><circle cx="302.3" cy="1182.2" r="5.5"/><circle cx="287.7" cy="1195.8" r="6.7"/><circle cx="295.6" cy="1198.6" r="5.8"/></clipPath>
<ellipse cx="285.4" cy="1188.8" rx="22.1" ry="13.9" fill="#FAF4DC" opacity="0.95" filter="url(#hb3)" transform="rotate(35 285.4 1188.8)"/>
<ellipse cx="292.4" cy="1184.8" rx="20.6" ry="13.2" fill="#D3C9DA" opacity="0.9" filter="url(#hb3)" transform="rotate(35 292.4 1184.8)"/>
<g filter="url(#hb1)"><g clip-path="url(#tc21)"><rect x="265.9" y="1165.0" width="47.1" height="42.6" fill="url(#hg)"/><circle cx="288.1" cy="1185.3" r="2.8" fill="#7E323A" opacity="0.67"/><circle cx="308.7" cy="1193.7" r="2.5" fill="#7E323A" opacity="0.47"/><circle cx="298.3" cy="1197.3" r="3.5" fill="#3A1218" opacity="0.75"/><circle cx="296.4" cy="1183.7" r="3.3" fill="#93574F" opacity="0.76"/><circle cx="277.5" cy="1182.5" r="1.4" fill="#6A2430" opacity="0.41"/><circle cx="290.2" cy="1177.5" r="1.9" fill="#8C4046" opacity="0.70"/><circle cx="293.1" cy="1185.8" r="3.7" fill="#8A2630" opacity="0.51"/><circle cx="290.0" cy="1195.0" r="1.6" fill="#340E14" opacity="0.52"/><circle cx="286.4" cy="1183.7" r="0.9" fill="#93574F" opacity="0.69"/><circle cx="296.8" cy="1191.6" r="1.0" fill="#8C4046" opacity="0.75"/><circle cx="280.4" cy="1182.9" r="3.1" fill="#481620" opacity="0.53"/><circle cx="298.2" cy="1184.4" r="3.9" fill="#481620" opacity="0.59"/><circle cx="294.0" cy="1192.5" r="2.6" fill="#2A0A10" opacity="0.63"/><circle cx="283.1" cy="1184.3" r="1.4" fill="#8A2630" opacity="0.75"/><circle cx="273.3" cy="1180.4" r="3.5" fill="#481620" opacity="0.41"/><circle cx="295.4" cy="1175.7" r="0.9" fill="#26080E" opacity="0.40"/><circle cx="296.6" cy="1188.7" r="3.5" fill="#2C080E" opacity="0.54"/><circle cx="282.0" cy="1181.7" r="3.8" fill="#3A1218" opacity="0.71"/><circle cx="288.4" cy="1183.9" r="1.2" fill="#93574F" opacity="0.63"/><circle cx="295.5" cy="1190.0" r="2.1" fill="#93574F" opacity="0.42"/><circle cx="281.5" cy="1182.2" r="2.9" fill="#3A1218" opacity="0.61"/><circle cx="290.7" cy="1182.6" r="2.8" fill="#8A2630" opacity="0.68"/><circle cx="288.0" cy="1181.5" r="3.3" fill="#8A2630" opacity="0.68"/><circle cx="296.7" cy="1198.6" r="3.4" fill="#7E323A" opacity="0.46"/><circle cx="288.9" cy="1185.5" r="1.3" fill="#6A2430" opacity="0.53"/><circle cx="298.3" cy="1197.0" r="0.8" fill="#481620" opacity="0.66"/><circle cx="280.5" cy="1179.3" r="0.8" fill="#8C4046" opacity="0.66"/><circle cx="288.1" cy="1184.9" r="2.1" fill="#3A1218" opacity="0.45"/><circle cx="296.6" cy="1186.6" r="3.9" fill="#481620" opacity="0.58"/><circle cx="301.9" cy="1192.0" r="3.8" fill="#6A2430" opacity="0.44"/><circle cx="297.5" cy="1191.3" r="3.8" fill="#8C4046" opacity="0.62"/><circle cx="296.8" cy="1184.0" r="0.7" fill="#481620" opacity="0.65"/><circle cx="298.8" cy="1187.6" r="3.2" fill="#7E323A" opacity="0.52"/><circle cx="303.2" cy="1189.9" r="1.8" fill="#481620" opacity="0.73"/><circle cx="300.1" cy="1186.4" r="2.0" fill="#2C080E" opacity="0.49"/><circle cx="285.1" cy="1177.8" r="0.8" fill="#7E323A" opacity="0.75"/><circle cx="288.2" cy="1190.5" r="1.6" fill="#8C4046" opacity="0.41"/><circle cx="297.5" cy="1190.8" r="3.5" fill="#2C080E" opacity="0.44"/><circle cx="287.0" cy="1190.8" r="1.2" fill="#6A2430" opacity="0.47"/><circle cx="272.9" cy="1188.9" r="0.9" fill="#340E14" opacity="0.62"/><circle cx="286.9" cy="1175.8" r="3.4" fill="#6A2430" opacity="0.63"/><circle cx="282.9" cy="1183.6" r="2.8" fill="#8A2630" opacity="0.63"/><circle cx="298.1" cy="1198.8" r="3.1" fill="#7E323A" opacity="0.57"/><circle cx="296.1" cy="1182.9" r="1.6" fill="#7E323A" opacity="0.65"/><circle cx="292.4" cy="1187.3" r="0.7" fill="#6A2430" opacity="0.46"/><circle cx="279.3" cy="1172.2" r="1.2" fill="#8C4046" opacity="0.70"/><circle cx="277.9" cy="1174.2" r="2.1" fill="#3A1218" opacity="0.44"/><circle cx="302.9" cy="1179.5" r="2.9" fill="#481620" opacity="0.59"/><circle cx="296.5" cy="1193.6" r="3.3" fill="#5E1C26" opacity="0.78"/><circle cx="287.0" cy="1189.7" r="1.1" fill="#481620" opacity="0.41"/><circle cx="291.2" cy="1191.5" r="0.6" fill="#C9A8A4" opacity="0.77"/><circle cx="281.4" cy="1172.3" r="0.9" fill="#C9A8A4" opacity="0.60"/><circle cx="293.7" cy="1183.3" r="0.7" fill="#C9A8A4" opacity="0.72"/><circle cx="283.8" cy="1180.3" r="0.8" fill="#C9A8A4" opacity="0.51"/><circle cx="293.8" cy="1192.3" r="0.7" fill="#C9A8A4" opacity="0.72"/></g></g>
<clipPath id="tc22"><circle cx="382.3" cy="1179.7" r="11.4"/><circle cx="389.4" cy="1182.4" r="11.0"/><circle cx="396.1" cy="1185.8" r="10.4"/><circle cx="402.0" cy="1190.7" r="11.5"/><circle cx="409.3" cy="1193.0" r="11.9"/><circle cx="400.1" cy="1181.2" r="3.7"/><circle cx="411.5" cy="1188.8" r="3.6"/><circle cx="390.3" cy="1182.5" r="5.9"/><circle cx="389.7" cy="1184.3" r="5.6"/></clipPath>
<ellipse cx="391.8" cy="1188.8" rx="25.9" ry="11.5" fill="#FAF4DC" opacity="0.95" filter="url(#hb3)" transform="rotate(26 391.8 1188.8)"/>
<ellipse cx="398.8" cy="1184.8" rx="24.7" ry="10.9" fill="#D3C9DA" opacity="0.9" filter="url(#hb3)" transform="rotate(26 398.8 1184.8)"/>
<g filter="url(#hb1)"><g clip-path="url(#tc22)"><rect x="368.6" y="1166.0" width="54.4" height="40.7" fill="url(#hg)"/><circle cx="376.8" cy="1179.5" r="1.4" fill="#481620" opacity="0.54"/><circle cx="383.9" cy="1177.8" r="2.2" fill="#340E14" opacity="0.54"/><circle cx="377.8" cy="1182.0" r="1.4" fill="#26080E" opacity="0.43"/><circle cx="397.5" cy="1187.0" r="0.7" fill="#7E323A" opacity="0.48"/><circle cx="392.5" cy="1184.5" r="1.7" fill="#7E323A" opacity="0.42"/><circle cx="381.1" cy="1187.3" r="0.8" fill="#2C080E" opacity="0.73"/><circle cx="411.3" cy="1200.8" r="0.7" fill="#3A1218" opacity="0.49"/><circle cx="410.1" cy="1194.2" r="3.4" fill="#2C080E" opacity="0.50"/><circle cx="401.4" cy="1186.5" r="1.8" fill="#2A0A10" opacity="0.48"/><circle cx="381.9" cy="1179.9" r="2.0" fill="#3A1218" opacity="0.59"/><circle cx="385.5" cy="1174.4" r="2.9" fill="#7E323A" opacity="0.63"/><circle cx="409.8" cy="1193.2" r="0.9" fill="#5E1C26" opacity="0.50"/><circle cx="385.6" cy="1178.8" r="2.8" fill="#26080E" opacity="0.72"/><circle cx="396.0" cy="1186.0" r="0.7" fill="#340E14" opacity="0.46"/><circle cx="392.1" cy="1187.4" r="1.2" fill="#2C080E" opacity="0.45"/><circle cx="388.0" cy="1174.5" r="1.8" fill="#5E1C26" opacity="0.61"/><circle cx="381.2" cy="1179.9" r="2.7" fill="#8A2630" opacity="0.48"/><circle cx="414.6" cy="1194.5" r="1.0" fill="#6A2430" opacity="0.42"/><circle cx="411.4" cy="1201.7" r="2.7" fill="#5E1C26" opacity="0.62"/><circle cx="372.2" cy="1181.0" r="2.1" fill="#8C4046" opacity="0.45"/><circle cx="397.0" cy="1192.1" r="1.7" fill="#26080E" opacity="0.57"/><circle cx="404.9" cy="1193.9" r="1.7" fill="#7E323A" opacity="0.75"/><circle cx="407.6" cy="1197.5" r="1.5" fill="#2C080E" opacity="0.78"/><circle cx="418.5" cy="1195.1" r="2.7" fill="#481620" opacity="0.77"/><circle cx="391.9" cy="1182.1" r="1.5" fill="#2C080E" opacity="0.65"/><circle cx="402.0" cy="1180.1" r="1.8" fill="#3A1218" opacity="0.49"/><circle cx="398.2" cy="1191.6" r="0.7" fill="#5E1C26" opacity="0.69"/><circle cx="391.1" cy="1185.0" r="2.9" fill="#3A1218" opacity="0.63"/><circle cx="399.7" cy="1181.1" r="0.9" fill="#340E14" opacity="0.72"/><circle cx="401.5" cy="1195.1" r="0.8" fill="#93574F" opacity="0.57"/><circle cx="409.1" cy="1188.9" r="3.1" fill="#6A2430" opacity="0.57"/><circle cx="397.4" cy="1191.9" r="2.5" fill="#7E323A" opacity="0.40"/><circle cx="373.8" cy="1174.8" r="2.0" fill="#2A0A10" opacity="0.70"/><circle cx="400.1" cy="1182.5" r="1.4" fill="#481620" opacity="0.56"/><circle cx="412.9" cy="1196.3" r="3.1" fill="#26080E" opacity="0.53"/><circle cx="375.9" cy="1171.3" r="2.8" fill="#2C080E" opacity="0.73"/><circle cx="396.4" cy="1185.4" r="1.2" fill="#5E1C26" opacity="0.49"/><circle cx="385.0" cy="1180.3" r="1.5" fill="#8A2630" opacity="0.68"/><circle cx="388.4" cy="1173.6" r="1.3" fill="#3A1218" opacity="0.64"/><circle cx="402.9" cy="1200.1" r="0.8" fill="#26080E" opacity="0.56"/><circle cx="394.1" cy="1177.4" r="0.9" fill="#2C080E" opacity="0.42"/><circle cx="401.1" cy="1183.7" r="2.6" fill="#3A1218" opacity="0.70"/><circle cx="381.1" cy="1185.6" r="2.8" fill="#5E1C26" opacity="0.41"/><circle cx="390.2" cy="1187.3" r="1.9" fill="#8A2630" opacity="0.52"/><circle cx="407.9" cy="1197.4" r="0.7" fill="#6A2430" opacity="0.56"/><circle cx="402.0" cy="1190.5" r="3.0" fill="#2C080E" opacity="0.80"/><circle cx="390.6" cy="1183.6" r="1.0" fill="#93574F" opacity="0.50"/><circle cx="397.1" cy="1186.6" r="3.1" fill="#5E1C26" opacity="0.69"/><circle cx="394.0" cy="1196.4" r="3.2" fill="#5E1C26" opacity="0.72"/><circle cx="386.6" cy="1182.8" r="3.2" fill="#6A2430" opacity="0.60"/><circle cx="404.7" cy="1188.1" r="1.1" fill="#C9A8A4" opacity="0.65"/><circle cx="382.8" cy="1180.4" r="0.8" fill="#C9A8A4" opacity="0.77"/><circle cx="410.1" cy="1194.0" r="0.9" fill="#C9A8A4" opacity="0.68"/><circle cx="401.4" cy="1190.8" r="0.8" fill="#C9A8A4" opacity="0.63"/><circle cx="392.1" cy="1187.7" r="0.7" fill="#C9A8A4" opacity="0.75"/></g></g>
<clipPath id="tc23"><circle cx="497.8" cy="1181.8" r="11.1"/><circle cx="503.6" cy="1185.7" r="9.4"/><circle cx="508.4" cy="1191.0" r="10.6"/><circle cx="514.9" cy="1193.9" r="10.2"/><circle cx="514.5" cy="1197.2" r="3.7"/><circle cx="516.9" cy="1189.5" r="3.9"/><circle cx="491.1" cy="1183.9" r="4.1"/><circle cx="507.6" cy="1179.3" r="3.9"/></clipPath>
<ellipse cx="502.4" cy="1190.3" rx="20.5" ry="10.6" fill="#FAF4DC" opacity="0.95" filter="url(#hb3)" transform="rotate(35 502.4 1190.3)"/>
<ellipse cx="509.4" cy="1186.3" rx="19.4" ry="10.0" fill="#D3C9DA" opacity="0.9" filter="url(#hb3)" transform="rotate(35 509.4 1186.3)"/>
<g filter="url(#hb1)"><g clip-path="url(#tc23)"><rect x="485.0" y="1169.0" width="42.7" height="37.7" fill="url(#hg)"/><circle cx="501.6" cy="1188.5" r="1.9" fill="#2A0A10" opacity="0.63"/><circle cx="498.7" cy="1189.2" r="0.9" fill="#481620" opacity="0.75"/><circle cx="493.7" cy="1187.1" r="2.0" fill="#481620" opacity="0.71"/><circle cx="511.4" cy="1186.1" r="0.9" fill="#340E14" opacity="0.75"/><circle cx="502.5" cy="1172.7" r="2.2" fill="#7E323A" opacity="0.63"/><circle cx="506.0" cy="1196.6" r="2.0" fill="#481620" opacity="0.57"/><circle cx="504.7" cy="1176.0" r="2.9" fill="#7E323A" opacity="0.46"/><circle cx="512.9" cy="1194.7" r="2.9" fill="#26080E" opacity="0.68"/><circle cx="507.3" cy="1179.2" r="2.3" fill="#5E1C26" opacity="0.63"/><circle cx="499.8" cy="1180.2" r="1.1" fill="#93574F" opacity="0.52"/><circle cx="515.0" cy="1193.6" r="1.5" fill="#8C4046" opacity="0.64"/><circle cx="519.0" cy="1199.7" r="2.9" fill="#8C4046" opacity="0.65"/><circle cx="513.4" cy="1183.4" r="2.7" fill="#7E323A" opacity="0.74"/><circle cx="510.9" cy="1182.0" r="0.7" fill="#93574F" opacity="0.62"/><circle cx="492.1" cy="1186.7" r="2.8" fill="#7E323A" opacity="0.79"/><circle cx="521.4" cy="1198.7" r="1.0" fill="#2A0A10" opacity="0.69"/><circle cx="502.6" cy="1182.9" r="1.1" fill="#2C080E" opacity="0.80"/><circle cx="489.8" cy="1187.7" r="1.1" fill="#3A1218" opacity="0.61"/><circle cx="498.0" cy="1181.4" r="2.5" fill="#481620" opacity="0.66"/><circle cx="514.6" cy="1191.4" r="1.8" fill="#2C080E" opacity="0.42"/><circle cx="510.8" cy="1195.1" r="1.4" fill="#2C080E" opacity="0.70"/><circle cx="517.6" cy="1198.2" r="1.5" fill="#2C080E" opacity="0.63"/><circle cx="497.3" cy="1181.0" r="2.2" fill="#93574F" opacity="0.42"/><circle cx="510.0" cy="1193.6" r="2.2" fill="#6A2430" opacity="0.68"/><circle cx="495.5" cy="1185.5" r="2.5" fill="#7E323A" opacity="0.51"/><circle cx="520.3" cy="1190.6" r="2.4" fill="#93574F" opacity="0.56"/><circle cx="508.2" cy="1196.4" r="1.2" fill="#8C4046" opacity="0.55"/><circle cx="502.8" cy="1185.3" r="2.1" fill="#5E1C26" opacity="0.47"/><circle cx="502.5" cy="1185.4" r="2.4" fill="#5E1C26" opacity="0.50"/><circle cx="521.8" cy="1190.2" r="2.8" fill="#481620" opacity="0.52"/><circle cx="496.0" cy="1184.3" r="2.9" fill="#6A2430" opacity="0.57"/><circle cx="521.0" cy="1193.3" r="1.2" fill="#3A1218" opacity="0.58"/><circle cx="496.4" cy="1188.3" r="1.6" fill="#7E323A" opacity="0.75"/><circle cx="507.3" cy="1182.3" r="1.0" fill="#2A0A10" opacity="0.71"/><circle cx="495.8" cy="1188.6" r="2.8" fill="#2C080E" opacity="0.60"/><circle cx="514.4" cy="1184.5" r="1.0" fill="#2A0A10" opacity="0.60"/><circle cx="497.9" cy="1183.5" r="2.6" fill="#8A2630" opacity="0.70"/><circle cx="512.7" cy="1192.3" r="1.2" fill="#481620" opacity="0.79"/><circle cx="515.4" cy="1198.6" r="0.7" fill="#C9A8A4" opacity="0.66"/><circle cx="500.6" cy="1189.4" r="0.6" fill="#C9A8A4" opacity="0.72"/><circle cx="504.1" cy="1186.7" r="0.6" fill="#C9A8A4" opacity="0.74"/><circle cx="512.8" cy="1190.3" r="1.0" fill="#C9A8A4" opacity="0.76"/></g></g>
<clipPath id="tc24"><circle cx="612.2" cy="1186.5" r="9.5"/><circle cx="618.4" cy="1189.1" r="10.2"/><circle cx="624.5" cy="1191.7" r="9.7"/><circle cx="630.3" cy="1195.0" r="9.9"/><circle cx="626.4" cy="1198.8" r="4.7"/><circle cx="618.9" cy="1197.4" r="3.6"/><circle cx="634.1" cy="1200.1" r="4.6"/><circle cx="630.6" cy="1197.1" r="3.0"/></clipPath>
<ellipse cx="617.2" cy="1193.2" rx="19.0" ry="9.5" fill="#FAF4DC" opacity="0.95" filter="url(#hb3)" transform="rotate(25 617.2 1193.2)"/>
<ellipse cx="624.2" cy="1189.2" rx="18.0" ry="9.0" fill="#D3C9DA" opacity="0.9" filter="url(#hb3)" transform="rotate(25 624.2 1189.2)"/>
<g filter="url(#hb1)"><g clip-path="url(#tc24)"><rect x="600.5" y="1174.8" width="41.5" height="31.9" fill="url(#hg)"/><circle cx="605.8" cy="1184.6" r="1.4" fill="#3A1218" opacity="0.59"/><circle cx="628.0" cy="1202.5" r="0.9" fill="#8A2630" opacity="0.76"/><circle cx="623.1" cy="1192.2" r="2.8" fill="#8A2630" opacity="0.67"/><circle cx="629.7" cy="1196.1" r="1.9" fill="#3A1218" opacity="0.66"/><circle cx="630.1" cy="1195.4" r="1.0" fill="#26080E" opacity="0.64"/><circle cx="624.6" cy="1191.7" r="2.8" fill="#481620" opacity="0.71"/><circle cx="629.6" cy="1193.9" r="2.8" fill="#6A2430" opacity="0.75"/><circle cx="628.2" cy="1187.8" r="0.9" fill="#26080E" opacity="0.80"/><circle cx="631.5" cy="1196.5" r="2.5" fill="#6A2430" opacity="0.40"/><circle cx="633.1" cy="1194.4" r="1.8" fill="#5E1C26" opacity="0.50"/><circle cx="625.2" cy="1184.6" r="2.5" fill="#7E323A" opacity="0.63"/><circle cx="626.2" cy="1190.7" r="1.7" fill="#8C4046" opacity="0.76"/><circle cx="618.4" cy="1188.9" r="2.8" fill="#26080E" opacity="0.42"/><circle cx="629.6" cy="1191.7" r="2.2" fill="#2A0A10" opacity="0.50"/><circle cx="616.0" cy="1187.3" r="2.8" fill="#340E14" opacity="0.46"/><circle cx="619.0" cy="1182.1" r="1.2" fill="#93574F" opacity="0.67"/><circle cx="632.7" cy="1204.0" r="2.6" fill="#481620" opacity="0.43"/><circle cx="616.8" cy="1189.8" r="2.0" fill="#6A2430" opacity="0.63"/><circle cx="634.9" cy="1188.8" r="1.0" fill="#8A2630" opacity="0.58"/><circle cx="613.0" cy="1187.3" r="2.4" fill="#481620" opacity="0.78"/><circle cx="613.0" cy="1189.2" r="1.3" fill="#340E14" opacity="0.44"/><circle cx="609.1" cy="1183.7" r="1.6" fill="#8A2630" opacity="0.64"/><circle cx="630.5" cy="1196.9" r="2.9" fill="#7E323A" opacity="0.49"/><circle cx="614.4" cy="1188.8" r="2.8" fill="#26080E" opacity="0.43"/><circle cx="629.5" cy="1203.1" r="2.6" fill="#8C4046" opacity="0.50"/><circle cx="619.8" cy="1192.1" r="1.6" fill="#26080E" opacity="0.69"/><circle cx="616.8" cy="1191.7" r="1.7" fill="#7E323A" opacity="0.46"/><circle cx="613.5" cy="1185.6" r="1.3" fill="#6A2430" opacity="0.65"/><circle cx="622.9" cy="1194.4" r="2.7" fill="#2C080E" opacity="0.48"/><circle cx="623.0" cy="1188.8" r="2.1" fill="#6A2430" opacity="0.61"/><circle cx="621.0" cy="1189.8" r="1.2" fill="#7E323A" opacity="0.67"/><circle cx="624.1" cy="1184.4" r="1.3" fill="#2A0A10" opacity="0.73"/><circle cx="628.2" cy="1194.3" r="2.1" fill="#6A2430" opacity="0.71"/><circle cx="610.6" cy="1189.4" r="0.5" fill="#C9A8A4" opacity="0.75"/><circle cx="626.6" cy="1193.7" r="0.8" fill="#C9A8A4" opacity="0.65"/><circle cx="619.3" cy="1190.1" r="0.8" fill="#C9A8A4" opacity="0.76"/><circle cx="613.3" cy="1182.9" r="0.9" fill="#C9A8A4" opacity="0.70"/></g></g>
<clipPath id="tc25"><circle cx="704.7" cy="1180.7" r="8.9"/><circle cx="708.3" cy="1184.5" r="7.9"/><circle cx="713.5" cy="1186.0" r="9.2"/><circle cx="716.8" cy="1190.3" r="7.8"/><circle cx="722.2" cy="1191.4" r="8.4"/><circle cx="725.8" cy="1195.3" r="8.1"/><circle cx="721.0" cy="1199.0" r="4.0"/><circle cx="720.5" cy="1199.4" r="2.8"/><circle cx="718.4" cy="1184.4" r="3.2"/><circle cx="719.1" cy="1195.5" r="4.2"/></clipPath>
<ellipse cx="711.2" cy="1190.5" rx="20.9" ry="8.5" fill="#FAF4DC" opacity="0.95" filter="url(#hb3)" transform="rotate(35 711.2 1190.5)"/>
<ellipse cx="718.2" cy="1186.5" rx="20.0" ry="8.1" fill="#D3C9DA" opacity="0.9" filter="url(#hb3)" transform="rotate(35 718.2 1186.5)"/>
<g filter="url(#hb1)"><g clip-path="url(#tc25)"><rect x="694.0" y="1170.0" width="42.5" height="36.0" fill="url(#hg)"/><circle cx="717.9" cy="1189.5" r="2.5" fill="#26080E" opacity="0.62"/><circle cx="707.2" cy="1183.6" r="2.2" fill="#2C080E" opacity="0.61"/><circle cx="727.3" cy="1185.8" r="2.3" fill="#7E323A" opacity="0.79"/><circle cx="701.9" cy="1187.1" r="1.6" fill="#3A1218" opacity="0.53"/><circle cx="719.1" cy="1189.4" r="0.9" fill="#340E14" opacity="0.73"/><circle cx="708.6" cy="1177.6" r="1.9" fill="#5E1C26" opacity="0.54"/><circle cx="705.2" cy="1180.2" r="1.1" fill="#2C080E" opacity="0.70"/><circle cx="713.0" cy="1179.8" r="2.1" fill="#8C4046" opacity="0.69"/><circle cx="705.4" cy="1187.8" r="2.1" fill="#93574F" opacity="0.54"/><circle cx="709.6" cy="1191.9" r="2.6" fill="#6A2430" opacity="0.62"/><circle cx="717.1" cy="1189.1" r="2.4" fill="#3A1218" opacity="0.52"/><circle cx="708.7" cy="1176.8" r="2.5" fill="#3A1218" opacity="0.63"/><circle cx="731.2" cy="1200.4" r="1.2" fill="#93574F" opacity="0.56"/><circle cx="714.3" cy="1180.6" r="2.0" fill="#2A0A10" opacity="0.53"/><circle cx="709.4" cy="1177.9" r="2.6" fill="#8C4046" opacity="0.51"/><circle cx="711.7" cy="1185.7" r="1.9" fill="#2A0A10" opacity="0.69"/><circle cx="710.4" cy="1187.2" r="1.5" fill="#2C080E" opacity="0.52"/><circle cx="728.2" cy="1200.1" r="2.4" fill="#8C4046" opacity="0.57"/><circle cx="722.8" cy="1188.9" r="1.9" fill="#481620" opacity="0.46"/><circle cx="724.0" cy="1189.3" r="1.1" fill="#340E14" opacity="0.42"/><circle cx="704.1" cy="1179.9" r="1.5" fill="#93574F" opacity="0.59"/><circle cx="713.2" cy="1183.6" r="1.4" fill="#2C080E" opacity="0.50"/><circle cx="708.3" cy="1185.0" r="2.6" fill="#7E323A" opacity="0.57"/><circle cx="727.5" cy="1198.2" r="2.4" fill="#8A2630" opacity="0.49"/><circle cx="712.2" cy="1184.4" r="1.2" fill="#93574F" opacity="0.59"/><circle cx="709.3" cy="1186.2" r="1.6" fill="#8C4046" opacity="0.49"/><circle cx="708.3" cy="1184.5" r="2.5" fill="#2A0A10" opacity="0.72"/><circle cx="720.0" cy="1191.8" r="1.5" fill="#6A2430" opacity="0.64"/><circle cx="711.5" cy="1191.2" r="0.9" fill="#26080E" opacity="0.46"/><circle cx="715.6" cy="1191.6" r="1.7" fill="#8C4046" opacity="0.68"/><circle cx="707.5" cy="1184.2" r="1.9" fill="#8A2630" opacity="0.44"/><circle cx="704.1" cy="1189.7" r="1.4" fill="#2A0A10" opacity="0.56"/><circle cx="705.9" cy="1183.6" r="2.1" fill="#8A2630" opacity="0.77"/><circle cx="705.3" cy="1176.4" r="0.6" fill="#C9A8A4" opacity="0.60"/><circle cx="704.7" cy="1180.5" r="0.8" fill="#C9A8A4" opacity="0.56"/><circle cx="729.1" cy="1199.1" r="0.9" fill="#C9A8A4" opacity="0.68"/><circle cx="725.4" cy="1198.2" r="0.8" fill="#C9A8A4" opacity="0.77"/></g></g>
<clipPath id="tc26"><circle cx="779.7" cy="1187.4" r="6.6"/><circle cx="783.7" cy="1189.5" r="6.7"/><circle cx="788.3" cy="1189.3" r="6.8"/><circle cx="792.5" cy="1190.4" r="6.8"/><circle cx="796.4" cy="1192.7" r="6.0"/><circle cx="800.8" cy="1193.3" r="6.4"/><circle cx="793.3" cy="1196.0" r="3.0"/><circle cx="797.3" cy="1193.3" r="2.3"/><circle cx="779.3" cy="1186.1" r="2.2"/><circle cx="788.1" cy="1187.1" r="2.4"/></clipPath>
<ellipse cx="786.2" cy="1192.8" rx="17.2" ry="6.6" fill="#FAF4DC" opacity="0.95" filter="url(#hb3)" transform="rotate(15 786.2 1192.8)"/>
<ellipse cx="793.2" cy="1188.8" rx="16.5" ry="6.3" fill="#D3C9DA" opacity="0.9" filter="url(#hb3)" transform="rotate(15 793.2 1188.8)"/>
<g filter="url(#hb1)"><g clip-path="url(#tc26)"><rect x="771.0" y="1178.7" width="38.5" height="23.3" fill="url(#hg)"/><circle cx="800.6" cy="1192.0" r="1.6" fill="#5E1C26" opacity="0.42"/><circle cx="783.4" cy="1192.8" r="1.4" fill="#5E1C26" opacity="0.72"/><circle cx="777.2" cy="1191.8" r="1.2" fill="#8A2630" opacity="0.52"/><circle cx="778.4" cy="1188.0" r="1.3" fill="#7E323A" opacity="0.41"/><circle cx="790.2" cy="1184.8" r="1.7" fill="#481620" opacity="0.71"/><circle cx="776.9" cy="1182.8" r="2.1" fill="#26080E" opacity="0.53"/><circle cx="781.4" cy="1195.2" r="1.1" fill="#93574F" opacity="0.60"/><circle cx="790.5" cy="1189.6" r="2.1" fill="#6A2430" opacity="0.45"/><circle cx="796.5" cy="1189.0" r="2.1" fill="#481620" opacity="0.64"/><circle cx="784.3" cy="1184.4" r="2.2" fill="#481620" opacity="0.44"/><circle cx="796.5" cy="1192.3" r="0.8" fill="#93574F" opacity="0.54"/><circle cx="793.4" cy="1190.3" r="1.8" fill="#8A2630" opacity="0.79"/><circle cx="800.3" cy="1195.9" r="1.2" fill="#3A1218" opacity="0.43"/><circle cx="779.5" cy="1187.0" r="1.0" fill="#6A2430" opacity="0.74"/><circle cx="795.5" cy="1193.5" r="1.2" fill="#2A0A10" opacity="0.59"/><circle cx="803.2" cy="1194.7" r="1.0" fill="#2C080E" opacity="0.80"/><circle cx="791.7" cy="1189.0" r="2.1" fill="#8A2630" opacity="0.40"/><circle cx="796.8" cy="1192.6" r="2.0" fill="#6A2430" opacity="0.65"/><circle cx="787.7" cy="1189.9" r="1.0" fill="#6A2430" opacity="0.67"/><circle cx="775.3" cy="1190.6" r="1.4" fill="#26080E" opacity="0.47"/><circle cx="796.0" cy="1192.5" r="1.5" fill="#8C4046" opacity="0.46"/><circle cx="797.0" cy="1193.0" r="0.9" fill="#8C4046" opacity="0.49"/><circle cx="792.7" cy="1190.0" r="1.1" fill="#6A2430" opacity="0.60"/><circle cx="800.9" cy="1191.8" r="0.9" fill="#26080E" opacity="0.50"/><circle cx="779.1" cy="1183.9" r="0.8" fill="#C9A8A4" opacity="0.57"/><circle cx="780.4" cy="1188.6" r="0.7" fill="#C9A8A4" opacity="0.79"/><circle cx="792.7" cy="1189.6" r="0.5" fill="#C9A8A4" opacity="0.56"/></g></g>
<clipPath id="tc27"><circle cx="885.4" cy="1188.5" r="6.6"/><circle cx="888.3" cy="1189.9" r="6.4"/><circle cx="891.1" cy="1191.3" r="7.1"/><circle cx="894.1" cy="1192.5" r="6.4"/><circle cx="881.7" cy="1192.4" r="2.4"/><circle cx="889.0" cy="1196.9" r="2.3"/><circle cx="881.6" cy="1189.6" r="3.1"/><circle cx="889.6" cy="1191.2" r="3.5"/></clipPath>
<ellipse cx="885.8" cy="1193.0" rx="11.2" ry="6.8" fill="#FAF4DC" opacity="0.95" filter="url(#hb3)" transform="rotate(25 885.8 1193.0)"/>
<ellipse cx="892.8" cy="1189.0" rx="10.5" ry="6.4" fill="#D3C9DA" opacity="0.9" filter="url(#hb3)" transform="rotate(25 892.8 1189.0)"/>
<g filter="url(#hb1)"><g clip-path="url(#tc27)"><rect x="876.5" y="1179.6" width="26.5" height="21.8" fill="url(#hg)"/><circle cx="894.6" cy="1188.3" r="1.6" fill="#340E14" opacity="0.48"/><circle cx="898.1" cy="1188.6" r="1.9" fill="#2C080E" opacity="0.42"/><circle cx="892.9" cy="1195.1" r="1.2" fill="#8C4046" opacity="0.60"/><circle cx="886.8" cy="1185.9" r="0.9" fill="#8A2630" opacity="0.61"/><circle cx="888.1" cy="1190.4" r="1.2" fill="#3A1218" opacity="0.72"/><circle cx="883.1" cy="1183.5" r="1.6" fill="#2C080E" opacity="0.73"/><circle cx="890.2" cy="1187.9" r="0.9" fill="#2A0A10" opacity="0.63"/><circle cx="891.9" cy="1197.3" r="1.2" fill="#6A2430" opacity="0.61"/><circle cx="891.2" cy="1191.4" r="1.5" fill="#2A0A10" opacity="0.65"/><circle cx="885.8" cy="1191.7" r="1.0" fill="#26080E" opacity="0.72"/><circle cx="885.8" cy="1193.5" r="1.2" fill="#481620" opacity="0.58"/><circle cx="892.5" cy="1189.6" r="1.9" fill="#2A0A10" opacity="0.71"/><circle cx="895.1" cy="1194.2" r="1.2" fill="#2A0A10" opacity="0.66"/><circle cx="888.0" cy="1190.7" r="1.0" fill="#26080E" opacity="0.65"/><circle cx="888.9" cy="1190.8" r="1.5" fill="#2C080E" opacity="0.47"/><circle cx="884.0" cy="1189.2" r="1.3" fill="#5E1C26" opacity="0.54"/><circle cx="890.3" cy="1185.5" r="1.1" fill="#2C080E" opacity="0.48"/><circle cx="893.4" cy="1186.7" r="1.9" fill="#481620" opacity="0.50"/><circle cx="893.7" cy="1194.3" r="1.0" fill="#C9A8A4" opacity="0.79"/><circle cx="891.5" cy="1190.6" r="0.6" fill="#C9A8A4" opacity="0.73"/></g></g>
<clipPath id="tc28"><circle cx="270.6" cy="1265.1" r="16.1"/><circle cx="276.3" cy="1268.4" r="16.0"/><circle cx="281.7" cy="1272.2" r="17.4"/><circle cx="287.7" cy="1274.9" r="17.4"/><circle cx="299.0" cy="1274.2" r="5.8"/><circle cx="287.4" cy="1259.4" r="6.8"/><circle cx="269.0" cy="1278.3" r="6.6"/><circle cx="269.2" cy="1280.0" r="5.3"/></clipPath>
<ellipse cx="275.1" cy="1272.5" rx="25.7" ry="16.7" fill="#FAF4DC" opacity="0.95" filter="url(#hb3)" transform="rotate(30 275.1 1272.5)"/>
<ellipse cx="282.1" cy="1268.5" rx="24.0" ry="15.8" fill="#D3C9DA" opacity="0.9" filter="url(#hb3)" transform="rotate(30 282.1 1268.5)"/>
<g filter="url(#hb1)"><g clip-path="url(#tc28)"><rect x="251.5" y="1246.0" width="55.3" height="48.0" fill="url(#hg)"/><circle cx="282.8" cy="1271.0" r="4.0" fill="#340E14" opacity="0.70"/><circle cx="293.3" cy="1287.0" r="4.2" fill="#3A1218" opacity="0.67"/><circle cx="281.9" cy="1271.9" r="2.7" fill="#340E14" opacity="0.80"/><circle cx="278.5" cy="1273.6" r="2.3" fill="#2C080E" opacity="0.46"/><circle cx="272.2" cy="1261.0" r="1.5" fill="#8C4046" opacity="0.77"/><circle cx="275.4" cy="1273.1" r="2.3" fill="#481620" opacity="0.57"/><circle cx="285.5" cy="1280.4" r="4.5" fill="#26080E" opacity="0.78"/><circle cx="288.6" cy="1268.2" r="1.9" fill="#2A0A10" opacity="0.41"/><circle cx="280.8" cy="1264.5" r="3.6" fill="#481620" opacity="0.78"/><circle cx="274.0" cy="1267.9" r="4.4" fill="#3A1218" opacity="0.64"/><circle cx="270.3" cy="1257.9" r="3.6" fill="#93574F" opacity="0.75"/><circle cx="285.2" cy="1282.6" r="4.0" fill="#6A2430" opacity="0.46"/><circle cx="284.0" cy="1264.0" r="0.7" fill="#340E14" opacity="0.70"/><circle cx="287.3" cy="1261.1" r="0.7" fill="#5E1C26" opacity="0.40"/><circle cx="288.0" cy="1278.3" r="4.6" fill="#2C080E" opacity="0.71"/><circle cx="272.5" cy="1268.4" r="2.0" fill="#93574F" opacity="0.49"/><circle cx="290.5" cy="1284.8" r="4.4" fill="#481620" opacity="0.78"/><circle cx="288.1" cy="1275.1" r="2.8" fill="#7E323A" opacity="0.48"/><circle cx="269.6" cy="1265.3" r="3.9" fill="#7E323A" opacity="0.59"/><circle cx="273.5" cy="1268.5" r="1.7" fill="#340E14" opacity="0.68"/><circle cx="268.4" cy="1260.6" r="1.1" fill="#93574F" opacity="0.54"/><circle cx="282.0" cy="1274.2" r="2.9" fill="#340E14" opacity="0.60"/><circle cx="296.0" cy="1273.5" r="1.3" fill="#2A0A10" opacity="0.61"/><circle cx="283.0" cy="1264.0" r="4.3" fill="#8A2630" opacity="0.73"/><circle cx="285.1" cy="1274.0" r="4.6" fill="#2A0A10" opacity="0.50"/><circle cx="275.7" cy="1264.6" r="3.4" fill="#340E14" opacity="0.75"/><circle cx="281.5" cy="1269.7" r="1.8" fill="#8A2630" opacity="0.73"/><circle cx="274.4" cy="1278.2" r="3.7" fill="#481620" opacity="0.79"/><circle cx="279.0" cy="1284.1" r="3.2" fill="#3A1218" opacity="0.61"/><circle cx="276.9" cy="1272.7" r="3.3" fill="#481620" opacity="0.53"/><circle cx="286.2" cy="1270.5" r="2.3" fill="#26080E" opacity="0.52"/><circle cx="285.2" cy="1274.0" r="1.0" fill="#8A2630" opacity="0.70"/><circle cx="278.1" cy="1275.5" r="3.4" fill="#5E1C26" opacity="0.80"/><circle cx="282.6" cy="1286.8" r="4.4" fill="#2A0A10" opacity="0.45"/><circle cx="293.1" cy="1277.4" r="3.4" fill="#5E1C26" opacity="0.62"/><circle cx="283.5" cy="1258.3" r="1.2" fill="#3A1218" opacity="0.46"/><circle cx="289.0" cy="1266.5" r="2.7" fill="#3A1218" opacity="0.48"/><circle cx="282.1" cy="1264.1" r="3.1" fill="#340E14" opacity="0.42"/><circle cx="278.3" cy="1272.5" r="2.4" fill="#7E323A" opacity="0.72"/><circle cx="274.1" cy="1275.2" r="3.4" fill="#26080E" opacity="0.46"/><circle cx="275.6" cy="1267.8" r="3.3" fill="#26080E" opacity="0.47"/><circle cx="275.9" cy="1254.6" r="3.7" fill="#26080E" opacity="0.76"/><circle cx="287.3" cy="1271.5" r="1.5" fill="#93574F" opacity="0.65"/><circle cx="272.9" cy="1257.8" r="2.5" fill="#5E1C26" opacity="0.44"/><circle cx="274.3" cy="1259.1" r="2.6" fill="#481620" opacity="0.61"/><circle cx="285.4" cy="1256.6" r="1.9" fill="#6A2430" opacity="0.79"/><circle cx="293.2" cy="1280.2" r="3.6" fill="#8A2630" opacity="0.70"/><circle cx="283.2" cy="1275.6" r="1.9" fill="#93574F" opacity="0.46"/><circle cx="269.8" cy="1279.0" r="2.4" fill="#26080E" opacity="0.44"/><circle cx="263.8" cy="1267.4" r="1.7" fill="#340E14" opacity="0.52"/><circle cx="272.4" cy="1255.0" r="1.5" fill="#2A0A10" opacity="0.66"/><circle cx="292.7" cy="1274.1" r="2.8" fill="#481620" opacity="0.72"/><circle cx="273.5" cy="1267.3" r="2.0" fill="#7E323A" opacity="0.41"/><circle cx="278.9" cy="1278.1" r="2.9" fill="#7E323A" opacity="0.74"/><circle cx="288.2" cy="1273.8" r="3.7" fill="#8C4046" opacity="0.46"/><circle cx="279.8" cy="1271.0" r="1.6" fill="#6A2430" opacity="0.45"/><circle cx="274.8" cy="1266.9" r="4.3" fill="#26080E" opacity="0.73"/><circle cx="266.0" cy="1269.6" r="4.0" fill="#8C4046" opacity="0.71"/><circle cx="270.6" cy="1265.1" r="3.2" fill="#7E323A" opacity="0.59"/><circle cx="274.3" cy="1267.7" r="3.2" fill="#26080E" opacity="0.63"/><circle cx="269.3" cy="1263.6" r="0.7" fill="#7E323A" opacity="0.57"/><circle cx="290.9" cy="1271.3" r="4.1" fill="#6A2430" opacity="0.49"/><circle cx="270.5" cy="1265.5" r="2.8" fill="#481620" opacity="0.43"/><circle cx="285.4" cy="1279.9" r="2.3" fill="#8C4046" opacity="0.71"/><circle cx="270.7" cy="1270.6" r="1.1" fill="#7E323A" opacity="0.51"/><circle cx="286.2" cy="1275.8" r="1.7" fill="#2A0A10" opacity="0.53"/><circle cx="278.6" cy="1266.0" r="3.2" fill="#7E323A" opacity="0.43"/><circle cx="290.8" cy="1275.8" r="0.6" fill="#C9A8A4" opacity="0.57"/><circle cx="293.2" cy="1273.4" r="0.5" fill="#C9A8A4" opacity="0.70"/><circle cx="277.8" cy="1281.6" r="0.6" fill="#C9A8A4" opacity="0.70"/><circle cx="294.8" cy="1265.1" r="1.0" fill="#C9A8A4" opacity="0.78"/><circle cx="269.0" cy="1264.4" r="0.5" fill="#C9A8A4" opacity="0.60"/><circle cx="283.4" cy="1271.5" r="0.6" fill="#C9A8A4" opacity="0.79"/><circle cx="281.4" cy="1272.9" r="1.0" fill="#C9A8A4" opacity="0.56"/></g></g>
<clipPath id="tc29"><circle cx="387.1" cy="1262.5" r="14.6"/><circle cx="392.7" cy="1264.1" r="14.3"/><circle cx="396.0" cy="1269.5" r="15.5"/><circle cx="401.6" cy="1271.2" r="15.2"/><circle cx="392.8" cy="1253.4" r="6.0"/><circle cx="376.9" cy="1269.3" r="4.7"/><circle cx="389.3" cy="1253.0" r="5.6"/><circle cx="385.2" cy="1252.7" r="5.3"/></clipPath>
<ellipse cx="390.4" cy="1269.3" rx="22.5" ry="14.8" fill="#FAF4DC" opacity="0.95" filter="url(#hb3)" transform="rotate(31 390.4 1269.3)"/>
<ellipse cx="397.4" cy="1265.3" rx="20.9" ry="14.0" fill="#D3C9DA" opacity="0.9" filter="url(#hb3)" transform="rotate(31 397.4 1265.3)"/>
<g filter="url(#hb1)"><g clip-path="url(#tc29)"><rect x="370.0" y="1245.4" width="48.7" height="42.9" fill="url(#hg)"/><circle cx="402.7" cy="1265.1" r="4.1" fill="#2A0A10" opacity="0.55"/><circle cx="394.9" cy="1264.4" r="2.4" fill="#3A1218" opacity="0.71"/><circle cx="394.4" cy="1256.9" r="3.6" fill="#6A2430" opacity="0.46"/><circle cx="397.7" cy="1272.3" r="1.8" fill="#2A0A10" opacity="0.63"/><circle cx="390.3" cy="1276.9" r="1.2" fill="#93574F" opacity="0.40"/><circle cx="397.1" cy="1267.1" r="0.8" fill="#8A2630" opacity="0.76"/><circle cx="387.6" cy="1269.3" r="1.1" fill="#7E323A" opacity="0.52"/><circle cx="381.7" cy="1258.6" r="3.7" fill="#5E1C26" opacity="0.49"/><circle cx="395.9" cy="1266.0" r="2.5" fill="#481620" opacity="0.76"/><circle cx="405.9" cy="1272.2" r="2.1" fill="#26080E" opacity="0.58"/><circle cx="394.1" cy="1264.3" r="1.4" fill="#3A1218" opacity="0.50"/><circle cx="397.0" cy="1265.3" r="4.0" fill="#6A2430" opacity="0.70"/><circle cx="390.4" cy="1263.0" r="2.1" fill="#5E1C26" opacity="0.80"/><circle cx="397.4" cy="1268.7" r="1.6" fill="#2A0A10" opacity="0.42"/><circle cx="403.3" cy="1272.2" r="1.5" fill="#26080E" opacity="0.61"/><circle cx="378.1" cy="1266.2" r="1.2" fill="#8C4046" opacity="0.69"/><circle cx="386.3" cy="1261.9" r="3.7" fill="#3A1218" opacity="0.64"/><circle cx="407.7" cy="1265.3" r="1.3" fill="#7E323A" opacity="0.80"/><circle cx="404.3" cy="1280.5" r="4.1" fill="#2C080E" opacity="0.78"/><circle cx="380.4" cy="1253.7" r="1.6" fill="#2C080E" opacity="0.51"/><circle cx="392.9" cy="1271.4" r="3.9" fill="#2A0A10" opacity="0.58"/><circle cx="392.7" cy="1270.2" r="1.6" fill="#3A1218" opacity="0.79"/><circle cx="394.3" cy="1263.6" r="1.5" fill="#8C4046" opacity="0.78"/><circle cx="397.3" cy="1261.3" r="3.2" fill="#3A1218" opacity="0.65"/><circle cx="398.1" cy="1265.0" r="1.7" fill="#340E14" opacity="0.73"/><circle cx="384.5" cy="1278.6" r="2.9" fill="#2A0A10" opacity="0.65"/><circle cx="387.4" cy="1261.7" r="3.1" fill="#2C080E" opacity="0.45"/><circle cx="392.8" cy="1264.6" r="1.8" fill="#7E323A" opacity="0.53"/><circle cx="409.3" cy="1266.6" r="3.8" fill="#2C080E" opacity="0.50"/><circle cx="414.9" cy="1267.3" r="3.1" fill="#2A0A10" opacity="0.61"/><circle cx="393.7" cy="1255.6" r="3.1" fill="#93574F" opacity="0.49"/><circle cx="391.0" cy="1258.6" r="3.5" fill="#8C4046" opacity="0.60"/><circle cx="405.8" cy="1264.8" r="1.8" fill="#2C080E" opacity="0.41"/><circle cx="394.2" cy="1265.9" r="1.0" fill="#3A1218" opacity="0.79"/><circle cx="402.0" cy="1271.3" r="2.1" fill="#26080E" opacity="0.75"/><circle cx="386.2" cy="1261.3" r="2.7" fill="#8A2630" opacity="0.76"/><circle cx="389.1" cy="1275.2" r="1.2" fill="#93574F" opacity="0.49"/><circle cx="376.5" cy="1255.8" r="2.1" fill="#7E323A" opacity="0.48"/><circle cx="387.4" cy="1266.9" r="0.8" fill="#3A1218" opacity="0.64"/><circle cx="404.4" cy="1275.7" r="2.4" fill="#8C4046" opacity="0.47"/><circle cx="396.6" cy="1268.5" r="1.7" fill="#93574F" opacity="0.75"/><circle cx="391.0" cy="1253.3" r="3.9" fill="#8C4046" opacity="0.72"/><circle cx="404.5" cy="1266.5" r="2.5" fill="#5E1C26" opacity="0.52"/><circle cx="385.5" cy="1276.8" r="3.9" fill="#26080E" opacity="0.45"/><circle cx="407.3" cy="1258.2" r="1.6" fill="#2C080E" opacity="0.66"/><circle cx="392.7" cy="1279.9" r="3.3" fill="#26080E" opacity="0.52"/><circle cx="403.5" cy="1267.7" r="1.2" fill="#93574F" opacity="0.66"/><circle cx="384.4" cy="1253.6" r="1.9" fill="#2A0A10" opacity="0.41"/><circle cx="388.6" cy="1271.9" r="4.0" fill="#481620" opacity="0.77"/><circle cx="392.7" cy="1250.6" r="2.0" fill="#2C080E" opacity="0.76"/><circle cx="393.1" cy="1266.6" r="2.3" fill="#3A1218" opacity="0.75"/><circle cx="400.0" cy="1257.6" r="1.7" fill="#93574F" opacity="0.49"/><circle cx="385.3" cy="1254.7" r="1.6" fill="#93574F" opacity="0.73"/><circle cx="396.5" cy="1269.1" r="1.0" fill="#C9A8A4" opacity="0.58"/><circle cx="388.2" cy="1258.9" r="0.8" fill="#C9A8A4" opacity="0.53"/><circle cx="386.4" cy="1268.6" r="0.5" fill="#C9A8A4" opacity="0.79"/><circle cx="395.5" cy="1269.9" r="0.8" fill="#C9A8A4" opacity="0.55"/><circle cx="396.0" cy="1269.3" r="0.7" fill="#C9A8A4" opacity="0.72"/><circle cx="398.5" cy="1260.5" r="1.0" fill="#C9A8A4" opacity="0.74"/></g></g>
<clipPath id="tc30"><circle cx="503.6" cy="1260.6" r="12.1"/><circle cx="511.3" cy="1263.1" r="12.1"/><circle cx="517.5" cy="1268.8" r="12.0"/><circle cx="525.1" cy="1271.4" r="12.9"/><circle cx="513.0" cy="1272.0" r="6.1"/><circle cx="520.5" cy="1261.9" r="5.8"/><circle cx="522.1" cy="1260.6" r="5.2"/><circle cx="528.7" cy="1261.6" r="5.1"/></clipPath>
<ellipse cx="510.4" cy="1268.5" rx="23.7" ry="12.3" fill="#FAF4DC" opacity="0.95" filter="url(#hb3)" transform="rotate(27 510.4 1268.5)"/>
<ellipse cx="517.4" cy="1264.5" rx="22.4" ry="11.7" fill="#D3C9DA" opacity="0.9" filter="url(#hb3)" transform="rotate(27 517.4 1264.5)"/>
<g filter="url(#hb1)"><g clip-path="url(#tc30)"><rect x="489.0" y="1246.0" width="50.7" height="40.0" fill="url(#hg)"/><circle cx="508.4" cy="1255.8" r="3.0" fill="#93574F" opacity="0.49"/><circle cx="527.1" cy="1263.1" r="2.7" fill="#93574F" opacity="0.53"/><circle cx="503.2" cy="1260.6" r="1.9" fill="#481620" opacity="0.72"/><circle cx="512.0" cy="1263.0" r="0.8" fill="#2C080E" opacity="0.42"/><circle cx="527.8" cy="1272.7" r="3.2" fill="#8C4046" opacity="0.73"/><circle cx="522.0" cy="1271.7" r="0.9" fill="#5E1C26" opacity="0.42"/><circle cx="521.9" cy="1266.5" r="2.2" fill="#26080E" opacity="0.65"/><circle cx="512.9" cy="1253.8" r="2.6" fill="#2A0A10" opacity="0.71"/><circle cx="496.9" cy="1266.9" r="2.3" fill="#2A0A10" opacity="0.69"/><circle cx="501.8" cy="1264.3" r="2.8" fill="#2A0A10" opacity="0.66"/><circle cx="534.5" cy="1264.0" r="1.7" fill="#2A0A10" opacity="0.45"/><circle cx="512.8" cy="1259.4" r="2.4" fill="#481620" opacity="0.43"/><circle cx="503.1" cy="1261.4" r="1.1" fill="#3A1218" opacity="0.79"/><circle cx="525.1" cy="1263.7" r="1.7" fill="#7E323A" opacity="0.48"/><circle cx="525.9" cy="1274.4" r="1.5" fill="#8A2630" opacity="0.42"/><circle cx="511.9" cy="1262.7" r="1.4" fill="#7E323A" opacity="0.80"/><circle cx="508.4" cy="1260.0" r="1.4" fill="#3A1218" opacity="0.68"/><circle cx="527.2" cy="1262.2" r="3.4" fill="#481620" opacity="0.50"/><circle cx="503.4" cy="1261.1" r="0.8" fill="#481620" opacity="0.43"/><circle cx="528.8" cy="1275.1" r="2.7" fill="#481620" opacity="0.58"/><circle cx="510.9" cy="1273.1" r="1.2" fill="#340E14" opacity="0.60"/><circle cx="502.1" cy="1269.3" r="1.3" fill="#2C080E" opacity="0.80"/><circle cx="502.3" cy="1254.6" r="2.5" fill="#3A1218" opacity="0.62"/><circle cx="519.4" cy="1276.5" r="1.4" fill="#481620" opacity="0.75"/><circle cx="520.6" cy="1269.1" r="1.0" fill="#2C080E" opacity="0.65"/><circle cx="504.0" cy="1262.8" r="3.5" fill="#340E14" opacity="0.54"/><circle cx="515.6" cy="1272.8" r="1.7" fill="#481620" opacity="0.49"/><circle cx="516.3" cy="1266.6" r="2.6" fill="#8C4046" opacity="0.60"/><circle cx="503.4" cy="1256.6" r="3.4" fill="#8C4046" opacity="0.80"/><circle cx="500.9" cy="1261.1" r="2.1" fill="#3A1218" opacity="0.69"/><circle cx="506.1" cy="1267.1" r="2.5" fill="#2C080E" opacity="0.63"/><circle cx="523.3" cy="1278.5" r="3.0" fill="#2C080E" opacity="0.62"/><circle cx="530.6" cy="1273.0" r="1.5" fill="#481620" opacity="0.67"/><circle cx="506.3" cy="1270.7" r="1.5" fill="#3A1218" opacity="0.45"/><circle cx="513.8" cy="1260.2" r="1.1" fill="#2A0A10" opacity="0.79"/><circle cx="513.6" cy="1259.8" r="2.7" fill="#3A1218" opacity="0.58"/><circle cx="499.6" cy="1263.3" r="2.9" fill="#7E323A" opacity="0.43"/><circle cx="512.3" cy="1266.1" r="2.7" fill="#7E323A" opacity="0.59"/><circle cx="518.8" cy="1267.5" r="2.5" fill="#26080E" opacity="0.61"/><circle cx="517.3" cy="1260.3" r="3.3" fill="#481620" opacity="0.60"/><circle cx="509.3" cy="1272.5" r="0.9" fill="#2A0A10" opacity="0.42"/><circle cx="519.8" cy="1271.7" r="3.4" fill="#6A2430" opacity="0.65"/><circle cx="520.6" cy="1282.6" r="0.8" fill="#6A2430" opacity="0.49"/><circle cx="511.7" cy="1255.6" r="3.3" fill="#481620" opacity="0.65"/><circle cx="508.7" cy="1264.9" r="1.4" fill="#26080E" opacity="0.78"/><circle cx="526.0" cy="1266.9" r="1.3" fill="#8C4046" opacity="0.41"/><circle cx="509.9" cy="1255.7" r="1.4" fill="#2C080E" opacity="0.61"/><circle cx="525.9" cy="1270.4" r="1.6" fill="#340E14" opacity="0.59"/><circle cx="503.3" cy="1260.6" r="1.7" fill="#8A2630" opacity="0.72"/><circle cx="525.0" cy="1266.7" r="0.9" fill="#C9A8A4" opacity="0.71"/><circle cx="518.2" cy="1259.2" r="0.8" fill="#C9A8A4" opacity="0.80"/><circle cx="511.4" cy="1262.9" r="0.6" fill="#C9A8A4" opacity="0.68"/><circle cx="499.1" cy="1263.3" r="0.7" fill="#C9A8A4" opacity="0.66"/><circle cx="517.2" cy="1267.9" r="0.9" fill="#C9A8A4" opacity="0.50"/></g></g>
<clipPath id="tc31"><circle cx="611.7" cy="1259.5" r="9.1"/><circle cx="617.2" cy="1261.9" r="8.7"/><circle cx="622.4" cy="1264.7" r="8.9"/><circle cx="628.1" cy="1266.5" r="9.6"/><circle cx="633.4" cy="1269.1" r="9.6"/><circle cx="638.8" cy="1271.8" r="9.2"/><circle cx="634.8" cy="1261.2" r="3.0"/><circle cx="610.4" cy="1254.3" r="4.0"/><circle cx="624.0" cy="1272.9" r="4.0"/><circle cx="610.3" cy="1261.5" r="3.6"/></clipPath>
<ellipse cx="621.2" cy="1268.2" rx="23.4" ry="9.0" fill="#FAF4DC" opacity="0.95" filter="url(#hb3)" transform="rotate(24 621.2 1268.2)"/>
<ellipse cx="628.2" cy="1264.2" rx="22.5" ry="8.6" fill="#D3C9DA" opacity="0.9" filter="url(#hb3)" transform="rotate(24 628.2 1264.2)"/>
<g filter="url(#hb1)"><g clip-path="url(#tc31)"><rect x="600.5" y="1248.3" width="49.5" height="34.7" fill="url(#hg)"/><circle cx="611.2" cy="1263.0" r="1.6" fill="#5E1C26" opacity="0.74"/><circle cx="637.6" cy="1275.8" r="1.5" fill="#93574F" opacity="0.55"/><circle cx="617.5" cy="1262.8" r="0.7" fill="#8C4046" opacity="0.60"/><circle cx="630.8" cy="1277.8" r="1.6" fill="#340E14" opacity="0.56"/><circle cx="637.9" cy="1264.4" r="2.0" fill="#93574F" opacity="0.60"/><circle cx="627.9" cy="1267.5" r="1.9" fill="#6A2430" opacity="0.74"/><circle cx="606.1" cy="1257.2" r="1.7" fill="#2A0A10" opacity="0.50"/><circle cx="620.6" cy="1261.1" r="2.2" fill="#340E14" opacity="0.63"/><circle cx="608.9" cy="1265.2" r="2.3" fill="#8A2630" opacity="0.63"/><circle cx="620.3" cy="1263.8" r="0.8" fill="#8A2630" opacity="0.57"/><circle cx="613.8" cy="1259.8" r="0.8" fill="#2A0A10" opacity="0.72"/><circle cx="630.0" cy="1275.1" r="1.2" fill="#3A1218" opacity="0.40"/><circle cx="612.4" cy="1264.0" r="2.7" fill="#8C4046" opacity="0.51"/><circle cx="609.9" cy="1263.6" r="1.0" fill="#340E14" opacity="0.66"/><circle cx="619.5" cy="1258.6" r="1.0" fill="#93574F" opacity="0.57"/><circle cx="641.2" cy="1268.0" r="1.6" fill="#93574F" opacity="0.46"/><circle cx="629.5" cy="1264.9" r="2.0" fill="#6A2430" opacity="0.54"/><circle cx="634.3" cy="1269.0" r="2.4" fill="#3A1218" opacity="0.61"/><circle cx="636.6" cy="1274.7" r="1.2" fill="#93574F" opacity="0.48"/><circle cx="639.7" cy="1274.1" r="0.7" fill="#8C4046" opacity="0.61"/><circle cx="638.1" cy="1276.8" r="1.2" fill="#8A2630" opacity="0.59"/><circle cx="628.8" cy="1267.8" r="1.8" fill="#6A2430" opacity="0.61"/><circle cx="611.0" cy="1257.1" r="2.5" fill="#6A2430" opacity="0.52"/><circle cx="624.1" cy="1264.8" r="1.6" fill="#2A0A10" opacity="0.46"/><circle cx="635.0" cy="1270.5" r="0.8" fill="#6A2430" opacity="0.48"/><circle cx="627.3" cy="1259.1" r="0.9" fill="#7E323A" opacity="0.71"/><circle cx="623.1" cy="1260.6" r="0.7" fill="#2A0A10" opacity="0.53"/><circle cx="615.4" cy="1257.6" r="2.0" fill="#2C080E" opacity="0.79"/><circle cx="616.7" cy="1266.9" r="1.8" fill="#8C4046" opacity="0.70"/><circle cx="632.7" cy="1269.1" r="1.1" fill="#5E1C26" opacity="0.72"/><circle cx="611.8" cy="1266.8" r="2.6" fill="#2A0A10" opacity="0.48"/><circle cx="629.5" cy="1266.7" r="2.4" fill="#6A2430" opacity="0.48"/><circle cx="633.3" cy="1268.7" r="1.7" fill="#481620" opacity="0.71"/><circle cx="642.2" cy="1270.6" r="2.5" fill="#340E14" opacity="0.54"/><circle cx="624.2" cy="1258.7" r="2.0" fill="#8C4046" opacity="0.72"/><circle cx="616.3" cy="1264.3" r="2.7" fill="#8A2630" opacity="0.65"/><circle cx="628.1" cy="1266.5" r="1.5" fill="#3A1218" opacity="0.64"/><circle cx="632.6" cy="1264.3" r="1.2" fill="#93574F" opacity="0.47"/><circle cx="622.5" cy="1265.4" r="1.1" fill="#C9A8A4" opacity="0.73"/><circle cx="639.6" cy="1272.0" r="0.7" fill="#C9A8A4" opacity="0.63"/><circle cx="617.3" cy="1258.7" r="0.7" fill="#C9A8A4" opacity="0.51"/><circle cx="621.6" cy="1270.6" r="0.9" fill="#C9A8A4" opacity="0.61"/></g></g>
<clipPath id="tc32"><circle cx="708.2" cy="1267.2" r="9.0"/><circle cx="712.6" cy="1268.8" r="9.2"/><circle cx="716.2" cy="1272.1" r="8.9"/><circle cx="721.0" cy="1272.8" r="9.2"/><circle cx="712.4" cy="1261.3" r="3.7"/><circle cx="712.7" cy="1276.1" r="3.6"/><circle cx="706.9" cy="1260.8" r="3.3"/><circle cx="715.2" cy="1265.4" r="4.2"/></clipPath>
<ellipse cx="710.6" cy="1272.5" rx="16.0" ry="9.5" fill="#FAF4DC" opacity="0.95" filter="url(#hb3)" transform="rotate(24 710.6 1272.5)"/>
<ellipse cx="717.6" cy="1268.5" rx="15.0" ry="9.0" fill="#D3C9DA" opacity="0.9" filter="url(#hb3)" transform="rotate(24 717.6 1268.5)"/>
<g filter="url(#hb1)"><g clip-path="url(#tc32)"><rect x="696.5" y="1255.5" width="36.2" height="29.0" fill="url(#hg)"/><circle cx="703.6" cy="1273.8" r="1.9" fill="#8C4046" opacity="0.45"/><circle cx="712.7" cy="1268.2" r="1.4" fill="#6A2430" opacity="0.46"/><circle cx="717.1" cy="1270.1" r="1.3" fill="#93574F" opacity="0.53"/><circle cx="715.0" cy="1279.4" r="1.6" fill="#93574F" opacity="0.48"/><circle cx="715.0" cy="1278.4" r="1.0" fill="#2A0A10" opacity="0.77"/><circle cx="714.6" cy="1269.6" r="2.0" fill="#6A2430" opacity="0.69"/><circle cx="701.8" cy="1270.2" r="1.5" fill="#481620" opacity="0.70"/><circle cx="713.2" cy="1270.1" r="1.9" fill="#26080E" opacity="0.46"/><circle cx="722.6" cy="1268.5" r="2.8" fill="#2C080E" opacity="0.47"/><circle cx="706.0" cy="1266.3" r="2.1" fill="#2C080E" opacity="0.73"/><circle cx="701.3" cy="1263.1" r="2.7" fill="#2C080E" opacity="0.63"/><circle cx="712.8" cy="1268.5" r="2.9" fill="#26080E" opacity="0.51"/><circle cx="710.0" cy="1263.6" r="1.5" fill="#26080E" opacity="0.48"/><circle cx="721.2" cy="1272.8" r="1.2" fill="#340E14" opacity="0.57"/><circle cx="711.5" cy="1271.8" r="1.8" fill="#5E1C26" opacity="0.65"/><circle cx="711.5" cy="1264.8" r="2.1" fill="#2A0A10" opacity="0.42"/><circle cx="713.6" cy="1272.1" r="1.0" fill="#8A2630" opacity="0.46"/><circle cx="715.3" cy="1272.0" r="1.6" fill="#6A2430" opacity="0.61"/><circle cx="706.3" cy="1267.7" r="2.9" fill="#2A0A10" opacity="0.74"/><circle cx="727.3" cy="1269.2" r="1.7" fill="#481620" opacity="0.60"/><circle cx="720.0" cy="1270.4" r="2.7" fill="#5E1C26" opacity="0.49"/><circle cx="720.8" cy="1273.0" r="1.6" fill="#5E1C26" opacity="0.80"/><circle cx="707.3" cy="1268.5" r="1.9" fill="#7E323A" opacity="0.58"/><circle cx="721.4" cy="1275.4" r="0.9" fill="#340E14" opacity="0.65"/><circle cx="716.9" cy="1270.9" r="0.9" fill="#7E323A" opacity="0.65"/><circle cx="719.0" cy="1264.8" r="1.7" fill="#8C4046" opacity="0.49"/><circle cx="712.2" cy="1269.7" r="1.4" fill="#93574F" opacity="0.58"/><circle cx="716.5" cy="1272.4" r="2.7" fill="#6A2430" opacity="0.57"/><circle cx="713.8" cy="1271.3" r="2.2" fill="#8C4046" opacity="0.73"/><circle cx="710.1" cy="1269.5" r="0.8" fill="#C9A8A4" opacity="0.52"/><circle cx="716.4" cy="1274.7" r="0.8" fill="#C9A8A4" opacity="0.65"/><circle cx="707.3" cy="1272.1" r="0.9" fill="#C9A8A4" opacity="0.60"/></g></g>
<clipPath id="tc33"><circle cx="794.0" cy="1265.2" r="6.6"/><circle cx="797.2" cy="1267.2" r="5.9"/><circle cx="800.9" cy="1268.0" r="7.1"/><circle cx="804.6" cy="1268.4" r="7.2"/><circle cx="808.0" cy="1270.0" r="6.6"/><circle cx="812.4" cy="1267.7" r="2.3"/><circle cx="804.2" cy="1262.9" r="3.4"/><circle cx="802.7" cy="1262.6" r="2.7"/><circle cx="810.1" cy="1268.4" r="3.5"/></clipPath>
<ellipse cx="797.0" cy="1270.1" rx="13.6" ry="6.6" fill="#FAF4DC" opacity="0.95" filter="url(#hb3)" transform="rotate(19 797.0 1270.1)"/>
<ellipse cx="804.0" cy="1266.1" rx="12.9" ry="6.2" fill="#D3C9DA" opacity="0.9" filter="url(#hb3)" transform="rotate(19 804.0 1266.1)"/>
<g filter="url(#hb1)"><g clip-path="url(#tc33)"><rect x="785.3" y="1256.5" width="31.4" height="22.2" fill="url(#hg)"/><circle cx="807.0" cy="1266.4" r="1.0" fill="#2C080E" opacity="0.57"/><circle cx="805.2" cy="1268.4" r="1.0" fill="#2A0A10" opacity="0.50"/><circle cx="801.7" cy="1264.5" r="1.8" fill="#6A2430" opacity="0.69"/><circle cx="792.0" cy="1268.8" r="1.0" fill="#5E1C26" opacity="0.50"/><circle cx="802.0" cy="1268.0" r="1.5" fill="#2A0A10" opacity="0.72"/><circle cx="793.6" cy="1269.0" r="1.4" fill="#340E14" opacity="0.69"/><circle cx="793.8" cy="1269.6" r="1.2" fill="#6A2430" opacity="0.69"/><circle cx="805.2" cy="1271.0" r="2.0" fill="#6A2430" opacity="0.67"/><circle cx="794.1" cy="1266.9" r="1.4" fill="#2C080E" opacity="0.77"/><circle cx="806.4" cy="1263.3" r="1.4" fill="#8C4046" opacity="0.65"/><circle cx="793.4" cy="1265.3" r="1.3" fill="#8A2630" opacity="0.65"/><circle cx="804.6" cy="1268.5" r="1.8" fill="#93574F" opacity="0.44"/><circle cx="794.5" cy="1269.1" r="1.4" fill="#26080E" opacity="0.56"/><circle cx="809.8" cy="1272.1" r="2.1" fill="#3A1218" opacity="0.62"/><circle cx="805.2" cy="1267.3" r="0.9" fill="#7E323A" opacity="0.52"/><circle cx="804.0" cy="1270.2" r="1.1" fill="#340E14" opacity="0.50"/><circle cx="797.9" cy="1267.4" r="1.4" fill="#7E323A" opacity="0.60"/><circle cx="801.7" cy="1270.2" r="1.5" fill="#8A2630" opacity="0.71"/><circle cx="804.9" cy="1268.2" r="1.5" fill="#8A2630" opacity="0.54"/><circle cx="801.7" cy="1266.0" r="1.4" fill="#2A0A10" opacity="0.58"/><circle cx="793.4" cy="1264.3" r="1.0" fill="#C9A8A4" opacity="0.76"/><circle cx="799.7" cy="1267.9" r="0.8" fill="#C9A8A4" opacity="0.51"/><circle cx="795.1" cy="1266.9" r="0.8" fill="#C9A8A4" opacity="0.66"/></g></g>
<clipPath id="tc34"><circle cx="883.1" cy="1266.6" r="4.6"/><circle cx="886.0" cy="1267.8" r="4.0"/><circle cx="889.2" cy="1268.3" r="4.9"/><circle cx="892.2" cy="1269.2" r="4.6"/><circle cx="889.9" cy="1271.8" r="2.0"/><circle cx="885.5" cy="1269.8" r="1.9"/><circle cx="889.6" cy="1264.4" r="2.0"/><circle cx="894.5" cy="1271.4" r="2.3"/></clipPath>
<ellipse cx="883.6" cy="1270.4" rx="9.0" ry="4.5" fill="#FAF4DC" opacity="0.95" filter="url(#hb3)" transform="rotate(16 883.6 1270.4)"/>
<ellipse cx="890.6" cy="1266.4" rx="8.5" ry="4.2" fill="#D3C9DA" opacity="0.9" filter="url(#hb3)" transform="rotate(16 890.6 1266.4)"/>
<g filter="url(#hb1)"><g clip-path="url(#tc34)"><rect x="876.5" y="1260.0" width="22.3" height="15.8" fill="url(#hg)"/><circle cx="894.2" cy="1270.0" r="1.6" fill="#340E14" opacity="0.71"/><circle cx="885.3" cy="1268.0" r="0.8" fill="#7E323A" opacity="0.65"/><circle cx="891.4" cy="1269.9" r="1.4" fill="#7E323A" opacity="0.75"/><circle cx="887.5" cy="1267.9" r="1.3" fill="#3A1218" opacity="0.70"/><circle cx="882.7" cy="1265.2" r="0.9" fill="#3A1218" opacity="0.57"/><circle cx="893.6" cy="1268.0" r="0.7" fill="#2A0A10" opacity="0.68"/><circle cx="886.8" cy="1270.0" r="0.9" fill="#8C4046" opacity="0.53"/><circle cx="882.8" cy="1268.1" r="1.7" fill="#7E323A" opacity="0.40"/><circle cx="892.7" cy="1268.9" r="1.5" fill="#93574F" opacity="0.42"/><circle cx="893.4" cy="1269.0" r="0.8" fill="#340E14" opacity="0.47"/><circle cx="884.2" cy="1267.3" r="1.2" fill="#7E323A" opacity="0.48"/><circle cx="885.1" cy="1268.0" r="0.7" fill="#2C080E" opacity="0.41"/><circle cx="886.1" cy="1268.3" r="1.2" fill="#2C080E" opacity="0.45"/><circle cx="884.8" cy="1265.5" r="1.0" fill="#C9A8A4" opacity="0.78"/><circle cx="892.6" cy="1270.8" r="0.7" fill="#C9A8A4" opacity="0.66"/></g></g>
</g>
<g id="panelI">
<text x="971.80" y="902.00" font-size="50.50" font-weight="bold" text-anchor="start" fill="#000" transform="translate(971.80 0) scale(0.7200 1) translate(-971.80 0)" stroke="#000" stroke-width="1">I</text>
<line x1="1243.90" y1="1150.00" x2="1243.90" y2="1176.00" stroke="#FF0000" stroke-width="2.6" stroke-linecap="butt"/>
<line x1="1238.65" y1="1150.00" x2="1249.15" y2="1150.00" stroke="#FF0000" stroke-width="2.6" stroke-linecap="butt"/>
<line x1="1238.65" y1="1176.00" x2="1249.15" y2="1176.00" stroke="#FF0000" stroke-width="2.6" stroke-linecap="butt"/>
<line x1="1281.40" y1="1130.00" x2="1281.40" y2="1174.00" stroke="#FF0000" stroke-width="2.6" stroke-linecap="butt"/>
<line x1="1276.15" y1="1130.00" x2="1286.65" y2="1130.00" stroke="#FF0000" stroke-width="2.6" stroke-linecap="butt"/>
<line x1="1276.15" y1="1174.00" x2="1286.65" y2="1174.00" stroke="#FF0000" stroke-width="2.6" stroke-linecap="butt"/>
<line x1="1318.90" y1="1137.00" x2="1318.90" y2="1171.00" stroke="#FF0000" stroke-width="2.6" stroke-linecap="butt"/>
<line x1="1313.65" y1="1137.00" x2="1324.15" y2="1137.00" stroke="#FF0000" stroke-width="2.6" stroke-linecap="butt"/>
<line x1="1313.65" y1="1171.00" x2="1324.15" y2="1171.00" stroke="#FF0000" stroke-width="2.6" stroke-linecap="butt"/>
<line x1="1356.40" y1="1083.60" x2="1356.40" y2="1170.00" stroke="#FF0000" stroke-width="2.6" stroke-linecap="butt"/>
<line x1="1351.15" y1="1083.60" x2="1361.65" y2="1083.60" stroke="#FF0000" stroke-width="2.6" stroke-linecap="butt"/>
<line x1="1351.15" y1="1170.00" x2="1361.65" y2="1170.00" stroke="#FF0000" stroke-width="2.6" stroke-linecap="butt"/>
<line x1="1393.90" y1="1016.00" x2="1393.90" y2="1151.00" stroke="#FF0000" stroke-width="2.6" stroke-linecap="butt"/>
<line x1="1388.65" y1="1016.00" x2="1399.15" y2="1016.00" stroke="#FF0000" stroke-width="2.6" stroke-linecap="butt"/>
<line x1="1388.65" y1="1151.00" x2="1399.15" y2="1151.00" stroke="#FF0000" stroke-width="2.6" stroke-linecap="butt"/>
<line x1="1431.40" y1="972.00" x2="1431.40" y2="1116.00" stroke="#FF0000" stroke-width="2.6" stroke-linecap="butt"/>
<line x1="1426.15" y1="972.00" x2="1436.65" y2="972.00" stroke="#FF0000" stroke-width="2.6" stroke-linecap="butt"/>
<line x1="1426.15" y1="1116.00" x2="1436.65" y2="1116.00" stroke="#FF0000" stroke-width="2.6" stroke-linecap="butt"/>
<line x1="1468.90" y1="994.00" x2="1468.90" y2="1130.00" stroke="#FF0000" stroke-width="2.6" stroke-linecap="butt"/>
<line x1="1463.65" y1="994.00" x2="1474.15" y2="994.00" stroke="#FF0000" stroke-width="2.6" stroke-linecap="butt"/>
<line x1="1463.65" y1="1130.00" x2="1474.15" y2="1130.00" stroke="#FF0000" stroke-width="2.6" stroke-linecap="butt"/>
<line x1="1243.90" y1="1152.00" x2="1243.90" y2="1176.00" stroke="#FF0000" stroke-width="2.6" stroke-linecap="butt"/>
<line x1="1238.65" y1="1152.00" x2="1249.15" y2="1152.00" stroke="#FF0000" stroke-width="2.6" stroke-linecap="butt"/>
<line x1="1238.65" y1="1176.00" x2="1249.15" y2="1176.00" stroke="#FF0000" stroke-width="2.6" stroke-linecap="butt"/>
<line x1="1281.40" y1="1135.00" x2="1281.40" y2="1172.00" stroke="#FF0000" stroke-width="2.6" stroke-linecap="butt"/>
<line x1="1276.15" y1="1135.00" x2="1286.65" y2="1135.00" stroke="#FF0000" stroke-width="2.6" stroke-linecap="butt"/>
<line x1="1276.15" y1="1172.00" x2="1286.65" y2="1172.00" stroke="#FF0000" stroke-width="2.6" stroke-linecap="butt"/>
<line x1="1318.90" y1="1138.00" x2="1318.90" y2="1168.00" stroke="#FF0000" stroke-width="2.6" stroke-linecap="butt"/>
<line x1="1313.65" y1="1138.00" x2="1324.15" y2="1138.00" stroke="#FF0000" stroke-width="2.6" stroke-linecap="butt"/>
<line x1="1313.65" y1="1168.00" x2="1324.15" y2="1168.00" stroke="#FF0000" stroke-width="2.6" stroke-linecap="butt"/>
<line x1="1356.40" y1="1088.00" x2="1356.40" y2="1176.00" stroke="#FF0000" stroke-width="2.6" stroke-linecap="butt"/>
<line x1="1351.15" y1="1088.00" x2="1361.65" y2="1088.00" stroke="#FF0000" stroke-width="2.6" stroke-linecap="butt"/>
<line x1="1351.15" y1="1176.00" x2="1361.65" y2="1176.00" stroke="#FF0000" stroke-width="2.6" stroke-linecap="butt"/>
<line x1="1393.90" y1="1052.00" x2="1393.90" y2="1150.00" stroke="#FF0000" stroke-width="2.6" stroke-linecap="butt"/>
<line x1="1388.65" y1="1052.00" x2="1399.15" y2="1052.00" stroke="#FF0000" stroke-width="2.6" stroke-linecap="butt"/>
<line x1="1388.65" y1="1150.00" x2="1399.15" y2="1150.00" stroke="#FF0000" stroke-width="2.6" stroke-linecap="butt"/>
<line x1="1431.40" y1="1023.00" x2="1431.40" y2="1136.00" stroke="#FF0000" stroke-width="2.6" stroke-linecap="butt"/>
<line x1="1426.15" y1="1023.00" x2="1436.65" y2="1023.00" stroke="#FF0000" stroke-width="2.6" stroke-linecap="butt"/>
<line x1="1426.15" y1="1136.00" x2="1436.65" y2="1136.00" stroke="#FF0000" stroke-width="2.6" stroke-linecap="butt"/>
<line x1="1468.90" y1="1002.00" x2="1468.90" y2="1089.00" stroke="#FF0000" stroke-width="2.6" stroke-linecap="butt"/>
<line x1="1463.65" y1="1002.00" x2="1474.15" y2="1002.00" stroke="#FF0000" stroke-width="2.6" stroke-linecap="butt"/>
<line x1="1463.65" y1="1089.00" x2="1474.15" y2="1089.00" stroke="#FF0000" stroke-width="2.6" stroke-linecap="butt"/>
<line x1="1243.90" y1="1146.00" x2="1243.90" y2="1170.00" stroke="#0000C8" stroke-width="2.6" stroke-linecap="butt"/>
<line x1="1238.65" y1="1146.00" x2="1249.15" y2="1146.00" stroke="#0000C8" stroke-width="2.6" stroke-linecap="butt"/>
<line x1="1238.65" y1="1170.00" x2="1249.15" y2="1170.00" stroke="#0000C8" stroke-width="2.6" stroke-linecap="butt"/>
<line x1="1281.40" y1="1149.00" x2="1281.40" y2="1176.00" stroke="#0000C8" stroke-width="2.6" stroke-linecap="butt"/>
<line x1="1276.15" y1="1149.00" x2="1286.65" y2="1149.00" stroke="#0000C8" stroke-width="2.6" stroke-linecap="butt"/>
<line x1="1276.15" y1="1176.00" x2="1286.65" y2="1176.00" stroke="#0000C8" stroke-width="2.6" stroke-linecap="butt"/>
<line x1="1318.90" y1="1141.00" x2="1318.90" y2="1176.00" stroke="#0000C8" stroke-width="2.6" stroke-linecap="butt"/>
<line x1="1313.65" y1="1141.00" x2="1324.15" y2="1141.00" stroke="#0000C8" stroke-width="2.6" stroke-linecap="butt"/>
<line x1="1313.65" y1="1176.00" x2="1324.15" y2="1176.00" stroke="#0000C8" stroke-width="2.6" stroke-linecap="butt"/>
<line x1="1356.40" y1="1090.00" x2="1356.40" y2="1177.00" stroke="#0000C8" stroke-width="2.6" stroke-linecap="butt"/>
<line x1="1351.15" y1="1090.00" x2="1361.65" y2="1090.00" stroke="#0000C8" stroke-width="2.6" stroke-linecap="butt"/>
<line x1="1351.15" y1="1177.00" x2="1361.65" y2="1177.00" stroke="#0000C8" stroke-width="2.6" stroke-linecap="butt"/>
<line x1="1393.90" y1="1033.00" x2="1393.90" y2="1158.00" stroke="#0000C8" stroke-width="2.6" stroke-linecap="butt"/>
<line x1="1388.65" y1="1033.00" x2="1399.15" y2="1033.00" stroke="#0000C8" stroke-width="2.6" stroke-linecap="butt"/>
<line x1="1388.65" y1="1158.00" x2="1399.15" y2="1158.00" stroke="#0000C8" stroke-width="2.6" stroke-linecap="butt"/>
<line x1="1431.40" y1="1019.60" x2="1431.40" y2="1159.70" stroke="#0000C8" stroke-width="2.6" stroke-linecap="butt"/>
<line x1="1426.15" y1="1019.60" x2="1436.65" y2="1019.60" stroke="#0000C8" stroke-width="2.6" stroke-linecap="butt"/>
<line x1="1426.15" y1="1159.70" x2="1436.65" y2="1159.70" stroke="#0000C8" stroke-width="2.6" stroke-linecap="butt"/>
<line x1="1468.90" y1="922.00" x2="1468.90" y2="1136.00" stroke="#0000C8" stroke-width="2.6" stroke-linecap="butt"/>
<line x1="1463.65" y1="922.00" x2="1474.15" y2="922.00" stroke="#0000C8" stroke-width="2.6" stroke-linecap="butt"/>
<line x1="1463.65" y1="1136.00" x2="1474.15" y2="1136.00" stroke="#0000C8" stroke-width="2.6" stroke-linecap="butt"/>
<line x1="1243.90" y1="1150.00" x2="1243.90" y2="1172.00" stroke="#0000C8" stroke-width="2.6" stroke-linecap="butt"/>
<line x1="1238.65" y1="1150.00" x2="1249.15" y2="1150.00" stroke="#0000C8" stroke-width="2.6" stroke-linecap="butt"/>
<line x1="1238.65" y1="1172.00" x2="1249.15" y2="1172.00" stroke="#0000C8" stroke-width="2.6" stroke-linecap="butt"/>
<line x1="1281.40" y1="1147.00" x2="1281.40" y2="1174.00" stroke="#0000C8" stroke-width="2.6" stroke-linecap="butt"/>
<line x1="1276.15" y1="1147.00" x2="1286.65" y2="1147.00" stroke="#0000C8" stroke-width="2.6" stroke-linecap="butt"/>
<line x1="1276.15" y1="1174.00" x2="1286.65" y2="1174.00" stroke="#0000C8" stroke-width="2.6" stroke-linecap="butt"/>
<line x1="1318.90" y1="1134.00" x2="1318.90" y2="1172.00" stroke="#0000C8" stroke-width="2.6" stroke-linecap="butt"/>
<line x1="1313.65" y1="1134.00" x2="1324.15" y2="1134.00" stroke="#0000C8" stroke-width="2.6" stroke-linecap="butt"/>
<line x1="1313.65" y1="1172.00" x2="1324.15" y2="1172.00" stroke="#0000C8" stroke-width="2.6" stroke-linecap="butt"/>
<line x1="1356.40" y1="1118.00" x2="1356.40" y2="1177.00" stroke="#0000C8" stroke-width="2.6" stroke-linecap="butt"/>
<line x1="1351.15" y1="1118.00" x2="1361.65" y2="1118.00" stroke="#0000C8" stroke-width="2.6" stroke-linecap="butt"/>
<line x1="1351.15" y1="1177.00" x2="1361.65" y2="1177.00" stroke="#0000C8" stroke-width="2.6" stroke-linecap="butt"/>
<line x1="1393.90" y1="1050.00" x2="1393.90" y2="1158.00" stroke="#0000C8" stroke-width="2.6" stroke-linecap="butt"/>
<line x1="1388.65" y1="1050.00" x2="1399.15" y2="1050.00" stroke="#0000C8" stroke-width="2.6" stroke-linecap="butt"/>
<line x1="1388.65" y1="1158.00" x2="1399.15" y2="1158.00" stroke="#0000C8" stroke-width="2.6" stroke-linecap="butt"/>
<line x1="1431.40" y1="1030.00" x2="1431.40" y2="1138.60" stroke="#0000C8" stroke-width="2.6" stroke-linecap="butt"/>
<line x1="1426.15" y1="1030.00" x2="1436.65" y2="1030.00" stroke="#0000C8" stroke-width="2.6" stroke-linecap="butt"/>
<line x1="1426.15" y1="1138.60" x2="1436.65" y2="1138.60" stroke="#0000C8" stroke-width="2.6" stroke-linecap="butt"/>
<line x1="1468.90" y1="929.00" x2="1468.90" y2="1128.00" stroke="#0000C8" stroke-width="2.6" stroke-linecap="butt"/>
<line x1="1463.65" y1="929.00" x2="1474.15" y2="929.00" stroke="#0000C8" stroke-width="2.6" stroke-linecap="butt"/>
<line x1="1463.65" y1="1128.00" x2="1474.15" y2="1128.00" stroke="#0000C8" stroke-width="2.6" stroke-linecap="butt"/>
<polyline points="1131.40,1177.00 1168.90,1177.00 1206.40,1176.00 1243.90,1163.00 1281.40,1151.00 1318.90,1153.00 1356.40,1125.00 1393.90,1080.00 1431.40,1043.00 1468.90,997.00" fill="none" stroke="#FF0000" stroke-width="2.9" stroke-linejoin="round"/>
<polygon points="1131.40,1182.75 1137.40,1172.25 1125.40,1172.25" fill="#FF0000"/>
<polygon points="1168.90,1182.75 1174.90,1172.25 1162.90,1172.25" fill="#FF0000"/>
<polygon points="1206.40,1181.75 1212.40,1171.25 1200.40,1171.25" fill="#FF0000"/>
<polygon points="1243.90,1168.75 1249.90,1158.25 1237.90,1158.25" fill="#FF0000"/>
<polygon points="1281.40,1156.75 1287.40,1146.25 1275.40,1146.25" fill="#FF0000"/>
<polygon points="1318.90,1158.75 1324.90,1148.25 1312.90,1148.25" fill="#FF0000"/>
<polygon points="1356.40,1130.75 1362.40,1120.25 1350.40,1120.25" fill="#FF0000"/>
<polygon points="1393.90,1085.75 1399.90,1075.25 1387.90,1075.25" fill="#FF0000"/>
<polygon points="1431.40,1048.75 1437.40,1038.25 1425.40,1038.25" fill="#FF0000"/>
<polygon points="1468.90,1002.75 1474.90,992.25 1462.90,992.25" fill="#FF0000"/>
<polyline points="1131.40,1177.00 1168.90,1177.00 1206.40,1176.00 1243.90,1164.00 1281.40,1152.00 1318.90,1152.00 1356.40,1148.00 1393.90,1098.00 1431.40,1080.00 1468.90,1065.00" fill="none" stroke="#FF0000" stroke-width="2.9" stroke-linejoin="round"/>
<polygon points="1131.40,1170.75 1137.65,1177.00 1131.40,1183.25 1125.15,1177.00" fill="#FF0000"/>
<polygon points="1168.90,1170.75 1175.15,1177.00 1168.90,1183.25 1162.65,1177.00" fill="#FF0000"/>
<polygon points="1206.40,1169.75 1212.65,1176.00 1206.40,1182.25 1200.15,1176.00" fill="#FF0000"/>
<polygon points="1243.90,1157.75 1250.15,1164.00 1243.90,1170.25 1237.65,1164.00" fill="#FF0000"/>
<polygon points="1281.40,1145.75 1287.65,1152.00 1281.40,1158.25 1275.15,1152.00" fill="#FF0000"/>
<polygon points="1318.90,1145.75 1325.15,1152.00 1318.90,1158.25 1312.65,1152.00" fill="#FF0000"/>
<polygon points="1356.40,1141.75 1362.65,1148.00 1356.40,1154.25 1350.15,1148.00" fill="#FF0000"/>
<polygon points="1393.90,1091.75 1400.15,1098.00 1393.90,1104.25 1387.65,1098.00" fill="#FF0000"/>
<polygon points="1431.40,1073.75 1437.65,1080.00 1431.40,1086.25 1425.15,1080.00" fill="#FF0000"/>
<polygon points="1468.90,1058.75 1475.15,1065.00 1468.90,1071.25 1462.65,1065.00" fill="#FF0000"/>
<polyline points="1131.40,1177.00 1168.90,1177.00 1206.40,1173.00 1243.90,1158.00 1281.40,1163.00 1318.90,1158.00 1356.40,1138.00 1393.90,1096.00 1431.40,1096.00 1468.90,1029.00" fill="none" stroke="#0000C8" stroke-width="2.9" stroke-linejoin="round"/>
<polygon points="1131.40,1171.25 1137.40,1181.75 1125.40,1181.75" fill="#0000C8"/>
<polygon points="1168.90,1171.25 1174.90,1181.75 1162.90,1181.75" fill="#0000C8"/>
<polygon points="1206.40,1167.25 1212.40,1177.75 1200.40,1177.75" fill="#0000C8"/>
<polygon points="1243.90,1152.25 1249.90,1162.75 1237.90,1162.75" fill="#0000C8"/>
<polygon points="1281.40,1157.25 1287.40,1167.75 1275.40,1167.75" fill="#0000C8"/>
<polygon points="1318.90,1152.25 1324.90,1162.75 1312.90,1162.75" fill="#0000C8"/>
<polygon points="1356.40,1132.25 1362.40,1142.75 1350.40,1142.75" fill="#0000C8"/>
<polygon points="1393.90,1090.25 1399.90,1100.75 1387.90,1100.75" fill="#0000C8"/>
<polygon points="1431.40,1090.25 1437.40,1100.75 1425.40,1100.75" fill="#0000C8"/>
<polygon points="1468.90,1023.25 1474.90,1033.75 1462.90,1033.75" fill="#0000C8"/>
<polyline points="1131.40,1177.00 1168.90,1177.00 1206.40,1175.00 1243.90,1160.00 1281.40,1160.00 1318.90,1153.00 1356.40,1145.00 1393.90,1102.00 1431.40,1079.00 1468.90,1029.00" fill="none" stroke="#0000C8" stroke-width="2.9" stroke-linejoin="round"/>
<rect x="1126.40" y="1172.00" width="10.00" height="10.00" fill="#0000C8"/>
<rect x="1163.90" y="1172.00" width="10.00" height="10.00" fill="#0000C8"/>
<rect x="1201.40" y="1170.00" width="10.00" height="10.00" fill="#0000C8"/>
<rect x="1238.90" y="1155.00" width="10.00" height="10.00" fill="#0000C8"/>
<rect x="1276.40" y="1155.00" width="10.00" height="10.00" fill="#0000C8"/>
<rect x="1313.90" y="1148.00" width="10.00" height="10.00" fill="#0000C8"/>
<rect x="1351.40" y="1140.00" width="10.00" height="10.00" fill="#0000C8"/>
<rect x="1388.90" y="1097.00" width="10.00" height="10.00" fill="#0000C8"/>
<rect x="1426.40" y="1074.00" width="10.00" height="10.00" fill="#0000C8"/>
<rect x="1463.90" y="1024.00" width="10.00" height="10.00" fill="#0000C8"/>
<line x1="1206.40" y1="1157.00" x2="1206.40" y2="1177.00" stroke="#000" stroke-width="2.6" stroke-linecap="butt"/>
<line x1="1201.15" y1="1157.00" x2="1211.65" y2="1157.00" stroke="#000" stroke-width="2.6" stroke-linecap="butt"/>
<line x1="1201.15" y1="1177.00" x2="1211.65" y2="1177.00" stroke="#000" stroke-width="2.6" stroke-linecap="butt"/>
<line x1="1243.90" y1="1119.90" x2="1243.90" y2="1159.70" stroke="#000" stroke-width="2.6" stroke-linecap="butt"/>
<line x1="1238.65" y1="1119.90" x2="1249.15" y2="1119.90" stroke="#000" stroke-width="2.6" stroke-linecap="butt"/>
<line x1="1238.65" y1="1159.70" x2="1249.15" y2="1159.70" stroke="#000" stroke-width="2.6" stroke-linecap="butt"/>
<line x1="1281.40" y1="1096.40" x2="1281.40" y2="1130.00" stroke="#000" stroke-width="2.6" stroke-linecap="butt"/>
<line x1="1276.15" y1="1096.40" x2="1286.65" y2="1096.40" stroke="#000" stroke-width="2.6" stroke-linecap="butt"/>
<line x1="1276.15" y1="1130.00" x2="1286.65" y2="1130.00" stroke="#000" stroke-width="2.6" stroke-linecap="butt"/>
<line x1="1318.90" y1="1086.40" x2="1318.90" y2="1131.00" stroke="#000" stroke-width="2.6" stroke-linecap="butt"/>
<line x1="1313.65" y1="1086.40" x2="1324.15" y2="1086.40" stroke="#000" stroke-width="2.6" stroke-linecap="butt"/>
<line x1="1313.65" y1="1131.00" x2="1324.15" y2="1131.00" stroke="#000" stroke-width="2.6" stroke-linecap="butt"/>
<line x1="1356.40" y1="993.40" x2="1356.40" y2="1109.40" stroke="#000" stroke-width="2.6" stroke-linecap="butt"/>
<line x1="1351.15" y1="993.40" x2="1361.65" y2="993.40" stroke="#000" stroke-width="2.6" stroke-linecap="butt"/>
<line x1="1351.15" y1="1109.40" x2="1361.65" y2="1109.40" stroke="#000" stroke-width="2.6" stroke-linecap="butt"/>
<line x1="1393.90" y1="968.00" x2="1393.90" y2="1074.00" stroke="#000" stroke-width="2.6" stroke-linecap="butt"/>
<line x1="1388.65" y1="968.00" x2="1399.15" y2="968.00" stroke="#000" stroke-width="2.6" stroke-linecap="butt"/>
<line x1="1388.65" y1="1074.00" x2="1399.15" y2="1074.00" stroke="#000" stroke-width="2.6" stroke-linecap="butt"/>
<line x1="1431.40" y1="934.00" x2="1431.40" y2="1022.00" stroke="#000" stroke-width="2.6" stroke-linecap="butt"/>
<line x1="1426.15" y1="934.00" x2="1436.65" y2="934.00" stroke="#000" stroke-width="2.6" stroke-linecap="butt"/>
<line x1="1426.15" y1="1022.00" x2="1436.65" y2="1022.00" stroke="#000" stroke-width="2.6" stroke-linecap="butt"/>
<line x1="1468.90" y1="919.00" x2="1468.90" y2="1001.00" stroke="#000" stroke-width="2.6" stroke-linecap="butt"/>
<line x1="1463.65" y1="919.00" x2="1474.15" y2="919.00" stroke="#000" stroke-width="2.6" stroke-linecap="butt"/>
<line x1="1463.65" y1="1001.00" x2="1474.15" y2="1001.00" stroke="#000" stroke-width="2.6" stroke-linecap="butt"/>
<polyline points="1131.40,1177.00 1168.90,1176.00 1206.40,1167.50 1243.90,1139.30 1281.40,1113.00 1318.90,1109.00 1356.40,1051.60 1393.90,1021.40 1431.40,978.00 1468.90,952.00" fill="none" stroke="#000" stroke-width="3" stroke-linejoin="round"/>
<circle cx="1131.40" cy="1177.00" r="5.40" fill="#000"/>
<circle cx="1168.90" cy="1176.00" r="5.40" fill="#000"/>
<circle cx="1206.40" cy="1167.50" r="5.40" fill="#000"/>
<circle cx="1243.90" cy="1139.30" r="5.40" fill="#000"/>
<circle cx="1281.40" cy="1113.00" r="5.40" fill="#000"/>
<circle cx="1318.90" cy="1109.00" r="5.40" fill="#000"/>
<circle cx="1356.40" cy="1051.60" r="5.40" fill="#000"/>
<circle cx="1393.90" cy="1021.40" r="5.40" fill="#000"/>
<circle cx="1431.40" cy="978.00" r="5.40" fill="#000"/>
<circle cx="1468.90" cy="952.00" r="5.40" fill="#000"/>
<line x1="1468.90" y1="1001.00" x2="1468.90" y2="1136.00" stroke="#0000C8" stroke-width="2.8" stroke-linecap="butt"/>
<rect x="1464.10" y="1024.20" width="9.60" height="9.60" fill="#0000C8"/>
<line x1="1431.40" y1="1022.00" x2="1431.40" y2="1159.00" stroke="#0000C8" stroke-width="2.8" stroke-linecap="butt"/>
<rect x="1426.60" y="1074.20" width="9.60" height="9.60" fill="#0000C8"/>
<polygon points="1431.40,1090.48 1437.16,1100.56 1425.64,1100.56" fill="#0000C8"/>
<line x1="1393.90" y1="1074.00" x2="1393.90" y2="1158.00" stroke="#0000C8" stroke-width="2.8" stroke-linecap="butt"/>
<rect x="1389.10" y="1097.20" width="9.60" height="9.60" fill="#0000C8"/>
<line x1="1106.40" y1="917.10" x2="1106.40" y2="1178.80" stroke="#000" stroke-width="2.6" stroke-linecap="butt"/>
<line x1="1099.00" y1="1177.50" x2="1496.50" y2="1177.50" stroke="#000" stroke-width="2.6" stroke-linecap="butt"/>
<line x1="1099.00" y1="918.40" x2="1106.40" y2="918.40" stroke="#000" stroke-width="2.6" stroke-linecap="butt"/>
<text x="1094.80" y="926.80" font-size="19.60" font-weight="bold" text-anchor="end" fill="#000" stroke="#000" stroke-width="0.35">1500</text>
<line x1="1099.00" y1="1005.00" x2="1106.40" y2="1005.00" stroke="#000" stroke-width="2.6" stroke-linecap="butt"/>
<text x="1094.80" y="1013.40" font-size="19.60" font-weight="bold" text-anchor="end" fill="#000" stroke="#000" stroke-width="0.35">1000</text>
<line x1="1099.00" y1="1091.60" x2="1106.40" y2="1091.60" stroke="#000" stroke-width="2.6" stroke-linecap="butt"/>
<text x="1094.80" y="1100.00" font-size="19.60" font-weight="bold" text-anchor="end" fill="#000" stroke="#000" stroke-width="0.35">500</text>
<line x1="1099.00" y1="1177.50" x2="1106.40" y2="1177.50" stroke="#000" stroke-width="2.6" stroke-linecap="butt"/>
<text x="1094.80" y="1185.90" font-size="19.60" font-weight="bold" text-anchor="end" fill="#000" stroke="#000" stroke-width="0.35">0</text>
<line x1="1131.40" y1="1177.50" x2="1131.40" y2="1185.00" stroke="#000" stroke-width="2.6" stroke-linecap="butt"/>
<text x="1131.40" y="1207.20" font-size="18.60" font-weight="bold" text-anchor="middle" fill="#000" stroke="#000" stroke-width="0.35">10</text>
<line x1="1168.90" y1="1177.50" x2="1168.90" y2="1185.00" stroke="#000" stroke-width="2.6" stroke-linecap="butt"/>
<text x="1168.90" y="1207.20" font-size="18.60" font-weight="bold" text-anchor="middle" fill="#000" stroke="#000" stroke-width="0.35">13</text>
<line x1="1206.40" y1="1177.50" x2="1206.40" y2="1185.00" stroke="#000" stroke-width="2.6" stroke-linecap="butt"/>
<text x="1206.40" y="1207.20" font-size="18.60" font-weight="bold" text-anchor="middle" fill="#000" stroke="#000" stroke-width="0.35">15</text>
<line x1="1243.90" y1="1177.50" x2="1243.90" y2="1185.00" stroke="#000" stroke-width="2.6" stroke-linecap="butt"/>
<text x="1243.90" y="1207.20" font-size="18.60" font-weight="bold" text-anchor="middle" fill="#000" stroke="#000" stroke-width="0.35">17</text>
<line x1="1281.40" y1="1177.50" x2="1281.40" y2="1185.00" stroke="#000" stroke-width="2.6" stroke-linecap="butt"/>
<text x="1281.40" y="1207.20" font-size="18.60" font-weight="bold" text-anchor="middle" fill="#000" stroke="#000" stroke-width="0.35">20</text>
<line x1="1318.90" y1="1177.50" x2="1318.90" y2="1185.00" stroke="#000" stroke-width="2.6" stroke-linecap="butt"/>
<text x="1318.90" y="1207.20" font-size="18.60" font-weight="bold" text-anchor="middle" fill="#000" stroke="#000" stroke-width="0.35">22</text>
<line x1="1356.40" y1="1177.50" x2="1356.40" y2="1185.00" stroke="#000" stroke-width="2.6" stroke-linecap="butt"/>
<text x="1356.40" y="1207.20" font-size="18.60" font-weight="bold" text-anchor="middle" fill="#000" stroke="#000" stroke-width="0.35">24</text>
<line x1="1393.90" y1="1177.50" x2="1393.90" y2="1185.00" stroke="#000" stroke-width="2.6" stroke-linecap="butt"/>
<text x="1393.90" y="1207.20" font-size="18.60" font-weight="bold" text-anchor="middle" fill="#000" stroke="#000" stroke-width="0.35">27</text>
<line x1="1431.40" y1="1177.50" x2="1431.40" y2="1185.00" stroke="#000" stroke-width="2.6" stroke-linecap="butt"/>
<text x="1431.40" y="1207.20" font-size="18.60" font-weight="bold" text-anchor="middle" fill="#000" stroke="#000" stroke-width="0.35">29</text>
<line x1="1468.90" y1="1177.50" x2="1468.90" y2="1185.00" stroke="#000" stroke-width="2.6" stroke-linecap="butt"/>
<text x="1468.90" y="1207.20" font-size="18.60" font-weight="bold" text-anchor="middle" fill="#000" stroke="#000" stroke-width="0.35">31</text>
<text x="1296.50" y="1236.40" font-size="24.00" font-weight="bold" text-anchor="middle" fill="#000" stroke="#000" stroke-width="0.25">Days</text>
<text transform="translate(1039.80 1048.50) rotate(-90) scale(0.9709 1)" font-size="22.45" font-weight="bold" text-anchor="middle" stroke="#000" stroke-width="0.35">Tumor Volume(mm<tspan dy="-10.5" font-size="15.50">3</tspan><tspan dy="10.5">)</tspan></text>
<line x1="1125.00" y1="934.60" x2="1153.00" y2="934.60" stroke="#000" stroke-width="2.4" stroke-linecap="butt"/>
<circle cx="1139.00" cy="934.60" r="5.20" fill="#000"/>
<text x="1168.60" y="941.60" font-size="19.70" font-weight="bold" text-anchor="start" fill="#000" transform="translate(1168.60 0) scale(0.9850 1) translate(-1168.60 0)" stroke="#000" stroke-width="0.25">HepG2(Scr)</text>
<line x1="1125.00" y1="969.40" x2="1153.00" y2="969.40" stroke="#0000C8" stroke-width="2.4" stroke-linecap="butt"/>
<polygon points="1139.00,963.42 1145.24,974.34 1132.76,974.34" fill="#0000C8"/>
<text x="1168.60" y="976.40" font-size="19.70" font-weight="bold" text-anchor="start" fill="#000" transform="translate(1168.60 0) scale(1.0100 1) translate(-1168.60 0)" stroke="#000" stroke-width="0.25">miR-23a KO 1</text>
<line x1="1125.00" y1="1004.00" x2="1153.00" y2="1004.00" stroke="#0000C8" stroke-width="2.4" stroke-linecap="butt"/>
<rect x="1133.80" y="998.80" width="10.40" height="10.40" fill="#0000C8"/>
<text x="1168.60" y="1011.00" font-size="19.70" font-weight="bold" text-anchor="start" fill="#000" transform="translate(1168.60 0) scale(1.0100 1) translate(-1168.60 0)" stroke="#000" stroke-width="0.25">miR-23a KO 2</text>
<line x1="1125.00" y1="1038.60" x2="1153.00" y2="1038.60" stroke="#FF0000" stroke-width="2.4" stroke-linecap="butt"/>
<polygon points="1139.00,1044.58 1145.24,1033.66 1132.76,1033.66" fill="#FF0000"/>
<text x="1168.60" y="1045.60" font-size="19.70" font-weight="bold" text-anchor="start" fill="#000" transform="translate(1168.60 0) scale(1.0100 1) translate(-1168.60 0)" stroke="#000" stroke-width="0.25">miR-27a KO 1</text>
<line x1="1125.00" y1="1073.60" x2="1153.00" y2="1073.60" stroke="#FF0000" stroke-width="2.4" stroke-linecap="butt"/>
<polygon points="1139.00,1067.10 1145.50,1073.60 1139.00,1080.10 1132.50,1073.60" fill="#FF0000"/>
<text x="1168.60" y="1080.60" font-size="19.70" font-weight="bold" text-anchor="start" fill="#000" transform="translate(1168.60 0) scale(1.0100 1) translate(-1168.60 0)" stroke="#000" stroke-width="0.25">miR-27a KO 2</text>
<path d="M1484.0 949.4 H1492.0 V1058.0 H1484.0" fill="none" stroke="#000" stroke-width="1.3"/>
<g transform="rotate(90 1502.40 1004.40)">
<text x="1502.55" y="1015.22" font-size="21.00" font-weight="normal" text-anchor="middle" fill="#000" stroke="#000" stroke-width="0.45" letter-spacing="0.3">***</text>
</g>
<path d="M1509.4 949.0 H1518.0 V1027.6 H1509.4" fill="none" stroke="#000" stroke-width="1.3"/>
<g transform="rotate(90 1526.40 989.40)">
<text x="1526.55" y="1000.22" font-size="21.00" font-weight="normal" text-anchor="middle" fill="#000" stroke="#000" stroke-width="0.45" letter-spacing="0.3">***</text>
</g>
<path d="M1534.4 949.6 H1542.8 V1028.0 H1534.4" fill="none" stroke="#000" stroke-width="1.3"/>
<g transform="rotate(90 1554.00 990.00)">
<text x="1554.15" y="1000.82" font-size="21.00" font-weight="normal" text-anchor="middle" fill="#000" stroke="#000" stroke-width="0.45" letter-spacing="0.3">***</text>
</g>
<path d="M1561.0 948.6 H1569.4 V995.4 H1561.0" fill="none" stroke="#000" stroke-width="1.3"/>
<g transform="rotate(90 1577.40 975.00)">
<text x="1577.55" y="985.82" font-size="21.00" font-weight="normal" text-anchor="middle" fill="#000" stroke="#000" stroke-width="0.45" letter-spacing="0.3">***</text>
</g>
</g>
<g id="panelJ">
<text x="1611.50" y="902.30" font-size="50.50" font-weight="bold" text-anchor="start" fill="#000" transform="translate(1611.50 0) scale(0.6200 1) translate(-1611.50 0)" stroke="#000" stroke-width="1">J</text>
<rect x="1690.65" y="982.90" width="29.10" height="159.90" fill="#fff" stroke="#000" stroke-width="2.6"/>
<rect x="1756.65" y="1060.00" width="29.10" height="82.80" fill="#fff" stroke="#000" stroke-width="2.6"/>
<rect x="1821.75" y="1073.70" width="29.10" height="69.10" fill="#fff" stroke="#000" stroke-width="2.6"/>
<rect x="1886.45" y="1070.70" width="29.10" height="72.10" fill="#fff" stroke="#000" stroke-width="2.6"/>
<rect x="1951.75" y="1084.00" width="29.10" height="58.80" fill="#fff" stroke="#000" stroke-width="2.6"/>
<line x1="1673.60" y1="899.50" x2="1673.60" y2="1144.10" stroke="#000" stroke-width="2.6" stroke-linecap="butt"/>
<line x1="1664.40" y1="1142.80" x2="2000.00" y2="1142.80" stroke="#000" stroke-width="2.6" stroke-linecap="butt"/>
<line x1="1664.40" y1="900.80" x2="1673.60" y2="900.80" stroke="#000" stroke-width="2.6" stroke-linecap="butt"/>
<text x="1661.80" y="908.20" font-size="18.70" font-weight="bold" text-anchor="end" fill="#000" stroke="#000" stroke-width="0.35">2.0</text>
<line x1="1664.40" y1="961.40" x2="1673.60" y2="961.40" stroke="#000" stroke-width="2.6" stroke-linecap="butt"/>
<text x="1661.80" y="968.80" font-size="18.70" font-weight="bold" text-anchor="end" fill="#000" stroke="#000" stroke-width="0.35">1.5</text>
<line x1="1664.40" y1="1022.00" x2="1673.60" y2="1022.00" stroke="#000" stroke-width="2.6" stroke-linecap="butt"/>
<text x="1661.80" y="1029.40" font-size="18.70" font-weight="bold" text-anchor="end" fill="#000" stroke="#000" stroke-width="0.35">1.0</text>
<line x1="1664.40" y1="1082.60" x2="1673.60" y2="1082.60" stroke="#000" stroke-width="2.6" stroke-linecap="butt"/>
<text x="1661.80" y="1090.00" font-size="18.70" font-weight="bold" text-anchor="end" fill="#000" stroke="#000" stroke-width="0.35">0.5</text>
<line x1="1664.40" y1="1142.80" x2="1673.60" y2="1142.80" stroke="#000" stroke-width="2.6" stroke-linecap="butt"/>
<text x="1661.80" y="1150.20" font-size="18.70" font-weight="bold" text-anchor="end" fill="#000" stroke="#000" stroke-width="0.35">0.0</text>
<line x1="1705.20" y1="1142.80" x2="1705.20" y2="1150.30" stroke="#000" stroke-width="2.6" stroke-linecap="butt"/>
<line x1="1771.20" y1="1142.80" x2="1771.20" y2="1150.30" stroke="#000" stroke-width="2.6" stroke-linecap="butt"/>
<line x1="1836.30" y1="1142.80" x2="1836.30" y2="1150.30" stroke="#000" stroke-width="2.6" stroke-linecap="butt"/>
<line x1="1901.00" y1="1142.80" x2="1901.00" y2="1150.30" stroke="#000" stroke-width="2.6" stroke-linecap="butt"/>
<line x1="1966.30" y1="1142.80" x2="1966.30" y2="1150.30" stroke="#000" stroke-width="2.6" stroke-linecap="butt"/>
<text x="1715.70" y="1166.00" font-size="19.60" font-weight="bold" text-anchor="end" fill="#000" transform="rotate(-45 1715.70 1166.00) translate(1715.70 0) scale(1.0200 1) translate(-1715.70 0)" stroke="#000" stroke-width="0.25">HepG2(Scr)</text>
<text x="1781.70" y="1166.00" font-size="19.60" font-weight="bold" text-anchor="end" fill="#000" transform="rotate(-45 1781.70 1166.00)" stroke="#000" stroke-width="0.25">miR-23a KO 1</text>
<text x="1846.80" y="1166.00" font-size="19.60" font-weight="bold" text-anchor="end" fill="#000" transform="rotate(-45 1846.80 1166.00)" stroke="#000" stroke-width="0.25">miR-23a KO 2</text>
<text x="1911.50" y="1166.00" font-size="19.60" font-weight="bold" text-anchor="end" fill="#000" transform="rotate(-45 1911.50 1166.00)" stroke="#000" stroke-width="0.25">miR-27a KO 1</text>
<text x="1976.80" y="1166.00" font-size="19.60" font-weight="bold" text-anchor="end" fill="#000" transform="rotate(-45 1976.80 1166.00)" stroke="#000" stroke-width="0.25">miR-27a KO 2</text>
<text x="1770.75" y="969.29" font-size="22.50" font-weight="normal" text-anchor="middle" fill="#000" stroke="#000" stroke-width="0.45" letter-spacing="0.3">*</text>
<line x1="1705.20" y1="970.00" x2="1705.20" y2="993.40" stroke="#000" stroke-width="2.2" stroke-linecap="butt"/>
<line x1="1697.45" y1="970.00" x2="1712.95" y2="970.00" stroke="#000" stroke-width="2.2" stroke-linecap="butt"/>
<line x1="1697.45" y1="993.40" x2="1712.95" y2="993.40" stroke="#000" stroke-width="2.2" stroke-linecap="butt"/>
<circle cx="1705.00" cy="961.40" r="5.00" fill="#000"/>
<circle cx="1705.00" cy="974.00" r="5.00" fill="#000"/>
<circle cx="1694.50" cy="985.50" r="5.00" fill="#000"/>
<circle cx="1699.80" cy="986.00" r="5.00" fill="#000"/>
<circle cx="1705.30" cy="985.50" r="5.00" fill="#000"/>
<circle cx="1711.00" cy="986.00" r="5.00" fill="#000"/>
<circle cx="1716.20" cy="985.50" r="5.00" fill="#000"/>
<circle cx="1705.00" cy="997.00" r="5.00" fill="#000"/>
<line x1="1771.20" y1="1005.70" x2="1771.20" y2="1110.00" stroke="#0000C8" stroke-width="2.2" stroke-linecap="butt"/>
<line x1="1763.45" y1="1005.70" x2="1778.95" y2="1005.70" stroke="#0000C8" stroke-width="2.2" stroke-linecap="butt"/>
<line x1="1763.45" y1="1110.00" x2="1778.95" y2="1110.00" stroke="#0000C8" stroke-width="2.2" stroke-linecap="butt"/>
<circle cx="1771.20" cy="973.30" r="5.00" fill="#0000C8"/>
<circle cx="1771.20" cy="1022.00" r="5.00" fill="#0000C8"/>
<circle cx="1771.20" cy="1034.00" r="5.00" fill="#0000C8"/>
<circle cx="1771.20" cy="1058.00" r="5.00" fill="#0000C8"/>
<circle cx="1771.20" cy="1094.50" r="5.00" fill="#0000C8"/>
<circle cx="1771.20" cy="1106.00" r="5.00" fill="#0000C8"/>
<circle cx="1771.20" cy="1118.70" r="5.00" fill="#0000C8"/>
<line x1="1836.30" y1="1024.00" x2="1836.30" y2="1120.00" stroke="#0000C8" stroke-width="2.2" stroke-linecap="butt"/>
<line x1="1828.55" y1="1024.00" x2="1844.05" y2="1024.00" stroke="#0000C8" stroke-width="2.2" stroke-linecap="butt"/>
<line x1="1828.55" y1="1120.00" x2="1844.05" y2="1120.00" stroke="#0000C8" stroke-width="2.2" stroke-linecap="butt"/>
<circle cx="1836.30" cy="1009.80" r="5.00" fill="#0000C8"/>
<circle cx="1836.30" cy="1022.00" r="5.00" fill="#0000C8"/>
<circle cx="1836.30" cy="1046.00" r="5.00" fill="#0000C8"/>
<circle cx="1836.30" cy="1070.00" r="5.00" fill="#0000C8"/>
<circle cx="1836.30" cy="1106.00" r="5.00" fill="#0000C8"/>
<circle cx="1836.30" cy="1118.70" r="5.00" fill="#0000C8"/>
<circle cx="1836.30" cy="1131.00" r="5.00" fill="#0000C8"/>
<line x1="1901.00" y1="1022.00" x2="1901.00" y2="1114.00" stroke="#FF0000" stroke-width="2.2" stroke-linecap="butt"/>
<line x1="1893.25" y1="1022.00" x2="1908.75" y2="1022.00" stroke="#FF0000" stroke-width="2.2" stroke-linecap="butt"/>
<line x1="1893.25" y1="1114.00" x2="1908.75" y2="1114.00" stroke="#FF0000" stroke-width="2.2" stroke-linecap="butt"/>
<circle cx="1901.00" cy="1009.80" r="5.00" fill="#FF0000"/>
<circle cx="1901.00" cy="1034.00" r="5.00" fill="#FF0000"/>
<circle cx="1890.00" cy="1046.00" r="5.00" fill="#FF0000"/>
<circle cx="1913.00" cy="1046.00" r="5.00" fill="#FF0000"/>
<circle cx="1901.00" cy="1094.50" r="5.00" fill="#FF0000"/>
<circle cx="1901.00" cy="1118.70" r="5.00" fill="#FF0000"/>
<circle cx="1901.00" cy="1131.00" r="5.00" fill="#FF0000"/>
<line x1="1966.30" y1="1035.60" x2="1966.30" y2="1129.00" stroke="#FF0000" stroke-width="2.2" stroke-linecap="butt"/>
<line x1="1958.55" y1="1035.60" x2="1974.05" y2="1035.60" stroke="#FF0000" stroke-width="2.2" stroke-linecap="butt"/>
<line x1="1958.55" y1="1129.00" x2="1974.05" y2="1129.00" stroke="#FF0000" stroke-width="2.2" stroke-linecap="butt"/>
<circle cx="1966.30" cy="1009.80" r="5.00" fill="#FF0000"/>
<circle cx="1966.30" cy="1046.00" r="5.00" fill="#FF0000"/>
<circle cx="1966.30" cy="1058.00" r="5.00" fill="#FF0000"/>
<circle cx="1966.30" cy="1082.60" r="5.00" fill="#FF0000"/>
<circle cx="1966.30" cy="1118.70" r="5.00" fill="#FF0000"/>
<circle cx="1955.00" cy="1131.00" r="5.00" fill="#FF0000"/>
<circle cx="1977.50" cy="1131.00" r="5.00" fill="#FF0000"/>
<text x="1836.45" y="1033.19" font-size="22.50" font-weight="normal" text-anchor="middle" fill="#000" stroke="#000" stroke-width="0.45" letter-spacing="0.3">*</text>
<text x="1900.15" y="1032.09" font-size="22.50" font-weight="normal" text-anchor="middle" fill="#000" stroke="#000" stroke-width="0.45" letter-spacing="0.3">*</text>
<text x="1836.45" y="1004.29" font-size="22.50" font-weight="normal" text-anchor="middle" fill="#000" stroke="#000" stroke-width="0.45" letter-spacing="0.3">**</text>
<text x="1900.75" y="1003.59" font-size="22.50" font-weight="normal" text-anchor="middle" fill="#000" stroke="#000" stroke-width="0.45" letter-spacing="0.3">**</text>
<text x="1966.85" y="1004.29" font-size="22.50" font-weight="normal" text-anchor="middle" fill="#000" stroke="#000" stroke-width="0.45" letter-spacing="0.3">**</text>
<text transform="translate(1623.20 1020.50) rotate(-90) scale(0.9709 1)" font-size="21.84" font-weight="bold" text-anchor="middle" stroke="#000" stroke-width="0.35">Tumor weight (g)</text>
</g>
</svg></body></html>
